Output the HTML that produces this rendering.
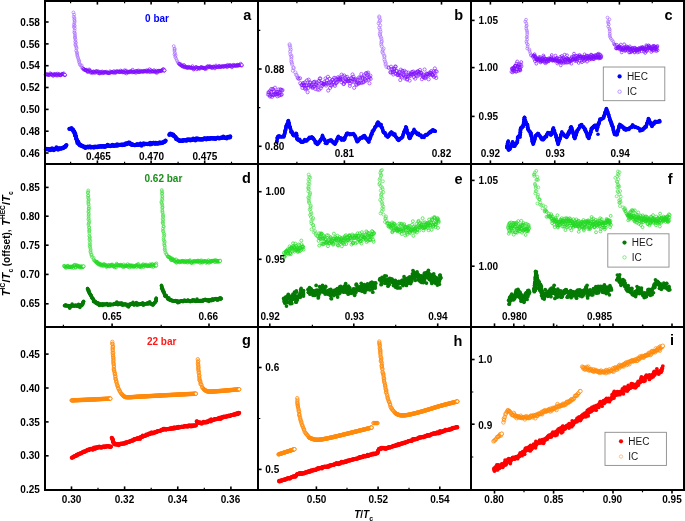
<!DOCTYPE html>
<html><head><meta charset="utf-8"><title>Figure</title>
<style>html,body{margin:0;padding:0;background:#fff;width:685px;height:521px;overflow:hidden}
svg{display:block;font-family:"Liberation Sans",sans-serif}</style></head>
<body><svg width="685" height="521" viewBox="0 0 685 521" font-family="Liberation Sans, sans-serif"><g fill="none" stroke="#7f0dff" stroke-width="0.7"><circle cx="45.6" cy="74.76" r="1.45"/><circle cx="46.36" cy="74.2" r="1.45"/><circle cx="46.87" cy="74.28" r="1.45"/><circle cx="47.38" cy="74.73" r="1.45"/><circle cx="47.89" cy="74.62" r="1.45"/><circle cx="48.39" cy="74.59" r="1.45"/><circle cx="48.9" cy="75.07" r="1.45"/><circle cx="49.66" cy="74.84" r="1.45"/><circle cx="50.17" cy="73.28" r="1.45"/><circle cx="50.68" cy="74.18" r="1.45"/><circle cx="51.19" cy="74.49" r="1.45"/><circle cx="51.7" cy="74.08" r="1.45"/><circle cx="52.21" cy="74.82" r="1.45"/><circle cx="52.97" cy="75.76" r="1.45"/><circle cx="53.48" cy="75.41" r="1.45"/><circle cx="53.98" cy="74.06" r="1.45"/><circle cx="54.49" cy="74.51" r="1.45"/><circle cx="55" cy="74.77" r="1.45"/><circle cx="55.5" cy="73.94" r="1.45"/><circle cx="56.25" cy="75.48" r="1.45"/><circle cx="56.75" cy="74.81" r="1.45"/><circle cx="57.25" cy="73.6" r="1.45"/><circle cx="57.75" cy="75.57" r="1.45"/><circle cx="58.25" cy="74.44" r="1.45"/><circle cx="59" cy="74.11" r="1.45"/><circle cx="59.5" cy="74.65" r="1.45"/><circle cx="60" cy="75.28" r="1.45"/><circle cx="60.5" cy="75.37" r="1.45"/><circle cx="61" cy="74.97" r="1.45"/><circle cx="61.75" cy="73.83" r="1.45"/><circle cx="62.25" cy="74.32" r="1.45"/><circle cx="62.75" cy="73.87" r="1.45"/><circle cx="63.25" cy="74.39" r="1.45"/><circle cx="63.75" cy="73.35" r="1.45"/><circle cx="64.5" cy="74.96" r="1.45"/><circle cx="65" cy="75.2" r="1.45"/></g><circle cx="65" cy="74.8" r="1.45" fill="#fff" stroke="#7f0dff" stroke-width="0.7"/><g fill="none" stroke="#a465ff" stroke-width="0.65"><circle cx="73.43" cy="12.44" r="1.45"/><circle cx="74.16" cy="14.58" r="1.45"/><circle cx="73.77" cy="16.67" r="1.45"/><circle cx="74.49" cy="18.07" r="1.45"/><circle cx="74.29" cy="19.77" r="1.45"/><circle cx="74.73" cy="21.16" r="1.45"/><circle cx="74.47" cy="22.8" r="1.45"/><circle cx="73.9" cy="24.65" r="1.45"/><circle cx="74.71" cy="25.77" r="1.45"/><circle cx="73.89" cy="27.09" r="1.45"/><circle cx="74.8" cy="28.38" r="1.45"/><circle cx="74.56" cy="30.57" r="1.45"/><circle cx="74.3" cy="32.34" r="1.45"/><circle cx="74.96" cy="33.44" r="1.45"/><circle cx="75" cy="35.33" r="1.45"/><circle cx="75.05" cy="36.89" r="1.45"/><circle cx="74.95" cy="38.1" r="1.45"/><circle cx="75.59" cy="39.71" r="1.45"/><circle cx="75.14" cy="41.55" r="1.45"/><circle cx="75.98" cy="42.7" r="1.45"/><circle cx="75.27" cy="44.36" r="1.45"/><circle cx="75.76" cy="45.61" r="1.45"/><circle cx="76.4" cy="47.09" r="1.45"/><circle cx="76.53" cy="48.51" r="1.45"/><circle cx="76.14" cy="50.7" r="1.45"/><circle cx="76.96" cy="52.25" r="1.45"/><circle cx="77.01" cy="53.53" r="1.45"/><circle cx="77.26" cy="55.06" r="1.45"/><circle cx="77.53" cy="56.56" r="1.45"/><circle cx="78.11" cy="58.02" r="1.45"/><circle cx="78.56" cy="59.78" r="1.45"/><circle cx="79.31" cy="61.07" r="1.45"/><circle cx="79.07" cy="62.39" r="1.45"/><circle cx="79.8" cy="64.24" r="1.45"/><circle cx="80.37" cy="65.32" r="1.45"/><circle cx="81.72" cy="65.41" r="1.45"/><circle cx="81.77" cy="67.43" r="1.45"/></g><g fill="none" stroke="#7f0dff" stroke-width="0.7"><circle cx="82.81" cy="68.3" r="1.45"/><circle cx="83.53" cy="69.34" r="1.45"/><circle cx="84.02" cy="68.97" r="1.45"/><circle cx="84.86" cy="70.1" r="1.45"/><circle cx="85.29" cy="70.01" r="1.45"/><circle cx="85.75" cy="70.24" r="1.45"/><circle cx="85.99" cy="70.03" r="1.45"/><circle cx="86.5" cy="69.74" r="1.45"/><circle cx="87.06" cy="71.4" r="1.45"/><circle cx="87.67" cy="71.95" r="1.45"/><circle cx="88.3" cy="70.84" r="1.45"/><circle cx="88.61" cy="71.62" r="1.45"/><circle cx="89.12" cy="69.49" r="1.45"/><circle cx="89.61" cy="70.54" r="1.45"/><circle cx="90.19" cy="70.68" r="1.45"/><circle cx="90.68" cy="72.67" r="1.45"/><circle cx="91.25" cy="72.06" r="1.45"/><circle cx="91.91" cy="72.12" r="1.45"/><circle cx="92.45" cy="73.13" r="1.45"/><circle cx="92.98" cy="71.9" r="1.45"/><circle cx="93.49" cy="71.33" r="1.45"/><circle cx="94" cy="71.97" r="1.45"/><circle cx="94.5" cy="72.67" r="1.45"/><circle cx="95.28" cy="72.65" r="1.45"/><circle cx="95.84" cy="71.16" r="1.45"/><circle cx="96.39" cy="71.55" r="1.45"/><circle cx="96.95" cy="71.2" r="1.45"/><circle cx="97.49" cy="72.76" r="1.45"/><circle cx="98.02" cy="71.58" r="1.45"/><circle cx="98.55" cy="71.44" r="1.45"/><circle cx="99.08" cy="73.35" r="1.45"/><circle cx="99.6" cy="73.33" r="1.45"/><circle cx="100.14" cy="72.12" r="1.45"/><circle cx="100.68" cy="73.22" r="1.45"/><circle cx="101.22" cy="71.81" r="1.45"/><circle cx="101.76" cy="72.51" r="1.45"/><circle cx="102.3" cy="71.51" r="1.45"/><circle cx="102.84" cy="73.26" r="1.45"/><circle cx="103.37" cy="72.09" r="1.45"/><circle cx="103.91" cy="72.92" r="1.45"/><circle cx="104.45" cy="72.28" r="1.45"/><circle cx="104.99" cy="72.01" r="1.45"/><circle cx="105.52" cy="71.91" r="1.45"/><circle cx="106.06" cy="72.75" r="1.45"/><circle cx="106.59" cy="71.74" r="1.45"/><circle cx="107.37" cy="72.73" r="1.45"/><circle cx="107.9" cy="73.07" r="1.45"/><circle cx="108.42" cy="72.86" r="1.45"/><circle cx="108.94" cy="73.25" r="1.45"/><circle cx="109.47" cy="72.73" r="1.45"/><circle cx="109.97" cy="71.35" r="1.45"/><circle cx="110.47" cy="72.84" r="1.45"/><circle cx="111.22" cy="72.07" r="1.45"/><circle cx="111.72" cy="72.05" r="1.45"/><circle cx="112.22" cy="72.22" r="1.45"/><circle cx="112.73" cy="72.08" r="1.45"/><circle cx="113.23" cy="72.74" r="1.45"/><circle cx="113.73" cy="71.15" r="1.45"/><circle cx="114.49" cy="72.77" r="1.45"/><circle cx="115" cy="71.58" r="1.45"/><circle cx="115.5" cy="72.55" r="1.45"/><circle cx="116.01" cy="72.55" r="1.45"/><circle cx="116.51" cy="71.15" r="1.45"/><circle cx="117.05" cy="71.51" r="1.45"/><circle cx="117.59" cy="71.55" r="1.45"/><circle cx="118.39" cy="71.39" r="1.45"/><circle cx="118.93" cy="71.84" r="1.45"/><circle cx="119.46" cy="72.17" r="1.45"/><circle cx="120" cy="72.13" r="1.45"/><circle cx="120.52" cy="70.53" r="1.45"/><circle cx="121.03" cy="71.69" r="1.45"/><circle cx="121.55" cy="71.25" r="1.45"/><circle cx="122.07" cy="71.54" r="1.45"/><circle cx="122.58" cy="72.37" r="1.45"/><circle cx="123.1" cy="72.06" r="1.45"/><circle cx="123.88" cy="72.28" r="1.45"/><circle cx="124.4" cy="70.35" r="1.45"/><circle cx="124.92" cy="72.71" r="1.45"/><circle cx="125.43" cy="71.45" r="1.45"/><circle cx="125.95" cy="70.54" r="1.45"/><circle cx="126.47" cy="73.45" r="1.45"/><circle cx="126.99" cy="72.23" r="1.45"/><circle cx="127.51" cy="71.65" r="1.45"/><circle cx="128.27" cy="72.35" r="1.45"/><circle cx="128.78" cy="71.64" r="1.45"/><circle cx="129.29" cy="72.27" r="1.45"/><circle cx="129.79" cy="71.54" r="1.45"/><circle cx="130.3" cy="71.41" r="1.45"/><circle cx="130.8" cy="71.72" r="1.45"/><circle cx="131.56" cy="71.04" r="1.45"/><circle cx="132.08" cy="72.42" r="1.45"/><circle cx="132.59" cy="69.79" r="1.45"/><circle cx="133.1" cy="71.93" r="1.45"/><circle cx="133.61" cy="71.88" r="1.45"/><circle cx="134.12" cy="71.93" r="1.45"/><circle cx="134.63" cy="72.28" r="1.45"/><circle cx="135.4" cy="71.04" r="1.45"/><circle cx="135.91" cy="72.78" r="1.45"/><circle cx="136.41" cy="71.04" r="1.45"/><circle cx="136.91" cy="71.62" r="1.45"/><circle cx="137.41" cy="70.79" r="1.45"/><circle cx="138.16" cy="72.18" r="1.45"/><circle cx="138.66" cy="70.5" r="1.45"/><circle cx="139.16" cy="72.12" r="1.45"/><circle cx="139.67" cy="71.98" r="1.45"/><circle cx="140.17" cy="71.58" r="1.45"/><circle cx="140.68" cy="70.86" r="1.45"/><circle cx="141.44" cy="71.73" r="1.45"/><circle cx="141.95" cy="71.26" r="1.45"/><circle cx="142.46" cy="71.6" r="1.45"/><circle cx="142.97" cy="71.47" r="1.45"/><circle cx="143.47" cy="71.86" r="1.45"/><circle cx="144.01" cy="70.71" r="1.45"/><circle cx="144.54" cy="71.27" r="1.45"/><circle cx="145.08" cy="71.37" r="1.45"/><circle cx="145.89" cy="71.35" r="1.45"/><circle cx="146.42" cy="70.33" r="1.45"/><circle cx="146.96" cy="71.94" r="1.45"/><circle cx="147.46" cy="71.05" r="1.45"/><circle cx="147.97" cy="70.49" r="1.45"/><circle cx="148.48" cy="71.19" r="1.45"/><circle cx="148.99" cy="71.65" r="1.45"/><circle cx="149.49" cy="69.28" r="1.45"/><circle cx="150.27" cy="72.19" r="1.45"/><circle cx="150.8" cy="70.11" r="1.45"/><circle cx="151.33" cy="71.42" r="1.45"/><circle cx="151.86" cy="71.16" r="1.45"/><circle cx="152.39" cy="71.51" r="1.45"/><circle cx="152.92" cy="71.41" r="1.45"/><circle cx="153.45" cy="71.65" r="1.45"/><circle cx="153.99" cy="70.19" r="1.45"/><circle cx="154.52" cy="71.43" r="1.45"/><circle cx="155.05" cy="71.65" r="1.45"/><circle cx="155.59" cy="71.51" r="1.45"/><circle cx="156.13" cy="72.63" r="1.45"/><circle cx="156.67" cy="70.67" r="1.45"/><circle cx="157.21" cy="72.62" r="1.45"/><circle cx="157.76" cy="71.38" r="1.45"/><circle cx="158.3" cy="70.75" r="1.45"/><circle cx="158.85" cy="70.85" r="1.45"/><circle cx="159.41" cy="71.48" r="1.45"/><circle cx="159.97" cy="70.67" r="1.45"/><circle cx="160.53" cy="71" r="1.45"/><circle cx="161.1" cy="70.63" r="1.45"/><circle cx="161.68" cy="71.04" r="1.45"/><circle cx="162.26" cy="70.08" r="1.45"/><circle cx="162.87" cy="69.46" r="1.45"/><circle cx="163.49" cy="69.05" r="1.45"/><circle cx="163.99" cy="70.82" r="1.45"/><circle cx="164.5" cy="70.36" r="1.45"/></g><circle cx="164.5" cy="70.4" r="1.45" fill="#fff" stroke="#7f0dff" stroke-width="0.7"/><g fill="none" stroke="#a465ff" stroke-width="0.65"><circle cx="173.73" cy="46.17" r="1.45"/><circle cx="174.61" cy="48.61" r="1.45"/><circle cx="174.59" cy="49.47" r="1.45"/><circle cx="174.48" cy="50.92" r="1.45"/><circle cx="174.99" cy="53.04" r="1.45"/><circle cx="174.5" cy="54.37" r="1.45"/><circle cx="175.6" cy="55.36" r="1.45"/><circle cx="175.23" cy="57.01" r="1.45"/><circle cx="176.11" cy="58.55" r="1.45"/><circle cx="176.83" cy="60.35" r="1.45"/><circle cx="177.7" cy="61.99" r="1.45"/><circle cx="178.57" cy="63.33" r="1.45"/></g><g fill="none" stroke="#7f0dff" stroke-width="0.7"><circle cx="178.97" cy="63.79" r="1.45"/><circle cx="179.82" cy="64.06" r="1.45"/><circle cx="180.29" cy="65" r="1.45"/><circle cx="181.09" cy="64.44" r="1.45"/><circle cx="181.5" cy="65.78" r="1.45"/><circle cx="181.9" cy="65.82" r="1.45"/><circle cx="182.3" cy="65.71" r="1.45"/><circle cx="182.71" cy="66.69" r="1.45"/><circle cx="183.56" cy="66.31" r="1.45"/><circle cx="184.01" cy="65.03" r="1.45"/><circle cx="184.49" cy="67.1" r="1.45"/><circle cx="184.74" cy="67.28" r="1.45"/><circle cx="185.26" cy="66.29" r="1.45"/><circle cx="186.03" cy="67.2" r="1.45"/><circle cx="186.55" cy="67.94" r="1.45"/><circle cx="187.09" cy="67" r="1.45"/><circle cx="187.69" cy="67.62" r="1.45"/><circle cx="188.03" cy="67.9" r="1.45"/><circle cx="188.62" cy="66.79" r="1.45"/><circle cx="189.13" cy="67.25" r="1.45"/><circle cx="189.71" cy="67.71" r="1.45"/><circle cx="190.31" cy="67.88" r="1.45"/><circle cx="190.94" cy="67.54" r="1.45"/><circle cx="191.27" cy="67.61" r="1.45"/><circle cx="191.91" cy="67.93" r="1.45"/><circle cx="192.43" cy="66.19" r="1.45"/><circle cx="192.94" cy="68.03" r="1.45"/><circle cx="193.5" cy="69.49" r="1.45"/><circle cx="194.06" cy="68.75" r="1.45"/><circle cx="194.68" cy="68.51" r="1.45"/><circle cx="195.3" cy="67.73" r="1.45"/><circle cx="195.85" cy="67.07" r="1.45"/><circle cx="196.4" cy="67.11" r="1.45"/><circle cx="196.94" cy="69.29" r="1.45"/><circle cx="197.46" cy="67.8" r="1.45"/><circle cx="197.98" cy="67.79" r="1.45"/><circle cx="198.49" cy="67.94" r="1.45"/><circle cx="198.99" cy="68.23" r="1.45"/><circle cx="199.5" cy="68.95" r="1.45"/><circle cx="200.25" cy="67.7" r="1.45"/><circle cx="200.75" cy="67.37" r="1.45"/><circle cx="201.26" cy="67.15" r="1.45"/><circle cx="201.76" cy="67.29" r="1.45"/><circle cx="202.29" cy="68.1" r="1.45"/><circle cx="202.85" cy="67.57" r="1.45"/><circle cx="203.41" cy="68.12" r="1.45"/><circle cx="203.97" cy="67.74" r="1.45"/><circle cx="204.53" cy="68.29" r="1.45"/><circle cx="205.07" cy="69.06" r="1.45"/><circle cx="205.61" cy="67.99" r="1.45"/><circle cx="206.15" cy="67.38" r="1.45"/><circle cx="206.69" cy="68.63" r="1.45"/><circle cx="207.2" cy="66.5" r="1.45"/><circle cx="207.98" cy="66.18" r="1.45"/><circle cx="208.49" cy="66.96" r="1.45"/><circle cx="209.01" cy="67.04" r="1.45"/><circle cx="209.53" cy="66.47" r="1.45"/><circle cx="210.06" cy="66.19" r="1.45"/><circle cx="210.6" cy="67.38" r="1.45"/><circle cx="211.13" cy="66.98" r="1.45"/><circle cx="211.66" cy="67.22" r="1.45"/><circle cx="212.2" cy="68.17" r="1.45"/><circle cx="212.74" cy="66.96" r="1.45"/><circle cx="213.28" cy="66.52" r="1.45"/><circle cx="213.83" cy="66.73" r="1.45"/><circle cx="214.37" cy="67.31" r="1.45"/><circle cx="214.91" cy="68.39" r="1.45"/><circle cx="215.45" cy="66.89" r="1.45"/><circle cx="215.99" cy="65.54" r="1.45"/><circle cx="216.53" cy="66.94" r="1.45"/><circle cx="217.07" cy="67.07" r="1.45"/><circle cx="217.88" cy="66.99" r="1.45"/><circle cx="218.41" cy="67.24" r="1.45"/><circle cx="218.94" cy="66.05" r="1.45"/><circle cx="219.47" cy="65.91" r="1.45"/><circle cx="220" cy="67.04" r="1.45"/><circle cx="220.51" cy="67.01" r="1.45"/><circle cx="221.01" cy="66.75" r="1.45"/><circle cx="221.52" cy="66.42" r="1.45"/><circle cx="222.03" cy="66.44" r="1.45"/><circle cx="222.79" cy="66.04" r="1.45"/><circle cx="223.3" cy="66.9" r="1.45"/><circle cx="223.8" cy="66.79" r="1.45"/><circle cx="224.31" cy="65.92" r="1.45"/><circle cx="224.82" cy="66.16" r="1.45"/><circle cx="225.33" cy="66.46" r="1.45"/><circle cx="226.1" cy="65.7" r="1.45"/><circle cx="226.63" cy="66.13" r="1.45"/><circle cx="227.15" cy="67.11" r="1.45"/><circle cx="227.68" cy="64.84" r="1.45"/><circle cx="228.21" cy="65.93" r="1.45"/><circle cx="228.74" cy="66.24" r="1.45"/><circle cx="229.26" cy="65.8" r="1.45"/><circle cx="229.79" cy="65.51" r="1.45"/><circle cx="230.31" cy="64.92" r="1.45"/><circle cx="230.84" cy="66.06" r="1.45"/><circle cx="231.36" cy="66.09" r="1.45"/><circle cx="231.89" cy="67.31" r="1.45"/><circle cx="232.65" cy="65.22" r="1.45"/><circle cx="233.15" cy="66.04" r="1.45"/><circle cx="233.65" cy="64.8" r="1.45"/><circle cx="234.15" cy="65.75" r="1.45"/><circle cx="234.64" cy="65.4" r="1.45"/><circle cx="235.41" cy="65.81" r="1.45"/><circle cx="235.95" cy="65.38" r="1.45"/><circle cx="236.49" cy="66.14" r="1.45"/><circle cx="237.03" cy="65.1" r="1.45"/><circle cx="237.57" cy="64.79" r="1.45"/><circle cx="238.09" cy="65.8" r="1.45"/><circle cx="238.6" cy="64.97" r="1.45"/><circle cx="239.1" cy="65.34" r="1.45"/><circle cx="239.6" cy="65.18" r="1.45"/><circle cx="240.39" cy="65.37" r="1.45"/><circle cx="240.67" cy="63.7" r="1.45"/><circle cx="241.24" cy="65.22" r="1.45"/><circle cx="241.8" cy="65.62" r="1.45"/></g><circle cx="241.8" cy="65" r="1.45" fill="#fff" stroke="#7f0dff" stroke-width="0.7"/><polyline points="46,149.4 46.71,149.37 47.67,149.34 48.82,149.3 50.08,149.25 51.4,149.2 52.7,149.14 53.92,149.07 55,149 55.97,148.92 56.93,148.84 57.85,148.75 58.74,148.65 59.57,148.55 60.35,148.44 61.06,148.32 61.7,148.2 62.24,148.07 62.69,147.95 63.07,147.81 63.39,147.67 63.68,147.53 63.95,147.37 64.21,147.19 64.5,147 64.8,146.77 65.1,146.51 65.4,146.22 65.67,145.93 65.93,145.64 66.16,145.38 66.35,145.16 66.5,145" fill="none" stroke="#0000ff" stroke-width="3.9" stroke-linecap="round" stroke-linejoin="round"/><g fill="#0000ff"><circle cx="45.95" cy="149.13" r="2.0"/><circle cx="46.79" cy="148.67" r="2.0"/><circle cx="47.26" cy="149.34" r="2.0"/><circle cx="48.27" cy="149.25" r="2.0"/><circle cx="48.86" cy="149" r="2.0"/><circle cx="49.56" cy="150.02" r="2.0"/><circle cx="50.06" cy="150.31" r="2.0"/><circle cx="50.77" cy="149.22" r="2.0"/><circle cx="51.63" cy="149.65" r="2.0"/><circle cx="52.05" cy="148.21" r="2.0"/><circle cx="53.12" cy="149.48" r="2.0"/><circle cx="53.82" cy="150.27" r="2.0"/><circle cx="54.43" cy="149.15" r="2.0"/><circle cx="55.28" cy="149.16" r="2.0"/><circle cx="56.12" cy="148.38" r="2.0"/><circle cx="56.41" cy="147.33" r="2.0"/><circle cx="57.35" cy="148.64" r="2.0"/><circle cx="58.06" cy="149.71" r="2.0"/><circle cx="58.57" cy="148.55" r="2.0"/><circle cx="59.17" cy="148.21" r="2.0"/><circle cx="59.84" cy="148.78" r="2.0"/><circle cx="60.66" cy="148.42" r="2.0"/><circle cx="61.31" cy="148.68" r="2.0"/><circle cx="62.13" cy="148.06" r="2.0"/><circle cx="62.84" cy="147.87" r="2.0"/><circle cx="63.13" cy="148.34" r="2.0"/><circle cx="64.06" cy="146.92" r="2.0"/><circle cx="64.77" cy="147.12" r="2.0"/><circle cx="64.78" cy="147.24" r="2.0"/><circle cx="65.65" cy="146.42" r="2.0"/><circle cx="66.09" cy="145.43" r="2.0"/><circle cx="66.19" cy="145.44" r="2.0"/></g><polyline points="69.4,128.9 69.66,128.93 70.01,128.94 70.42,128.95 70.88,128.98 71.35,129.04 71.82,129.13 72.24,129.28 72.6,129.5 72.9,129.78 73.16,130.11 73.4,130.49 73.62,130.91 73.84,131.38 74.05,131.88 74.27,132.42 74.5,133 74.75,133.64 74.99,134.36 75.24,135.13 75.49,135.94 75.75,136.75 76,137.55 76.25,138.3 76.5,139 76.74,139.65 76.95,140.27 77.16,140.87 77.38,141.45 77.6,142 77.86,142.53 78.15,143.03 78.5,143.5 78.88,143.94 79.26,144.36 79.67,144.76 80.12,145.12 80.61,145.46 81.16,145.77 81.79,146.05 82.5,146.3 83.25,146.52 84.02,146.71 84.83,146.88 85.71,147.01 86.7,147.11 87.83,147.18 89.11,147.21 90.6,147.2 92.38,147.13 94.47,146.99 96.77,146.81 99.18,146.59 101.61,146.37 103.95,146.15 106.12,145.95 108,145.8 109.62,145.69 111.07,145.6 112.38,145.53 113.59,145.48 114.72,145.42 115.81,145.36 116.9,145.29 118,145.2 119.13,145.1 120.25,144.99 121.34,144.88 122.41,144.76 123.42,144.64 124.36,144.5 125.23,144.36 126,144.2 126.66,144 127.21,143.75 127.69,143.48 128.09,143.2 128.46,142.95 128.8,142.75 129.14,142.62 129.5,142.6 129.82,142.71 130.07,142.94 130.27,143.25 130.47,143.61 130.7,143.98 131.01,144.33 131.43,144.61 132,144.8 132.7,144.9 133.47,144.95 134.33,144.95 135.28,144.93 136.32,144.87 137.45,144.79 138.68,144.7 140,144.6 141.52,144.47 143.27,144.3 145.18,144.09 147.15,143.88 149.1,143.66 150.95,143.47 152.61,143.31 154,143.2 155.11,143.16 156.03,143.17 156.79,143.21 157.43,143.28 157.99,143.35 158.52,143.4 159.04,143.43 159.6,143.4 160.18,143.33 160.74,143.23 161.27,143.11 161.77,142.97 162.25,142.82 162.7,142.65 163.12,142.48 163.5,142.3 163.85,142.1 164.18,141.86 164.48,141.6 164.74,141.33 164.98,141.07 165.19,140.84 165.36,140.64 165.5,140.5" fill="none" stroke="#0000ff" stroke-width="3.9" stroke-linecap="round" stroke-linejoin="round"/><g fill="#0000ff"><circle cx="69.41" cy="128.77" r="2.0"/><circle cx="70.17" cy="128.98" r="2.0"/><circle cx="70.93" cy="128.81" r="2.0"/><circle cx="71.48" cy="128.1" r="2.0"/><circle cx="72.08" cy="129.56" r="2.0"/><circle cx="73.01" cy="129.47" r="2.0"/><circle cx="73.17" cy="130.88" r="2.0"/><circle cx="73.48" cy="131.1" r="2.0"/><circle cx="74.18" cy="131.42" r="2.0"/><circle cx="74.36" cy="131.73" r="2.0"/><circle cx="74.42" cy="132.66" r="2.0"/><circle cx="74.66" cy="133.86" r="2.0"/><circle cx="75.35" cy="133.71" r="2.0"/><circle cx="74.98" cy="134.9" r="2.0"/><circle cx="75.1" cy="135.56" r="2.0"/><circle cx="75.63" cy="135.88" r="2.0"/><circle cx="75.83" cy="135.98" r="2.0"/><circle cx="76.09" cy="136.65" r="2.0"/><circle cx="76.01" cy="137.76" r="2.0"/><circle cx="76.3" cy="139.06" r="2.0"/><circle cx="76.64" cy="139.15" r="2.0"/><circle cx="76.96" cy="140.7" r="2.0"/><circle cx="77.09" cy="140.81" r="2.0"/><circle cx="77.57" cy="141.43" r="2.0"/><circle cx="77.33" cy="143.08" r="2.0"/><circle cx="78.33" cy="141.69" r="2.0"/><circle cx="78.26" cy="143.36" r="2.0"/><circle cx="78.89" cy="144.03" r="2.0"/><circle cx="79.1" cy="143.78" r="2.0"/><circle cx="79.68" cy="145.21" r="2.0"/><circle cx="79.98" cy="144.72" r="2.0"/><circle cx="80.78" cy="144.69" r="2.0"/><circle cx="81.36" cy="145.69" r="2.0"/><circle cx="82.15" cy="145.83" r="2.0"/><circle cx="82.55" cy="146.19" r="2.0"/><circle cx="83.39" cy="146.26" r="2.0"/><circle cx="84.08" cy="147.06" r="2.0"/><circle cx="85" cy="147.63" r="2.0"/><circle cx="85.3" cy="146.78" r="2.0"/><circle cx="85.65" cy="147.91" r="2.0"/><circle cx="86.7" cy="147.11" r="2.0"/><circle cx="87.65" cy="146.55" r="2.0"/><circle cx="88.34" cy="147.18" r="2.0"/><circle cx="88.58" cy="147.34" r="2.0"/><circle cx="89.88" cy="146.37" r="2.0"/><circle cx="90.5" cy="147.3" r="2.0"/><circle cx="91.14" cy="147.38" r="2.0"/><circle cx="92" cy="147.05" r="2.0"/><circle cx="92.62" cy="146.94" r="2.0"/><circle cx="93.28" cy="146.71" r="2.0"/><circle cx="93.82" cy="147.81" r="2.0"/><circle cx="94.63" cy="146.92" r="2.0"/><circle cx="95" cy="146.58" r="2.0"/><circle cx="95.97" cy="147.3" r="2.0"/><circle cx="96.71" cy="147.06" r="2.0"/><circle cx="97.32" cy="147.37" r="2.0"/><circle cx="97.95" cy="146.45" r="2.0"/><circle cx="98.9" cy="146.66" r="2.0"/><circle cx="99.36" cy="146.31" r="2.0"/><circle cx="100.06" cy="146.79" r="2.0"/><circle cx="100.88" cy="145.9" r="2.0"/><circle cx="101.59" cy="146.46" r="2.0"/><circle cx="102.01" cy="146.66" r="2.0"/><circle cx="102.85" cy="146.1" r="2.0"/><circle cx="103.76" cy="146.78" r="2.0"/><circle cx="104.16" cy="146.31" r="2.0"/><circle cx="104.82" cy="147.1" r="2.0"/><circle cx="105.59" cy="146.53" r="2.0"/><circle cx="106.26" cy="146.3" r="2.0"/><circle cx="107.53" cy="144.73" r="2.0"/><circle cx="107.7" cy="146.04" r="2.0"/><circle cx="108.46" cy="145.47" r="2.0"/><circle cx="109.61" cy="145.76" r="2.0"/><circle cx="109.55" cy="146.06" r="2.0"/><circle cx="110.23" cy="146.15" r="2.0"/><circle cx="111.16" cy="145.66" r="2.0"/><circle cx="112.23" cy="145.61" r="2.0"/><circle cx="112.4" cy="144.76" r="2.0"/><circle cx="113.61" cy="145.82" r="2.0"/><circle cx="113.91" cy="145.84" r="2.0"/><circle cx="114.87" cy="145.71" r="2.0"/><circle cx="115.02" cy="145.24" r="2.0"/><circle cx="116.35" cy="145.67" r="2.0"/><circle cx="117.05" cy="144.18" r="2.0"/><circle cx="117.6" cy="145.46" r="2.0"/><circle cx="118.77" cy="144.75" r="2.0"/><circle cx="118.9" cy="145.13" r="2.0"/><circle cx="119.84" cy="144.85" r="2.0"/><circle cx="120.58" cy="144.63" r="2.0"/><circle cx="121.1" cy="144.67" r="2.0"/><circle cx="121.78" cy="144.52" r="2.0"/><circle cx="122.12" cy="145.25" r="2.0"/><circle cx="123.2" cy="144.42" r="2.0"/><circle cx="123.87" cy="145.02" r="2.0"/><circle cx="124.33" cy="144.43" r="2.0"/><circle cx="125.32" cy="144.6" r="2.0"/><circle cx="125.83" cy="143.27" r="2.0"/><circle cx="126.82" cy="144.18" r="2.0"/><circle cx="127.22" cy="143.63" r="2.0"/><circle cx="127.87" cy="143.2" r="2.0"/><circle cx="128.19" cy="142.66" r="2.0"/><circle cx="128.89" cy="142.4" r="2.0"/><circle cx="129.46" cy="142.95" r="2.0"/><circle cx="129.93" cy="143.42" r="2.0"/><circle cx="130.34" cy="143.89" r="2.0"/><circle cx="131.24" cy="144.37" r="2.0"/><circle cx="131.41" cy="144.68" r="2.0"/><circle cx="132.26" cy="144.05" r="2.0"/><circle cx="132.8" cy="144.99" r="2.0"/><circle cx="133.53" cy="144.98" r="2.0"/><circle cx="134.47" cy="145.3" r="2.0"/><circle cx="135.2" cy="145.2" r="2.0"/><circle cx="135.66" cy="144.89" r="2.0"/><circle cx="136.37" cy="144.72" r="2.0"/><circle cx="137.08" cy="144.04" r="2.0"/><circle cx="137.75" cy="144.75" r="2.0"/><circle cx="138.32" cy="144.7" r="2.0"/><circle cx="139.32" cy="144.58" r="2.0"/><circle cx="140.33" cy="143.43" r="2.0"/><circle cx="140.57" cy="143.73" r="2.0"/><circle cx="141.5" cy="145.68" r="2.0"/><circle cx="141.5" cy="144.48" r="2.0"/><circle cx="142.8" cy="144.22" r="2.0"/><circle cx="143.51" cy="143.27" r="2.0"/><circle cx="144.26" cy="144.38" r="2.0"/><circle cx="144.79" cy="143.87" r="2.0"/><circle cx="145.61" cy="143.84" r="2.0"/><circle cx="146.22" cy="143.75" r="2.0"/><circle cx="146.43" cy="143.89" r="2.0"/><circle cx="147.61" cy="144.17" r="2.0"/><circle cx="148.09" cy="143.74" r="2.0"/><circle cx="149.09" cy="143.74" r="2.0"/><circle cx="149.91" cy="144.5" r="2.0"/><circle cx="150.17" cy="142.66" r="2.0"/><circle cx="151.22" cy="144.14" r="2.0"/><circle cx="151.93" cy="143.76" r="2.0"/><circle cx="152.32" cy="143" r="2.0"/><circle cx="153.32" cy="142.86" r="2.0"/><circle cx="153.48" cy="142.76" r="2.0"/><circle cx="155.04" cy="144.04" r="2.0"/><circle cx="155.1" cy="142.83" r="2.0"/><circle cx="155.99" cy="142.83" r="2.0"/><circle cx="156.9" cy="143.17" r="2.0"/><circle cx="157.12" cy="143.86" r="2.0"/><circle cx="157.91" cy="143.45" r="2.0"/><circle cx="158.73" cy="143.27" r="2.0"/><circle cx="159.49" cy="143.1" r="2.0"/><circle cx="159.75" cy="142.34" r="2.0"/><circle cx="160.56" cy="142.88" r="2.0"/><circle cx="161.49" cy="143.08" r="2.0"/><circle cx="162.27" cy="142.9" r="2.0"/><circle cx="162.66" cy="142.29" r="2.0"/><circle cx="163.03" cy="142.24" r="2.0"/><circle cx="164.15" cy="142.19" r="2.0"/><circle cx="164.56" cy="141.42" r="2.0"/><circle cx="165.25" cy="140.99" r="2.0"/><circle cx="165.65" cy="140.76" r="2.0"/></g><polyline points="169.3,134.5 169.48,134.44 169.71,134.33 169.98,134.2 170.29,134.06 170.63,133.95 170.98,133.89 171.34,133.9 171.7,134 172.06,134.2 172.43,134.49 172.81,134.84 173.21,135.24 173.62,135.68 174.06,136.13 174.51,136.57 175,137 175.5,137.45 175.99,137.96 176.5,138.49 177.04,139.02 177.61,139.53 178.24,139.98 178.93,140.35 179.7,140.6 180.55,140.73 181.48,140.75 182.47,140.69 183.52,140.57 184.6,140.42 185.72,140.26 186.86,140.11 188,140 189.12,139.92 190.22,139.84 191.32,139.76 192.46,139.68 193.66,139.59 194.97,139.5 196.4,139.4 198,139.3 199.8,139.19 201.8,139.08 203.94,138.96 206.17,138.84 208.44,138.71 210.71,138.58 212.91,138.44 215,138.3 217.1,138.14 219.3,137.97 221.53,137.78 223.71,137.59 225.76,137.41 227.59,137.24 229.13,137.1 230.3,137" fill="none" stroke="#0000ff" stroke-width="3.9" stroke-linecap="round" stroke-linejoin="round"/><g fill="#0000ff"><circle cx="169.34" cy="135.09" r="2.0"/><circle cx="169.82" cy="134.06" r="2.0"/><circle cx="170.43" cy="133.61" r="2.0"/><circle cx="171.6" cy="134.69" r="2.0"/><circle cx="171.94" cy="134.39" r="2.0"/><circle cx="172.73" cy="134.91" r="2.0"/><circle cx="173.24" cy="134.47" r="2.0"/><circle cx="173.36" cy="135.74" r="2.0"/><circle cx="174.26" cy="136.09" r="2.0"/><circle cx="174.3" cy="136.37" r="2.0"/><circle cx="174.86" cy="136.61" r="2.0"/><circle cx="175.81" cy="137.19" r="2.0"/><circle cx="176.01" cy="138.94" r="2.0"/><circle cx="176.72" cy="138.63" r="2.0"/><circle cx="176.86" cy="139.15" r="2.0"/><circle cx="177.83" cy="139.72" r="2.0"/><circle cx="178.32" cy="139.9" r="2.0"/><circle cx="178.77" cy="140.12" r="2.0"/><circle cx="179.4" cy="141.06" r="2.0"/><circle cx="179.7" cy="140.61" r="2.0"/><circle cx="180.73" cy="140.47" r="2.0"/><circle cx="181.32" cy="141.1" r="2.0"/><circle cx="182.48" cy="140.99" r="2.0"/><circle cx="182.84" cy="139.95" r="2.0"/><circle cx="183.86" cy="140.61" r="2.0"/><circle cx="184.16" cy="139.97" r="2.0"/><circle cx="184.85" cy="139.89" r="2.0"/><circle cx="185.57" cy="140.49" r="2.0"/><circle cx="186.25" cy="140.31" r="2.0"/><circle cx="186.77" cy="140.74" r="2.0"/><circle cx="187.51" cy="139.22" r="2.0"/><circle cx="188.3" cy="139.63" r="2.0"/><circle cx="188.83" cy="139.77" r="2.0"/><circle cx="189.79" cy="139.34" r="2.0"/><circle cx="190.4" cy="140.47" r="2.0"/><circle cx="191.26" cy="139.7" r="2.0"/><circle cx="191.85" cy="139.67" r="2.0"/><circle cx="192.51" cy="140" r="2.0"/><circle cx="193.2" cy="138.54" r="2.0"/><circle cx="193.92" cy="139.17" r="2.0"/><circle cx="194.75" cy="139.25" r="2.0"/><circle cx="195.35" cy="140.45" r="2.0"/><circle cx="195.81" cy="138.92" r="2.0"/><circle cx="196.43" cy="138.3" r="2.0"/><circle cx="197.04" cy="139.5" r="2.0"/><circle cx="197.98" cy="138.45" r="2.0"/><circle cx="198.51" cy="139.53" r="2.0"/><circle cx="199.35" cy="139.04" r="2.0"/><circle cx="200.27" cy="139.78" r="2.0"/><circle cx="201.29" cy="139.59" r="2.0"/><circle cx="201.63" cy="139.17" r="2.0"/><circle cx="202.66" cy="139.69" r="2.0"/><circle cx="202.94" cy="139.22" r="2.0"/><circle cx="203.76" cy="139" r="2.0"/><circle cx="204.3" cy="138.34" r="2.0"/><circle cx="204.99" cy="138.2" r="2.0"/><circle cx="206.04" cy="139.1" r="2.0"/><circle cx="206.26" cy="139.45" r="2.0"/><circle cx="207.38" cy="137.92" r="2.0"/><circle cx="208.26" cy="139.11" r="2.0"/><circle cx="209.01" cy="138.15" r="2.0"/><circle cx="209.4" cy="138.85" r="2.0"/><circle cx="210.03" cy="138.7" r="2.0"/><circle cx="210.9" cy="137.91" r="2.0"/><circle cx="211.14" cy="137.91" r="2.0"/><circle cx="211.98" cy="138.22" r="2.0"/><circle cx="212.86" cy="138.57" r="2.0"/><circle cx="213.49" cy="138.1" r="2.0"/><circle cx="214.1" cy="138.78" r="2.0"/><circle cx="215.04" cy="138.35" r="2.0"/><circle cx="215.52" cy="138.96" r="2.0"/><circle cx="216.16" cy="138.5" r="2.0"/><circle cx="217.21" cy="138.03" r="2.0"/><circle cx="217.84" cy="137.59" r="2.0"/><circle cx="218.57" cy="138.13" r="2.0"/><circle cx="218.75" cy="138.29" r="2.0"/><circle cx="219.59" cy="138.5" r="2.0"/><circle cx="220.33" cy="137.79" r="2.0"/><circle cx="221.22" cy="137.66" r="2.0"/><circle cx="221.91" cy="137.5" r="2.0"/><circle cx="222.69" cy="137.69" r="2.0"/><circle cx="223.3" cy="136.39" r="2.0"/><circle cx="224.18" cy="137.58" r="2.0"/><circle cx="224.29" cy="137.55" r="2.0"/><circle cx="225.44" cy="137.92" r="2.0"/><circle cx="225.83" cy="138.08" r="2.0"/><circle cx="226.71" cy="138.39" r="2.0"/><circle cx="227.41" cy="137.56" r="2.0"/><circle cx="228.06" cy="136.69" r="2.0"/><circle cx="229.05" cy="137.54" r="2.0"/><circle cx="229.84" cy="137.45" r="2.0"/><circle cx="230.11" cy="136.26" r="2.0"/><circle cx="230.17" cy="136.7" r="2.0"/></g><g fill="none" stroke="#7f0dff" stroke-width="0.6"><circle cx="268" cy="94.51" r="1.6"/><circle cx="268.5" cy="92.26" r="1.6"/><circle cx="269" cy="92.55" r="1.6"/><circle cx="269.25" cy="94.87" r="1.6"/><circle cx="269.75" cy="91.09" r="1.6"/><circle cx="270" cy="96.57" r="1.6"/><circle cx="270.5" cy="95.7" r="1.6"/><circle cx="271" cy="91.93" r="1.6"/><circle cx="271.25" cy="89.02" r="1.6"/><circle cx="271.75" cy="94.62" r="1.6"/><circle cx="272" cy="96.86" r="1.6"/><circle cx="272.5" cy="89.04" r="1.6"/><circle cx="273" cy="95.09" r="1.6"/><circle cx="273.25" cy="89.24" r="1.6"/><circle cx="273.75" cy="94.65" r="1.6"/><circle cx="274" cy="91.31" r="1.6"/><circle cx="274.5" cy="94.59" r="1.6"/><circle cx="275" cy="87.71" r="1.6"/><circle cx="275.25" cy="93.73" r="1.6"/><circle cx="275.75" cy="94.76" r="1.6"/><circle cx="276" cy="92.22" r="1.6"/><circle cx="276.5" cy="93.89" r="1.6"/><circle cx="277" cy="91.71" r="1.6"/><circle cx="277.25" cy="96.33" r="1.6"/><circle cx="277.75" cy="93.84" r="1.6"/><circle cx="278" cy="91.83" r="1.6"/><circle cx="278.5" cy="89.5" r="1.6"/><circle cx="279" cy="95.73" r="1.6"/><circle cx="279.25" cy="93.32" r="1.6"/><circle cx="279.75" cy="92.62" r="1.6"/><circle cx="280" cy="94.89" r="1.6"/><circle cx="280.5" cy="89.26" r="1.6"/><circle cx="281" cy="89.96" r="1.6"/><circle cx="281.25" cy="94.83" r="1.6"/><circle cx="281.75" cy="94.46" r="1.6"/><circle cx="282" cy="90.53" r="1.6"/><circle cx="282.5" cy="90.06" r="1.6"/></g><g fill="none" stroke="#a465ff" stroke-width="0.6"><circle cx="289.58" cy="44.3" r="1.6"/><circle cx="289.84" cy="45.59" r="1.6"/><circle cx="290.27" cy="47.66" r="1.6"/><circle cx="290.75" cy="49.64" r="1.6"/><circle cx="290.13" cy="51.54" r="1.6"/><circle cx="290.43" cy="54.24" r="1.6"/><circle cx="291.38" cy="55.9" r="1.6"/><circle cx="291.42" cy="57.19" r="1.6"/><circle cx="291.29" cy="59.31" r="1.6"/><circle cx="291.39" cy="61.47" r="1.6"/><circle cx="291.84" cy="62.87" r="1.6"/><circle cx="292.13" cy="64.51" r="1.6"/><circle cx="293.4" cy="67.34" r="1.6"/><circle cx="293.65" cy="68.32" r="1.6"/><circle cx="292.87" cy="70.73" r="1.6"/><circle cx="295.4" cy="72.4" r="1.6"/><circle cx="296.02" cy="74.58" r="1.6"/><circle cx="296.96" cy="75.5" r="1.6"/><circle cx="297.76" cy="77.89" r="1.6"/><circle cx="297.68" cy="77.52" r="1.6"/></g><g fill="none" stroke="#7f0dff" stroke-width="0.6"><circle cx="298.62" cy="78.83" r="1.6"/><circle cx="300.02" cy="78.29" r="1.6"/><circle cx="300.29" cy="83.18" r="1.6"/><circle cx="301.54" cy="85.07" r="1.6"/><circle cx="302.02" cy="84.96" r="1.6"/><circle cx="302.4" cy="87.88" r="1.6"/><circle cx="302.78" cy="83.18" r="1.6"/><circle cx="303.23" cy="85.62" r="1.6"/><circle cx="303.68" cy="83.13" r="1.6"/><circle cx="303.9" cy="85.22" r="1.6"/><circle cx="304.35" cy="85.13" r="1.6"/><circle cx="304.82" cy="88.36" r="1.6"/><circle cx="305.05" cy="82.26" r="1.6"/><circle cx="305.56" cy="89.13" r="1.6"/><circle cx="306.09" cy="85.35" r="1.6"/><circle cx="306.38" cy="87.92" r="1.6"/><circle cx="306.98" cy="80.38" r="1.6"/><circle cx="307.3" cy="85.16" r="1.6"/><circle cx="307.62" cy="92.15" r="1.6"/><circle cx="308.17" cy="88.01" r="1.6"/><circle cx="308.72" cy="79.68" r="1.6"/><circle cx="308.98" cy="85.21" r="1.6"/><circle cx="309.49" cy="84.29" r="1.6"/><circle cx="310" cy="82.37" r="1.6"/><circle cx="310.3" cy="82.89" r="1.6"/><circle cx="310.9" cy="86.42" r="1.6"/><circle cx="311.19" cy="85.67" r="1.6"/><circle cx="311.77" cy="84.89" r="1.6"/><circle cx="312.34" cy="86.99" r="1.6"/><circle cx="312.62" cy="88.02" r="1.6"/><circle cx="313.19" cy="86.6" r="1.6"/><circle cx="313.45" cy="82.33" r="1.6"/><circle cx="313.98" cy="82.14" r="1.6"/><circle cx="314.51" cy="86.62" r="1.6"/><circle cx="314.77" cy="81.7" r="1.6"/><circle cx="315.32" cy="88.95" r="1.6"/><circle cx="315.88" cy="84.14" r="1.6"/><circle cx="316.16" cy="85.04" r="1.6"/><circle cx="316.72" cy="82.56" r="1.6"/><circle cx="317" cy="85.42" r="1.6"/><circle cx="317.51" cy="89.53" r="1.6"/><circle cx="318.01" cy="85.73" r="1.6"/><circle cx="318.52" cy="81.25" r="1.6"/><circle cx="319.02" cy="89.7" r="1.6"/><circle cx="319.28" cy="80.88" r="1.6"/><circle cx="319.79" cy="78.58" r="1.6"/><circle cx="320.3" cy="78.49" r="1.6"/><circle cx="320.81" cy="88.35" r="1.6"/><circle cx="321.06" cy="83.02" r="1.6"/><circle cx="321.56" cy="86.24" r="1.6"/><circle cx="322.07" cy="83.05" r="1.6"/><circle cx="322.57" cy="85.42" r="1.6"/><circle cx="322.82" cy="83.8" r="1.6"/><circle cx="323.35" cy="84.04" r="1.6"/><circle cx="323.9" cy="83.82" r="1.6"/><circle cx="324.17" cy="82.13" r="1.6"/><circle cx="324.72" cy="83.77" r="1.6"/><circle cx="325.27" cy="84.24" r="1.6"/><circle cx="325.54" cy="78.48" r="1.6"/><circle cx="326.07" cy="85.58" r="1.6"/><circle cx="326.61" cy="83.01" r="1.6"/><circle cx="326.88" cy="80.04" r="1.6"/><circle cx="327.41" cy="83.93" r="1.6"/><circle cx="327.95" cy="76.79" r="1.6"/><circle cx="328.21" cy="90.51" r="1.6"/><circle cx="328.75" cy="82.78" r="1.6"/><circle cx="329.29" cy="82.46" r="1.6"/><circle cx="329.55" cy="78.78" r="1.6"/><circle cx="330.09" cy="87.88" r="1.6"/><circle cx="330.62" cy="85.28" r="1.6"/><circle cx="330.89" cy="81.88" r="1.6"/><circle cx="331.43" cy="85.73" r="1.6"/><circle cx="331.96" cy="84.32" r="1.6"/><circle cx="332.23" cy="80.28" r="1.6"/><circle cx="332.77" cy="79.72" r="1.6"/><circle cx="333.3" cy="82.28" r="1.6"/><circle cx="333.57" cy="81.96" r="1.6"/><circle cx="334.11" cy="77.82" r="1.6"/><circle cx="334.64" cy="84.42" r="1.6"/><circle cx="334.91" cy="85.89" r="1.6"/><circle cx="335.45" cy="78.08" r="1.6"/><circle cx="335.98" cy="83.13" r="1.6"/><circle cx="336.25" cy="79.41" r="1.6"/><circle cx="336.79" cy="82.6" r="1.6"/><circle cx="337.32" cy="81.82" r="1.6"/><circle cx="337.59" cy="79.76" r="1.6"/><circle cx="338.12" cy="77.2" r="1.6"/><circle cx="338.66" cy="79.35" r="1.6"/><circle cx="338.93" cy="78.71" r="1.6"/><circle cx="339.46" cy="77.65" r="1.6"/><circle cx="340" cy="79.52" r="1.6"/><circle cx="340.27" cy="78.49" r="1.6"/><circle cx="340.8" cy="79.93" r="1.6"/><circle cx="341.33" cy="82" r="1.6"/><circle cx="341.6" cy="74.65" r="1.6"/><circle cx="342.13" cy="78.78" r="1.6"/><circle cx="342.66" cy="76.38" r="1.6"/><circle cx="342.93" cy="80.2" r="1.6"/><circle cx="343.46" cy="84.01" r="1.6"/><circle cx="343.99" cy="83.87" r="1.6"/><circle cx="344.26" cy="75.52" r="1.6"/><circle cx="344.79" cy="82.21" r="1.6"/><circle cx="345.32" cy="81.23" r="1.6"/><circle cx="345.58" cy="77.18" r="1.6"/><circle cx="346.11" cy="79.19" r="1.6"/><circle cx="346.64" cy="81" r="1.6"/><circle cx="347.17" cy="76.83" r="1.6"/><circle cx="347.44" cy="80.26" r="1.6"/><circle cx="347.97" cy="81.35" r="1.6"/><circle cx="348.5" cy="78.94" r="1.6"/><circle cx="348.77" cy="80.99" r="1.6"/><circle cx="349.3" cy="80.65" r="1.6"/><circle cx="349.84" cy="85.87" r="1.6"/><circle cx="350.11" cy="83.62" r="1.6"/><circle cx="350.64" cy="80.81" r="1.6"/><circle cx="351.18" cy="78.15" r="1.6"/><circle cx="351.45" cy="78.4" r="1.6"/><circle cx="351.99" cy="81.88" r="1.6"/><circle cx="352.54" cy="74.48" r="1.6"/><circle cx="352.81" cy="78.96" r="1.6"/><circle cx="353.35" cy="76.74" r="1.6"/><circle cx="353.9" cy="81.81" r="1.6"/><circle cx="354.18" cy="87.82" r="1.6"/><circle cx="354.73" cy="79.58" r="1.6"/><circle cx="355" cy="80.4" r="1.6"/><circle cx="355.52" cy="78.83" r="1.6"/><circle cx="356.03" cy="84.4" r="1.6"/><circle cx="356.55" cy="85" r="1.6"/><circle cx="356.8" cy="79.91" r="1.6"/><circle cx="357.31" cy="82.68" r="1.6"/><circle cx="357.81" cy="81.42" r="1.6"/><circle cx="358.31" cy="83.91" r="1.6"/><circle cx="358.81" cy="82.9" r="1.6"/><circle cx="359.06" cy="77.33" r="1.6"/><circle cx="359.56" cy="83.02" r="1.6"/><circle cx="360.08" cy="77.72" r="1.6"/><circle cx="360.6" cy="78.43" r="1.6"/><circle cx="360.85" cy="82.43" r="1.6"/><circle cx="361.37" cy="73.99" r="1.6"/><circle cx="361.89" cy="82.88" r="1.6"/><circle cx="362.4" cy="78.47" r="1.6"/><circle cx="362.66" cy="77.71" r="1.6"/><circle cx="363.17" cy="81.91" r="1.6"/><circle cx="363.68" cy="82.33" r="1.6"/><circle cx="363.94" cy="75.3" r="1.6"/><circle cx="364.49" cy="76.77" r="1.6"/><circle cx="365.03" cy="79.03" r="1.6"/><circle cx="365.31" cy="80.84" r="1.6"/><circle cx="365.85" cy="73.18" r="1.6"/><circle cx="366.41" cy="80.35" r="1.6"/><circle cx="366.69" cy="73.25" r="1.6"/><circle cx="367.26" cy="77.73" r="1.6"/><circle cx="367.54" cy="74.37" r="1.6"/><circle cx="368.1" cy="72.6" r="1.6"/><circle cx="368.65" cy="79.67" r="1.6"/><circle cx="368.93" cy="76.83" r="1.6"/><circle cx="369.48" cy="83.31" r="1.6"/><circle cx="369.76" cy="77.61" r="1.6"/><circle cx="370.38" cy="75.65" r="1.6"/><circle cx="370.69" cy="78.87" r="1.6"/></g><g fill="none" stroke="#a465ff" stroke-width="0.6"><circle cx="379.18" cy="16.5" r="1.6"/><circle cx="379.44" cy="17.73" r="1.6"/><circle cx="380.16" cy="20.29" r="1.6"/><circle cx="379.52" cy="21.53" r="1.6"/><circle cx="378.65" cy="23.42" r="1.6"/><circle cx="380.16" cy="25.39" r="1.6"/><circle cx="379.19" cy="27.64" r="1.6"/><circle cx="380.1" cy="29.48" r="1.6"/><circle cx="380.47" cy="31.72" r="1.6"/><circle cx="379.91" cy="33.57" r="1.6"/><circle cx="380" cy="35.18" r="1.6"/><circle cx="380.8" cy="37.01" r="1.6"/><circle cx="381.41" cy="38.9" r="1.6"/><circle cx="381.72" cy="41.14" r="1.6"/><circle cx="381.44" cy="42.4" r="1.6"/><circle cx="381.24" cy="44.43" r="1.6"/><circle cx="381.73" cy="46.33" r="1.6"/><circle cx="383.59" cy="48.52" r="1.6"/><circle cx="382.76" cy="49.97" r="1.6"/><circle cx="382.31" cy="51.88" r="1.6"/><circle cx="383.11" cy="53.5" r="1.6"/><circle cx="384.26" cy="55.64" r="1.6"/><circle cx="384.47" cy="57.03" r="1.6"/><circle cx="384.36" cy="59.42" r="1.6"/><circle cx="385" cy="61.34" r="1.6"/><circle cx="385.75" cy="63.14" r="1.6"/><circle cx="385.6" cy="64.63" r="1.6"/><circle cx="386.4" cy="66.87" r="1.6"/><circle cx="388.27" cy="67.3" r="1.6"/></g><g fill="none" stroke="#7f0dff" stroke-width="0.6"><circle cx="388.76" cy="67.75" r="1.6"/><circle cx="390.34" cy="71.94" r="1.6"/><circle cx="390.74" cy="72.62" r="1.6"/><circle cx="391.03" cy="66.67" r="1.6"/><circle cx="391.74" cy="68.96" r="1.6"/><circle cx="392.35" cy="71.97" r="1.6"/><circle cx="392.67" cy="69.84" r="1.6"/><circle cx="393" cy="72.55" r="1.6"/><circle cx="393.32" cy="74.47" r="1.6"/><circle cx="393.94" cy="68.91" r="1.6"/><circle cx="394.23" cy="71.71" r="1.6"/><circle cx="394.53" cy="68.43" r="1.6"/><circle cx="395.17" cy="66.58" r="1.6"/><circle cx="395.5" cy="73.48" r="1.6"/><circle cx="395.76" cy="66.65" r="1.6"/><circle cx="396.29" cy="71.16" r="1.6"/><circle cx="396.94" cy="70.88" r="1.6"/><circle cx="397.27" cy="74.89" r="1.6"/><circle cx="397.57" cy="74.86" r="1.6"/><circle cx="398.18" cy="73.76" r="1.6"/><circle cx="398.48" cy="75.12" r="1.6"/><circle cx="398.99" cy="73.29" r="1.6"/><circle cx="399.49" cy="72" r="1.6"/><circle cx="399.75" cy="75.16" r="1.6"/><circle cx="400.27" cy="80.01" r="1.6"/><circle cx="400.81" cy="69.67" r="1.6"/><circle cx="401.08" cy="76.15" r="1.6"/><circle cx="401.63" cy="77.49" r="1.6"/><circle cx="402.15" cy="70.79" r="1.6"/><circle cx="402.65" cy="74.73" r="1.6"/><circle cx="402.9" cy="71.26" r="1.6"/><circle cx="403.4" cy="72.97" r="1.6"/><circle cx="403.91" cy="74.99" r="1.6"/><circle cx="404.41" cy="70.77" r="1.6"/><circle cx="404.91" cy="78.44" r="1.6"/><circle cx="405.17" cy="76.91" r="1.6"/><circle cx="405.67" cy="75.95" r="1.6"/><circle cx="406.18" cy="72.13" r="1.6"/><circle cx="406.68" cy="76.94" r="1.6"/><circle cx="406.95" cy="79.53" r="1.6"/><circle cx="407.49" cy="79.16" r="1.6"/><circle cx="408.03" cy="76.26" r="1.6"/><circle cx="408.3" cy="72.65" r="1.6"/><circle cx="408.84" cy="74.6" r="1.6"/><circle cx="409.38" cy="76.12" r="1.6"/><circle cx="409.63" cy="80.56" r="1.6"/><circle cx="410.13" cy="74.25" r="1.6"/><circle cx="410.64" cy="75.63" r="1.6"/><circle cx="411.14" cy="73.79" r="1.6"/><circle cx="411.64" cy="72.14" r="1.6"/><circle cx="411.9" cy="74.31" r="1.6"/><circle cx="412.4" cy="72.08" r="1.6"/><circle cx="412.9" cy="74.53" r="1.6"/><circle cx="413.4" cy="71.54" r="1.6"/><circle cx="413.9" cy="77.07" r="1.6"/><circle cx="414.15" cy="73.43" r="1.6"/><circle cx="414.66" cy="73.8" r="1.6"/><circle cx="415.17" cy="78.64" r="1.6"/><circle cx="415.7" cy="72.72" r="1.6"/><circle cx="415.97" cy="75.01" r="1.6"/><circle cx="416.5" cy="72.47" r="1.6"/><circle cx="417.02" cy="76.28" r="1.6"/><circle cx="417.29" cy="71.73" r="1.6"/><circle cx="417.83" cy="71.17" r="1.6"/><circle cx="418.37" cy="75.44" r="1.6"/><circle cx="418.64" cy="71.74" r="1.6"/><circle cx="419.18" cy="73.6" r="1.6"/><circle cx="419.73" cy="72.23" r="1.6"/><circle cx="420" cy="69.98" r="1.6"/><circle cx="420.53" cy="74.52" r="1.6"/><circle cx="421.06" cy="72.85" r="1.6"/><circle cx="421.32" cy="72.97" r="1.6"/><circle cx="421.85" cy="79.18" r="1.6"/><circle cx="422.38" cy="75.69" r="1.6"/><circle cx="422.93" cy="77.11" r="1.6"/><circle cx="423.21" cy="74.57" r="1.6"/><circle cx="423.76" cy="75.55" r="1.6"/><circle cx="424.03" cy="77.4" r="1.6"/><circle cx="424.58" cy="69.51" r="1.6"/><circle cx="425.14" cy="78.28" r="1.6"/><circle cx="425.41" cy="77.49" r="1.6"/><circle cx="425.96" cy="76.47" r="1.6"/><circle cx="426.51" cy="73.5" r="1.6"/><circle cx="426.79" cy="74.12" r="1.6"/><circle cx="427.34" cy="74.25" r="1.6"/><circle cx="427.88" cy="73.97" r="1.6"/><circle cx="428.14" cy="75.5" r="1.6"/><circle cx="428.68" cy="79.31" r="1.6"/><circle cx="429.21" cy="74.54" r="1.6"/><circle cx="429.48" cy="72.62" r="1.6"/><circle cx="430" cy="74.69" r="1.6"/><circle cx="430.5" cy="72.75" r="1.6"/><circle cx="431" cy="73.04" r="1.6"/><circle cx="431.25" cy="71.1" r="1.6"/><circle cx="431.75" cy="74.6" r="1.6"/><circle cx="432.25" cy="74.32" r="1.6"/><circle cx="432.76" cy="75.53" r="1.6"/><circle cx="433.26" cy="74.97" r="1.6"/><circle cx="433.51" cy="71.21" r="1.6"/><circle cx="434.02" cy="76.93" r="1.6"/><circle cx="434.58" cy="72.48" r="1.6"/><circle cx="434.86" cy="68.43" r="1.6"/><circle cx="435.43" cy="75.87" r="1.6"/><circle cx="435.71" cy="71.26" r="1.6"/><circle cx="436.23" cy="77.95" r="1.6"/><circle cx="436.74" cy="71.59" r="1.6"/></g><polyline points="276.7,141.4 278.1,136.3 284,137 286.2,126 288.4,121 290.5,129 293.5,135.5 296.4,134.1 297,139.2 301.5,142.1 305.9,140.7 311.7,137 317.6,144.3 322.7,137 326.3,142.8 330.7,139.9 335,144.3 338,137 343.8,139.9 346.8,133.4 354,134.1 357.7,141.4 360,138.5 364.4,135.5 368.8,141.4 372.4,131.9 376.1,126 378.2,122.4 381.2,126 383.4,131.9 387.7,137 391.4,131.9 395,135.5 398.7,139.9 402.3,137 406,127.5 409.6,138.5 414,130.4 418.4,134.8 422.8,137 428.6,133.4 433,129.7 435.2,131.2" fill="none" stroke="#0000ff" stroke-width="3.4" stroke-linecap="round" stroke-linejoin="round"/><g fill="#0000ff"><circle cx="276.7" cy="142.12" r="1.75"/><circle cx="276.94" cy="141.42" r="1.75"/><circle cx="277.18" cy="138" r="1.75"/><circle cx="277.41" cy="137.37" r="1.75"/><circle cx="277.65" cy="138.25" r="1.75"/><circle cx="277.89" cy="136.57" r="1.75"/><circle cx="278.21" cy="137.15" r="1.75"/><circle cx="279.1" cy="135.86" r="1.75"/><circle cx="280" cy="136.47" r="1.75"/><circle cx="280.89" cy="137.02" r="1.75"/><circle cx="281.79" cy="136.79" r="1.75"/><circle cx="282.68" cy="136.58" r="1.75"/><circle cx="283.57" cy="136.51" r="1.75"/><circle cx="284.09" cy="134.99" r="1.75"/><circle cx="284.27" cy="135.52" r="1.75"/><circle cx="284.45" cy="134.29" r="1.75"/><circle cx="284.62" cy="133.32" r="1.75"/><circle cx="284.8" cy="132.53" r="1.75"/><circle cx="284.97" cy="131.71" r="1.75"/><circle cx="285.15" cy="131.14" r="1.75"/><circle cx="285.33" cy="130.16" r="1.75"/><circle cx="285.5" cy="130.56" r="1.75"/><circle cx="285.68" cy="129.33" r="1.75"/><circle cx="285.86" cy="127.45" r="1.75"/><circle cx="286.03" cy="127.72" r="1.75"/><circle cx="286.22" cy="125.86" r="1.75"/><circle cx="286.58" cy="125.43" r="1.75"/><circle cx="286.95" cy="125.09" r="1.75"/><circle cx="287.31" cy="124.06" r="1.75"/><circle cx="287.67" cy="123.18" r="1.75"/><circle cx="288.03" cy="120.91" r="1.75"/><circle cx="288.4" cy="120.51" r="1.75"/><circle cx="288.63" cy="123.06" r="1.75"/><circle cx="288.85" cy="122.98" r="1.75"/><circle cx="289.08" cy="123.02" r="1.75"/><circle cx="289.31" cy="125.03" r="1.75"/><circle cx="289.54" cy="126.29" r="1.75"/><circle cx="289.77" cy="126.92" r="1.75"/><circle cx="290" cy="127.14" r="1.75"/><circle cx="290.23" cy="127.5" r="1.75"/><circle cx="290.45" cy="128.5" r="1.75"/><circle cx="290.8" cy="131.96" r="1.75"/><circle cx="291.18" cy="131.79" r="1.75"/><circle cx="291.56" cy="131.54" r="1.75"/><circle cx="291.93" cy="131.48" r="1.75"/><circle cx="292.31" cy="133.22" r="1.75"/><circle cx="292.69" cy="134.22" r="1.75"/><circle cx="293.06" cy="134.92" r="1.75"/><circle cx="293.44" cy="135.04" r="1.75"/><circle cx="294.18" cy="135.77" r="1.75"/><circle cx="294.99" cy="135.74" r="1.75"/><circle cx="295.81" cy="133.35" r="1.75"/><circle cx="296.43" cy="133.47" r="1.75"/><circle cx="296.53" cy="133.92" r="1.75"/><circle cx="296.64" cy="135.22" r="1.75"/><circle cx="296.74" cy="135.79" r="1.75"/><circle cx="296.85" cy="137.7" r="1.75"/><circle cx="296.95" cy="138.75" r="1.75"/><circle cx="297.42" cy="138.42" r="1.75"/><circle cx="298.18" cy="139.99" r="1.75"/><circle cx="298.94" cy="140.08" r="1.75"/><circle cx="299.69" cy="139.35" r="1.75"/><circle cx="300.45" cy="140.94" r="1.75"/><circle cx="301.21" cy="142.17" r="1.75"/><circle cx="302.02" cy="141.28" r="1.75"/><circle cx="302.88" cy="142.31" r="1.75"/><circle cx="303.74" cy="141.86" r="1.75"/><circle cx="304.6" cy="139.6" r="1.75"/><circle cx="305.46" cy="140.84" r="1.75"/><circle cx="306.27" cy="141.09" r="1.75"/><circle cx="307.02" cy="140.81" r="1.75"/><circle cx="307.78" cy="139.33" r="1.75"/><circle cx="308.54" cy="138.67" r="1.75"/><circle cx="309.3" cy="137.26" r="1.75"/><circle cx="310.06" cy="137.91" r="1.75"/><circle cx="310.82" cy="138.35" r="1.75"/><circle cx="311.58" cy="137.1" r="1.75"/><circle cx="312.17" cy="137.21" r="1.75"/><circle cx="312.74" cy="137.62" r="1.75"/><circle cx="313.31" cy="138.3" r="1.75"/><circle cx="313.87" cy="139.58" r="1.75"/><circle cx="314.44" cy="139.66" r="1.75"/><circle cx="315" cy="141.92" r="1.75"/><circle cx="315.57" cy="143.35" r="1.75"/><circle cx="316.13" cy="141.61" r="1.75"/><circle cx="316.7" cy="143.64" r="1.75"/><circle cx="317.27" cy="144.48" r="1.75"/><circle cx="317.81" cy="143.26" r="1.75"/><circle cx="318.33" cy="143.06" r="1.75"/><circle cx="318.84" cy="142.93" r="1.75"/><circle cx="319.36" cy="141.77" r="1.75"/><circle cx="319.87" cy="140.77" r="1.75"/><circle cx="320.39" cy="140.92" r="1.75"/><circle cx="320.9" cy="139.37" r="1.75"/><circle cx="321.42" cy="138.8" r="1.75"/><circle cx="321.93" cy="137.34" r="1.75"/><circle cx="322.45" cy="135.16" r="1.75"/><circle cx="322.94" cy="136.85" r="1.75"/><circle cx="323.42" cy="138.71" r="1.75"/><circle cx="323.89" cy="138.85" r="1.75"/><circle cx="324.37" cy="140.16" r="1.75"/><circle cx="324.84" cy="139.66" r="1.75"/><circle cx="325.32" cy="143.25" r="1.75"/><circle cx="325.79" cy="141.8" r="1.75"/><circle cx="326.27" cy="143.49" r="1.75"/><circle cx="327" cy="143.49" r="1.75"/><circle cx="327.75" cy="141.86" r="1.75"/><circle cx="328.5" cy="140.46" r="1.75"/><circle cx="329.25" cy="140.39" r="1.75"/><circle cx="330" cy="140.37" r="1.75"/><circle cx="330.75" cy="141.1" r="1.75"/><circle cx="331.38" cy="140.05" r="1.75"/><circle cx="332" cy="140.86" r="1.75"/><circle cx="332.63" cy="142.2" r="1.75"/><circle cx="333.26" cy="142.14" r="1.75"/><circle cx="333.89" cy="143.45" r="1.75"/><circle cx="334.52" cy="143.6" r="1.75"/><circle cx="335.08" cy="143.16" r="1.75"/><circle cx="335.42" cy="143.32" r="1.75"/><circle cx="335.77" cy="141.74" r="1.75"/><circle cx="336.11" cy="140.87" r="1.75"/><circle cx="336.45" cy="141.32" r="1.75"/><circle cx="336.79" cy="140.95" r="1.75"/><circle cx="337.13" cy="138.74" r="1.75"/><circle cx="337.48" cy="138.52" r="1.75"/><circle cx="337.82" cy="138.01" r="1.75"/><circle cx="338.38" cy="136.18" r="1.75"/><circle cx="339.18" cy="138" r="1.75"/><circle cx="339.99" cy="138.23" r="1.75"/><circle cx="340.79" cy="137.73" r="1.75"/><circle cx="341.6" cy="140.37" r="1.75"/><circle cx="342.4" cy="138.58" r="1.75"/><circle cx="343.21" cy="138.38" r="1.75"/><circle cx="343.9" cy="139.74" r="1.75"/><circle cx="344.28" cy="139.66" r="1.75"/><circle cx="344.65" cy="137.5" r="1.75"/><circle cx="345.03" cy="138.75" r="1.75"/><circle cx="345.41" cy="136.56" r="1.75"/><circle cx="345.79" cy="136.09" r="1.75"/><circle cx="346.16" cy="135.18" r="1.75"/><circle cx="346.54" cy="133.85" r="1.75"/><circle cx="347.08" cy="133.28" r="1.75"/><circle cx="347.97" cy="133.35" r="1.75"/><circle cx="348.87" cy="133.77" r="1.75"/><circle cx="349.76" cy="134.73" r="1.75"/><circle cx="350.66" cy="134.26" r="1.75"/><circle cx="351.56" cy="134.47" r="1.75"/><circle cx="352.45" cy="134.16" r="1.75"/><circle cx="353.35" cy="133.41" r="1.75"/><circle cx="354.11" cy="135.36" r="1.75"/><circle cx="354.52" cy="135.47" r="1.75"/><circle cx="354.92" cy="135.56" r="1.75"/><circle cx="355.33" cy="137.26" r="1.75"/><circle cx="355.74" cy="137.09" r="1.75"/><circle cx="356.14" cy="139.35" r="1.75"/><circle cx="356.55" cy="140.54" r="1.75"/><circle cx="356.96" cy="141.83" r="1.75"/><circle cx="357.37" cy="140.72" r="1.75"/><circle cx="357.8" cy="141.4" r="1.75"/><circle cx="358.36" cy="139.97" r="1.75"/><circle cx="358.92" cy="139.24" r="1.75"/><circle cx="359.48" cy="139.6" r="1.75"/><circle cx="360.05" cy="138.12" r="1.75"/><circle cx="360.79" cy="137.67" r="1.75"/><circle cx="361.54" cy="137.37" r="1.75"/><circle cx="362.28" cy="138.31" r="1.75"/><circle cx="363.02" cy="137.21" r="1.75"/><circle cx="363.77" cy="135.65" r="1.75"/><circle cx="364.48" cy="135.82" r="1.75"/><circle cx="365.02" cy="137.73" r="1.75"/><circle cx="365.56" cy="138.11" r="1.75"/><circle cx="366.09" cy="138.42" r="1.75"/><circle cx="366.63" cy="139.21" r="1.75"/><circle cx="367.17" cy="139.5" r="1.75"/><circle cx="367.71" cy="140.47" r="1.75"/><circle cx="368.25" cy="141.56" r="1.75"/><circle cx="368.78" cy="142.17" r="1.75"/><circle cx="369.11" cy="139.84" r="1.75"/><circle cx="369.43" cy="138.67" r="1.75"/><circle cx="369.75" cy="139.38" r="1.75"/><circle cx="370.07" cy="138.28" r="1.75"/><circle cx="370.39" cy="136.58" r="1.75"/><circle cx="370.7" cy="136.99" r="1.75"/><circle cx="371.02" cy="134.96" r="1.75"/><circle cx="371.34" cy="134.08" r="1.75"/><circle cx="371.66" cy="133.48" r="1.75"/><circle cx="371.98" cy="134.18" r="1.75"/><circle cx="372.3" cy="130.91" r="1.75"/><circle cx="372.73" cy="131.44" r="1.75"/><circle cx="373.2" cy="131.07" r="1.75"/><circle cx="373.68" cy="130.59" r="1.75"/><circle cx="374.16" cy="129.26" r="1.75"/><circle cx="374.64" cy="127.95" r="1.75"/><circle cx="375.12" cy="126.69" r="1.75"/><circle cx="375.6" cy="126.2" r="1.75"/><circle cx="376.07" cy="126.53" r="1.75"/><circle cx="376.53" cy="125.29" r="1.75"/><circle cx="376.98" cy="123.29" r="1.75"/><circle cx="377.44" cy="123.94" r="1.75"/><circle cx="377.89" cy="122.07" r="1.75"/><circle cx="378.38" cy="122.79" r="1.75"/><circle cx="378.96" cy="124.22" r="1.75"/><circle cx="379.53" cy="125.72" r="1.75"/><circle cx="380.11" cy="124.35" r="1.75"/><circle cx="380.69" cy="124.63" r="1.75"/><circle cx="381.23" cy="124.59" r="1.75"/><circle cx="381.55" cy="127.27" r="1.75"/><circle cx="381.86" cy="127.5" r="1.75"/><circle cx="382.18" cy="128.1" r="1.75"/><circle cx="382.49" cy="127.96" r="1.75"/><circle cx="382.81" cy="129.67" r="1.75"/><circle cx="383.12" cy="131.56" r="1.75"/><circle cx="383.46" cy="132.39" r="1.75"/><circle cx="384.04" cy="132.48" r="1.75"/><circle cx="384.62" cy="133.11" r="1.75"/><circle cx="385.2" cy="132.66" r="1.75"/><circle cx="385.78" cy="135.73" r="1.75"/><circle cx="386.36" cy="135.2" r="1.75"/><circle cx="386.94" cy="135.94" r="1.75"/><circle cx="387.52" cy="137.07" r="1.75"/><circle cx="388.07" cy="136.77" r="1.75"/><circle cx="388.6" cy="136.17" r="1.75"/><circle cx="389.13" cy="133.89" r="1.75"/><circle cx="389.65" cy="134.9" r="1.75"/><circle cx="390.18" cy="133.49" r="1.75"/><circle cx="390.71" cy="132.56" r="1.75"/><circle cx="391.24" cy="133.7" r="1.75"/><circle cx="391.84" cy="133.14" r="1.75"/><circle cx="392.48" cy="134.25" r="1.75"/><circle cx="393.12" cy="133.21" r="1.75"/><circle cx="393.75" cy="135.29" r="1.75"/><circle cx="394.39" cy="134.37" r="1.75"/><circle cx="395.02" cy="134.03" r="1.75"/><circle cx="395.6" cy="136.65" r="1.75"/><circle cx="396.18" cy="137.32" r="1.75"/><circle cx="396.76" cy="137.83" r="1.75"/><circle cx="397.34" cy="139.46" r="1.75"/><circle cx="397.92" cy="139.1" r="1.75"/><circle cx="398.5" cy="140.46" r="1.75"/><circle cx="399.16" cy="139.9" r="1.75"/><circle cx="399.86" cy="139.02" r="1.75"/><circle cx="400.56" cy="138.34" r="1.75"/><circle cx="401.26" cy="138.48" r="1.75"/><circle cx="401.96" cy="137.15" r="1.75"/><circle cx="402.47" cy="137.15" r="1.75"/><circle cx="402.8" cy="135.94" r="1.75"/><circle cx="403.12" cy="134.86" r="1.75"/><circle cx="403.45" cy="133.49" r="1.75"/><circle cx="403.78" cy="131.87" r="1.75"/><circle cx="404.1" cy="131.88" r="1.75"/><circle cx="404.43" cy="131.97" r="1.75"/><circle cx="404.76" cy="130.94" r="1.75"/><circle cx="405.08" cy="129.29" r="1.75"/><circle cx="405.41" cy="130.07" r="1.75"/><circle cx="405.73" cy="126.67" r="1.75"/><circle cx="406.05" cy="128.88" r="1.75"/><circle cx="406.33" cy="127.36" r="1.75"/><circle cx="406.61" cy="129.82" r="1.75"/><circle cx="406.89" cy="129.6" r="1.75"/><circle cx="407.17" cy="131.83" r="1.75"/><circle cx="407.45" cy="133.04" r="1.75"/><circle cx="407.73" cy="133.02" r="1.75"/><circle cx="408.01" cy="133.19" r="1.75"/><circle cx="408.29" cy="133.37" r="1.75"/><circle cx="408.57" cy="134.28" r="1.75"/><circle cx="408.85" cy="136.25" r="1.75"/><circle cx="409.13" cy="137.63" r="1.75"/><circle cx="409.41" cy="137.77" r="1.75"/><circle cx="409.74" cy="137.8" r="1.75"/><circle cx="410.17" cy="138.19" r="1.75"/><circle cx="410.6" cy="136.78" r="1.75"/><circle cx="411.03" cy="136.06" r="1.75"/><circle cx="411.46" cy="135.02" r="1.75"/><circle cx="411.89" cy="132.96" r="1.75"/><circle cx="412.32" cy="132.68" r="1.75"/><circle cx="412.75" cy="133.86" r="1.75"/><circle cx="413.18" cy="131.84" r="1.75"/><circle cx="413.61" cy="131.85" r="1.75"/><circle cx="414.05" cy="129.16" r="1.75"/><circle cx="414.69" cy="130.82" r="1.75"/><circle cx="415.33" cy="132.56" r="1.75"/><circle cx="415.96" cy="132.08" r="1.75"/><circle cx="416.6" cy="133.32" r="1.75"/><circle cx="417.24" cy="134.43" r="1.75"/><circle cx="417.87" cy="133.96" r="1.75"/><circle cx="418.54" cy="133.25" r="1.75"/><circle cx="419.34" cy="135.01" r="1.75"/><circle cx="420.15" cy="135.41" r="1.75"/><circle cx="420.95" cy="135.1" r="1.75"/><circle cx="421.76" cy="137.48" r="1.75"/><circle cx="422.56" cy="136.61" r="1.75"/><circle cx="423.34" cy="136.13" r="1.75"/><circle cx="424.1" cy="137.58" r="1.75"/><circle cx="424.87" cy="135.81" r="1.75"/><circle cx="425.63" cy="134.46" r="1.75"/><circle cx="426.4" cy="135.37" r="1.75"/><circle cx="427.16" cy="135.05" r="1.75"/><circle cx="427.93" cy="134.31" r="1.75"/><circle cx="428.68" cy="133.01" r="1.75"/><circle cx="429.37" cy="133.08" r="1.75"/><circle cx="430.06" cy="131.53" r="1.75"/><circle cx="430.75" cy="132.62" r="1.75"/><circle cx="431.44" cy="131.37" r="1.75"/><circle cx="432.13" cy="130.32" r="1.75"/><circle cx="432.82" cy="129.92" r="1.75"/><circle cx="433.55" cy="131.1" r="1.75"/><circle cx="434.29" cy="131.2" r="1.75"/><circle cx="435.03" cy="130.91" r="1.75"/><circle cx="435.2" cy="131.37" r="1.75"/></g><g fill="none" stroke="#7f0dff" stroke-width="0.65"><circle cx="511.5" cy="71.85" r="1.5"/><circle cx="511.97" cy="68.55" r="1.5"/><circle cx="512.21" cy="68.45" r="1.5"/><circle cx="512.45" cy="69.34" r="1.5"/><circle cx="512.68" cy="72.29" r="1.5"/><circle cx="512.92" cy="70.33" r="1.5"/><circle cx="513.16" cy="68.46" r="1.5"/><circle cx="513.63" cy="67.71" r="1.5"/><circle cx="513.87" cy="68.1" r="1.5"/><circle cx="514.11" cy="71.25" r="1.5"/><circle cx="514.34" cy="69.06" r="1.5"/><circle cx="514.58" cy="70.69" r="1.5"/><circle cx="514.82" cy="65.99" r="1.5"/><circle cx="515.29" cy="66.07" r="1.5"/><circle cx="515.53" cy="65.9" r="1.5"/><circle cx="515.76" cy="65.6" r="1.5"/><circle cx="516" cy="71.6" r="1.5"/><circle cx="516.24" cy="71.49" r="1.5"/><circle cx="516.48" cy="63.62" r="1.5"/><circle cx="516.96" cy="69.39" r="1.5"/><circle cx="517.2" cy="61.57" r="1.5"/><circle cx="517.43" cy="66.82" r="1.5"/><circle cx="517.67" cy="66.79" r="1.5"/><circle cx="517.91" cy="66.05" r="1.5"/><circle cx="518.39" cy="70.97" r="1.5"/><circle cx="518.63" cy="65.48" r="1.5"/><circle cx="518.87" cy="69.66" r="1.5"/><circle cx="519.11" cy="64.23" r="1.5"/><circle cx="519.35" cy="67.3" r="1.5"/><circle cx="519.83" cy="69.69" r="1.5"/><circle cx="520.07" cy="69.66" r="1.5"/><circle cx="520.3" cy="70.36" r="1.5"/><circle cx="520.54" cy="67.55" r="1.5"/><circle cx="520.78" cy="64.33" r="1.5"/><circle cx="521.26" cy="62.15" r="1.5"/><circle cx="521.5" cy="66.17" r="1.5"/></g><g fill="none" stroke="#a465ff" stroke-width="0.65"><circle cx="526.04" cy="19.64" r="1.4"/><circle cx="525.26" cy="21.57" r="1.4"/><circle cx="526.38" cy="23.2" r="1.4"/><circle cx="526.78" cy="25.48" r="1.4"/><circle cx="526.26" cy="26.54" r="1.4"/><circle cx="526.25" cy="28.69" r="1.4"/><circle cx="526.9" cy="30.33" r="1.4"/><circle cx="527.16" cy="31.99" r="1.4"/><circle cx="527.13" cy="34.06" r="1.4"/><circle cx="527.01" cy="36.38" r="1.4"/><circle cx="526.73" cy="37.57" r="1.4"/><circle cx="527.15" cy="39.68" r="1.4"/><circle cx="526.37" cy="41.42" r="1.4"/><circle cx="526.76" cy="43.21" r="1.4"/><circle cx="527.93" cy="44.74" r="1.4"/><circle cx="527.54" cy="46.6" r="1.4"/><circle cx="527.22" cy="48.56" r="1.4"/><circle cx="529.37" cy="49.45" r="1.4"/><circle cx="529.61" cy="51.07" r="1.4"/><circle cx="530.26" cy="53.14" r="1.4"/><circle cx="531.05" cy="54.95" r="1.4"/><circle cx="530.91" cy="55.47" r="1.4"/></g><g fill="none" stroke="#7f0dff" stroke-width="0.65"><circle cx="532.82" cy="56.77" r="1.4"/><circle cx="533.29" cy="56.08" r="1.4"/><circle cx="533.67" cy="55.2" r="1.4"/><circle cx="533.93" cy="55.59" r="1.4"/><circle cx="534.24" cy="58.94" r="1.4"/><circle cx="534.56" cy="54.22" r="1.4"/><circle cx="534.56" cy="56.84" r="1.4"/><circle cx="534.89" cy="61.12" r="1.4"/><circle cx="535.23" cy="55.96" r="1.4"/><circle cx="535.58" cy="57.03" r="1.4"/><circle cx="535.82" cy="57.84" r="1.4"/><circle cx="536.07" cy="59.18" r="1.4"/><circle cx="536.31" cy="63.71" r="1.4"/><circle cx="536.58" cy="58.93" r="1.4"/><circle cx="536.84" cy="60.2" r="1.4"/><circle cx="537.1" cy="59.73" r="1.4"/><circle cx="537.37" cy="59.16" r="1.4"/><circle cx="537.64" cy="59.68" r="1.4"/><circle cx="537.9" cy="58.5" r="1.4"/><circle cx="538.44" cy="59.96" r="1.4"/><circle cx="538.71" cy="60.97" r="1.4"/><circle cx="538.99" cy="57.13" r="1.4"/><circle cx="539.27" cy="58.92" r="1.4"/><circle cx="539.55" cy="58.47" r="1.4"/><circle cx="539.84" cy="60.31" r="1.4"/><circle cx="540.14" cy="57.09" r="1.4"/><circle cx="540.43" cy="62.45" r="1.4"/><circle cx="540.75" cy="61.61" r="1.4"/><circle cx="541.07" cy="60.91" r="1.4"/><circle cx="541.39" cy="59.16" r="1.4"/><circle cx="541.39" cy="60.48" r="1.4"/><circle cx="541.93" cy="61.43" r="1.4"/><circle cx="542.19" cy="58.9" r="1.4"/><circle cx="542.46" cy="60.97" r="1.4"/><circle cx="542.76" cy="57.96" r="1.4"/><circle cx="543.06" cy="59.27" r="1.4"/><circle cx="543.36" cy="55.45" r="1.4"/><circle cx="543.65" cy="59.87" r="1.4"/><circle cx="543.92" cy="56.73" r="1.4"/><circle cx="544.19" cy="61.22" r="1.4"/><circle cx="544.46" cy="62.55" r="1.4"/><circle cx="544.73" cy="58.47" r="1.4"/><circle cx="545" cy="59.79" r="1.4"/><circle cx="545.5" cy="63.2" r="1.4"/><circle cx="545.75" cy="58.85" r="1.4"/><circle cx="546" cy="58.85" r="1.4"/><circle cx="546.25" cy="61.11" r="1.4"/><circle cx="546.5" cy="61.17" r="1.4"/><circle cx="546.77" cy="62.32" r="1.4"/><circle cx="547.32" cy="59.55" r="1.4"/><circle cx="547.59" cy="60.46" r="1.4"/><circle cx="547.86" cy="59.27" r="1.4"/><circle cx="548.13" cy="60.33" r="1.4"/><circle cx="548.38" cy="58.36" r="1.4"/><circle cx="548.63" cy="61.09" r="1.4"/><circle cx="548.88" cy="61.22" r="1.4"/><circle cx="549.38" cy="59.5" r="1.4"/><circle cx="549.64" cy="58.47" r="1.4"/><circle cx="549.89" cy="59.69" r="1.4"/><circle cx="550.15" cy="59.34" r="1.4"/><circle cx="550.42" cy="59.25" r="1.4"/><circle cx="550.68" cy="58.78" r="1.4"/><circle cx="551.21" cy="57.08" r="1.4"/><circle cx="551.48" cy="58.58" r="1.4"/><circle cx="551.74" cy="55" r="1.4"/><circle cx="552.02" cy="60.61" r="1.4"/><circle cx="552.3" cy="59.48" r="1.4"/><circle cx="552.58" cy="60.31" r="1.4"/><circle cx="552.86" cy="60.52" r="1.4"/><circle cx="553.14" cy="58.3" r="1.4"/><circle cx="553.42" cy="59.97" r="1.4"/><circle cx="553.7" cy="59.22" r="1.4"/><circle cx="553.95" cy="60.2" r="1.4"/><circle cx="554.46" cy="60.82" r="1.4"/><circle cx="554.71" cy="59.56" r="1.4"/><circle cx="554.97" cy="59.28" r="1.4"/><circle cx="555.22" cy="60.89" r="1.4"/><circle cx="555.48" cy="55.64" r="1.4"/><circle cx="556" cy="60.27" r="1.4"/><circle cx="556.26" cy="58.46" r="1.4"/><circle cx="556.52" cy="59.59" r="1.4"/><circle cx="556.78" cy="58.5" r="1.4"/><circle cx="557.05" cy="57.8" r="1.4"/><circle cx="557.31" cy="63.46" r="1.4"/><circle cx="557.57" cy="61.7" r="1.4"/><circle cx="557.84" cy="60.84" r="1.4"/><circle cx="558.38" cy="61.9" r="1.4"/><circle cx="558.65" cy="60.59" r="1.4"/><circle cx="558.92" cy="61.96" r="1.4"/><circle cx="559.19" cy="58.75" r="1.4"/><circle cx="559.46" cy="61.06" r="1.4"/><circle cx="559.73" cy="61.64" r="1.4"/><circle cx="560" cy="60.87" r="1.4"/><circle cx="560.25" cy="56.86" r="1.4"/><circle cx="560.75" cy="65.38" r="1.4"/><circle cx="561" cy="61.95" r="1.4"/><circle cx="561.25" cy="62.68" r="1.4"/><circle cx="561.5" cy="58.41" r="1.4"/><circle cx="561.75" cy="55.95" r="1.4"/><circle cx="562.25" cy="61.12" r="1.4"/><circle cx="562.51" cy="59.8" r="1.4"/><circle cx="562.78" cy="61.87" r="1.4"/><circle cx="563.04" cy="58.2" r="1.4"/><circle cx="563.3" cy="57.5" r="1.4"/><circle cx="563.56" cy="63.18" r="1.4"/><circle cx="563.83" cy="61.89" r="1.4"/><circle cx="564.35" cy="58.4" r="1.4"/><circle cx="564.62" cy="54.64" r="1.4"/><circle cx="564.89" cy="59.68" r="1.4"/><circle cx="565.16" cy="62.57" r="1.4"/><circle cx="565.43" cy="59.49" r="1.4"/><circle cx="565.71" cy="61.74" r="1.4"/><circle cx="565.98" cy="59.86" r="1.4"/><circle cx="566.25" cy="58.43" r="1.4"/><circle cx="566.53" cy="62.76" r="1.4"/><circle cx="567.07" cy="55.28" r="1.4"/><circle cx="567.33" cy="59.04" r="1.4"/><circle cx="567.58" cy="62.44" r="1.4"/><circle cx="567.83" cy="58.58" r="1.4"/><circle cx="568.08" cy="59.01" r="1.4"/><circle cx="568.34" cy="59.41" r="1.4"/><circle cx="568.84" cy="59.72" r="1.4"/><circle cx="569.09" cy="62.55" r="1.4"/><circle cx="569.35" cy="60.47" r="1.4"/><circle cx="569.6" cy="60.46" r="1.4"/><circle cx="569.86" cy="61.53" r="1.4"/><circle cx="570.12" cy="61.4" r="1.4"/><circle cx="570.63" cy="58.87" r="1.4"/><circle cx="570.89" cy="60.62" r="1.4"/><circle cx="571.15" cy="57.97" r="1.4"/><circle cx="571.4" cy="63.67" r="1.4"/><circle cx="571.66" cy="56.73" r="1.4"/><circle cx="571.92" cy="59.95" r="1.4"/><circle cx="572.44" cy="59.45" r="1.4"/><circle cx="572.7" cy="59.33" r="1.4"/><circle cx="572.96" cy="60.02" r="1.4"/><circle cx="573.22" cy="58.89" r="1.4"/><circle cx="573.48" cy="56.11" r="1.4"/><circle cx="573.74" cy="57.99" r="1.4"/><circle cx="574" cy="53.6" r="1.4"/><circle cx="574.52" cy="56.44" r="1.4"/><circle cx="574.78" cy="59.55" r="1.4"/><circle cx="575.05" cy="61.04" r="1.4"/><circle cx="575.31" cy="59.75" r="1.4"/><circle cx="575.57" cy="59.08" r="1.4"/><circle cx="575.83" cy="58.49" r="1.4"/><circle cx="576.09" cy="55.76" r="1.4"/><circle cx="576.61" cy="61.05" r="1.4"/><circle cx="576.88" cy="59.41" r="1.4"/><circle cx="577.14" cy="59.3" r="1.4"/><circle cx="577.4" cy="55.61" r="1.4"/><circle cx="577.66" cy="58.04" r="1.4"/><circle cx="577.92" cy="56.77" r="1.4"/><circle cx="578.44" cy="56.4" r="1.4"/><circle cx="578.7" cy="62.94" r="1.4"/><circle cx="578.96" cy="58.29" r="1.4"/><circle cx="579.22" cy="56.45" r="1.4"/><circle cx="579.48" cy="54.86" r="1.4"/><circle cx="579.74" cy="60.88" r="1.4"/><circle cx="580" cy="56.35" r="1.4"/><circle cx="580.5" cy="56.32" r="1.4"/><circle cx="580.75" cy="57.72" r="1.4"/><circle cx="581" cy="56.63" r="1.4"/><circle cx="581.25" cy="56.39" r="1.4"/><circle cx="581.5" cy="60.67" r="1.4"/><circle cx="582" cy="62.2" r="1.4"/><circle cx="582.25" cy="58.55" r="1.4"/><circle cx="582.5" cy="57.73" r="1.4"/><circle cx="582.75" cy="59.04" r="1.4"/><circle cx="583" cy="56.96" r="1.4"/><circle cx="583.5" cy="57.61" r="1.4"/><circle cx="583.75" cy="56.64" r="1.4"/><circle cx="584" cy="61.04" r="1.4"/><circle cx="584.25" cy="58.57" r="1.4"/><circle cx="584.5" cy="54.33" r="1.4"/><circle cx="585" cy="57.43" r="1.4"/><circle cx="585.25" cy="60.27" r="1.4"/><circle cx="585.5" cy="56.93" r="1.4"/><circle cx="585.75" cy="58.99" r="1.4"/><circle cx="586.01" cy="58.85" r="1.4"/><circle cx="586.27" cy="55.58" r="1.4"/><circle cx="586.79" cy="57.96" r="1.4"/><circle cx="587.05" cy="61.65" r="1.4"/><circle cx="587.31" cy="55.74" r="1.4"/><circle cx="587.57" cy="58.13" r="1.4"/><circle cx="587.83" cy="56.57" r="1.4"/><circle cx="588.09" cy="55.99" r="1.4"/><circle cx="588.6" cy="57.42" r="1.4"/><circle cx="588.86" cy="58.84" r="1.4"/><circle cx="589.12" cy="57.81" r="1.4"/><circle cx="589.38" cy="59.9" r="1.4"/><circle cx="589.63" cy="57.95" r="1.4"/><circle cx="589.89" cy="56.01" r="1.4"/><circle cx="590.41" cy="58.73" r="1.4"/><circle cx="590.66" cy="56.73" r="1.4"/><circle cx="590.92" cy="54.6" r="1.4"/><circle cx="591.18" cy="59.32" r="1.4"/><circle cx="591.44" cy="54.86" r="1.4"/><circle cx="591.69" cy="57.79" r="1.4"/><circle cx="591.95" cy="58" r="1.4"/><circle cx="592.48" cy="55.78" r="1.4"/><circle cx="592.75" cy="58.81" r="1.4"/><circle cx="593.02" cy="55.64" r="1.4"/><circle cx="593.28" cy="58.92" r="1.4"/><circle cx="593.55" cy="56.69" r="1.4"/><circle cx="593.82" cy="56.7" r="1.4"/><circle cx="594.08" cy="59.23" r="1.4"/><circle cx="594.35" cy="57.83" r="1.4"/><circle cx="594.88" cy="55.3" r="1.4"/><circle cx="595.14" cy="56.78" r="1.4"/><circle cx="595.41" cy="55.26" r="1.4"/><circle cx="595.67" cy="57.51" r="1.4"/><circle cx="595.94" cy="57.58" r="1.4"/><circle cx="596.2" cy="55.4" r="1.4"/><circle cx="596.47" cy="57.71" r="1.4"/><circle cx="596.99" cy="57.82" r="1.4"/><circle cx="597.26" cy="56.73" r="1.4"/><circle cx="597.52" cy="54.23" r="1.4"/><circle cx="597.8" cy="57.27" r="1.4"/><circle cx="598.08" cy="54.75" r="1.4"/><circle cx="598.35" cy="53.68" r="1.4"/><circle cx="598.63" cy="57.8" r="1.4"/><circle cx="598.91" cy="58.51" r="1.4"/><circle cx="599.19" cy="57.34" r="1.4"/><circle cx="599.46" cy="54.39" r="1.4"/><circle cx="599.74" cy="57.79" r="1.4"/><circle cx="600.29" cy="54.66" r="1.4"/><circle cx="600.57" cy="57.74" r="1.4"/><circle cx="600.85" cy="57.98" r="1.4"/><circle cx="601.12" cy="56.68" r="1.4"/><circle cx="601.4" cy="55.93" r="1.4"/></g><g fill="none" stroke="#a465ff" stroke-width="0.65"><circle cx="607.49" cy="17.61" r="1.4"/><circle cx="609.47" cy="19.39" r="1.4"/><circle cx="608.06" cy="21.26" r="1.4"/><circle cx="608.12" cy="22.92" r="1.4"/><circle cx="608.87" cy="24.39" r="1.4"/><circle cx="608.14" cy="26.39" r="1.4"/><circle cx="609.3" cy="28.35" r="1.4"/><circle cx="609.77" cy="29.68" r="1.4"/><circle cx="609.69" cy="31.49" r="1.4"/><circle cx="609.88" cy="33.7" r="1.4"/><circle cx="609.73" cy="35.22" r="1.4"/><circle cx="610.08" cy="37.01" r="1.4"/><circle cx="610.89" cy="38.65" r="1.4"/><circle cx="612.08" cy="40.21" r="1.4"/><circle cx="613.28" cy="41.75" r="1.4"/><circle cx="613.92" cy="43.51" r="1.4"/><circle cx="614.12" cy="44.41" r="1.4"/></g><g fill="none" stroke="#7f0dff" stroke-width="0.65"><circle cx="615" cy="44.97" r="1.4"/><circle cx="615.89" cy="48.25" r="1.4"/><circle cx="616.41" cy="48.59" r="1.4"/><circle cx="616.74" cy="44.7" r="1.4"/><circle cx="617.22" cy="48.12" r="1.4"/><circle cx="617.48" cy="48.36" r="1.4"/><circle cx="617.75" cy="47.99" r="1.4"/><circle cx="618" cy="47.09" r="1.4"/><circle cx="618.4" cy="47.27" r="1.4"/><circle cx="618.4" cy="47.16" r="1.4"/><circle cx="619.02" cy="47.34" r="1.4"/><circle cx="619.12" cy="46.4" r="1.4"/><circle cx="619.47" cy="46.15" r="1.4"/><circle cx="619.75" cy="49.59" r="1.4"/><circle cx="620.02" cy="47.71" r="1.4"/><circle cx="620.29" cy="47.98" r="1.4"/><circle cx="620.56" cy="49.03" r="1.4"/><circle cx="620.83" cy="44.53" r="1.4"/><circle cx="621.12" cy="49.9" r="1.4"/><circle cx="621.71" cy="52.37" r="1.4"/><circle cx="622" cy="47.79" r="1.4"/><circle cx="622.26" cy="49.63" r="1.4"/><circle cx="622.53" cy="49.57" r="1.4"/><circle cx="622.79" cy="49.93" r="1.4"/><circle cx="623.05" cy="48.02" r="1.4"/><circle cx="623.32" cy="48.41" r="1.4"/><circle cx="623.58" cy="47.99" r="1.4"/><circle cx="623.86" cy="47.98" r="1.4"/><circle cx="624.13" cy="44.28" r="1.4"/><circle cx="624.69" cy="49.1" r="1.4"/><circle cx="624.96" cy="50.5" r="1.4"/><circle cx="625.24" cy="50.95" r="1.4"/><circle cx="625.52" cy="49.91" r="1.4"/><circle cx="625.79" cy="47.08" r="1.4"/><circle cx="626.07" cy="48.12" r="1.4"/><circle cx="626.34" cy="48.11" r="1.4"/><circle cx="626.62" cy="46.26" r="1.4"/><circle cx="626.9" cy="48.12" r="1.4"/><circle cx="627.17" cy="50.42" r="1.4"/><circle cx="627.45" cy="46.91" r="1.4"/><circle cx="627.72" cy="48.59" r="1.4"/><circle cx="628.26" cy="49.25" r="1.4"/><circle cx="628.52" cy="47.71" r="1.4"/><circle cx="628.79" cy="49.42" r="1.4"/><circle cx="629.06" cy="52.5" r="1.4"/><circle cx="629.32" cy="47.93" r="1.4"/><circle cx="629.59" cy="48.75" r="1.4"/><circle cx="629.86" cy="46.36" r="1.4"/><circle cx="630.12" cy="52.35" r="1.4"/><circle cx="630.63" cy="48.51" r="1.4"/><circle cx="630.88" cy="50.58" r="1.4"/><circle cx="631.13" cy="51.77" r="1.4"/><circle cx="631.38" cy="51.67" r="1.4"/><circle cx="631.63" cy="49.59" r="1.4"/><circle cx="632.13" cy="48.7" r="1.4"/><circle cx="632.38" cy="48.03" r="1.4"/><circle cx="632.63" cy="47.92" r="1.4"/><circle cx="632.89" cy="49.42" r="1.4"/><circle cx="633.14" cy="50.4" r="1.4"/><circle cx="633.65" cy="50.64" r="1.4"/><circle cx="633.9" cy="50.31" r="1.4"/><circle cx="634.16" cy="48.13" r="1.4"/><circle cx="634.41" cy="52.54" r="1.4"/><circle cx="634.66" cy="51.85" r="1.4"/><circle cx="634.92" cy="47.61" r="1.4"/><circle cx="635.45" cy="49.61" r="1.4"/><circle cx="635.72" cy="48.42" r="1.4"/><circle cx="636" cy="49.06" r="1.4"/><circle cx="636.28" cy="50.29" r="1.4"/><circle cx="636.55" cy="50.81" r="1.4"/><circle cx="636.83" cy="48.94" r="1.4"/><circle cx="637.1" cy="50.64" r="1.4"/><circle cx="637.38" cy="49.86" r="1.4"/><circle cx="637.65" cy="52.44" r="1.4"/><circle cx="637.91" cy="48.97" r="1.4"/><circle cx="638.44" cy="49.39" r="1.4"/><circle cx="638.7" cy="49.22" r="1.4"/><circle cx="638.96" cy="47.89" r="1.4"/><circle cx="639.22" cy="51.81" r="1.4"/><circle cx="639.48" cy="50.1" r="1.4"/><circle cx="639.74" cy="49.33" r="1.4"/><circle cx="640.26" cy="48.84" r="1.4"/><circle cx="640.53" cy="48.54" r="1.4"/><circle cx="640.79" cy="48.4" r="1.4"/><circle cx="641.05" cy="47.31" r="1.4"/><circle cx="641.32" cy="48.39" r="1.4"/><circle cx="641.58" cy="51.28" r="1.4"/><circle cx="641.85" cy="48.93" r="1.4"/><circle cx="642.37" cy="47.21" r="1.4"/><circle cx="642.63" cy="47.54" r="1.4"/><circle cx="642.88" cy="47.2" r="1.4"/><circle cx="643.14" cy="48.84" r="1.4"/><circle cx="643.39" cy="48.31" r="1.4"/><circle cx="643.65" cy="49.35" r="1.4"/><circle cx="644.16" cy="51.7" r="1.4"/><circle cx="644.41" cy="48.05" r="1.4"/><circle cx="644.67" cy="49.7" r="1.4"/><circle cx="644.92" cy="50.05" r="1.4"/><circle cx="645.18" cy="52.97" r="1.4"/><circle cx="645.45" cy="48.85" r="1.4"/><circle cx="645.97" cy="49.14" r="1.4"/><circle cx="646.23" cy="45.23" r="1.4"/><circle cx="646.49" cy="46.46" r="1.4"/><circle cx="646.76" cy="51.13" r="1.4"/><circle cx="647.02" cy="46.4" r="1.4"/><circle cx="647.28" cy="50.34" r="1.4"/><circle cx="647.54" cy="49.67" r="1.4"/><circle cx="648.06" cy="48.29" r="1.4"/><circle cx="648.32" cy="47.91" r="1.4"/><circle cx="648.57" cy="45.29" r="1.4"/><circle cx="648.83" cy="47.23" r="1.4"/><circle cx="649.09" cy="46.14" r="1.4"/><circle cx="649.35" cy="47.82" r="1.4"/><circle cx="649.61" cy="46.13" r="1.4"/><circle cx="650.12" cy="47.73" r="1.4"/><circle cx="650.4" cy="48.25" r="1.4"/><circle cx="650.67" cy="48.47" r="1.4"/><circle cx="650.94" cy="48.15" r="1.4"/><circle cx="651.21" cy="51.98" r="1.4"/><circle cx="651.48" cy="49.85" r="1.4"/><circle cx="651.75" cy="49.04" r="1.4"/><circle cx="652.03" cy="48.88" r="1.4"/><circle cx="652.57" cy="46.23" r="1.4"/><circle cx="652.84" cy="50.54" r="1.4"/><circle cx="653.12" cy="46.19" r="1.4"/><circle cx="653.39" cy="47.52" r="1.4"/><circle cx="653.67" cy="49.05" r="1.4"/><circle cx="653.94" cy="45.99" r="1.4"/><circle cx="654.22" cy="50.56" r="1.4"/><circle cx="654.49" cy="46.03" r="1.4"/><circle cx="654.77" cy="48.66" r="1.4"/><circle cx="655.03" cy="48.68" r="1.4"/><circle cx="655.56" cy="46.94" r="1.4"/><circle cx="655.82" cy="47.42" r="1.4"/><circle cx="656.08" cy="49.58" r="1.4"/><circle cx="656.35" cy="51.16" r="1.4"/><circle cx="656.61" cy="47.58" r="1.4"/><circle cx="656.89" cy="49.24" r="1.4"/><circle cx="657.17" cy="46.78" r="1.4"/><circle cx="657.44" cy="45.9" r="1.4"/><circle cx="657.72" cy="50.28" r="1.4"/></g><polyline points="508.2,141 506.7,147.7 509.6,149.1 512.5,142 514.4,146.3 517.3,142 517.8,137.1 520.2,135.7 520.6,128 523,126.6 524.5,117.5 525.4,121.8 527.4,124.7 527.8,129.5 530.7,132.8 532.1,139.5 533.1,144.3 535.5,136.7 537.9,133.3 540.3,136.7 543.2,139.5 546.1,136.2 548,132.4 550.9,134.8 553.3,128.5 555.7,134.8 558.1,143.9 561.9,132.7 566.6,137.4 571.3,126.9 574.8,138.6 577,131.5 580.9,125 584.2,128.3 588.8,138.1 592.1,127.6 594.7,125.6 597,129 600,119.7 603.3,117.7 606.5,109.2 609.8,118.4 612.5,126.3 614.4,133.5 617,134.8 619.7,124.3 623.6,128.3 627.6,129.6 632.8,125.6 638.1,128.3 642,129.6 646,126.3 648.6,119 651.9,126.3 655.2,121.7 659.8,121.7" fill="none" stroke="#0000ff" stroke-width="3.4" stroke-linecap="round" stroke-linejoin="round"/><g fill="#0000ff"><circle cx="508.2" cy="141.38" r="1.75"/><circle cx="508" cy="142.46" r="1.75"/><circle cx="507.81" cy="142.56" r="1.75"/><circle cx="507.61" cy="145.29" r="1.75"/><circle cx="507.41" cy="143.43" r="1.75"/><circle cx="507.22" cy="145.97" r="1.75"/><circle cx="507.02" cy="146.01" r="1.75"/><circle cx="506.82" cy="147.11" r="1.75"/><circle cx="507" cy="147.43" r="1.75"/><circle cx="507.81" cy="148.23" r="1.75"/><circle cx="508.62" cy="150.35" r="1.75"/><circle cx="509.43" cy="149.43" r="1.75"/><circle cx="509.87" cy="149.18" r="1.75"/><circle cx="510.21" cy="148.21" r="1.75"/><circle cx="510.55" cy="146.04" r="1.75"/><circle cx="510.89" cy="147.23" r="1.75"/><circle cx="511.23" cy="144.37" r="1.75"/><circle cx="511.57" cy="144.79" r="1.75"/><circle cx="511.91" cy="144.13" r="1.75"/><circle cx="512.25" cy="143.51" r="1.75"/><circle cx="512.6" cy="141.65" r="1.75"/><circle cx="512.96" cy="142.88" r="1.75"/><circle cx="513.33" cy="143.35" r="1.75"/><circle cx="513.69" cy="146.35" r="1.75"/><circle cx="514.05" cy="146.05" r="1.75"/><circle cx="514.42" cy="145.33" r="1.75"/><circle cx="514.93" cy="145.95" r="1.75"/><circle cx="515.43" cy="143.95" r="1.75"/><circle cx="515.93" cy="143.81" r="1.75"/><circle cx="516.44" cy="143.67" r="1.75"/><circle cx="516.94" cy="142.04" r="1.75"/><circle cx="517.33" cy="142.58" r="1.75"/><circle cx="517.42" cy="140.73" r="1.75"/><circle cx="517.51" cy="140.79" r="1.75"/><circle cx="517.6" cy="138.55" r="1.75"/><circle cx="517.69" cy="137.5" r="1.75"/><circle cx="517.78" cy="137.04" r="1.75"/><circle cx="518.43" cy="136.57" r="1.75"/><circle cx="519.21" cy="135.15" r="1.75"/><circle cx="519.99" cy="137.23" r="1.75"/><circle cx="520.23" cy="133.86" r="1.75"/><circle cx="520.28" cy="134.62" r="1.75"/><circle cx="520.33" cy="132.57" r="1.75"/><circle cx="520.37" cy="131.64" r="1.75"/><circle cx="520.42" cy="132.19" r="1.75"/><circle cx="520.47" cy="130.22" r="1.75"/><circle cx="520.51" cy="129.17" r="1.75"/><circle cx="520.56" cy="129" r="1.75"/><circle cx="520.72" cy="128.68" r="1.75"/><circle cx="521.5" cy="127.05" r="1.75"/><circle cx="522.28" cy="127.66" r="1.75"/><circle cx="523.01" cy="126.35" r="1.75"/><circle cx="523.16" cy="126.42" r="1.75"/><circle cx="523.3" cy="125.15" r="1.75"/><circle cx="523.45" cy="124.36" r="1.75"/><circle cx="523.6" cy="122.84" r="1.75"/><circle cx="523.74" cy="123.77" r="1.75"/><circle cx="523.89" cy="121.68" r="1.75"/><circle cx="524.04" cy="119.27" r="1.75"/><circle cx="524.18" cy="119.85" r="1.75"/><circle cx="524.33" cy="117.64" r="1.75"/><circle cx="524.47" cy="117.23" r="1.75"/><circle cx="524.65" cy="117.58" r="1.75"/><circle cx="524.84" cy="120.46" r="1.75"/><circle cx="525.02" cy="119.87" r="1.75"/><circle cx="525.2" cy="120.42" r="1.75"/><circle cx="525.39" cy="121.52" r="1.75"/><circle cx="525.88" cy="121.58" r="1.75"/><circle cx="526.39" cy="124.75" r="1.75"/><circle cx="526.9" cy="124.57" r="1.75"/><circle cx="527.4" cy="125.15" r="1.75"/><circle cx="527.48" cy="124.42" r="1.75"/><circle cx="527.55" cy="127.28" r="1.75"/><circle cx="527.63" cy="127.86" r="1.75"/><circle cx="527.7" cy="126.66" r="1.75"/><circle cx="527.78" cy="128.29" r="1.75"/><circle cx="528.2" cy="129.17" r="1.75"/><circle cx="528.8" cy="130.15" r="1.75"/><circle cx="529.39" cy="131.98" r="1.75"/><circle cx="529.98" cy="131.29" r="1.75"/><circle cx="530.58" cy="134.15" r="1.75"/><circle cx="530.85" cy="133.31" r="1.75"/><circle cx="531.03" cy="132.88" r="1.75"/><circle cx="531.21" cy="135.8" r="1.75"/><circle cx="531.4" cy="136.48" r="1.75"/><circle cx="531.58" cy="137" r="1.75"/><circle cx="531.77" cy="136.99" r="1.75"/><circle cx="531.95" cy="139.38" r="1.75"/><circle cx="532.13" cy="141.19" r="1.75"/><circle cx="532.32" cy="139.07" r="1.75"/><circle cx="532.5" cy="142.4" r="1.75"/><circle cx="532.69" cy="141.37" r="1.75"/><circle cx="532.87" cy="142.17" r="1.75"/><circle cx="533.05" cy="142.59" r="1.75"/><circle cx="533.3" cy="142.34" r="1.75"/><circle cx="533.57" cy="143.72" r="1.75"/><circle cx="533.84" cy="140.89" r="1.75"/><circle cx="534.11" cy="141.38" r="1.75"/><circle cx="534.39" cy="139.33" r="1.75"/><circle cx="534.66" cy="139.92" r="1.75"/><circle cx="534.93" cy="138.86" r="1.75"/><circle cx="535.2" cy="135.72" r="1.75"/><circle cx="535.47" cy="136.08" r="1.75"/><circle cx="535.96" cy="135.75" r="1.75"/><circle cx="536.48" cy="134.71" r="1.75"/><circle cx="537" cy="134.6" r="1.75"/><circle cx="537.52" cy="134.33" r="1.75"/><circle cx="538.04" cy="133.81" r="1.75"/><circle cx="538.56" cy="133.74" r="1.75"/><circle cx="539.07" cy="135.33" r="1.75"/><circle cx="539.59" cy="136.06" r="1.75"/><circle cx="540.11" cy="135.9" r="1.75"/><circle cx="540.71" cy="138" r="1.75"/><circle cx="541.36" cy="139.12" r="1.75"/><circle cx="542.01" cy="139.83" r="1.75"/><circle cx="542.66" cy="138.05" r="1.75"/><circle cx="543.29" cy="139.66" r="1.75"/><circle cx="543.89" cy="138.88" r="1.75"/><circle cx="544.48" cy="138.17" r="1.75"/><circle cx="545.08" cy="136.43" r="1.75"/><circle cx="545.67" cy="136.28" r="1.75"/><circle cx="546.21" cy="135.9" r="1.75"/><circle cx="546.61" cy="136.76" r="1.75"/><circle cx="547.02" cy="134.33" r="1.75"/><circle cx="547.42" cy="133.39" r="1.75"/><circle cx="547.82" cy="132.73" r="1.75"/><circle cx="548.39" cy="132.78" r="1.75"/><circle cx="549.08" cy="133.64" r="1.75"/><circle cx="549.77" cy="133.02" r="1.75"/><circle cx="550.47" cy="134.88" r="1.75"/><circle cx="551.02" cy="134.86" r="1.75"/><circle cx="551.34" cy="134.87" r="1.75"/><circle cx="551.66" cy="132.72" r="1.75"/><circle cx="551.98" cy="133.14" r="1.75"/><circle cx="552.3" cy="131.71" r="1.75"/><circle cx="552.62" cy="129.82" r="1.75"/><circle cx="552.94" cy="129.21" r="1.75"/><circle cx="553.26" cy="128.02" r="1.75"/><circle cx="553.58" cy="127.99" r="1.75"/><circle cx="553.9" cy="130.29" r="1.75"/><circle cx="554.22" cy="131.06" r="1.75"/><circle cx="554.54" cy="130.66" r="1.75"/><circle cx="554.86" cy="133.35" r="1.75"/><circle cx="555.19" cy="134.42" r="1.75"/><circle cx="555.51" cy="134.25" r="1.75"/><circle cx="555.79" cy="135.28" r="1.75"/><circle cx="556.02" cy="137.36" r="1.75"/><circle cx="556.25" cy="136.05" r="1.75"/><circle cx="556.48" cy="137.98" r="1.75"/><circle cx="556.71" cy="139.76" r="1.75"/><circle cx="556.94" cy="139.93" r="1.75"/><circle cx="557.17" cy="139.61" r="1.75"/><circle cx="557.4" cy="141.45" r="1.75"/><circle cx="557.63" cy="142.38" r="1.75"/><circle cx="557.86" cy="142.6" r="1.75"/><circle cx="558.09" cy="144.43" r="1.75"/><circle cx="558.37" cy="143.33" r="1.75"/><circle cx="558.66" cy="140.38" r="1.75"/><circle cx="558.95" cy="141.29" r="1.75"/><circle cx="559.24" cy="139.76" r="1.75"/><circle cx="559.53" cy="138.27" r="1.75"/><circle cx="559.82" cy="138.94" r="1.75"/><circle cx="560.11" cy="139.02" r="1.75"/><circle cx="560.39" cy="137.21" r="1.75"/><circle cx="560.68" cy="135.05" r="1.75"/><circle cx="560.97" cy="135.49" r="1.75"/><circle cx="561.26" cy="133.94" r="1.75"/><circle cx="561.55" cy="134.03" r="1.75"/><circle cx="561.84" cy="131.7" r="1.75"/><circle cx="562.41" cy="133.32" r="1.75"/><circle cx="563.04" cy="134.42" r="1.75"/><circle cx="563.68" cy="134.04" r="1.75"/><circle cx="564.32" cy="135.77" r="1.75"/><circle cx="564.95" cy="136.13" r="1.75"/><circle cx="565.59" cy="136.68" r="1.75"/><circle cx="566.22" cy="136.08" r="1.75"/><circle cx="566.75" cy="137.17" r="1.75"/><circle cx="567.12" cy="135.98" r="1.75"/><circle cx="567.49" cy="135.57" r="1.75"/><circle cx="567.85" cy="133.48" r="1.75"/><circle cx="568.22" cy="134.93" r="1.75"/><circle cx="568.59" cy="132.11" r="1.75"/><circle cx="568.96" cy="133.5" r="1.75"/><circle cx="569.32" cy="131.15" r="1.75"/><circle cx="569.69" cy="132.84" r="1.75"/><circle cx="570.06" cy="130.46" r="1.75"/><circle cx="570.43" cy="127.4" r="1.75"/><circle cx="570.8" cy="127.05" r="1.75"/><circle cx="571.16" cy="127.29" r="1.75"/><circle cx="571.46" cy="127.23" r="1.75"/><circle cx="571.72" cy="128.36" r="1.75"/><circle cx="571.98" cy="131.01" r="1.75"/><circle cx="572.24" cy="131.2" r="1.75"/><circle cx="572.49" cy="130.41" r="1.75"/><circle cx="572.75" cy="131.45" r="1.75"/><circle cx="573.01" cy="132.74" r="1.75"/><circle cx="573.27" cy="133.1" r="1.75"/><circle cx="573.53" cy="134.13" r="1.75"/><circle cx="573.78" cy="136.54" r="1.75"/><circle cx="574.04" cy="136.88" r="1.75"/><circle cx="574.3" cy="137.79" r="1.75"/><circle cx="574.56" cy="136.65" r="1.75"/><circle cx="574.82" cy="138.57" r="1.75"/><circle cx="575.08" cy="137.18" r="1.75"/><circle cx="575.35" cy="136.81" r="1.75"/><circle cx="575.61" cy="135.17" r="1.75"/><circle cx="575.88" cy="135.24" r="1.75"/><circle cx="576.15" cy="134.06" r="1.75"/><circle cx="576.41" cy="133.45" r="1.75"/><circle cx="576.68" cy="132.36" r="1.75"/><circle cx="576.95" cy="130.39" r="1.75"/><circle cx="577.37" cy="130.99" r="1.75"/><circle cx="577.83" cy="129.67" r="1.75"/><circle cx="578.3" cy="129.51" r="1.75"/><circle cx="578.76" cy="128.42" r="1.75"/><circle cx="579.22" cy="128.08" r="1.75"/><circle cx="579.69" cy="125.48" r="1.75"/><circle cx="580.15" cy="125.95" r="1.75"/><circle cx="580.61" cy="125.98" r="1.75"/><circle cx="581.14" cy="124.79" r="1.75"/><circle cx="581.78" cy="124.5" r="1.75"/><circle cx="582.41" cy="126.42" r="1.75"/><circle cx="583.05" cy="127.33" r="1.75"/><circle cx="583.69" cy="126.77" r="1.75"/><circle cx="584.27" cy="128.34" r="1.75"/><circle cx="584.66" cy="129.88" r="1.75"/><circle cx="585.04" cy="128.65" r="1.75"/><circle cx="585.42" cy="129.48" r="1.75"/><circle cx="585.8" cy="130.92" r="1.75"/><circle cx="586.19" cy="132.33" r="1.75"/><circle cx="586.57" cy="131.93" r="1.75"/><circle cx="586.95" cy="134.85" r="1.75"/><circle cx="587.33" cy="136.7" r="1.75"/><circle cx="587.72" cy="136.24" r="1.75"/><circle cx="588.1" cy="137.28" r="1.75"/><circle cx="588.48" cy="138" r="1.75"/><circle cx="588.84" cy="138.45" r="1.75"/><circle cx="589.11" cy="136.96" r="1.75"/><circle cx="589.38" cy="135.68" r="1.75"/><circle cx="589.65" cy="133.19" r="1.75"/><circle cx="589.92" cy="133.89" r="1.75"/><circle cx="590.19" cy="134.49" r="1.75"/><circle cx="590.46" cy="132.88" r="1.75"/><circle cx="590.73" cy="130.77" r="1.75"/><circle cx="591" cy="132.3" r="1.75"/><circle cx="591.27" cy="128.57" r="1.75"/><circle cx="591.54" cy="128.43" r="1.75"/><circle cx="591.81" cy="129.43" r="1.75"/><circle cx="592.08" cy="128.69" r="1.75"/><circle cx="592.77" cy="127.82" r="1.75"/><circle cx="593.48" cy="126.44" r="1.75"/><circle cx="594.19" cy="125.77" r="1.75"/><circle cx="594.85" cy="125.36" r="1.75"/><circle cx="595.35" cy="127.53" r="1.75"/><circle cx="595.85" cy="125.36" r="1.75"/><circle cx="596.36" cy="128.35" r="1.75"/><circle cx="596.86" cy="130.49" r="1.75"/><circle cx="597.2" cy="128.43" r="1.75"/><circle cx="597.48" cy="125.16" r="1.75"/><circle cx="597.75" cy="127.43" r="1.75"/><circle cx="598.03" cy="124.68" r="1.75"/><circle cx="598.31" cy="123.61" r="1.75"/><circle cx="598.58" cy="124.71" r="1.75"/><circle cx="598.86" cy="123.45" r="1.75"/><circle cx="599.14" cy="122.98" r="1.75"/><circle cx="599.41" cy="121.27" r="1.75"/><circle cx="599.69" cy="120.03" r="1.75"/><circle cx="599.96" cy="119.1" r="1.75"/><circle cx="600.67" cy="119.57" r="1.75"/><circle cx="601.44" cy="118.88" r="1.75"/><circle cx="602.21" cy="118.7" r="1.75"/><circle cx="602.98" cy="118.5" r="1.75"/><circle cx="603.48" cy="116.98" r="1.75"/><circle cx="603.8" cy="117.72" r="1.75"/><circle cx="604.12" cy="115.85" r="1.75"/><circle cx="604.44" cy="115.46" r="1.75"/><circle cx="604.75" cy="113.03" r="1.75"/><circle cx="605.07" cy="112.64" r="1.75"/><circle cx="605.39" cy="111.85" r="1.75"/><circle cx="605.7" cy="111.14" r="1.75"/><circle cx="606.02" cy="109.97" r="1.75"/><circle cx="606.34" cy="108.49" r="1.75"/><circle cx="606.65" cy="109.05" r="1.75"/><circle cx="606.95" cy="110.5" r="1.75"/><circle cx="607.26" cy="111.05" r="1.75"/><circle cx="607.56" cy="111.26" r="1.75"/><circle cx="607.86" cy="112.58" r="1.75"/><circle cx="608.17" cy="114.14" r="1.75"/><circle cx="608.47" cy="114.61" r="1.75"/><circle cx="608.78" cy="114.7" r="1.75"/><circle cx="609.08" cy="116.68" r="1.75"/><circle cx="609.38" cy="117.39" r="1.75"/><circle cx="609.69" cy="119.59" r="1.75"/><circle cx="609.98" cy="119.91" r="1.75"/><circle cx="610.27" cy="120.87" r="1.75"/><circle cx="610.57" cy="121.4" r="1.75"/><circle cx="610.86" cy="121.44" r="1.75"/><circle cx="611.15" cy="123.77" r="1.75"/><circle cx="611.44" cy="123.96" r="1.75"/><circle cx="611.73" cy="123.48" r="1.75"/><circle cx="612.02" cy="125.43" r="1.75"/><circle cx="612.31" cy="126.26" r="1.75"/><circle cx="612.58" cy="125.91" r="1.75"/><circle cx="612.81" cy="127.29" r="1.75"/><circle cx="613.04" cy="127.05" r="1.75"/><circle cx="613.27" cy="129.41" r="1.75"/><circle cx="613.5" cy="130.24" r="1.75"/><circle cx="613.73" cy="131.27" r="1.75"/><circle cx="613.96" cy="132.05" r="1.75"/><circle cx="614.19" cy="132.76" r="1.75"/><circle cx="614.47" cy="134.39" r="1.75"/><circle cx="615.27" cy="134.14" r="1.75"/><circle cx="616.08" cy="135.03" r="1.75"/><circle cx="616.88" cy="134.35" r="1.75"/><circle cx="617.19" cy="134.3" r="1.75"/><circle cx="617.41" cy="132.16" r="1.75"/><circle cx="617.64" cy="130.82" r="1.75"/><circle cx="617.86" cy="131.14" r="1.75"/><circle cx="618.09" cy="130.23" r="1.75"/><circle cx="618.31" cy="130.19" r="1.75"/><circle cx="618.54" cy="128.41" r="1.75"/><circle cx="618.76" cy="128.27" r="1.75"/><circle cx="618.98" cy="126.68" r="1.75"/><circle cx="619.21" cy="125.9" r="1.75"/><circle cx="619.43" cy="125.55" r="1.75"/><circle cx="619.66" cy="125.6" r="1.75"/><circle cx="620.21" cy="125.13" r="1.75"/><circle cx="620.83" cy="125.37" r="1.75"/><circle cx="621.46" cy="126.21" r="1.75"/><circle cx="622.09" cy="125.96" r="1.75"/><circle cx="622.72" cy="127.53" r="1.75"/><circle cx="623.35" cy="127.05" r="1.75"/><circle cx="624.11" cy="129.4" r="1.75"/><circle cx="624.97" cy="128.03" r="1.75"/><circle cx="625.82" cy="130.16" r="1.75"/><circle cx="626.68" cy="128.86" r="1.75"/><circle cx="627.54" cy="128.98" r="1.75"/><circle cx="628.26" cy="128.8" r="1.75"/><circle cx="628.97" cy="129.61" r="1.75"/><circle cx="629.69" cy="127.8" r="1.75"/><circle cx="630.4" cy="127.66" r="1.75"/><circle cx="631.11" cy="127.06" r="1.75"/><circle cx="631.83" cy="127.59" r="1.75"/><circle cx="632.54" cy="124.85" r="1.75"/><circle cx="633.31" cy="126.56" r="1.75"/><circle cx="634.11" cy="126.42" r="1.75"/><circle cx="634.91" cy="127.58" r="1.75"/><circle cx="635.71" cy="126.94" r="1.75"/><circle cx="636.52" cy="127.62" r="1.75"/><circle cx="637.32" cy="127.52" r="1.75"/><circle cx="638.12" cy="127.84" r="1.75"/><circle cx="638.98" cy="128.59" r="1.75"/><circle cx="639.83" cy="130.89" r="1.75"/><circle cx="640.68" cy="129.9" r="1.75"/><circle cx="641.54" cy="130.44" r="1.75"/><circle cx="642.32" cy="129.45" r="1.75"/><circle cx="643.01" cy="130.04" r="1.75"/><circle cx="643.71" cy="128.19" r="1.75"/><circle cx="644.4" cy="128.5" r="1.75"/><circle cx="645.1" cy="126.57" r="1.75"/><circle cx="645.79" cy="126.93" r="1.75"/><circle cx="646.21" cy="127.11" r="1.75"/><circle cx="646.51" cy="125.21" r="1.75"/><circle cx="646.81" cy="123.87" r="1.75"/><circle cx="647.12" cy="122.99" r="1.75"/><circle cx="647.42" cy="122.8" r="1.75"/><circle cx="647.72" cy="121.02" r="1.75"/><circle cx="648.02" cy="121.53" r="1.75"/><circle cx="648.32" cy="118.43" r="1.75"/><circle cx="648.63" cy="118.9" r="1.75"/><circle cx="649" cy="119.6" r="1.75"/><circle cx="649.37" cy="121.28" r="1.75"/><circle cx="649.74" cy="121.62" r="1.75"/><circle cx="650.11" cy="122.99" r="1.75"/><circle cx="650.49" cy="122.84" r="1.75"/><circle cx="650.86" cy="124.46" r="1.75"/><circle cx="651.23" cy="123.63" r="1.75"/><circle cx="651.6" cy="124.84" r="1.75"/><circle cx="652" cy="126.56" r="1.75"/><circle cx="652.52" cy="124.54" r="1.75"/><circle cx="653.05" cy="123.08" r="1.75"/><circle cx="653.57" cy="123.85" r="1.75"/><circle cx="654.1" cy="124.02" r="1.75"/><circle cx="654.62" cy="122.29" r="1.75"/><circle cx="655.14" cy="121.2" r="1.75"/><circle cx="656.01" cy="122.46" r="1.75"/><circle cx="656.91" cy="121.52" r="1.75"/><circle cx="657.81" cy="122.29" r="1.75"/><circle cx="658.71" cy="121.06" r="1.75"/><circle cx="659.61" cy="120.43" r="1.75"/><circle cx="659.8" cy="121.75" r="1.75"/></g><circle cx="598" cy="134.2" r="1.8" fill="#0000ff"/><rect x="603.3" y="67" width="61.5" height="33.7" fill="#fff" stroke="#8a8a8a" stroke-width="0.9"/><circle cx="619.6" cy="76.4" r="2.1" fill="#0000ff"/><circle cx="619.6" cy="91.7" r="1.7" fill="none" stroke="#a070ff" stroke-width="0.7"/><g fill="none" stroke="#22d822" stroke-width="0.7"><circle cx="64" cy="265.74" r="1.45"/><circle cx="64.5" cy="266.41" r="1.45"/><circle cx="65" cy="266.44" r="1.45"/><circle cx="65.5" cy="267.56" r="1.45"/><circle cx="66" cy="266.63" r="1.45"/><circle cx="66.5" cy="267.79" r="1.45"/><circle cx="67" cy="266.42" r="1.45"/><circle cx="67.5" cy="266.02" r="1.45"/><circle cx="68" cy="265.63" r="1.45"/><circle cx="68.5" cy="267.09" r="1.45"/><circle cx="69" cy="267.28" r="1.45"/><circle cx="69.5" cy="266.78" r="1.45"/><circle cx="70" cy="267.12" r="1.45"/><circle cx="70.5" cy="267.14" r="1.45"/><circle cx="71" cy="266.31" r="1.45"/><circle cx="71.5" cy="267.57" r="1.45"/><circle cx="72" cy="266.82" r="1.45"/><circle cx="72.5" cy="266.65" r="1.45"/><circle cx="73" cy="266.22" r="1.45"/><circle cx="73.5" cy="268.01" r="1.45"/><circle cx="74" cy="265.18" r="1.45"/><circle cx="74.51" cy="265.76" r="1.45"/><circle cx="75.01" cy="264.69" r="1.45"/><circle cx="75.52" cy="267.76" r="1.45"/><circle cx="76.02" cy="267.08" r="1.45"/><circle cx="76.53" cy="265.61" r="1.45"/><circle cx="77.03" cy="265.27" r="1.45"/><circle cx="77.54" cy="266.23" r="1.45"/><circle cx="78.04" cy="266.56" r="1.45"/><circle cx="78.55" cy="265.87" r="1.45"/><circle cx="79.05" cy="266.47" r="1.45"/><circle cx="79.56" cy="267.45" r="1.45"/><circle cx="80.06" cy="266.42" r="1.45"/><circle cx="80.57" cy="267.57" r="1.45"/><circle cx="81.07" cy="266.37" r="1.45"/><circle cx="81.58" cy="267.52" r="1.45"/><circle cx="82.08" cy="266.27" r="1.45"/><circle cx="82.59" cy="267.12" r="1.45"/><circle cx="83.09" cy="267.02" r="1.45"/><circle cx="83.6" cy="266.38" r="1.45"/></g><circle cx="83.6" cy="266.3" r="1.45" fill="#fff" stroke="#22d822" stroke-width="0.7"/><g fill="none" stroke="#4ade4a" stroke-width="0.7"><circle cx="88.24" cy="190.44" r="1.45"/><circle cx="88.22" cy="192.01" r="1.45"/><circle cx="87.79" cy="192.98" r="1.45"/><circle cx="88.16" cy="195.44" r="1.45"/><circle cx="88.2" cy="195.94" r="1.45"/><circle cx="88.05" cy="197.79" r="1.45"/><circle cx="88.72" cy="199.17" r="1.45"/><circle cx="88.54" cy="200.65" r="1.45"/><circle cx="88.27" cy="201.86" r="1.45"/><circle cx="88.38" cy="203.48" r="1.45"/><circle cx="88.65" cy="204.47" r="1.45"/><circle cx="88.89" cy="206.75" r="1.45"/><circle cx="88.74" cy="208.28" r="1.45"/><circle cx="88.79" cy="208.96" r="1.45"/><circle cx="88.64" cy="210.93" r="1.45"/><circle cx="88.43" cy="212.07" r="1.45"/><circle cx="88.85" cy="213.83" r="1.45"/><circle cx="88.6" cy="215.12" r="1.45"/><circle cx="88.62" cy="216.58" r="1.45"/><circle cx="88.81" cy="218.35" r="1.45"/><circle cx="88.32" cy="219.5" r="1.45"/><circle cx="89.46" cy="220.99" r="1.45"/><circle cx="89.01" cy="222.7" r="1.45"/><circle cx="88.66" cy="223.4" r="1.45"/><circle cx="88.48" cy="224.85" r="1.45"/><circle cx="89.18" cy="227.04" r="1.45"/><circle cx="89.01" cy="227.94" r="1.45"/><circle cx="89.34" cy="229.91" r="1.45"/><circle cx="89.35" cy="230.43" r="1.45"/><circle cx="89.14" cy="231.8" r="1.45"/><circle cx="89.47" cy="233.65" r="1.45"/><circle cx="89.23" cy="235.95" r="1.45"/><circle cx="89.97" cy="236.99" r="1.45"/><circle cx="89.69" cy="238.47" r="1.45"/><circle cx="89.46" cy="239.69" r="1.45"/><circle cx="90.39" cy="240.96" r="1.45"/><circle cx="89.6" cy="242.86" r="1.45"/><circle cx="90.22" cy="244.43" r="1.45"/><circle cx="89.68" cy="245.57" r="1.45"/><circle cx="90.04" cy="246.79" r="1.45"/><circle cx="90.28" cy="248.33" r="1.45"/><circle cx="90.71" cy="249.92" r="1.45"/><circle cx="90.36" cy="251.44" r="1.45"/><circle cx="90.79" cy="252.61" r="1.45"/><circle cx="91.2" cy="254.59" r="1.45"/><circle cx="91.66" cy="255" r="1.45"/><circle cx="92.02" cy="257" r="1.45"/><circle cx="93.63" cy="257.81" r="1.45"/><circle cx="93.58" cy="259.23" r="1.45"/><circle cx="94" cy="260.39" r="1.45"/></g><g fill="none" stroke="#22d822" stroke-width="0.7"><circle cx="94.98" cy="261.1" r="1.45"/><circle cx="95.92" cy="261.44" r="1.45"/><circle cx="96.34" cy="262.64" r="1.45"/><circle cx="96.77" cy="261.92" r="1.45"/><circle cx="97" cy="263.02" r="1.45"/><circle cx="97.45" cy="262" r="1.45"/><circle cx="98.28" cy="263.74" r="1.45"/><circle cx="98.48" cy="264.58" r="1.45"/><circle cx="98.97" cy="263.97" r="1.45"/><circle cx="99.23" cy="263.5" r="1.45"/><circle cx="99.88" cy="264.33" r="1.45"/><circle cx="100.42" cy="265.1" r="1.45"/><circle cx="100.69" cy="263.99" r="1.45"/><circle cx="101.19" cy="265.62" r="1.45"/><circle cx="101.7" cy="264.91" r="1.45"/><circle cx="102.3" cy="265.09" r="1.45"/><circle cx="102.91" cy="264.73" r="1.45"/><circle cx="103.18" cy="266.07" r="1.45"/><circle cx="103.72" cy="263.89" r="1.45"/><circle cx="104.26" cy="265.31" r="1.45"/><circle cx="104.76" cy="264.67" r="1.45"/><circle cx="105.26" cy="265.36" r="1.45"/><circle cx="105.76" cy="264.77" r="1.45"/><circle cx="106.31" cy="266.99" r="1.45"/><circle cx="106.58" cy="266.1" r="1.45"/><circle cx="107.12" cy="265.78" r="1.45"/><circle cx="107.64" cy="266.19" r="1.45"/><circle cx="108.14" cy="265.36" r="1.45"/><circle cx="108.64" cy="264.91" r="1.45"/><circle cx="109.14" cy="266.57" r="1.45"/><circle cx="109.67" cy="265.91" r="1.45"/><circle cx="110.21" cy="266.23" r="1.45"/><circle cx="110.74" cy="264.84" r="1.45"/><circle cx="111.28" cy="265.7" r="1.45"/><circle cx="111.56" cy="264.63" r="1.45"/><circle cx="112.12" cy="265.46" r="1.45"/><circle cx="112.68" cy="264.56" r="1.45"/><circle cx="113.21" cy="266.43" r="1.45"/><circle cx="113.72" cy="266.24" r="1.45"/><circle cx="114.23" cy="266.02" r="1.45"/><circle cx="114.74" cy="267.42" r="1.45"/><circle cx="115.27" cy="266.38" r="1.45"/><circle cx="115.81" cy="265.01" r="1.45"/><circle cx="116.09" cy="267.52" r="1.45"/><circle cx="116.63" cy="263.69" r="1.45"/><circle cx="117.17" cy="264.62" r="1.45"/><circle cx="117.69" cy="265.35" r="1.45"/><circle cx="118.21" cy="265.28" r="1.45"/><circle cx="118.72" cy="265.56" r="1.45"/><circle cx="119.24" cy="265.75" r="1.45"/><circle cx="119.77" cy="265.3" r="1.45"/><circle cx="120.32" cy="264.72" r="1.45"/><circle cx="120.59" cy="265.65" r="1.45"/><circle cx="121.13" cy="265.47" r="1.45"/><circle cx="121.68" cy="264.96" r="1.45"/><circle cx="122.21" cy="266.4" r="1.45"/><circle cx="122.72" cy="265.7" r="1.45"/><circle cx="123.23" cy="267.06" r="1.45"/><circle cx="123.74" cy="264.47" r="1.45"/><circle cx="124.25" cy="266.62" r="1.45"/><circle cx="124.76" cy="266.3" r="1.45"/><circle cx="125.28" cy="266.11" r="1.45"/><circle cx="125.81" cy="265.44" r="1.45"/><circle cx="126.07" cy="266.08" r="1.45"/><circle cx="126.59" cy="265.46" r="1.45"/><circle cx="127.11" cy="266.13" r="1.45"/><circle cx="127.64" cy="264.19" r="1.45"/><circle cx="128.17" cy="266.94" r="1.45"/><circle cx="128.7" cy="265.43" r="1.45"/><circle cx="129.22" cy="265.23" r="1.45"/><circle cx="129.75" cy="267.36" r="1.45"/><circle cx="130.28" cy="265.78" r="1.45"/><circle cx="130.81" cy="265.2" r="1.45"/><circle cx="131.07" cy="265.83" r="1.45"/><circle cx="131.6" cy="266.7" r="1.45"/><circle cx="132.13" cy="265.48" r="1.45"/><circle cx="132.65" cy="266.46" r="1.45"/><circle cx="133.17" cy="265.62" r="1.45"/><circle cx="133.7" cy="267.09" r="1.45"/><circle cx="134.22" cy="266.13" r="1.45"/><circle cx="134.74" cy="266.39" r="1.45"/><circle cx="135.27" cy="266.04" r="1.45"/><circle cx="135.82" cy="265.68" r="1.45"/><circle cx="136.1" cy="265.2" r="1.45"/><circle cx="136.65" cy="267.1" r="1.45"/><circle cx="137.2" cy="265.37" r="1.45"/><circle cx="137.75" cy="264.29" r="1.45"/><circle cx="138.29" cy="266.15" r="1.45"/><circle cx="138.56" cy="264.17" r="1.45"/><circle cx="139.1" cy="266.44" r="1.45"/><circle cx="139.65" cy="266.9" r="1.45"/><circle cx="140.19" cy="266.69" r="1.45"/><circle cx="140.73" cy="265.8" r="1.45"/><circle cx="141.25" cy="267.27" r="1.45"/><circle cx="141.76" cy="265.78" r="1.45"/><circle cx="142.28" cy="265.31" r="1.45"/><circle cx="142.8" cy="265.25" r="1.45"/><circle cx="143.05" cy="264.24" r="1.45"/><circle cx="143.57" cy="267.04" r="1.45"/><circle cx="144.08" cy="265.89" r="1.45"/><circle cx="144.6" cy="265.69" r="1.45"/><circle cx="145.11" cy="264.61" r="1.45"/><circle cx="145.62" cy="265.57" r="1.45"/><circle cx="146.13" cy="265.52" r="1.45"/><circle cx="146.64" cy="264.67" r="1.45"/><circle cx="147.17" cy="266.12" r="1.45"/><circle cx="147.7" cy="266.24" r="1.45"/><circle cx="148.23" cy="266.05" r="1.45"/><circle cx="148.76" cy="265.67" r="1.45"/><circle cx="149.29" cy="265.62" r="1.45"/><circle cx="149.82" cy="264.36" r="1.45"/><circle cx="150.08" cy="266.14" r="1.45"/><circle cx="150.6" cy="265.51" r="1.45"/><circle cx="151.13" cy="264.56" r="1.45"/><circle cx="151.65" cy="266.48" r="1.45"/><circle cx="152.18" cy="264.28" r="1.45"/><circle cx="152.72" cy="264.35" r="1.45"/><circle cx="153.27" cy="266.9" r="1.45"/><circle cx="153.82" cy="265.35" r="1.45"/><circle cx="154.1" cy="265.18" r="1.45"/><circle cx="154.65" cy="265.59" r="1.45"/><circle cx="155.2" cy="264.35" r="1.45"/><circle cx="155.75" cy="266.06" r="1.45"/><circle cx="156.3" cy="263.41" r="1.45"/></g><circle cx="156.3" cy="265.4" r="1.45" fill="#fff" stroke="#22d822" stroke-width="0.7"/><g fill="none" stroke="#4ade4a" stroke-width="0.7"><circle cx="161.69" cy="190.04" r="1.45"/><circle cx="162.05" cy="191.34" r="1.45"/><circle cx="162.27" cy="192.92" r="1.45"/><circle cx="161.89" cy="193.78" r="1.45"/><circle cx="162.28" cy="195.73" r="1.45"/><circle cx="162.39" cy="197" r="1.45"/><circle cx="162.07" cy="198.82" r="1.45"/><circle cx="162.43" cy="200.12" r="1.45"/><circle cx="161.44" cy="201.69" r="1.45"/><circle cx="161.51" cy="202.81" r="1.45"/><circle cx="162.17" cy="204.13" r="1.45"/><circle cx="162.28" cy="205.64" r="1.45"/><circle cx="162.56" cy="207.19" r="1.45"/><circle cx="162.28" cy="207.93" r="1.45"/><circle cx="162.33" cy="210.16" r="1.45"/><circle cx="162.36" cy="211.47" r="1.45"/><circle cx="162.59" cy="212.68" r="1.45"/><circle cx="163.17" cy="214.76" r="1.45"/><circle cx="162.8" cy="215.84" r="1.45"/><circle cx="163.22" cy="216.98" r="1.45"/><circle cx="162.64" cy="218.97" r="1.45"/><circle cx="163.32" cy="220.01" r="1.45"/><circle cx="162.81" cy="221.79" r="1.45"/><circle cx="162.64" cy="222.82" r="1.45"/><circle cx="163.12" cy="223.76" r="1.45"/><circle cx="163.48" cy="226.24" r="1.45"/><circle cx="163.71" cy="226.91" r="1.45"/><circle cx="162.98" cy="228.7" r="1.45"/><circle cx="163.04" cy="230.82" r="1.45"/><circle cx="163.24" cy="231.63" r="1.45"/><circle cx="163.75" cy="233.37" r="1.45"/><circle cx="164.29" cy="234.42" r="1.45"/><circle cx="164.18" cy="236.08" r="1.45"/><circle cx="163.59" cy="237.63" r="1.45"/><circle cx="163.64" cy="239.57" r="1.45"/><circle cx="163.98" cy="240.66" r="1.45"/><circle cx="164.82" cy="241.77" r="1.45"/><circle cx="164.19" cy="243.28" r="1.45"/><circle cx="164.29" cy="245.02" r="1.45"/><circle cx="164.86" cy="245.84" r="1.45"/><circle cx="164.76" cy="247.9" r="1.45"/><circle cx="164.69" cy="249.57" r="1.45"/><circle cx="165.14" cy="250.45" r="1.45"/><circle cx="165.38" cy="252.48" r="1.45"/><circle cx="166.38" cy="253.91" r="1.45"/><circle cx="166.72" cy="254.62" r="1.45"/><circle cx="167.64" cy="256.08" r="1.45"/></g><g fill="none" stroke="#22d822" stroke-width="0.7"><circle cx="167.9" cy="256.67" r="1.45"/><circle cx="168.62" cy="257.15" r="1.45"/><circle cx="169.23" cy="256.87" r="1.45"/><circle cx="170" cy="257.46" r="1.45"/><circle cx="170.23" cy="258.25" r="1.45"/><circle cx="170.99" cy="260.05" r="1.45"/><circle cx="171.26" cy="259.56" r="1.45"/><circle cx="171.7" cy="258.14" r="1.45"/><circle cx="172.14" cy="260.09" r="1.45"/><circle cx="172.6" cy="259.2" r="1.45"/><circle cx="173.07" cy="259.12" r="1.45"/><circle cx="173.63" cy="260.58" r="1.45"/><circle cx="174.24" cy="260.85" r="1.45"/><circle cx="174.53" cy="259.82" r="1.45"/><circle cx="175.09" cy="261.28" r="1.45"/><circle cx="175.7" cy="262.03" r="1.45"/><circle cx="176.06" cy="259.39" r="1.45"/><circle cx="176.43" cy="262.79" r="1.45"/><circle cx="177.04" cy="261.54" r="1.45"/><circle cx="177.64" cy="261.82" r="1.45"/><circle cx="177.93" cy="260.91" r="1.45"/><circle cx="178.51" cy="260.88" r="1.45"/><circle cx="179.11" cy="261.75" r="1.45"/><circle cx="179.41" cy="262.36" r="1.45"/><circle cx="180" cy="261.73" r="1.45"/><circle cx="180.53" cy="261.24" r="1.45"/><circle cx="181.06" cy="261.93" r="1.45"/><circle cx="181.6" cy="261.08" r="1.45"/><circle cx="182.14" cy="260.79" r="1.45"/><circle cx="182.41" cy="262.13" r="1.45"/><circle cx="182.96" cy="260.98" r="1.45"/><circle cx="183.51" cy="261.02" r="1.45"/><circle cx="184.06" cy="261.89" r="1.45"/><circle cx="184.6" cy="262.3" r="1.45"/><circle cx="185.15" cy="261.58" r="1.45"/><circle cx="185.42" cy="260.67" r="1.45"/><circle cx="185.97" cy="261.61" r="1.45"/><circle cx="186.51" cy="262.14" r="1.45"/><circle cx="187.04" cy="261.06" r="1.45"/><circle cx="187.57" cy="262.61" r="1.45"/><circle cx="188.1" cy="261.11" r="1.45"/><circle cx="188.62" cy="261.16" r="1.45"/><circle cx="188.89" cy="262.01" r="1.45"/><circle cx="189.42" cy="260.85" r="1.45"/><circle cx="189.97" cy="260.25" r="1.45"/><circle cx="190.52" cy="261.54" r="1.45"/><circle cx="191.07" cy="262.76" r="1.45"/><circle cx="191.62" cy="262.64" r="1.45"/><circle cx="191.89" cy="262.86" r="1.45"/><circle cx="192.4" cy="261.66" r="1.45"/><circle cx="192.9" cy="261.48" r="1.45"/><circle cx="193.41" cy="261.09" r="1.45"/><circle cx="193.91" cy="262.65" r="1.45"/><circle cx="194.42" cy="260.9" r="1.45"/><circle cx="194.94" cy="261.21" r="1.45"/><circle cx="195.49" cy="261.49" r="1.45"/><circle cx="196.03" cy="261.28" r="1.45"/><circle cx="196.58" cy="261.98" r="1.45"/><circle cx="197.12" cy="261.03" r="1.45"/><circle cx="197.39" cy="261.05" r="1.45"/><circle cx="197.92" cy="260.54" r="1.45"/><circle cx="198.44" cy="262.11" r="1.45"/><circle cx="198.96" cy="261.09" r="1.45"/><circle cx="199.48" cy="261.1" r="1.45"/><circle cx="200" cy="262.82" r="1.45"/><circle cx="200.53" cy="260.67" r="1.45"/><circle cx="201.06" cy="262.02" r="1.45"/><circle cx="201.6" cy="260.4" r="1.45"/><circle cx="202.13" cy="261.97" r="1.45"/><circle cx="202.4" cy="262.63" r="1.45"/><circle cx="202.92" cy="261.62" r="1.45"/><circle cx="203.44" cy="261.12" r="1.45"/><circle cx="203.97" cy="261.3" r="1.45"/><circle cx="204.49" cy="261.45" r="1.45"/><circle cx="205.01" cy="261.11" r="1.45"/><circle cx="205.53" cy="260.94" r="1.45"/><circle cx="206.07" cy="262.85" r="1.45"/><circle cx="206.6" cy="261.64" r="1.45"/><circle cx="207.14" cy="262.21" r="1.45"/><circle cx="207.41" cy="261.31" r="1.45"/><circle cx="207.95" cy="261.61" r="1.45"/><circle cx="208.48" cy="260.22" r="1.45"/><circle cx="209.01" cy="262.84" r="1.45"/><circle cx="209.54" cy="261.75" r="1.45"/><circle cx="210.07" cy="261.01" r="1.45"/><circle cx="210.6" cy="262.15" r="1.45"/><circle cx="211.13" cy="261.71" r="1.45"/><circle cx="211.4" cy="260.95" r="1.45"/><circle cx="211.9" cy="260.74" r="1.45"/><circle cx="212.4" cy="261" r="1.45"/><circle cx="212.91" cy="260.69" r="1.45"/><circle cx="213.41" cy="261.01" r="1.45"/><circle cx="213.91" cy="260.55" r="1.45"/><circle cx="214.44" cy="260.56" r="1.45"/><circle cx="214.99" cy="262.15" r="1.45"/><circle cx="215.54" cy="260.1" r="1.45"/><circle cx="216.09" cy="260.6" r="1.45"/><circle cx="216.65" cy="261.45" r="1.45"/><circle cx="216.91" cy="260.72" r="1.45"/><circle cx="217.43" cy="262.06" r="1.45"/><circle cx="217.95" cy="260.82" r="1.45"/><circle cx="218.47" cy="261.42" r="1.45"/><circle cx="218.99" cy="261.21" r="1.45"/><circle cx="219.52" cy="261.74" r="1.45"/><circle cx="220.04" cy="260.59" r="1.45"/></g><circle cx="220.3" cy="261" r="1.45" fill="#fff" stroke="#22d822" stroke-width="0.7"/><polyline points="64.5,305.5 64.92,305.51 65.48,305.53 66.14,305.55 66.88,305.57 67.66,305.59 68.46,305.61 69.25,305.61 70,305.6 70.73,305.58 71.48,305.54 72.24,305.5 73,305.44 73.76,305.39 74.52,305.33 75.27,305.26 76,305.2 76.74,305.15 77.49,305.11 78.25,305.08 79,305.04 79.72,304.98 80.38,304.9 80.98,304.77 81.5,304.6 81.93,304.35 82.29,304.03 82.59,303.66 82.84,303.26 83.05,302.87 83.22,302.51 83.37,302.21 83.5,302" fill="none" stroke="#057a05" stroke-width="3.3" stroke-linecap="round" stroke-linejoin="round"/><g fill="#057a05"><circle cx="64.44" cy="305.72" r="1.75"/><circle cx="65.65" cy="304.78" r="1.75"/><circle cx="65.9" cy="306.12" r="1.75"/><circle cx="66.13" cy="305.38" r="1.75"/><circle cx="66.92" cy="306.11" r="1.75"/><circle cx="67.32" cy="305.43" r="1.75"/><circle cx="68" cy="305.49" r="1.75"/><circle cx="68.53" cy="306.29" r="1.75"/><circle cx="69.07" cy="306.32" r="1.75"/><circle cx="69.73" cy="308.18" r="1.75"/><circle cx="71.03" cy="306.53" r="1.75"/><circle cx="70.97" cy="306.07" r="1.75"/><circle cx="71.69" cy="306.22" r="1.75"/><circle cx="72.11" cy="304.07" r="1.75"/><circle cx="72.88" cy="305.79" r="1.75"/><circle cx="73.69" cy="305.81" r="1.75"/><circle cx="74.06" cy="305.75" r="1.75"/><circle cx="74.32" cy="306.21" r="1.75"/><circle cx="75.09" cy="305.28" r="1.75"/><circle cx="76.05" cy="305.92" r="1.75"/><circle cx="76.76" cy="305.55" r="1.75"/><circle cx="76.91" cy="306.17" r="1.75"/><circle cx="77.64" cy="306.15" r="1.75"/><circle cx="78.55" cy="304.37" r="1.75"/><circle cx="79.09" cy="305.92" r="1.75"/><circle cx="79.28" cy="306.45" r="1.75"/><circle cx="79.89" cy="307.38" r="1.75"/><circle cx="80.6" cy="305.73" r="1.75"/><circle cx="80.99" cy="304.68" r="1.75"/><circle cx="81.78" cy="305.85" r="1.75"/><circle cx="82.35" cy="304.11" r="1.75"/><circle cx="82.76" cy="304.43" r="1.75"/><circle cx="82.82" cy="302.29" r="1.75"/><circle cx="83.28" cy="302.65" r="1.75"/><circle cx="83.56" cy="301.86" r="1.75"/><circle cx="83.57" cy="301.25" r="1.75"/></g><polyline points="87.5,288.5 87.57,288.69 87.67,288.94 87.78,289.23 87.91,289.56 88.04,289.92 88.19,290.28 88.34,290.65 88.5,291 88.66,291.34 88.82,291.68 88.98,292.02 89.16,292.38 89.34,292.74 89.54,293.13 89.76,293.55 90,294 90.26,294.5 90.55,295.04 90.86,295.62 91.19,296.22 91.52,296.82 91.85,297.41 92.18,297.98 92.5,298.5 92.81,299 93.11,299.48 93.42,299.95 93.72,300.41 94.03,300.84 94.34,301.25 94.66,301.64 95,302 95.29,302.33 95.5,302.64 95.69,302.93 95.91,303.19 96.19,303.43 96.61,303.65 97.19,303.84 98,304 99.01,304.13 100.18,304.22 101.49,304.29 102.94,304.33 104.52,304.36 106.23,304.37 108.06,304.38 110,304.4 112.12,304.41 114.44,304.42 116.91,304.42 119.5,304.41 122.15,304.39 124.81,304.36 127.45,304.34 130,304.3 132.61,304.26 135.36,304.21 138.18,304.15 140.97,304.09 143.64,304.03 146.09,303.96 148.24,303.88 150,303.8 151.32,303.74 152.28,303.72 152.94,303.71 153.39,303.68 153.69,303.62 153.93,303.5 154.17,303.3 154.5,303 154.87,302.54 155.18,301.93 155.45,301.21 155.68,300.45 155.88,299.69 156.04,299 156.18,298.41 156.3,298" fill="none" stroke="#057a05" stroke-width="3.3" stroke-linecap="round" stroke-linejoin="round"/><g fill="#057a05"><circle cx="87.63" cy="288.53" r="1.75"/><circle cx="87.73" cy="289.21" r="1.75"/><circle cx="87.6" cy="288.98" r="1.75"/><circle cx="88.39" cy="289.97" r="1.75"/><circle cx="88.45" cy="291.33" r="1.75"/><circle cx="88.87" cy="292.01" r="1.75"/><circle cx="88.96" cy="290.42" r="1.75"/><circle cx="89.15" cy="292.52" r="1.75"/><circle cx="89.59" cy="293.38" r="1.75"/><circle cx="89.59" cy="293.04" r="1.75"/><circle cx="90.01" cy="294.26" r="1.75"/><circle cx="90.41" cy="294.51" r="1.75"/><circle cx="90.63" cy="294.93" r="1.75"/><circle cx="90.81" cy="294.88" r="1.75"/><circle cx="91.1" cy="295.67" r="1.75"/><circle cx="91.35" cy="295.91" r="1.75"/><circle cx="91.68" cy="296.91" r="1.75"/><circle cx="92.02" cy="298.08" r="1.75"/><circle cx="91.7" cy="297.56" r="1.75"/><circle cx="92.54" cy="298.36" r="1.75"/><circle cx="93.1" cy="298.38" r="1.75"/><circle cx="93.47" cy="299.73" r="1.75"/><circle cx="93.55" cy="301.5" r="1.75"/><circle cx="93.78" cy="301.56" r="1.75"/><circle cx="94.07" cy="301.68" r="1.75"/><circle cx="94.99" cy="301.14" r="1.75"/><circle cx="95.08" cy="301.49" r="1.75"/><circle cx="95.31" cy="301.58" r="1.75"/><circle cx="95.52" cy="302.71" r="1.75"/><circle cx="96.24" cy="302.56" r="1.75"/><circle cx="96.81" cy="302.43" r="1.75"/><circle cx="97.15" cy="303.87" r="1.75"/><circle cx="98.15" cy="302.79" r="1.75"/><circle cx="98.49" cy="304.6" r="1.75"/><circle cx="99.28" cy="305.59" r="1.75"/><circle cx="99.93" cy="305.31" r="1.75"/><circle cx="100.2" cy="303.72" r="1.75"/><circle cx="100.96" cy="304.77" r="1.75"/><circle cx="101.82" cy="304.59" r="1.75"/><circle cx="102.39" cy="303.65" r="1.75"/><circle cx="102.5" cy="305.39" r="1.75"/><circle cx="103.54" cy="304.19" r="1.75"/><circle cx="104.13" cy="304.08" r="1.75"/><circle cx="104.33" cy="305.03" r="1.75"/><circle cx="105.02" cy="304.13" r="1.75"/><circle cx="105.49" cy="304.77" r="1.75"/><circle cx="106.19" cy="304.09" r="1.75"/><circle cx="106.94" cy="303.56" r="1.75"/><circle cx="107.26" cy="304.52" r="1.75"/><circle cx="107.9" cy="305.41" r="1.75"/><circle cx="108.89" cy="304.77" r="1.75"/><circle cx="108.98" cy="304.17" r="1.75"/><circle cx="110.11" cy="303.99" r="1.75"/><circle cx="110.29" cy="305.32" r="1.75"/><circle cx="110.96" cy="304.62" r="1.75"/><circle cx="111.53" cy="304.56" r="1.75"/><circle cx="112.07" cy="304.53" r="1.75"/><circle cx="112.87" cy="304.77" r="1.75"/><circle cx="113.44" cy="304.41" r="1.75"/><circle cx="114.15" cy="303.54" r="1.75"/><circle cx="114.78" cy="304.22" r="1.75"/><circle cx="115.11" cy="303.47" r="1.75"/><circle cx="116.13" cy="303.39" r="1.75"/><circle cx="116.73" cy="302.1" r="1.75"/><circle cx="117.18" cy="302.43" r="1.75"/><circle cx="117.75" cy="304.79" r="1.75"/><circle cx="118.74" cy="304.58" r="1.75"/><circle cx="119.15" cy="303.08" r="1.75"/><circle cx="119.56" cy="303.95" r="1.75"/><circle cx="120.41" cy="304.43" r="1.75"/><circle cx="120.77" cy="303.1" r="1.75"/><circle cx="121.5" cy="303.61" r="1.75"/><circle cx="121.92" cy="303.11" r="1.75"/><circle cx="122.35" cy="305.18" r="1.75"/><circle cx="123.01" cy="305.05" r="1.75"/><circle cx="123.57" cy="304.06" r="1.75"/><circle cx="124.67" cy="304.95" r="1.75"/><circle cx="124.67" cy="304" r="1.75"/><circle cx="125.55" cy="303.95" r="1.75"/><circle cx="125.91" cy="304.47" r="1.75"/><circle cx="126.79" cy="304.7" r="1.75"/><circle cx="127.02" cy="306.05" r="1.75"/><circle cx="128.29" cy="305.9" r="1.75"/><circle cx="128.51" cy="306.95" r="1.75"/><circle cx="129.14" cy="305.84" r="1.75"/><circle cx="129.66" cy="305.37" r="1.75"/><circle cx="130.37" cy="303.64" r="1.75"/><circle cx="130.94" cy="304.37" r="1.75"/><circle cx="131.12" cy="303.43" r="1.75"/><circle cx="132.13" cy="303.66" r="1.75"/><circle cx="133.03" cy="302.35" r="1.75"/><circle cx="133.48" cy="304.86" r="1.75"/><circle cx="133.91" cy="304.64" r="1.75"/><circle cx="134.35" cy="304.9" r="1.75"/><circle cx="135.09" cy="303.84" r="1.75"/><circle cx="135.82" cy="303.55" r="1.75"/><circle cx="136.28" cy="302.5" r="1.75"/><circle cx="137" cy="305.23" r="1.75"/><circle cx="137.64" cy="303.37" r="1.75"/><circle cx="138.08" cy="303.83" r="1.75"/><circle cx="138.64" cy="304.76" r="1.75"/><circle cx="139.12" cy="304.45" r="1.75"/><circle cx="140.24" cy="303.72" r="1.75"/><circle cx="140.68" cy="304.27" r="1.75"/><circle cx="141.16" cy="303.67" r="1.75"/><circle cx="141.5" cy="303.73" r="1.75"/><circle cx="142.65" cy="302.77" r="1.75"/><circle cx="142.67" cy="304.69" r="1.75"/><circle cx="143.52" cy="305.14" r="1.75"/><circle cx="143.99" cy="303.49" r="1.75"/><circle cx="144.72" cy="304.12" r="1.75"/><circle cx="145.24" cy="303.96" r="1.75"/><circle cx="145.81" cy="303.83" r="1.75"/><circle cx="146.32" cy="303.83" r="1.75"/><circle cx="147.06" cy="302.88" r="1.75"/><circle cx="147.81" cy="304.12" r="1.75"/><circle cx="148.07" cy="302.84" r="1.75"/><circle cx="148.76" cy="302.95" r="1.75"/><circle cx="149.62" cy="301.72" r="1.75"/><circle cx="149.95" cy="303.07" r="1.75"/><circle cx="150.62" cy="303.58" r="1.75"/><circle cx="151.25" cy="303.46" r="1.75"/><circle cx="151.67" cy="304.58" r="1.75"/><circle cx="152.56" cy="303.74" r="1.75"/><circle cx="152.87" cy="305.31" r="1.75"/><circle cx="153.33" cy="304.41" r="1.75"/><circle cx="153.95" cy="303.62" r="1.75"/><circle cx="154.75" cy="302.41" r="1.75"/><circle cx="154.98" cy="302.85" r="1.75"/><circle cx="155.14" cy="301.91" r="1.75"/><circle cx="155.57" cy="301.43" r="1.75"/><circle cx="155.94" cy="301.3" r="1.75"/><circle cx="155.75" cy="301.57" r="1.75"/><circle cx="156.24" cy="299.68" r="1.75"/><circle cx="155.9" cy="300.39" r="1.75"/><circle cx="155.93" cy="298.93" r="1.75"/><circle cx="156.22" cy="298.52" r="1.75"/></g><polyline points="161.4,286.2 161.48,286.44 161.56,286.75 161.67,287.12 161.79,287.54 161.94,287.99 162.1,288.48 162.29,288.98 162.5,289.5 162.74,290.05 163,290.65 163.29,291.29 163.6,291.96 163.93,292.62 164.27,293.28 164.63,293.91 165,294.5 165.38,295.06 165.78,295.61 166.2,296.14 166.62,296.66 167.07,297.15 167.53,297.63 168.01,298.08 168.5,298.5 168.93,298.9 169.26,299.29 169.56,299.66 169.91,300 170.35,300.31 170.97,300.59 171.83,300.82 173,301 174.51,301.13 176.3,301.2 178.33,301.24 180.53,301.23 182.86,301.2 185.25,301.14 187.65,301.07 190,301 192.42,300.91 194.99,300.79 197.66,300.65 200.36,300.49 203.01,300.32 205.54,300.15 207.9,299.97 210,299.8 211.91,299.62 213.7,299.41 215.37,299.19 216.9,298.98 218.27,298.77 219.47,298.58 220.49,298.42 221.3,298.3" fill="none" stroke="#057a05" stroke-width="3.3" stroke-linecap="round" stroke-linejoin="round"/><g fill="#057a05"><circle cx="161.45" cy="285.15" r="1.75"/><circle cx="162.04" cy="286.63" r="1.75"/><circle cx="161.81" cy="287.71" r="1.75"/><circle cx="161.73" cy="288.34" r="1.75"/><circle cx="162.29" cy="288.89" r="1.75"/><circle cx="162.3" cy="289.84" r="1.75"/><circle cx="162.53" cy="288.52" r="1.75"/><circle cx="162.89" cy="289.49" r="1.75"/><circle cx="162.92" cy="290.7" r="1.75"/><circle cx="163.26" cy="291.87" r="1.75"/><circle cx="163.18" cy="291.57" r="1.75"/><circle cx="164.09" cy="291.82" r="1.75"/><circle cx="164.19" cy="293.81" r="1.75"/><circle cx="164.17" cy="293.05" r="1.75"/><circle cx="164.68" cy="295.01" r="1.75"/><circle cx="164.96" cy="295.53" r="1.75"/><circle cx="165.04" cy="296.28" r="1.75"/><circle cx="165.57" cy="296.45" r="1.75"/><circle cx="166.24" cy="295.48" r="1.75"/><circle cx="166.05" cy="295.49" r="1.75"/><circle cx="166.9" cy="296.88" r="1.75"/><circle cx="167.3" cy="297.42" r="1.75"/><circle cx="167.67" cy="299.09" r="1.75"/><circle cx="168.11" cy="298.43" r="1.75"/><circle cx="168.57" cy="299.61" r="1.75"/><circle cx="168.88" cy="297.78" r="1.75"/><circle cx="169.78" cy="299.42" r="1.75"/><circle cx="169.77" cy="299.88" r="1.75"/><circle cx="170.04" cy="299.54" r="1.75"/><circle cx="170.54" cy="300.09" r="1.75"/><circle cx="171.01" cy="299.78" r="1.75"/><circle cx="172.01" cy="300.83" r="1.75"/><circle cx="172.4" cy="300.36" r="1.75"/><circle cx="172.93" cy="301.01" r="1.75"/><circle cx="173.68" cy="300.82" r="1.75"/><circle cx="174.31" cy="301.03" r="1.75"/><circle cx="174.68" cy="301.3" r="1.75"/><circle cx="175.64" cy="300.44" r="1.75"/><circle cx="176.01" cy="301.43" r="1.75"/><circle cx="176.65" cy="301.45" r="1.75"/><circle cx="177.11" cy="300.75" r="1.75"/><circle cx="177.82" cy="302.73" r="1.75"/><circle cx="178.03" cy="302.49" r="1.75"/><circle cx="179.13" cy="302.55" r="1.75"/><circle cx="179.41" cy="301.73" r="1.75"/><circle cx="180.36" cy="301.24" r="1.75"/><circle cx="180.92" cy="301.1" r="1.75"/><circle cx="181.3" cy="300.74" r="1.75"/><circle cx="181.77" cy="300.85" r="1.75"/><circle cx="182.88" cy="300.99" r="1.75"/><circle cx="182.95" cy="301.64" r="1.75"/><circle cx="183.82" cy="300.43" r="1.75"/><circle cx="184.55" cy="300.07" r="1.75"/><circle cx="185.15" cy="300.79" r="1.75"/><circle cx="185.71" cy="301.11" r="1.75"/><circle cx="185.98" cy="300.81" r="1.75"/><circle cx="186.7" cy="301.2" r="1.75"/><circle cx="187.51" cy="300.35" r="1.75"/><circle cx="188.07" cy="299.94" r="1.75"/><circle cx="188.52" cy="300.5" r="1.75"/><circle cx="189.65" cy="301.17" r="1.75"/><circle cx="189.87" cy="301.18" r="1.75"/><circle cx="190.24" cy="301.87" r="1.75"/><circle cx="191.07" cy="300.65" r="1.75"/><circle cx="191.81" cy="300.88" r="1.75"/><circle cx="192.28" cy="301.15" r="1.75"/><circle cx="192.59" cy="299.82" r="1.75"/><circle cx="193.63" cy="300.08" r="1.75"/><circle cx="194.23" cy="300.68" r="1.75"/><circle cx="194.52" cy="299.92" r="1.75"/><circle cx="195.2" cy="301.35" r="1.75"/><circle cx="195.79" cy="301.57" r="1.75"/><circle cx="196.44" cy="300.89" r="1.75"/><circle cx="197.04" cy="299.07" r="1.75"/><circle cx="197.53" cy="301.34" r="1.75"/><circle cx="198.14" cy="300.81" r="1.75"/><circle cx="198.71" cy="301.29" r="1.75"/><circle cx="199.44" cy="301.31" r="1.75"/><circle cx="200.13" cy="301.12" r="1.75"/><circle cx="200.69" cy="301.22" r="1.75"/><circle cx="201.1" cy="300.86" r="1.75"/><circle cx="201.62" cy="300.91" r="1.75"/><circle cx="202.44" cy="300.89" r="1.75"/><circle cx="202.91" cy="301.32" r="1.75"/><circle cx="203.28" cy="299.83" r="1.75"/><circle cx="204.25" cy="300.24" r="1.75"/><circle cx="204.77" cy="299.4" r="1.75"/><circle cx="205.4" cy="299.22" r="1.75"/><circle cx="205.85" cy="299.64" r="1.75"/><circle cx="206.88" cy="300.66" r="1.75"/><circle cx="207.05" cy="300.25" r="1.75"/><circle cx="207.95" cy="299.64" r="1.75"/><circle cx="208.25" cy="300.69" r="1.75"/><circle cx="208.89" cy="301.55" r="1.75"/><circle cx="210.07" cy="300.01" r="1.75"/><circle cx="210.55" cy="299.64" r="1.75"/><circle cx="211.07" cy="299.62" r="1.75"/><circle cx="211.14" cy="300.77" r="1.75"/><circle cx="212.05" cy="300.5" r="1.75"/><circle cx="212.48" cy="298.84" r="1.75"/><circle cx="213.41" cy="300.19" r="1.75"/><circle cx="213.9" cy="299.47" r="1.75"/><circle cx="214.48" cy="299.29" r="1.75"/><circle cx="214.91" cy="299.1" r="1.75"/><circle cx="215.44" cy="298.73" r="1.75"/><circle cx="215.98" cy="298.52" r="1.75"/><circle cx="216.92" cy="300.05" r="1.75"/><circle cx="217.25" cy="300.11" r="1.75"/><circle cx="218" cy="298.86" r="1.75"/><circle cx="218.2" cy="299.93" r="1.75"/><circle cx="219.22" cy="298.2" r="1.75"/><circle cx="219.48" cy="298.36" r="1.75"/><circle cx="220.41" cy="297.83" r="1.75"/><circle cx="220.64" cy="299.15" r="1.75"/><circle cx="221.17" cy="298.8" r="1.75"/></g><g fill="none" stroke="#22d822" stroke-width="0.65"><circle cx="283.8" cy="252.91" r="1.5"/><circle cx="284.29" cy="255.36" r="1.5"/><circle cx="284.53" cy="256.98" r="1.5"/><circle cx="284.77" cy="256.35" r="1.5"/><circle cx="285.26" cy="253.53" r="1.5"/><circle cx="285.5" cy="251.65" r="1.5"/><circle cx="285.74" cy="252.4" r="1.5"/><circle cx="285.99" cy="251.71" r="1.5"/><circle cx="286.47" cy="251.2" r="1.5"/><circle cx="286.71" cy="250.59" r="1.5"/><circle cx="286.96" cy="251.65" r="1.5"/><circle cx="287.44" cy="253.49" r="1.5"/><circle cx="287.69" cy="249.21" r="1.5"/><circle cx="287.93" cy="253.09" r="1.5"/><circle cx="288.17" cy="250.22" r="1.5"/><circle cx="288.66" cy="250.22" r="1.5"/><circle cx="288.9" cy="254.38" r="1.5"/><circle cx="289.14" cy="251.07" r="1.5"/><circle cx="289.63" cy="246.35" r="1.5"/><circle cx="289.87" cy="248.73" r="1.5"/><circle cx="290.11" cy="253.13" r="1.5"/><circle cx="290.36" cy="253.01" r="1.5"/><circle cx="290.84" cy="254.17" r="1.5"/><circle cx="291.09" cy="247.86" r="1.5"/><circle cx="291.33" cy="247.22" r="1.5"/><circle cx="291.57" cy="247.48" r="1.5"/><circle cx="292.06" cy="248.76" r="1.5"/><circle cx="292.3" cy="248.54" r="1.5"/><circle cx="292.54" cy="251.17" r="1.5"/><circle cx="293.03" cy="243.3" r="1.5"/><circle cx="293.27" cy="246.21" r="1.5"/><circle cx="293.51" cy="247.56" r="1.5"/><circle cx="293.76" cy="250.41" r="1.5"/><circle cx="294.24" cy="246.79" r="1.5"/><circle cx="294.49" cy="251.65" r="1.5"/><circle cx="294.73" cy="247.14" r="1.5"/><circle cx="295.22" cy="243.58" r="1.5"/><circle cx="295.46" cy="250.02" r="1.5"/><circle cx="295.71" cy="248.98" r="1.5"/><circle cx="295.95" cy="245.85" r="1.5"/><circle cx="296.44" cy="250.35" r="1.5"/><circle cx="296.68" cy="247.35" r="1.5"/><circle cx="296.92" cy="248.26" r="1.5"/><circle cx="297.17" cy="249.91" r="1.5"/><circle cx="297.65" cy="248.74" r="1.5"/><circle cx="297.9" cy="251.97" r="1.5"/><circle cx="298.14" cy="251.07" r="1.5"/><circle cx="298.63" cy="244.48" r="1.5"/><circle cx="298.87" cy="250.45" r="1.5"/><circle cx="299.12" cy="248.16" r="1.5"/><circle cx="299.36" cy="245.31" r="1.5"/><circle cx="299.85" cy="251.25" r="1.5"/><circle cx="300.09" cy="247.72" r="1.5"/><circle cx="300.33" cy="248.07" r="1.5"/><circle cx="300.58" cy="248.16" r="1.5"/><circle cx="301.06" cy="250" r="1.5"/><circle cx="301.31" cy="240.56" r="1.5"/><circle cx="301.55" cy="244.22" r="1.5"/><circle cx="302.04" cy="247.05" r="1.5"/><circle cx="302.28" cy="248.67" r="1.5"/><circle cx="302.53" cy="246.44" r="1.5"/><circle cx="302.77" cy="246.37" r="1.5"/><circle cx="303.26" cy="247.11" r="1.5"/><circle cx="303.5" cy="249.62" r="1.5"/></g><g fill="none" stroke="#4ade4a" stroke-width="0.65"><circle cx="308.68" cy="174.61" r="1.5"/><circle cx="309.26" cy="176.96" r="1.5"/><circle cx="310.21" cy="177.64" r="1.5"/><circle cx="308.45" cy="179.78" r="1.5"/><circle cx="309.44" cy="181.12" r="1.5"/><circle cx="308.19" cy="183.71" r="1.5"/><circle cx="309.46" cy="184.11" r="1.5"/><circle cx="308.66" cy="186.69" r="1.5"/><circle cx="308.15" cy="188.03" r="1.5"/><circle cx="308.86" cy="189.05" r="1.5"/><circle cx="308.3" cy="191.33" r="1.5"/><circle cx="310.01" cy="192.58" r="1.5"/><circle cx="310.07" cy="194.17" r="1.5"/><circle cx="309.4" cy="195.79" r="1.5"/><circle cx="308.21" cy="197.57" r="1.5"/><circle cx="309.1" cy="198.31" r="1.5"/><circle cx="308.86" cy="200.49" r="1.5"/><circle cx="308.98" cy="201.89" r="1.5"/><circle cx="309.28" cy="203.2" r="1.5"/><circle cx="310.84" cy="205.53" r="1.5"/><circle cx="310.45" cy="206.86" r="1.5"/><circle cx="310.52" cy="208.66" r="1.5"/><circle cx="309.69" cy="209.69" r="1.5"/><circle cx="310.94" cy="212.05" r="1.5"/><circle cx="311.28" cy="213.87" r="1.5"/><circle cx="310.07" cy="214.97" r="1.5"/><circle cx="310.92" cy="216.97" r="1.5"/><circle cx="313.16" cy="218.1" r="1.5"/><circle cx="312.52" cy="219.82" r="1.5"/><circle cx="311.17" cy="221.22" r="1.5"/><circle cx="311.35" cy="223.27" r="1.5"/><circle cx="313.06" cy="224.78" r="1.5"/><circle cx="313.15" cy="225.39" r="1.5"/><circle cx="313.92" cy="227.76" r="1.5"/><circle cx="311.53" cy="229.3" r="1.5"/><circle cx="315" cy="231.1" r="1.5"/><circle cx="313.87" cy="232.4" r="1.5"/><circle cx="315.75" cy="233.46" r="1.5"/><circle cx="315.97" cy="235.1" r="1.5"/><circle cx="317.42" cy="236.47" r="1.5"/><circle cx="317.39" cy="235.87" r="1.5"/></g><g fill="none" stroke="#22d822" stroke-width="0.65"><circle cx="318.6" cy="240.86" r="1.5"/><circle cx="318.89" cy="238.15" r="1.5"/><circle cx="319.21" cy="233.23" r="1.5"/><circle cx="319.21" cy="245.61" r="1.5"/><circle cx="319.74" cy="236.6" r="1.5"/><circle cx="320" cy="238.84" r="1.5"/><circle cx="320.3" cy="237.68" r="1.5"/><circle cx="320.61" cy="233.74" r="1.5"/><circle cx="320.91" cy="234.81" r="1.5"/><circle cx="321.16" cy="239" r="1.5"/><circle cx="321.4" cy="233.32" r="1.5"/><circle cx="321.65" cy="243.78" r="1.5"/><circle cx="321.9" cy="234.01" r="1.5"/><circle cx="322.44" cy="238.69" r="1.5"/><circle cx="322.7" cy="243.67" r="1.5"/><circle cx="322.97" cy="244.49" r="1.5"/><circle cx="323.27" cy="238.47" r="1.5"/><circle cx="323.56" cy="235.64" r="1.5"/><circle cx="323.86" cy="243.83" r="1.5"/><circle cx="324.16" cy="237.54" r="1.5"/><circle cx="324.42" cy="241.69" r="1.5"/><circle cx="324.68" cy="236.83" r="1.5"/><circle cx="325.2" cy="238.7" r="1.5"/><circle cx="325.46" cy="242.21" r="1.5"/><circle cx="325.75" cy="239.21" r="1.5"/><circle cx="326.04" cy="242.82" r="1.5"/><circle cx="326.33" cy="243.05" r="1.5"/><circle cx="326.62" cy="241.76" r="1.5"/><circle cx="326.91" cy="235.23" r="1.5"/><circle cx="327.18" cy="242.48" r="1.5"/><circle cx="327.71" cy="241.24" r="1.5"/><circle cx="327.98" cy="246.17" r="1.5"/><circle cx="328.25" cy="235.44" r="1.5"/><circle cx="328.52" cy="239.8" r="1.5"/><circle cx="328.77" cy="242.95" r="1.5"/><circle cx="329.28" cy="243.21" r="1.5"/><circle cx="329.54" cy="238.63" r="1.5"/><circle cx="329.79" cy="243.03" r="1.5"/><circle cx="330.3" cy="237.46" r="1.5"/><circle cx="330.58" cy="241.16" r="1.5"/><circle cx="330.87" cy="237.32" r="1.5"/><circle cx="331.15" cy="242.03" r="1.5"/><circle cx="331.43" cy="238.96" r="1.5"/><circle cx="331.71" cy="242.21" r="1.5"/><circle cx="332" cy="240.69" r="1.5"/><circle cx="332.55" cy="243.48" r="1.5"/><circle cx="332.82" cy="240.51" r="1.5"/><circle cx="333.1" cy="244.7" r="1.5"/><circle cx="333.37" cy="238.8" r="1.5"/><circle cx="333.64" cy="243.76" r="1.5"/><circle cx="333.91" cy="233.64" r="1.5"/><circle cx="334.45" cy="238.38" r="1.5"/><circle cx="334.71" cy="240.36" r="1.5"/><circle cx="334.97" cy="241.74" r="1.5"/><circle cx="335.23" cy="237.02" r="1.5"/><circle cx="335.49" cy="238.96" r="1.5"/><circle cx="336.01" cy="240.11" r="1.5"/><circle cx="336.27" cy="238.36" r="1.5"/><circle cx="336.53" cy="238.15" r="1.5"/><circle cx="336.79" cy="240.38" r="1.5"/><circle cx="337.34" cy="235.68" r="1.5"/><circle cx="337.62" cy="244.47" r="1.5"/><circle cx="337.89" cy="245.35" r="1.5"/><circle cx="338.17" cy="240.91" r="1.5"/><circle cx="338.44" cy="245.5" r="1.5"/><circle cx="338.72" cy="238.89" r="1.5"/><circle cx="338.99" cy="239.89" r="1.5"/><circle cx="339.53" cy="242.4" r="1.5"/><circle cx="339.79" cy="237.09" r="1.5"/><circle cx="340.04" cy="238.59" r="1.5"/><circle cx="340.3" cy="241.15" r="1.5"/><circle cx="340.82" cy="241.55" r="1.5"/><circle cx="341.08" cy="238.26" r="1.5"/><circle cx="341.34" cy="239.57" r="1.5"/><circle cx="341.6" cy="242.49" r="1.5"/><circle cx="341.86" cy="246.32" r="1.5"/><circle cx="342.39" cy="237.69" r="1.5"/><circle cx="342.66" cy="240.81" r="1.5"/><circle cx="342.92" cy="243.04" r="1.5"/><circle cx="343.19" cy="242.55" r="1.5"/><circle cx="343.46" cy="238.84" r="1.5"/><circle cx="343.99" cy="240.19" r="1.5"/><circle cx="344.26" cy="244.02" r="1.5"/><circle cx="344.52" cy="238.06" r="1.5"/><circle cx="344.8" cy="236.2" r="1.5"/><circle cx="345.07" cy="238.56" r="1.5"/><circle cx="345.34" cy="239.72" r="1.5"/><circle cx="345.89" cy="235.23" r="1.5"/><circle cx="346.16" cy="244.05" r="1.5"/><circle cx="346.43" cy="236.89" r="1.5"/><circle cx="346.7" cy="240.84" r="1.5"/><circle cx="346.98" cy="237.38" r="1.5"/><circle cx="347.25" cy="240.14" r="1.5"/><circle cx="347.75" cy="240.18" r="1.5"/><circle cx="348" cy="237.28" r="1.5"/><circle cx="348.25" cy="239.79" r="1.5"/><circle cx="348.75" cy="240.77" r="1.5"/><circle cx="349" cy="235.81" r="1.5"/><circle cx="349.25" cy="236.1" r="1.5"/><circle cx="349.5" cy="234.96" r="1.5"/><circle cx="350" cy="236.25" r="1.5"/><circle cx="350.25" cy="238" r="1.5"/><circle cx="350.5" cy="237.97" r="1.5"/><circle cx="350.75" cy="237.8" r="1.5"/><circle cx="351.25" cy="240.27" r="1.5"/><circle cx="351.5" cy="244.52" r="1.5"/><circle cx="351.75" cy="238.83" r="1.5"/><circle cx="352.24" cy="234.51" r="1.5"/><circle cx="352.49" cy="235.88" r="1.5"/><circle cx="352.74" cy="243.23" r="1.5"/><circle cx="352.99" cy="243.12" r="1.5"/><circle cx="353.51" cy="242.55" r="1.5"/><circle cx="353.76" cy="235.75" r="1.5"/><circle cx="354.02" cy="237.96" r="1.5"/><circle cx="354.28" cy="238.16" r="1.5"/><circle cx="354.54" cy="237.62" r="1.5"/><circle cx="355.05" cy="237.22" r="1.5"/><circle cx="355.31" cy="235.36" r="1.5"/><circle cx="355.57" cy="243.24" r="1.5"/><circle cx="355.83" cy="236.35" r="1.5"/><circle cx="356.34" cy="237.94" r="1.5"/><circle cx="356.59" cy="235.69" r="1.5"/><circle cx="356.85" cy="237.83" r="1.5"/><circle cx="357.1" cy="242.35" r="1.5"/><circle cx="357.6" cy="233.3" r="1.5"/><circle cx="357.86" cy="239.41" r="1.5"/><circle cx="358.11" cy="235.78" r="1.5"/><circle cx="358.36" cy="236.66" r="1.5"/><circle cx="358.87" cy="235.46" r="1.5"/><circle cx="359.12" cy="240.09" r="1.5"/><circle cx="359.37" cy="239.04" r="1.5"/><circle cx="359.63" cy="233.34" r="1.5"/><circle cx="360.13" cy="241.75" r="1.5"/><circle cx="360.39" cy="240.72" r="1.5"/><circle cx="360.64" cy="238.34" r="1.5"/><circle cx="360.89" cy="240.91" r="1.5"/><circle cx="361.4" cy="243.48" r="1.5"/><circle cx="361.65" cy="236.1" r="1.5"/><circle cx="361.91" cy="232.24" r="1.5"/><circle cx="362.16" cy="236.09" r="1.5"/><circle cx="362.67" cy="234.48" r="1.5"/><circle cx="362.92" cy="237.08" r="1.5"/><circle cx="363.18" cy="238.68" r="1.5"/><circle cx="363.43" cy="239.59" r="1.5"/><circle cx="363.95" cy="237.57" r="1.5"/><circle cx="364.22" cy="237.13" r="1.5"/><circle cx="364.48" cy="235.15" r="1.5"/><circle cx="364.74" cy="238.06" r="1.5"/><circle cx="365" cy="237.68" r="1.5"/><circle cx="365.52" cy="238.56" r="1.5"/><circle cx="365.78" cy="234.8" r="1.5"/><circle cx="366.05" cy="239.92" r="1.5"/><circle cx="366.31" cy="231.39" r="1.5"/><circle cx="366.57" cy="242.04" r="1.5"/><circle cx="367.09" cy="232.34" r="1.5"/><circle cx="367.34" cy="236.57" r="1.5"/><circle cx="367.6" cy="240.92" r="1.5"/><circle cx="367.86" cy="235.17" r="1.5"/><circle cx="368.37" cy="233.05" r="1.5"/><circle cx="368.62" cy="236.94" r="1.5"/><circle cx="368.88" cy="239.72" r="1.5"/><circle cx="369.14" cy="233.36" r="1.5"/><circle cx="369.39" cy="235.86" r="1.5"/><circle cx="369.91" cy="239.79" r="1.5"/><circle cx="370.16" cy="239.68" r="1.5"/><circle cx="370.42" cy="240.16" r="1.5"/><circle cx="370.68" cy="236.23" r="1.5"/><circle cx="371.2" cy="236.7" r="1.5"/><circle cx="371.45" cy="235.13" r="1.5"/><circle cx="371.71" cy="234.09" r="1.5"/><circle cx="371.97" cy="231.09" r="1.5"/><circle cx="372.49" cy="236.86" r="1.5"/><circle cx="372.76" cy="231.78" r="1.5"/><circle cx="373.03" cy="234.05" r="1.5"/><circle cx="373.31" cy="239.83" r="1.5"/><circle cx="373.58" cy="241.84" r="1.5"/><circle cx="373.85" cy="233.78" r="1.5"/><circle cx="374.13" cy="232.95" r="1.5"/></g><g fill="none" stroke="#4ade4a" stroke-width="0.65"><circle cx="381.89" cy="170.09" r="1.5"/><circle cx="380.86" cy="170.87" r="1.5"/><circle cx="380.34" cy="172.93" r="1.5"/><circle cx="381.11" cy="174.61" r="1.5"/><circle cx="381.04" cy="175.76" r="1.5"/><circle cx="380.21" cy="178.21" r="1.5"/><circle cx="379.55" cy="179.81" r="1.5"/><circle cx="382.89" cy="181.31" r="1.5"/><circle cx="379.7" cy="183.07" r="1.5"/><circle cx="379.35" cy="184.34" r="1.5"/><circle cx="380.67" cy="186.14" r="1.5"/><circle cx="382.12" cy="187.42" r="1.5"/><circle cx="382.71" cy="189.2" r="1.5"/><circle cx="380.79" cy="190.44" r="1.5"/><circle cx="383.42" cy="192.16" r="1.5"/><circle cx="381.69" cy="193.81" r="1.5"/><circle cx="380.97" cy="194.92" r="1.5"/><circle cx="381.33" cy="197.1" r="1.5"/><circle cx="382.37" cy="198.48" r="1.5"/><circle cx="380.21" cy="199.9" r="1.5"/><circle cx="381.61" cy="201.86" r="1.5"/><circle cx="382.36" cy="203.27" r="1.5"/><circle cx="382.27" cy="205.01" r="1.5"/><circle cx="383.36" cy="206.5" r="1.5"/><circle cx="382.11" cy="208.44" r="1.5"/><circle cx="383.16" cy="209.59" r="1.5"/><circle cx="381.81" cy="211.38" r="1.5"/><circle cx="380.53" cy="213.36" r="1.5"/><circle cx="383.58" cy="214.61" r="1.5"/><circle cx="386.04" cy="216.51" r="1.5"/><circle cx="385.63" cy="218.13" r="1.5"/><circle cx="385.2" cy="218.6" r="1.5"/><circle cx="386.38" cy="220.6" r="1.5"/><circle cx="384.91" cy="221.86" r="1.5"/><circle cx="387.03" cy="223.76" r="1.5"/></g><g fill="none" stroke="#22d822" stroke-width="0.65"><circle cx="387.44" cy="223.13" r="1.5"/><circle cx="388.21" cy="223.13" r="1.5"/><circle cx="388.52" cy="226.61" r="1.5"/><circle cx="388.69" cy="226.27" r="1.5"/><circle cx="389.39" cy="223.59" r="1.5"/><circle cx="389.71" cy="225.87" r="1.5"/><circle cx="390.34" cy="226.28" r="1.5"/><circle cx="390.57" cy="226.84" r="1.5"/><circle cx="390.96" cy="228.29" r="1.5"/><circle cx="391.18" cy="227.39" r="1.5"/><circle cx="391.39" cy="225.49" r="1.5"/><circle cx="391.7" cy="224.12" r="1.5"/><circle cx="392" cy="222.48" r="1.5"/><circle cx="392.26" cy="232.25" r="1.5"/><circle cx="392.52" cy="231.48" r="1.5"/><circle cx="392.93" cy="225.14" r="1.5"/><circle cx="393.29" cy="230.67" r="1.5"/><circle cx="393.29" cy="223.44" r="1.5"/><circle cx="393.66" cy="228.24" r="1.5"/><circle cx="394.1" cy="229.97" r="1.5"/><circle cx="394.38" cy="223.74" r="1.5"/><circle cx="394.67" cy="224.5" r="1.5"/><circle cx="394.92" cy="228.32" r="1.5"/><circle cx="395.16" cy="226.67" r="1.5"/><circle cx="395.74" cy="225.45" r="1.5"/><circle cx="396.07" cy="228.98" r="1.5"/><circle cx="396.4" cy="228.11" r="1.5"/><circle cx="396.65" cy="230.21" r="1.5"/><circle cx="396.9" cy="230.39" r="1.5"/><circle cx="397.15" cy="231.09" r="1.5"/><circle cx="397.4" cy="230.09" r="1.5"/><circle cx="397.94" cy="228.58" r="1.5"/><circle cx="398.24" cy="229.31" r="1.5"/><circle cx="398.53" cy="230.8" r="1.5"/><circle cx="398.83" cy="227.23" r="1.5"/><circle cx="399.12" cy="229.31" r="1.5"/><circle cx="399.39" cy="223.72" r="1.5"/><circle cx="399.67" cy="232.04" r="1.5"/><circle cx="399.94" cy="229.69" r="1.5"/><circle cx="400.49" cy="225.17" r="1.5"/><circle cx="400.76" cy="231.03" r="1.5"/><circle cx="401.02" cy="223.64" r="1.5"/><circle cx="401.27" cy="229.27" r="1.5"/><circle cx="401.78" cy="234.02" r="1.5"/><circle cx="402.03" cy="224.18" r="1.5"/><circle cx="402.28" cy="231.3" r="1.5"/><circle cx="402.54" cy="228.2" r="1.5"/><circle cx="403.07" cy="229.03" r="1.5"/><circle cx="403.33" cy="230.39" r="1.5"/><circle cx="403.6" cy="230.85" r="1.5"/><circle cx="403.86" cy="225.62" r="1.5"/><circle cx="404.13" cy="224.15" r="1.5"/><circle cx="404.66" cy="227.58" r="1.5"/><circle cx="404.93" cy="226.82" r="1.5"/><circle cx="405.2" cy="235.35" r="1.5"/><circle cx="405.47" cy="226.92" r="1.5"/><circle cx="405.75" cy="231.13" r="1.5"/><circle cx="406.02" cy="227.21" r="1.5"/><circle cx="406.56" cy="230.38" r="1.5"/><circle cx="406.82" cy="232.67" r="1.5"/><circle cx="407.09" cy="234.6" r="1.5"/><circle cx="407.36" cy="227.47" r="1.5"/><circle cx="407.63" cy="227.35" r="1.5"/><circle cx="408.17" cy="230.43" r="1.5"/><circle cx="408.43" cy="226.07" r="1.5"/><circle cx="408.69" cy="228.47" r="1.5"/><circle cx="408.95" cy="227.43" r="1.5"/><circle cx="409.22" cy="231.99" r="1.5"/><circle cx="409.74" cy="225.92" r="1.5"/><circle cx="410" cy="231.98" r="1.5"/><circle cx="410.26" cy="233.14" r="1.5"/><circle cx="410.52" cy="229.88" r="1.5"/><circle cx="410.78" cy="230.37" r="1.5"/><circle cx="411.3" cy="229.53" r="1.5"/><circle cx="411.56" cy="229.34" r="1.5"/><circle cx="411.82" cy="230.39" r="1.5"/><circle cx="412.08" cy="224.7" r="1.5"/><circle cx="412.61" cy="228.14" r="1.5"/><circle cx="412.88" cy="221.23" r="1.5"/><circle cx="413.15" cy="230.65" r="1.5"/><circle cx="413.41" cy="235.84" r="1.5"/><circle cx="413.68" cy="226.81" r="1.5"/><circle cx="413.95" cy="229.11" r="1.5"/><circle cx="414.49" cy="232.1" r="1.5"/><circle cx="414.76" cy="230.96" r="1.5"/><circle cx="415.03" cy="228.23" r="1.5"/><circle cx="415.3" cy="229.1" r="1.5"/><circle cx="415.58" cy="231.14" r="1.5"/><circle cx="415.85" cy="227.15" r="1.5"/><circle cx="416.39" cy="224.02" r="1.5"/><circle cx="416.67" cy="228.06" r="1.5"/><circle cx="416.94" cy="232.46" r="1.5"/><circle cx="417.21" cy="226.17" r="1.5"/><circle cx="417.49" cy="229.44" r="1.5"/><circle cx="417.76" cy="229.62" r="1.5"/><circle cx="418.31" cy="221.69" r="1.5"/><circle cx="418.58" cy="220.85" r="1.5"/><circle cx="418.85" cy="225.5" r="1.5"/><circle cx="419.13" cy="227.17" r="1.5"/><circle cx="419.4" cy="230.3" r="1.5"/><circle cx="419.67" cy="222.99" r="1.5"/><circle cx="420.22" cy="227.43" r="1.5"/><circle cx="420.49" cy="225.85" r="1.5"/><circle cx="420.76" cy="227.14" r="1.5"/><circle cx="421.03" cy="226.06" r="1.5"/><circle cx="421.3" cy="225.05" r="1.5"/><circle cx="421.57" cy="223.91" r="1.5"/><circle cx="421.84" cy="224.54" r="1.5"/><circle cx="422.37" cy="227.24" r="1.5"/><circle cx="422.64" cy="218.19" r="1.5"/><circle cx="422.91" cy="222.4" r="1.5"/><circle cx="423.17" cy="228.24" r="1.5"/><circle cx="423.43" cy="230.34" r="1.5"/><circle cx="423.96" cy="226.84" r="1.5"/><circle cx="424.22" cy="227.23" r="1.5"/><circle cx="424.48" cy="228.33" r="1.5"/><circle cx="424.74" cy="227.36" r="1.5"/><circle cx="425" cy="222.31" r="1.5"/><circle cx="425.54" cy="225.24" r="1.5"/><circle cx="425.8" cy="224.27" r="1.5"/><circle cx="426.07" cy="227.22" r="1.5"/><circle cx="426.34" cy="224.88" r="1.5"/><circle cx="426.61" cy="223.51" r="1.5"/><circle cx="426.88" cy="222.96" r="1.5"/><circle cx="427.37" cy="226.38" r="1.5"/><circle cx="427.62" cy="225.15" r="1.5"/><circle cx="427.87" cy="227.97" r="1.5"/><circle cx="428.11" cy="223.17" r="1.5"/><circle cx="428.61" cy="230.21" r="1.5"/><circle cx="428.86" cy="223.18" r="1.5"/><circle cx="429.11" cy="219.53" r="1.5"/><circle cx="429.36" cy="225.31" r="1.5"/><circle cx="429.61" cy="222.08" r="1.5"/><circle cx="430.12" cy="225.49" r="1.5"/><circle cx="430.37" cy="224.98" r="1.5"/><circle cx="430.62" cy="226.52" r="1.5"/><circle cx="430.87" cy="222.95" r="1.5"/><circle cx="431.36" cy="222.56" r="1.5"/><circle cx="431.61" cy="229.84" r="1.5"/><circle cx="431.85" cy="218.55" r="1.5"/><circle cx="432.1" cy="219.87" r="1.5"/><circle cx="432.59" cy="219.61" r="1.5"/><circle cx="432.84" cy="224.89" r="1.5"/><circle cx="433.1" cy="226.78" r="1.5"/><circle cx="433.37" cy="225.94" r="1.5"/><circle cx="433.63" cy="222.77" r="1.5"/><circle cx="434.16" cy="217.8" r="1.5"/><circle cx="434.42" cy="216.92" r="1.5"/><circle cx="434.69" cy="224.31" r="1.5"/><circle cx="434.97" cy="218.09" r="1.5"/><circle cx="435.24" cy="224.59" r="1.5"/><circle cx="435.52" cy="227.17" r="1.5"/><circle cx="435.8" cy="223.77" r="1.5"/><circle cx="436.07" cy="224.57" r="1.5"/><circle cx="436.35" cy="221.84" r="1.5"/><circle cx="436.91" cy="220.2" r="1.5"/><circle cx="437.19" cy="219.13" r="1.5"/><circle cx="437.46" cy="218.03" r="1.5"/><circle cx="437.74" cy="220.85" r="1.5"/><circle cx="438.01" cy="227.91" r="1.5"/><circle cx="438.27" cy="219.23" r="1.5"/><circle cx="438.54" cy="222.58" r="1.5"/><circle cx="438.8" cy="221.31" r="1.5"/></g><g fill="#057a05"><circle cx="283.66" cy="298.38" r="1.85"/><circle cx="283.97" cy="301.03" r="1.85"/><circle cx="284.94" cy="303.15" r="1.85"/><circle cx="284.67" cy="299.3" r="1.85"/><circle cx="284.73" cy="302.15" r="1.85"/><circle cx="285.68" cy="300.67" r="1.85"/><circle cx="285.58" cy="297.07" r="1.85"/><circle cx="286.24" cy="301.39" r="1.85"/><circle cx="286.04" cy="299.49" r="1.85"/><circle cx="286.49" cy="306.12" r="1.85"/><circle cx="286.47" cy="299.87" r="1.85"/><circle cx="286.67" cy="302.54" r="1.85"/><circle cx="287.96" cy="298.29" r="1.85"/><circle cx="287.28" cy="296.36" r="1.85"/><circle cx="287.94" cy="298.81" r="1.85"/><circle cx="288.29" cy="294.36" r="1.85"/><circle cx="288.52" cy="296.28" r="1.85"/><circle cx="289.08" cy="298.36" r="1.85"/><circle cx="289.22" cy="302.34" r="1.85"/><circle cx="289.88" cy="301.58" r="1.85"/><circle cx="290.03" cy="298.45" r="1.85"/><circle cx="290.59" cy="297.06" r="1.85"/><circle cx="290.29" cy="296.43" r="1.85"/><circle cx="290.23" cy="303.67" r="1.85"/><circle cx="290.85" cy="301.37" r="1.85"/><circle cx="291.47" cy="300.59" r="1.85"/><circle cx="291.79" cy="303.41" r="1.85"/><circle cx="292.06" cy="298.49" r="1.85"/><circle cx="292.21" cy="298.4" r="1.85"/><circle cx="292.19" cy="298.39" r="1.85"/><circle cx="292.39" cy="296.17" r="1.85"/><circle cx="292.98" cy="293.99" r="1.85"/><circle cx="292.98" cy="295.29" r="1.85"/><circle cx="293.93" cy="297.87" r="1.85"/><circle cx="293.77" cy="299.21" r="1.85"/><circle cx="294.52" cy="292.02" r="1.85"/><circle cx="294.48" cy="294.5" r="1.85"/><circle cx="294.89" cy="297.9" r="1.85"/><circle cx="295.04" cy="297.36" r="1.85"/><circle cx="295.75" cy="301.94" r="1.85"/><circle cx="296.16" cy="296.12" r="1.85"/><circle cx="296.23" cy="302.24" r="1.85"/><circle cx="295.86" cy="297.38" r="1.85"/><circle cx="296.36" cy="290.94" r="1.85"/><circle cx="296.68" cy="292.11" r="1.85"/><circle cx="296.28" cy="299.22" r="1.85"/><circle cx="297.36" cy="300.03" r="1.85"/><circle cx="297.32" cy="296.59" r="1.85"/><circle cx="297.54" cy="297.63" r="1.85"/><circle cx="298.12" cy="297.34" r="1.85"/><circle cx="298.46" cy="297.38" r="1.85"/><circle cx="298.45" cy="297.39" r="1.85"/><circle cx="299.46" cy="295.25" r="1.85"/><circle cx="299.38" cy="294.8" r="1.85"/><circle cx="299.3" cy="295.31" r="1.85"/><circle cx="300.38" cy="295.41" r="1.85"/><circle cx="300.26" cy="297.28" r="1.85"/><circle cx="300.18" cy="292.96" r="1.85"/><circle cx="300.6" cy="289.8" r="1.85"/><circle cx="301.15" cy="288.42" r="1.85"/><circle cx="301.05" cy="290.67" r="1.85"/><circle cx="301.91" cy="294.5" r="1.85"/><circle cx="301.75" cy="295.45" r="1.85"/><circle cx="302.23" cy="295.1" r="1.85"/><circle cx="302.22" cy="293.37" r="1.85"/><circle cx="302.64" cy="292.28" r="1.85"/><circle cx="303.5" cy="296.09" r="1.85"/><circle cx="303.26" cy="291.81" r="1.85"/><circle cx="303.12" cy="292.39" r="1.85"/><circle cx="303.61" cy="293.93" r="1.85"/><circle cx="303.56" cy="290.51" r="1.85"/></g><g fill="#057a05"><circle cx="307.95" cy="289.57" r="1.85"/><circle cx="308.58" cy="292.27" r="1.85"/><circle cx="308.39" cy="292.38" r="1.85"/><circle cx="309.06" cy="290.66" r="1.85"/><circle cx="309.12" cy="288.67" r="1.85"/><circle cx="309.58" cy="287.69" r="1.85"/><circle cx="309.99" cy="294.25" r="1.85"/><circle cx="309.61" cy="293" r="1.85"/><circle cx="310.14" cy="290.41" r="1.85"/><circle cx="310.47" cy="288.5" r="1.85"/><circle cx="310.79" cy="291.67" r="1.85"/><circle cx="310.73" cy="290.16" r="1.85"/><circle cx="311.09" cy="290.48" r="1.85"/><circle cx="311.09" cy="288.87" r="1.85"/><circle cx="312.02" cy="292.19" r="1.85"/><circle cx="311.86" cy="291.35" r="1.85"/><circle cx="312.36" cy="292.39" r="1.85"/><circle cx="312.57" cy="290.99" r="1.85"/><circle cx="312.87" cy="290.63" r="1.85"/><circle cx="312.99" cy="295.37" r="1.85"/><circle cx="313.79" cy="294.08" r="1.85"/><circle cx="313.84" cy="293.78" r="1.85"/><circle cx="314.27" cy="291.4" r="1.85"/><circle cx="314.31" cy="292.11" r="1.85"/><circle cx="314.64" cy="295.28" r="1.85"/><circle cx="314.99" cy="291.38" r="1.85"/><circle cx="315.2" cy="295.23" r="1.85"/><circle cx="315.97" cy="293.75" r="1.85"/><circle cx="315.93" cy="290.44" r="1.85"/><circle cx="316.13" cy="285.47" r="1.85"/><circle cx="317.07" cy="290.87" r="1.85"/><circle cx="316.32" cy="292.76" r="1.85"/><circle cx="317.3" cy="290.14" r="1.85"/><circle cx="317.19" cy="291.19" r="1.85"/><circle cx="317.62" cy="294.84" r="1.85"/><circle cx="318.21" cy="297.94" r="1.85"/><circle cx="318.7" cy="292.21" r="1.85"/><circle cx="318.53" cy="296.98" r="1.85"/><circle cx="318.99" cy="291.73" r="1.85"/><circle cx="318.92" cy="294.54" r="1.85"/><circle cx="319.65" cy="289.84" r="1.85"/><circle cx="319.59" cy="291.81" r="1.85"/><circle cx="319.88" cy="290.75" r="1.85"/><circle cx="320.13" cy="292.65" r="1.85"/><circle cx="319.66" cy="286.52" r="1.85"/><circle cx="320.03" cy="291.1" r="1.85"/><circle cx="320.98" cy="288.97" r="1.85"/><circle cx="321.5" cy="290.51" r="1.85"/><circle cx="321.38" cy="290.42" r="1.85"/><circle cx="321.79" cy="291.03" r="1.85"/><circle cx="322.1" cy="287.8" r="1.85"/><circle cx="322.6" cy="286.63" r="1.85"/><circle cx="322.4" cy="289.35" r="1.85"/><circle cx="322.5" cy="285.25" r="1.85"/><circle cx="323.28" cy="289.75" r="1.85"/><circle cx="323.56" cy="292.36" r="1.85"/><circle cx="323.64" cy="287.92" r="1.85"/><circle cx="324.42" cy="292.36" r="1.85"/><circle cx="324.27" cy="291.73" r="1.85"/><circle cx="324.63" cy="291.35" r="1.85"/><circle cx="324.28" cy="288.79" r="1.85"/><circle cx="325.23" cy="291.53" r="1.85"/><circle cx="325.16" cy="294.05" r="1.85"/><circle cx="325.63" cy="286.3" r="1.85"/><circle cx="325.36" cy="287.24" r="1.85"/><circle cx="326.09" cy="293.36" r="1.85"/><circle cx="326.45" cy="291.12" r="1.85"/><circle cx="327.05" cy="291.67" r="1.85"/><circle cx="326.85" cy="291.91" r="1.85"/><circle cx="327.44" cy="292.01" r="1.85"/><circle cx="327.4" cy="293.65" r="1.85"/><circle cx="327.96" cy="290.65" r="1.85"/><circle cx="328.51" cy="293.47" r="1.85"/><circle cx="327.89" cy="294.12" r="1.85"/><circle cx="328.81" cy="291.44" r="1.85"/><circle cx="329.37" cy="294.07" r="1.85"/><circle cx="328.75" cy="292.56" r="1.85"/><circle cx="329.62" cy="291.37" r="1.85"/><circle cx="329.45" cy="289.83" r="1.85"/><circle cx="330.12" cy="295.32" r="1.85"/><circle cx="330.77" cy="289.24" r="1.85"/><circle cx="330.87" cy="295.34" r="1.85"/><circle cx="331.12" cy="298.46" r="1.85"/><circle cx="330.72" cy="291.79" r="1.85"/><circle cx="331.51" cy="298.74" r="1.85"/><circle cx="331.64" cy="293.72" r="1.85"/><circle cx="332.19" cy="292.96" r="1.85"/><circle cx="332.62" cy="292.55" r="1.85"/><circle cx="332.15" cy="291.57" r="1.85"/><circle cx="332.83" cy="291.25" r="1.85"/><circle cx="333.33" cy="293.33" r="1.85"/><circle cx="333.75" cy="295.55" r="1.85"/><circle cx="334.09" cy="292.42" r="1.85"/><circle cx="334" cy="291.38" r="1.85"/><circle cx="334.12" cy="290.29" r="1.85"/><circle cx="335.03" cy="293.86" r="1.85"/><circle cx="334.81" cy="294.55" r="1.85"/><circle cx="335.27" cy="292.92" r="1.85"/><circle cx="336.13" cy="289.82" r="1.85"/><circle cx="335.58" cy="293.14" r="1.85"/><circle cx="337.01" cy="289.77" r="1.85"/><circle cx="336.32" cy="289.52" r="1.85"/><circle cx="336.89" cy="294.18" r="1.85"/><circle cx="337.58" cy="289.55" r="1.85"/><circle cx="337.28" cy="288.7" r="1.85"/><circle cx="337.63" cy="297.03" r="1.85"/><circle cx="337.82" cy="291.54" r="1.85"/><circle cx="338.16" cy="293.72" r="1.85"/><circle cx="338.21" cy="293.57" r="1.85"/><circle cx="339" cy="291.4" r="1.85"/><circle cx="339.31" cy="293.58" r="1.85"/><circle cx="339.74" cy="288.69" r="1.85"/><circle cx="339.78" cy="290.73" r="1.85"/><circle cx="339.74" cy="286.92" r="1.85"/><circle cx="340.08" cy="292.69" r="1.85"/><circle cx="340.58" cy="288.7" r="1.85"/><circle cx="340.9" cy="290.53" r="1.85"/><circle cx="341.26" cy="290.26" r="1.85"/><circle cx="340.67" cy="286.44" r="1.85"/><circle cx="341.3" cy="288.84" r="1.85"/><circle cx="342.62" cy="288.72" r="1.85"/><circle cx="342.06" cy="289.56" r="1.85"/><circle cx="342.11" cy="290.67" r="1.85"/><circle cx="343.33" cy="287.31" r="1.85"/><circle cx="343.11" cy="288.66" r="1.85"/><circle cx="343.55" cy="290.06" r="1.85"/><circle cx="343.6" cy="292.25" r="1.85"/><circle cx="343.88" cy="290.77" r="1.85"/><circle cx="344.04" cy="286.54" r="1.85"/><circle cx="344.08" cy="289.7" r="1.85"/><circle cx="344.79" cy="285.89" r="1.85"/><circle cx="344.96" cy="287" r="1.85"/><circle cx="345.37" cy="291.13" r="1.85"/><circle cx="345.05" cy="286.71" r="1.85"/><circle cx="345.45" cy="287.83" r="1.85"/><circle cx="346.53" cy="287.02" r="1.85"/><circle cx="345.66" cy="283.58" r="1.85"/><circle cx="346.27" cy="292.28" r="1.85"/><circle cx="346.76" cy="290.58" r="1.85"/><circle cx="347.18" cy="288.25" r="1.85"/><circle cx="347.01" cy="288.95" r="1.85"/><circle cx="347.08" cy="287.13" r="1.85"/><circle cx="348.33" cy="289.42" r="1.85"/><circle cx="347.96" cy="289.16" r="1.85"/><circle cx="348.21" cy="294.22" r="1.85"/><circle cx="348.41" cy="286.04" r="1.85"/><circle cx="349.02" cy="288.92" r="1.85"/><circle cx="349.23" cy="287.88" r="1.85"/><circle cx="349.39" cy="291.78" r="1.85"/><circle cx="349.55" cy="289.74" r="1.85"/><circle cx="349.82" cy="287.87" r="1.85"/><circle cx="349.99" cy="291.84" r="1.85"/><circle cx="350.47" cy="290.21" r="1.85"/><circle cx="350.75" cy="293.12" r="1.85"/><circle cx="350.86" cy="290.35" r="1.85"/><circle cx="351.11" cy="291.17" r="1.85"/><circle cx="351.16" cy="291.43" r="1.85"/><circle cx="351.27" cy="292.6" r="1.85"/><circle cx="352.16" cy="292.56" r="1.85"/><circle cx="351.62" cy="292.98" r="1.85"/><circle cx="352.88" cy="291.67" r="1.85"/><circle cx="352.45" cy="292.5" r="1.85"/><circle cx="353.23" cy="291.01" r="1.85"/><circle cx="353.66" cy="288.84" r="1.85"/><circle cx="353.69" cy="289.16" r="1.85"/><circle cx="353.89" cy="290.28" r="1.85"/><circle cx="354.62" cy="295.31" r="1.85"/><circle cx="354.26" cy="293.12" r="1.85"/><circle cx="354.46" cy="290.22" r="1.85"/><circle cx="354.71" cy="292.28" r="1.85"/><circle cx="355.28" cy="290.65" r="1.85"/><circle cx="355.78" cy="292.13" r="1.85"/><circle cx="355.44" cy="292.88" r="1.85"/><circle cx="356.1" cy="284.91" r="1.85"/><circle cx="356.27" cy="289.17" r="1.85"/><circle cx="356.36" cy="283.99" r="1.85"/><circle cx="356.83" cy="285.04" r="1.85"/><circle cx="357.42" cy="287.28" r="1.85"/><circle cx="357.47" cy="289.18" r="1.85"/><circle cx="357.61" cy="287.23" r="1.85"/><circle cx="358.19" cy="289.98" r="1.85"/><circle cx="358.46" cy="287.44" r="1.85"/><circle cx="358.66" cy="287.41" r="1.85"/><circle cx="358.54" cy="290.12" r="1.85"/><circle cx="359.77" cy="289.54" r="1.85"/><circle cx="359.78" cy="290.4" r="1.85"/><circle cx="359.56" cy="290.06" r="1.85"/><circle cx="360.52" cy="290.2" r="1.85"/><circle cx="360.46" cy="286.69" r="1.85"/><circle cx="361.1" cy="290.57" r="1.85"/><circle cx="360.56" cy="286.6" r="1.85"/><circle cx="361.24" cy="283.35" r="1.85"/><circle cx="361.7" cy="289.11" r="1.85"/><circle cx="361.93" cy="290.77" r="1.85"/><circle cx="362.49" cy="291.24" r="1.85"/><circle cx="362.64" cy="289.88" r="1.85"/><circle cx="363.02" cy="286.7" r="1.85"/><circle cx="362.86" cy="285.28" r="1.85"/><circle cx="363.87" cy="286.34" r="1.85"/><circle cx="363.49" cy="288.63" r="1.85"/><circle cx="364.45" cy="286.66" r="1.85"/><circle cx="364.84" cy="292.46" r="1.85"/><circle cx="364.4" cy="284.63" r="1.85"/><circle cx="365.2" cy="289.48" r="1.85"/><circle cx="365.69" cy="290.25" r="1.85"/><circle cx="365.58" cy="289.63" r="1.85"/><circle cx="366.31" cy="287.43" r="1.85"/><circle cx="366.1" cy="287.34" r="1.85"/><circle cx="366.41" cy="288.62" r="1.85"/><circle cx="366.81" cy="285.68" r="1.85"/><circle cx="367.51" cy="283.84" r="1.85"/><circle cx="367.66" cy="284.5" r="1.85"/><circle cx="367.56" cy="287.41" r="1.85"/><circle cx="367.8" cy="289.45" r="1.85"/><circle cx="368.55" cy="285.71" r="1.85"/><circle cx="368.96" cy="285.61" r="1.85"/><circle cx="368.81" cy="287.03" r="1.85"/><circle cx="368.94" cy="286.85" r="1.85"/><circle cx="369.39" cy="286.92" r="1.85"/><circle cx="370.54" cy="286.45" r="1.85"/><circle cx="369.99" cy="289.92" r="1.85"/><circle cx="370.38" cy="285.57" r="1.85"/><circle cx="370.49" cy="282.99" r="1.85"/><circle cx="370.94" cy="282.75" r="1.85"/><circle cx="371.13" cy="283.9" r="1.85"/><circle cx="372.01" cy="282.41" r="1.85"/><circle cx="371.66" cy="282.38" r="1.85"/><circle cx="372.29" cy="285.66" r="1.85"/><circle cx="373.28" cy="286.5" r="1.85"/><circle cx="372.37" cy="289.07" r="1.85"/><circle cx="372.78" cy="292.19" r="1.85"/><circle cx="372.84" cy="286.47" r="1.85"/><circle cx="373.65" cy="283.1" r="1.85"/><circle cx="373.17" cy="285.4" r="1.85"/><circle cx="373.95" cy="287.47" r="1.85"/><circle cx="373.99" cy="285.4" r="1.85"/><circle cx="374.68" cy="286.42" r="1.85"/><circle cx="375.24" cy="282.78" r="1.85"/><circle cx="375.16" cy="286.04" r="1.85"/><circle cx="375.22" cy="288.03" r="1.85"/><circle cx="375.74" cy="283.22" r="1.85"/></g><g fill="#057a05"><circle cx="379.99" cy="278.69" r="1.85"/><circle cx="379.55" cy="279.8" r="1.85"/><circle cx="380.32" cy="279.22" r="1.85"/><circle cx="381.45" cy="284.21" r="1.85"/><circle cx="381.11" cy="284.68" r="1.85"/><circle cx="381.26" cy="281.89" r="1.85"/><circle cx="381.57" cy="281.75" r="1.85"/><circle cx="382.08" cy="277.47" r="1.85"/><circle cx="381.97" cy="278.24" r="1.85"/><circle cx="383.27" cy="280.59" r="1.85"/><circle cx="383.25" cy="279.44" r="1.85"/><circle cx="383.23" cy="278.24" r="1.85"/><circle cx="383.41" cy="278.93" r="1.85"/><circle cx="384.45" cy="279.51" r="1.85"/><circle cx="383.49" cy="280.46" r="1.85"/><circle cx="384.74" cy="275.82" r="1.85"/><circle cx="384.47" cy="278.7" r="1.85"/><circle cx="384.82" cy="283.23" r="1.85"/><circle cx="385.15" cy="280.8" r="1.85"/><circle cx="385.94" cy="280.69" r="1.85"/><circle cx="386.34" cy="281.76" r="1.85"/><circle cx="386.52" cy="280.93" r="1.85"/><circle cx="386.36" cy="276.02" r="1.85"/><circle cx="386.83" cy="283.48" r="1.85"/><circle cx="387.22" cy="281.3" r="1.85"/><circle cx="387.59" cy="279.27" r="1.85"/><circle cx="388.05" cy="286.19" r="1.85"/><circle cx="388.51" cy="285.04" r="1.85"/><circle cx="388.58" cy="280.33" r="1.85"/><circle cx="388.41" cy="283.68" r="1.85"/><circle cx="389.2" cy="279.42" r="1.85"/><circle cx="389.35" cy="284.36" r="1.85"/><circle cx="389.51" cy="280.67" r="1.85"/><circle cx="389.77" cy="278.37" r="1.85"/><circle cx="390.05" cy="279.52" r="1.85"/><circle cx="390.19" cy="280.9" r="1.85"/><circle cx="390.41" cy="279.81" r="1.85"/><circle cx="390.58" cy="279.93" r="1.85"/><circle cx="390.78" cy="278.74" r="1.85"/><circle cx="391.59" cy="280.97" r="1.85"/><circle cx="391.9" cy="280.01" r="1.85"/><circle cx="392.17" cy="279.21" r="1.85"/><circle cx="392.43" cy="282.31" r="1.85"/><circle cx="392.3" cy="281.85" r="1.85"/><circle cx="392.34" cy="280.58" r="1.85"/><circle cx="392.84" cy="281.57" r="1.85"/><circle cx="393.44" cy="285.55" r="1.85"/><circle cx="393.46" cy="282.06" r="1.85"/><circle cx="393.21" cy="281.63" r="1.85"/><circle cx="393.83" cy="283.52" r="1.85"/><circle cx="394.47" cy="282.5" r="1.85"/><circle cx="395.32" cy="280.28" r="1.85"/><circle cx="394.32" cy="284.62" r="1.85"/><circle cx="395.67" cy="287.27" r="1.85"/><circle cx="395.11" cy="282.97" r="1.85"/><circle cx="395.56" cy="283.18" r="1.85"/><circle cx="395.93" cy="284.34" r="1.85"/><circle cx="395.75" cy="282.08" r="1.85"/><circle cx="396.97" cy="282.18" r="1.85"/><circle cx="397" cy="287.8" r="1.85"/><circle cx="397.1" cy="284.8" r="1.85"/><circle cx="396.94" cy="282.9" r="1.85"/><circle cx="397.97" cy="282.02" r="1.85"/><circle cx="398.13" cy="287.78" r="1.85"/><circle cx="398.4" cy="283.9" r="1.85"/><circle cx="398.93" cy="283.39" r="1.85"/><circle cx="398.86" cy="281.43" r="1.85"/><circle cx="399.18" cy="282.27" r="1.85"/><circle cx="399.3" cy="282.61" r="1.85"/><circle cx="400.13" cy="287.88" r="1.85"/><circle cx="399.91" cy="281.84" r="1.85"/><circle cx="400.48" cy="282.42" r="1.85"/><circle cx="400.58" cy="281.5" r="1.85"/><circle cx="401.23" cy="281.85" r="1.85"/><circle cx="401.01" cy="283.42" r="1.85"/><circle cx="401.59" cy="280.89" r="1.85"/><circle cx="401.85" cy="283.08" r="1.85"/><circle cx="402.41" cy="280.09" r="1.85"/><circle cx="402.83" cy="284.3" r="1.85"/><circle cx="402.92" cy="285.54" r="1.85"/><circle cx="403.53" cy="280.9" r="1.85"/><circle cx="403.66" cy="280.49" r="1.85"/><circle cx="403.44" cy="283.34" r="1.85"/><circle cx="404.05" cy="276.71" r="1.85"/><circle cx="404.96" cy="284.4" r="1.85"/><circle cx="404.31" cy="282.73" r="1.85"/><circle cx="404.38" cy="279.84" r="1.85"/><circle cx="404.77" cy="280.59" r="1.85"/><circle cx="405.18" cy="278.91" r="1.85"/><circle cx="406.12" cy="279.47" r="1.85"/><circle cx="406.41" cy="285.43" r="1.85"/><circle cx="406.4" cy="284.1" r="1.85"/><circle cx="406.22" cy="280.08" r="1.85"/><circle cx="406.28" cy="281.12" r="1.85"/><circle cx="407.25" cy="278.29" r="1.85"/><circle cx="407.51" cy="279.87" r="1.85"/><circle cx="407.22" cy="279.75" r="1.85"/><circle cx="408.04" cy="278.9" r="1.85"/><circle cx="408.55" cy="283.16" r="1.85"/><circle cx="408.77" cy="281.21" r="1.85"/><circle cx="408.47" cy="280.18" r="1.85"/><circle cx="408.82" cy="280.73" r="1.85"/><circle cx="408.91" cy="277.53" r="1.85"/><circle cx="409.21" cy="282.72" r="1.85"/><circle cx="410.02" cy="280.21" r="1.85"/><circle cx="409.72" cy="276.77" r="1.85"/><circle cx="410.18" cy="281.5" r="1.85"/><circle cx="410.54" cy="281.88" r="1.85"/><circle cx="410.65" cy="283.53" r="1.85"/><circle cx="410.71" cy="282.12" r="1.85"/><circle cx="411.37" cy="280.9" r="1.85"/><circle cx="411.51" cy="278.96" r="1.85"/><circle cx="411.86" cy="280.93" r="1.85"/><circle cx="411.61" cy="278.76" r="1.85"/><circle cx="411.83" cy="277.2" r="1.85"/><circle cx="412.48" cy="273.76" r="1.85"/><circle cx="412.53" cy="275.05" r="1.85"/><circle cx="412.87" cy="274.52" r="1.85"/><circle cx="413.13" cy="276.07" r="1.85"/><circle cx="413" cy="270.49" r="1.85"/><circle cx="413.66" cy="272.65" r="1.85"/><circle cx="413.03" cy="275.25" r="1.85"/><circle cx="414.19" cy="277.73" r="1.85"/><circle cx="414.42" cy="272.66" r="1.85"/><circle cx="414.69" cy="278.6" r="1.85"/><circle cx="414.39" cy="275.54" r="1.85"/><circle cx="414.41" cy="274.89" r="1.85"/><circle cx="415.01" cy="275.73" r="1.85"/><circle cx="415.2" cy="273.92" r="1.85"/><circle cx="414.49" cy="277.43" r="1.85"/><circle cx="415.35" cy="280.32" r="1.85"/><circle cx="415.4" cy="273.84" r="1.85"/><circle cx="416.2" cy="275.85" r="1.85"/><circle cx="416" cy="275.41" r="1.85"/><circle cx="416.05" cy="276.81" r="1.85"/><circle cx="416.88" cy="273.9" r="1.85"/><circle cx="416.74" cy="274.61" r="1.85"/><circle cx="417.07" cy="271.93" r="1.85"/><circle cx="417.57" cy="276.01" r="1.85"/><circle cx="417.35" cy="274.31" r="1.85"/><circle cx="417.58" cy="274.02" r="1.85"/><circle cx="418.08" cy="276.03" r="1.85"/><circle cx="418.3" cy="274.7" r="1.85"/><circle cx="418.6" cy="277.34" r="1.85"/><circle cx="418.6" cy="279.97" r="1.85"/><circle cx="418.97" cy="278.66" r="1.85"/><circle cx="419.29" cy="279.52" r="1.85"/><circle cx="419.13" cy="278.65" r="1.85"/><circle cx="419.5" cy="280.43" r="1.85"/><circle cx="420.45" cy="278.9" r="1.85"/><circle cx="420.02" cy="277.9" r="1.85"/><circle cx="420.5" cy="275.78" r="1.85"/><circle cx="420.46" cy="278.91" r="1.85"/><circle cx="420.26" cy="277.46" r="1.85"/><circle cx="420.21" cy="281.62" r="1.85"/><circle cx="421.31" cy="276.16" r="1.85"/><circle cx="421.8" cy="276.75" r="1.85"/><circle cx="421.79" cy="282.51" r="1.85"/><circle cx="421.67" cy="279.68" r="1.85"/><circle cx="421.87" cy="277.33" r="1.85"/><circle cx="422.49" cy="281.57" r="1.85"/><circle cx="422.57" cy="279.76" r="1.85"/><circle cx="423.46" cy="282.53" r="1.85"/><circle cx="423.29" cy="275.79" r="1.85"/><circle cx="424.02" cy="277.43" r="1.85"/><circle cx="423.9" cy="278.92" r="1.85"/><circle cx="423.62" cy="280.17" r="1.85"/><circle cx="424.4" cy="280.51" r="1.85"/><circle cx="424.93" cy="277.47" r="1.85"/><circle cx="424.32" cy="275.31" r="1.85"/><circle cx="424.58" cy="278.12" r="1.85"/><circle cx="424.41" cy="273.13" r="1.85"/><circle cx="425.16" cy="273.59" r="1.85"/><circle cx="425.09" cy="277.18" r="1.85"/><circle cx="425.79" cy="277.7" r="1.85"/><circle cx="425.51" cy="277.04" r="1.85"/><circle cx="425.77" cy="276.89" r="1.85"/><circle cx="425.93" cy="276.14" r="1.85"/><circle cx="426.28" cy="272.48" r="1.85"/><circle cx="426.46" cy="283.06" r="1.85"/><circle cx="427.01" cy="275.35" r="1.85"/><circle cx="427.27" cy="275.63" r="1.85"/><circle cx="427.98" cy="277.7" r="1.85"/><circle cx="427.44" cy="274.25" r="1.85"/><circle cx="427.26" cy="273.16" r="1.85"/><circle cx="428.1" cy="272" r="1.85"/><circle cx="428.4" cy="270.29" r="1.85"/><circle cx="427.83" cy="273.27" r="1.85"/><circle cx="428.29" cy="274.86" r="1.85"/><circle cx="429.11" cy="278.24" r="1.85"/><circle cx="428.82" cy="273.53" r="1.85"/><circle cx="429.66" cy="274.1" r="1.85"/><circle cx="429.33" cy="279.51" r="1.85"/><circle cx="429.52" cy="277.6" r="1.85"/><circle cx="430.13" cy="276.42" r="1.85"/><circle cx="430.21" cy="277.03" r="1.85"/><circle cx="430.33" cy="279.31" r="1.85"/><circle cx="430.53" cy="277.63" r="1.85"/><circle cx="430.15" cy="277.42" r="1.85"/><circle cx="430.97" cy="276.12" r="1.85"/><circle cx="431.36" cy="280.92" r="1.85"/><circle cx="431.37" cy="281.39" r="1.85"/><circle cx="431.84" cy="283.51" r="1.85"/><circle cx="431.72" cy="280.52" r="1.85"/><circle cx="432.08" cy="281.11" r="1.85"/><circle cx="432.12" cy="274.92" r="1.85"/><circle cx="432.73" cy="280.79" r="1.85"/><circle cx="432.43" cy="276.8" r="1.85"/><circle cx="432.58" cy="277.92" r="1.85"/><circle cx="433.18" cy="280.33" r="1.85"/><circle cx="433.32" cy="276.73" r="1.85"/><circle cx="433.22" cy="276.85" r="1.85"/><circle cx="433.68" cy="273.75" r="1.85"/><circle cx="434.33" cy="276.17" r="1.85"/><circle cx="433.84" cy="280.09" r="1.85"/><circle cx="434.4" cy="281.79" r="1.85"/><circle cx="434.75" cy="282.15" r="1.85"/><circle cx="434.63" cy="281.73" r="1.85"/><circle cx="435.1" cy="277.43" r="1.85"/><circle cx="434.97" cy="281.04" r="1.85"/><circle cx="435.38" cy="281.92" r="1.85"/><circle cx="435.61" cy="283.22" r="1.85"/><circle cx="436.18" cy="283.17" r="1.85"/><circle cx="436.31" cy="277.53" r="1.85"/><circle cx="436.54" cy="280.39" r="1.85"/><circle cx="436.89" cy="283.86" r="1.85"/><circle cx="437.28" cy="282.18" r="1.85"/><circle cx="437.05" cy="281.65" r="1.85"/><circle cx="437.42" cy="285.08" r="1.85"/><circle cx="437.46" cy="282.02" r="1.85"/><circle cx="437.55" cy="283.1" r="1.85"/><circle cx="437.8" cy="279.84" r="1.85"/><circle cx="438.38" cy="280.88" r="1.85"/><circle cx="438.16" cy="279.4" r="1.85"/><circle cx="438.35" cy="283.23" r="1.85"/><circle cx="438.72" cy="280.22" r="1.85"/><circle cx="438.9" cy="281.83" r="1.85"/><circle cx="439.3" cy="284.31" r="1.85"/><circle cx="438.94" cy="281.22" r="1.85"/><circle cx="439.55" cy="280.81" r="1.85"/><circle cx="439.42" cy="279.76" r="1.85"/><circle cx="439.81" cy="275.47" r="1.85"/><circle cx="439.95" cy="277.64" r="1.85"/><circle cx="440.12" cy="275.02" r="1.85"/><circle cx="440.49" cy="278.32" r="1.85"/><circle cx="440.74" cy="277.63" r="1.85"/><circle cx="440.58" cy="277.37" r="1.85"/></g><g fill="none" stroke="#22d822" stroke-width="0.65"><circle cx="508" cy="227.11" r="1.45"/><circle cx="508.25" cy="228.29" r="1.45"/><circle cx="508.5" cy="225.06" r="1.45"/><circle cx="508.75" cy="233.72" r="1.45"/><circle cx="509" cy="230.27" r="1.45"/><circle cx="509.25" cy="223.68" r="1.45"/><circle cx="509.5" cy="231.88" r="1.45"/><circle cx="509.75" cy="222.89" r="1.45"/><circle cx="510" cy="227.23" r="1.45"/><circle cx="510.25" cy="225.03" r="1.45"/><circle cx="510.5" cy="226.47" r="1.45"/><circle cx="510.75" cy="228.47" r="1.45"/><circle cx="511" cy="227.89" r="1.45"/><circle cx="511.25" cy="222.42" r="1.45"/><circle cx="511.5" cy="230.55" r="1.45"/><circle cx="511.75" cy="227.82" r="1.45"/><circle cx="512" cy="226.62" r="1.45"/><circle cx="512.25" cy="231.99" r="1.45"/><circle cx="512.5" cy="226.42" r="1.45"/><circle cx="512.75" cy="230.96" r="1.45"/><circle cx="513" cy="222.79" r="1.45"/><circle cx="513.25" cy="225.39" r="1.45"/><circle cx="513.5" cy="223.46" r="1.45"/><circle cx="513.75" cy="234.69" r="1.45"/><circle cx="514" cy="224.46" r="1.45"/><circle cx="514.25" cy="228.49" r="1.45"/><circle cx="514.5" cy="226.66" r="1.45"/><circle cx="514.75" cy="226.85" r="1.45"/><circle cx="515" cy="222.89" r="1.45"/><circle cx="515.25" cy="223.83" r="1.45"/><circle cx="515.5" cy="232.39" r="1.45"/><circle cx="515.75" cy="232.19" r="1.45"/><circle cx="516" cy="226.85" r="1.45"/><circle cx="516.25" cy="224.11" r="1.45"/><circle cx="516.5" cy="228.81" r="1.45"/><circle cx="516.75" cy="222.67" r="1.45"/><circle cx="517" cy="232.7" r="1.45"/><circle cx="517.25" cy="230.55" r="1.45"/><circle cx="517.5" cy="228.43" r="1.45"/><circle cx="517.75" cy="228.59" r="1.45"/><circle cx="518" cy="226.12" r="1.45"/><circle cx="518.25" cy="221.07" r="1.45"/><circle cx="518.51" cy="224.06" r="1.45"/><circle cx="518.76" cy="231.12" r="1.45"/><circle cx="519.02" cy="229.58" r="1.45"/><circle cx="519.27" cy="228.53" r="1.45"/><circle cx="519.53" cy="226.87" r="1.45"/><circle cx="519.78" cy="227.26" r="1.45"/><circle cx="520.04" cy="231.47" r="1.45"/><circle cx="520.29" cy="226.91" r="1.45"/><circle cx="520.55" cy="225.13" r="1.45"/><circle cx="520.8" cy="228.94" r="1.45"/><circle cx="521.05" cy="228.5" r="1.45"/><circle cx="521.31" cy="220.76" r="1.45"/><circle cx="521.56" cy="228.25" r="1.45"/><circle cx="521.82" cy="225.26" r="1.45"/><circle cx="522.07" cy="232.65" r="1.45"/><circle cx="522.33" cy="226.17" r="1.45"/><circle cx="522.58" cy="224.62" r="1.45"/><circle cx="522.84" cy="225.2" r="1.45"/><circle cx="523.09" cy="230.65" r="1.45"/><circle cx="523.35" cy="231.02" r="1.45"/><circle cx="523.6" cy="222.98" r="1.45"/><circle cx="523.85" cy="229.87" r="1.45"/><circle cx="524.11" cy="224.53" r="1.45"/><circle cx="524.36" cy="229.29" r="1.45"/><circle cx="524.62" cy="229.95" r="1.45"/><circle cx="524.87" cy="229.27" r="1.45"/><circle cx="525.13" cy="227.95" r="1.45"/><circle cx="525.38" cy="228.94" r="1.45"/><circle cx="525.64" cy="234.97" r="1.45"/><circle cx="525.89" cy="223.68" r="1.45"/><circle cx="526.15" cy="231.05" r="1.45"/><circle cx="526.4" cy="228.49" r="1.45"/><circle cx="526.65" cy="228.84" r="1.45"/><circle cx="526.91" cy="228.28" r="1.45"/><circle cx="527.16" cy="231.16" r="1.45"/><circle cx="527.42" cy="224.41" r="1.45"/><circle cx="527.67" cy="229.67" r="1.45"/><circle cx="527.93" cy="230.25" r="1.45"/><circle cx="528.18" cy="231.24" r="1.45"/><circle cx="528.44" cy="226.49" r="1.45"/><circle cx="528.69" cy="225.07" r="1.45"/><circle cx="528.95" cy="228.84" r="1.45"/><circle cx="529.2" cy="227.66" r="1.45"/></g><g fill="none" stroke="#4ade4a" stroke-width="0.65"><circle cx="536.29" cy="170.91" r="1.45"/><circle cx="534.82" cy="172.53" r="1.45"/><circle cx="534.41" cy="174.62" r="1.45"/><circle cx="533.97" cy="174.36" r="1.45"/><circle cx="534.29" cy="176.01" r="1.45"/><circle cx="537.39" cy="176.81" r="1.45"/><circle cx="538.02" cy="179.84" r="1.45"/><circle cx="536.3" cy="179.85" r="1.45"/><circle cx="537.01" cy="179.6" r="1.45"/><circle cx="534.92" cy="183.74" r="1.45"/><circle cx="535.88" cy="186.41" r="1.45"/><circle cx="535.12" cy="184.93" r="1.45"/><circle cx="535.78" cy="187.81" r="1.45"/><circle cx="538.32" cy="187.33" r="1.45"/><circle cx="536.52" cy="191.16" r="1.45"/><circle cx="535.64" cy="191.05" r="1.45"/><circle cx="535.21" cy="193.42" r="1.45"/><circle cx="538.11" cy="194.63" r="1.45"/><circle cx="537.68" cy="196.26" r="1.45"/><circle cx="537.55" cy="197.33" r="1.45"/><circle cx="539.16" cy="199.22" r="1.45"/><circle cx="539.23" cy="199.66" r="1.45"/><circle cx="539.91" cy="199.55" r="1.45"/><circle cx="537.37" cy="203.46" r="1.45"/><circle cx="540.37" cy="202.67" r="1.45"/><circle cx="540.08" cy="204.67" r="1.45"/><circle cx="541.44" cy="205.15" r="1.45"/><circle cx="543.22" cy="205.47" r="1.45"/><circle cx="545.62" cy="206.85" r="1.45"/><circle cx="545.09" cy="209.97" r="1.45"/><circle cx="542.49" cy="208.43" r="1.45"/><circle cx="544.74" cy="211.3" r="1.45"/><circle cx="544.86" cy="211.56" r="1.45"/></g><g fill="none" stroke="#22d822" stroke-width="0.65"><circle cx="546.04" cy="210.57" r="1.45"/><circle cx="546.54" cy="216.82" r="1.45"/><circle cx="546.69" cy="211.9" r="1.45"/><circle cx="547.93" cy="216.51" r="1.45"/><circle cx="548.75" cy="213.56" r="1.45"/><circle cx="548.57" cy="215.57" r="1.45"/><circle cx="549.2" cy="216.63" r="1.45"/><circle cx="550.24" cy="217.36" r="1.45"/><circle cx="550.24" cy="216.21" r="1.45"/><circle cx="551.14" cy="214.18" r="1.45"/><circle cx="551.54" cy="218.96" r="1.45"/><circle cx="551.5" cy="215.82" r="1.45"/><circle cx="552.07" cy="220.83" r="1.45"/><circle cx="552.16" cy="223.16" r="1.45"/><circle cx="551.9" cy="218.46" r="1.45"/><circle cx="552.68" cy="216.82" r="1.45"/><circle cx="552.99" cy="220.02" r="1.45"/><circle cx="553.58" cy="218.83" r="1.45"/><circle cx="553.55" cy="220.82" r="1.45"/><circle cx="554.28" cy="224.66" r="1.45"/><circle cx="554.73" cy="220.09" r="1.45"/><circle cx="554.68" cy="227.12" r="1.45"/><circle cx="555.11" cy="220.93" r="1.45"/><circle cx="555.38" cy="221.94" r="1.45"/><circle cx="555.65" cy="217.89" r="1.45"/><circle cx="555.65" cy="221.21" r="1.45"/><circle cx="555.88" cy="219.16" r="1.45"/><circle cx="556.12" cy="221.78" r="1.45"/><circle cx="556.35" cy="219.52" r="1.45"/><circle cx="556.58" cy="221.11" r="1.45"/><circle cx="556.86" cy="223.48" r="1.45"/><circle cx="557.13" cy="224.95" r="1.45"/><circle cx="557.41" cy="215.24" r="1.45"/><circle cx="557.68" cy="222.44" r="1.45"/><circle cx="557.68" cy="226.63" r="1.45"/><circle cx="557.95" cy="227.53" r="1.45"/><circle cx="558.21" cy="225.53" r="1.45"/><circle cx="558.47" cy="225.47" r="1.45"/><circle cx="558.74" cy="221.82" r="1.45"/><circle cx="559" cy="222.2" r="1.45"/><circle cx="559.26" cy="221.93" r="1.45"/><circle cx="559.51" cy="224.66" r="1.45"/><circle cx="559.77" cy="221.97" r="1.45"/><circle cx="560.03" cy="225.01" r="1.45"/><circle cx="560.28" cy="222.24" r="1.45"/><circle cx="560.54" cy="219.53" r="1.45"/><circle cx="560.79" cy="220" r="1.45"/><circle cx="561.04" cy="223.49" r="1.45"/><circle cx="561.28" cy="221.18" r="1.45"/><circle cx="561.28" cy="222.57" r="1.45"/><circle cx="561.53" cy="220.62" r="1.45"/><circle cx="561.78" cy="218.2" r="1.45"/><circle cx="562.03" cy="222.15" r="1.45"/><circle cx="562.27" cy="223.02" r="1.45"/><circle cx="562.54" cy="226.64" r="1.45"/><circle cx="562.81" cy="220.7" r="1.45"/><circle cx="563.08" cy="220.33" r="1.45"/><circle cx="563.35" cy="220.54" r="1.45"/><circle cx="563.62" cy="226.55" r="1.45"/><circle cx="563.89" cy="222.05" r="1.45"/><circle cx="564.17" cy="218.56" r="1.45"/><circle cx="564.42" cy="224.46" r="1.45"/><circle cx="564.67" cy="226.56" r="1.45"/><circle cx="564.92" cy="221.07" r="1.45"/><circle cx="565.18" cy="222.86" r="1.45"/><circle cx="565.43" cy="230.11" r="1.45"/><circle cx="565.68" cy="223.95" r="1.45"/><circle cx="565.93" cy="221.33" r="1.45"/><circle cx="566.19" cy="218.01" r="1.45"/><circle cx="566.45" cy="219.04" r="1.45"/><circle cx="566.72" cy="220.69" r="1.45"/><circle cx="566.98" cy="227.18" r="1.45"/><circle cx="566.98" cy="220.64" r="1.45"/><circle cx="567.25" cy="225.21" r="1.45"/><circle cx="567.52" cy="223.45" r="1.45"/><circle cx="567.78" cy="218.55" r="1.45"/><circle cx="568.05" cy="226.68" r="1.45"/><circle cx="568.31" cy="219.39" r="1.45"/><circle cx="568.59" cy="221.38" r="1.45"/><circle cx="568.86" cy="223.26" r="1.45"/><circle cx="569.14" cy="221" r="1.45"/><circle cx="569.41" cy="221.22" r="1.45"/><circle cx="569.68" cy="218.26" r="1.45"/><circle cx="569.96" cy="223.31" r="1.45"/><circle cx="570.23" cy="220.45" r="1.45"/><circle cx="570.23" cy="228.01" r="1.45"/><circle cx="570.51" cy="219.12" r="1.45"/><circle cx="570.79" cy="223.11" r="1.45"/><circle cx="571.07" cy="220.96" r="1.45"/><circle cx="571.35" cy="230.33" r="1.45"/><circle cx="571.63" cy="221.09" r="1.45"/><circle cx="571.91" cy="225.84" r="1.45"/><circle cx="572.19" cy="221.68" r="1.45"/><circle cx="572.47" cy="225.29" r="1.45"/><circle cx="572.47" cy="223.34" r="1.45"/><circle cx="572.75" cy="222.55" r="1.45"/><circle cx="573" cy="223.86" r="1.45"/><circle cx="573.25" cy="227.41" r="1.45"/><circle cx="573.5" cy="219.19" r="1.45"/><circle cx="573.75" cy="226.31" r="1.45"/><circle cx="574" cy="225.12" r="1.45"/><circle cx="574.25" cy="223.77" r="1.45"/><circle cx="574.5" cy="225.34" r="1.45"/><circle cx="574.75" cy="220.83" r="1.45"/><circle cx="575" cy="222.59" r="1.45"/><circle cx="575.26" cy="222.62" r="1.45"/><circle cx="575.52" cy="226.13" r="1.45"/><circle cx="575.78" cy="226.13" r="1.45"/><circle cx="576.04" cy="223.08" r="1.45"/><circle cx="576.3" cy="219.35" r="1.45"/><circle cx="576.56" cy="225.56" r="1.45"/><circle cx="576.82" cy="224.39" r="1.45"/><circle cx="577.08" cy="221.98" r="1.45"/><circle cx="577.34" cy="221.48" r="1.45"/><circle cx="577.61" cy="224.75" r="1.45"/><circle cx="577.89" cy="226.02" r="1.45"/><circle cx="578.16" cy="226.18" r="1.45"/><circle cx="578.44" cy="221.26" r="1.45"/><circle cx="578.71" cy="231.78" r="1.45"/><circle cx="578.71" cy="220.7" r="1.45"/><circle cx="578.99" cy="226.84" r="1.45"/><circle cx="579.26" cy="228.59" r="1.45"/><circle cx="579.54" cy="225.35" r="1.45"/><circle cx="579.81" cy="227.82" r="1.45"/><circle cx="580.07" cy="224.38" r="1.45"/><circle cx="580.33" cy="223.87" r="1.45"/><circle cx="580.58" cy="223.91" r="1.45"/><circle cx="580.84" cy="224.24" r="1.45"/><circle cx="581.1" cy="223.28" r="1.45"/><circle cx="581.35" cy="222.42" r="1.45"/><circle cx="581.61" cy="221.93" r="1.45"/><circle cx="581.87" cy="227" r="1.45"/><circle cx="582.13" cy="226.1" r="1.45"/><circle cx="582.38" cy="221.69" r="1.45"/><circle cx="582.64" cy="222.74" r="1.45"/><circle cx="582.91" cy="227.56" r="1.45"/><circle cx="583.17" cy="226.17" r="1.45"/><circle cx="583.43" cy="220" r="1.45"/><circle cx="583.69" cy="229.07" r="1.45"/><circle cx="583.69" cy="222.98" r="1.45"/><circle cx="583.95" cy="230.52" r="1.45"/><circle cx="584.21" cy="221.75" r="1.45"/><circle cx="584.48" cy="227.9" r="1.45"/><circle cx="584.74" cy="224.45" r="1.45"/><circle cx="585" cy="226.9" r="1.45"/><circle cx="585.26" cy="224.96" r="1.45"/><circle cx="585.52" cy="221.39" r="1.45"/><circle cx="585.79" cy="222.57" r="1.45"/><circle cx="586.05" cy="223.3" r="1.45"/><circle cx="586.31" cy="226.85" r="1.45"/><circle cx="586.57" cy="220.97" r="1.45"/><circle cx="586.83" cy="225.63" r="1.45"/><circle cx="587.09" cy="221.36" r="1.45"/><circle cx="587.36" cy="224.16" r="1.45"/><circle cx="587.62" cy="222.1" r="1.45"/><circle cx="587.87" cy="221.59" r="1.45"/><circle cx="588.13" cy="220.26" r="1.45"/><circle cx="588.39" cy="229.09" r="1.45"/><circle cx="588.65" cy="222.66" r="1.45"/><circle cx="588.9" cy="221.09" r="1.45"/><circle cx="589.16" cy="228.01" r="1.45"/><circle cx="589.42" cy="225.5" r="1.45"/><circle cx="589.67" cy="227.41" r="1.45"/><circle cx="589.93" cy="229.07" r="1.45"/><circle cx="589.93" cy="223.67" r="1.45"/><circle cx="590.19" cy="223.35" r="1.45"/><circle cx="590.46" cy="228.09" r="1.45"/><circle cx="590.74" cy="224.23" r="1.45"/><circle cx="591.01" cy="221.21" r="1.45"/><circle cx="591.29" cy="222.45" r="1.45"/><circle cx="591.56" cy="216.99" r="1.45"/><circle cx="591.84" cy="219.22" r="1.45"/><circle cx="592.11" cy="226.04" r="1.45"/><circle cx="592.39" cy="224.93" r="1.45"/><circle cx="592.66" cy="221.62" r="1.45"/><circle cx="592.92" cy="224.41" r="1.45"/><circle cx="593.18" cy="223.38" r="1.45"/><circle cx="593.18" cy="225.21" r="1.45"/><circle cx="593.44" cy="218.69" r="1.45"/><circle cx="593.7" cy="224.49" r="1.45"/><circle cx="593.96" cy="227.24" r="1.45"/><circle cx="594.22" cy="221.32" r="1.45"/><circle cx="594.48" cy="226.65" r="1.45"/><circle cx="594.74" cy="227.28" r="1.45"/><circle cx="595" cy="223.73" r="1.45"/><circle cx="595.26" cy="222.58" r="1.45"/><circle cx="595.51" cy="222.76" r="1.45"/><circle cx="595.77" cy="219.83" r="1.45"/><circle cx="596.02" cy="232.27" r="1.45"/><circle cx="596.28" cy="225.32" r="1.45"/><circle cx="596.53" cy="222.92" r="1.45"/><circle cx="596.79" cy="224.91" r="1.45"/><circle cx="597.05" cy="221.94" r="1.45"/><circle cx="597.3" cy="224.77" r="1.45"/><circle cx="597.56" cy="226.73" r="1.45"/><circle cx="597.82" cy="220.52" r="1.45"/><circle cx="598.09" cy="224.38" r="1.45"/><circle cx="598.35" cy="221.97" r="1.45"/><circle cx="598.61" cy="225.63" r="1.45"/><circle cx="598.87" cy="223.21" r="1.45"/><circle cx="599.13" cy="224.01" r="1.45"/><circle cx="599.39" cy="223.93" r="1.45"/><circle cx="599.66" cy="223.62" r="1.45"/><circle cx="599.92" cy="226.05" r="1.45"/><circle cx="599.92" cy="220.37" r="1.45"/><circle cx="600.18" cy="218.25" r="1.45"/><circle cx="600.44" cy="231.39" r="1.45"/><circle cx="600.7" cy="221.87" r="1.45"/><circle cx="600.96" cy="228.94" r="1.45"/><circle cx="601.22" cy="223.62" r="1.45"/><circle cx="601.48" cy="221.85" r="1.45"/><circle cx="601.74" cy="219.16" r="1.45"/><circle cx="602" cy="227.5" r="1.45"/><circle cx="602.25" cy="223.02" r="1.45"/><circle cx="602.5" cy="225.07" r="1.45"/><circle cx="602.75" cy="223.36" r="1.45"/><circle cx="603" cy="225.3" r="1.45"/><circle cx="603.25" cy="223.01" r="1.45"/><circle cx="603.5" cy="221.97" r="1.45"/><circle cx="603.75" cy="222.83" r="1.45"/><circle cx="604" cy="227.11" r="1.45"/><circle cx="604.25" cy="223.29" r="1.45"/><circle cx="604.51" cy="227.47" r="1.45"/><circle cx="604.77" cy="229.3" r="1.45"/><circle cx="605.04" cy="222.81" r="1.45"/><circle cx="605.3" cy="222.57" r="1.45"/><circle cx="605.56" cy="225.55" r="1.45"/><circle cx="605.82" cy="227.7" r="1.45"/><circle cx="606.09" cy="223.33" r="1.45"/><circle cx="606.35" cy="220.32" r="1.45"/><circle cx="606.61" cy="221.34" r="1.45"/><circle cx="606.61" cy="218.9" r="1.45"/><circle cx="606.88" cy="222.23" r="1.45"/><circle cx="607.15" cy="219.98" r="1.45"/><circle cx="607.42" cy="221.37" r="1.45"/><circle cx="607.68" cy="221.43" r="1.45"/><circle cx="607.95" cy="219.94" r="1.45"/><circle cx="608.22" cy="224.13" r="1.45"/><circle cx="608.48" cy="222.1" r="1.45"/><circle cx="608.74" cy="223.04" r="1.45"/><circle cx="609.01" cy="221" r="1.45"/><circle cx="609.27" cy="220.2" r="1.45"/><circle cx="609.53" cy="223.08" r="1.45"/><circle cx="609.79" cy="221.85" r="1.45"/><circle cx="610.09" cy="227.08" r="1.45"/><circle cx="610.09" cy="223.35" r="1.45"/><circle cx="610.4" cy="220.78" r="1.45"/><circle cx="610.7" cy="215.88" r="1.45"/><circle cx="611" cy="224.86" r="1.45"/></g><g fill="none" stroke="#4ade4a" stroke-width="0.65"><circle cx="617.91" cy="171.42" r="1.45"/><circle cx="619.6" cy="172.16" r="1.45"/><circle cx="618.7" cy="175.11" r="1.45"/><circle cx="617.94" cy="173.92" r="1.45"/><circle cx="617.14" cy="176.52" r="1.45"/><circle cx="615.26" cy="177.86" r="1.45"/><circle cx="618.41" cy="179.21" r="1.45"/><circle cx="617.25" cy="182" r="1.45"/><circle cx="616.75" cy="181.44" r="1.45"/><circle cx="617.69" cy="184.42" r="1.45"/><circle cx="618.52" cy="185.17" r="1.45"/><circle cx="617.2" cy="187.45" r="1.45"/><circle cx="619.1" cy="186.45" r="1.45"/><circle cx="618.5" cy="187.28" r="1.45"/><circle cx="620.14" cy="191.04" r="1.45"/><circle cx="617.53" cy="191.08" r="1.45"/><circle cx="618.13" cy="192.09" r="1.45"/><circle cx="619.45" cy="194.46" r="1.45"/><circle cx="616.65" cy="196.26" r="1.45"/><circle cx="620.78" cy="196.6" r="1.45"/><circle cx="619.09" cy="200.33" r="1.45"/><circle cx="620.24" cy="199.87" r="1.45"/><circle cx="620.66" cy="202.09" r="1.45"/><circle cx="619.6" cy="202.68" r="1.45"/><circle cx="619.28" cy="202.75" r="1.45"/><circle cx="619.96" cy="206.05" r="1.45"/><circle cx="622.98" cy="207.34" r="1.45"/><circle cx="624.8" cy="208.15" r="1.45"/><circle cx="624.05" cy="209.51" r="1.45"/><circle cx="624.99" cy="209.31" r="1.45"/><circle cx="624.93" cy="211.24" r="1.45"/></g><g fill="none" stroke="#22d822" stroke-width="0.65"><circle cx="625.77" cy="210.99" r="1.45"/><circle cx="626.22" cy="213.28" r="1.45"/><circle cx="626.96" cy="214.52" r="1.45"/><circle cx="627.62" cy="214.8" r="1.45"/><circle cx="627.91" cy="215.9" r="1.45"/><circle cx="628.21" cy="215.87" r="1.45"/><circle cx="628.27" cy="220.28" r="1.45"/><circle cx="628.62" cy="217.73" r="1.45"/><circle cx="628.77" cy="214.88" r="1.45"/><circle cx="629" cy="216.04" r="1.45"/><circle cx="629.24" cy="214.01" r="1.45"/><circle cx="629.49" cy="219.24" r="1.45"/><circle cx="629.75" cy="212.48" r="1.45"/><circle cx="630" cy="216.98" r="1.45"/><circle cx="630" cy="215.48" r="1.45"/><circle cx="630.27" cy="216.06" r="1.45"/><circle cx="630.53" cy="217.82" r="1.45"/><circle cx="630.8" cy="211.72" r="1.45"/><circle cx="631.08" cy="215.09" r="1.45"/><circle cx="631.08" cy="218.05" r="1.45"/><circle cx="631.35" cy="214.62" r="1.45"/><circle cx="631.63" cy="210.24" r="1.45"/><circle cx="631.91" cy="216.41" r="1.45"/><circle cx="632.2" cy="217.48" r="1.45"/><circle cx="632.2" cy="217.48" r="1.45"/><circle cx="632.49" cy="215.75" r="1.45"/><circle cx="632.79" cy="210.19" r="1.45"/><circle cx="633.09" cy="211.22" r="1.45"/><circle cx="633.39" cy="219.46" r="1.45"/><circle cx="633.39" cy="215.66" r="1.45"/><circle cx="633.63" cy="216.95" r="1.45"/><circle cx="633.88" cy="215.69" r="1.45"/><circle cx="634.12" cy="217.85" r="1.45"/><circle cx="634.36" cy="220.51" r="1.45"/><circle cx="634.61" cy="221.59" r="1.45"/><circle cx="634.87" cy="210.35" r="1.45"/><circle cx="635.13" cy="217.52" r="1.45"/><circle cx="635.39" cy="219.01" r="1.45"/><circle cx="635.67" cy="213.92" r="1.45"/><circle cx="635.94" cy="219.84" r="1.45"/><circle cx="635.94" cy="221.85" r="1.45"/><circle cx="636.22" cy="216.69" r="1.45"/><circle cx="636.5" cy="219.76" r="1.45"/><circle cx="636.8" cy="214.88" r="1.45"/><circle cx="637.1" cy="222.79" r="1.45"/><circle cx="637.4" cy="217.85" r="1.45"/><circle cx="637.4" cy="220.25" r="1.45"/><circle cx="637.7" cy="216.39" r="1.45"/><circle cx="637.95" cy="218.01" r="1.45"/><circle cx="638.21" cy="212.44" r="1.45"/><circle cx="638.46" cy="216.84" r="1.45"/><circle cx="638.71" cy="218.16" r="1.45"/><circle cx="638.97" cy="223.86" r="1.45"/><circle cx="639.23" cy="218.81" r="1.45"/><circle cx="639.49" cy="220.64" r="1.45"/><circle cx="639.75" cy="218.17" r="1.45"/><circle cx="640.02" cy="217.48" r="1.45"/><circle cx="640.28" cy="215.35" r="1.45"/><circle cx="640.55" cy="221.4" r="1.45"/><circle cx="640.83" cy="216.08" r="1.45"/><circle cx="640.83" cy="225.03" r="1.45"/><circle cx="641.1" cy="218.34" r="1.45"/><circle cx="641.38" cy="219.86" r="1.45"/><circle cx="641.65" cy="222.09" r="1.45"/><circle cx="641.94" cy="220.74" r="1.45"/><circle cx="642.23" cy="218.74" r="1.45"/><circle cx="642.52" cy="227.16" r="1.45"/><circle cx="642.81" cy="215.35" r="1.45"/><circle cx="642.81" cy="220.36" r="1.45"/><circle cx="643.1" cy="222.24" r="1.45"/><circle cx="643.36" cy="219.14" r="1.45"/><circle cx="643.61" cy="216.71" r="1.45"/><circle cx="643.87" cy="218.51" r="1.45"/><circle cx="644.13" cy="218.21" r="1.45"/><circle cx="644.39" cy="218.45" r="1.45"/><circle cx="644.64" cy="219.39" r="1.45"/><circle cx="644.92" cy="220.81" r="1.45"/><circle cx="645.19" cy="217.17" r="1.45"/><circle cx="645.47" cy="220.88" r="1.45"/><circle cx="645.75" cy="216.33" r="1.45"/><circle cx="646.02" cy="220.95" r="1.45"/><circle cx="646.02" cy="221.63" r="1.45"/><circle cx="646.3" cy="219.89" r="1.45"/><circle cx="646.55" cy="220.44" r="1.45"/><circle cx="646.81" cy="216.74" r="1.45"/><circle cx="647.06" cy="219.68" r="1.45"/><circle cx="647.31" cy="223.79" r="1.45"/><circle cx="647.57" cy="217.81" r="1.45"/><circle cx="647.82" cy="219.09" r="1.45"/><circle cx="648.08" cy="224.18" r="1.45"/><circle cx="648.35" cy="220.03" r="1.45"/><circle cx="648.63" cy="219.51" r="1.45"/><circle cx="648.9" cy="218.65" r="1.45"/><circle cx="649.18" cy="220.02" r="1.45"/><circle cx="649.45" cy="225.32" r="1.45"/><circle cx="649.73" cy="219.28" r="1.45"/><circle cx="650" cy="222.58" r="1.45"/><circle cx="650.28" cy="223.81" r="1.45"/><circle cx="650.28" cy="220.83" r="1.45"/><circle cx="650.56" cy="222.66" r="1.45"/><circle cx="650.84" cy="216.72" r="1.45"/><circle cx="651.12" cy="221.74" r="1.45"/><circle cx="651.4" cy="217.13" r="1.45"/><circle cx="651.68" cy="220.83" r="1.45"/><circle cx="651.96" cy="221.24" r="1.45"/><circle cx="652.24" cy="221.42" r="1.45"/><circle cx="652.51" cy="217.93" r="1.45"/><circle cx="652.77" cy="220.61" r="1.45"/><circle cx="652.77" cy="218.98" r="1.45"/><circle cx="653.03" cy="215.12" r="1.45"/><circle cx="653.29" cy="222.91" r="1.45"/><circle cx="653.55" cy="218.24" r="1.45"/><circle cx="653.82" cy="219.42" r="1.45"/><circle cx="654.08" cy="222.57" r="1.45"/><circle cx="654.34" cy="218.99" r="1.45"/><circle cx="654.6" cy="219.84" r="1.45"/><circle cx="654.87" cy="220.14" r="1.45"/><circle cx="655.13" cy="220.71" r="1.45"/><circle cx="655.38" cy="221.84" r="1.45"/><circle cx="655.64" cy="223.29" r="1.45"/><circle cx="655.9" cy="225.3" r="1.45"/><circle cx="656.16" cy="220.47" r="1.45"/><circle cx="656.42" cy="216.63" r="1.45"/><circle cx="656.68" cy="220.88" r="1.45"/><circle cx="656.94" cy="221.42" r="1.45"/><circle cx="657.19" cy="218.51" r="1.45"/><circle cx="657.45" cy="220.97" r="1.45"/><circle cx="657.71" cy="223.16" r="1.45"/><circle cx="657.98" cy="218.03" r="1.45"/><circle cx="658.24" cy="220.88" r="1.45"/><circle cx="658.5" cy="219.46" r="1.45"/><circle cx="658.77" cy="219.64" r="1.45"/><circle cx="658.77" cy="222.62" r="1.45"/><circle cx="659.03" cy="222.2" r="1.45"/><circle cx="659.3" cy="217.1" r="1.45"/><circle cx="659.56" cy="223.26" r="1.45"/><circle cx="659.83" cy="226.46" r="1.45"/><circle cx="660.09" cy="213.64" r="1.45"/><circle cx="660.35" cy="220.02" r="1.45"/><circle cx="660.62" cy="218.35" r="1.45"/><circle cx="660.87" cy="220.5" r="1.45"/><circle cx="661.13" cy="222.83" r="1.45"/><circle cx="661.39" cy="217.6" r="1.45"/><circle cx="661.64" cy="217.85" r="1.45"/><circle cx="661.9" cy="219.19" r="1.45"/><circle cx="662.15" cy="218.59" r="1.45"/><circle cx="662.41" cy="220.21" r="1.45"/><circle cx="662.66" cy="221.36" r="1.45"/><circle cx="662.92" cy="220.8" r="1.45"/><circle cx="663.17" cy="219.81" r="1.45"/><circle cx="663.43" cy="216.57" r="1.45"/><circle cx="663.69" cy="220.1" r="1.45"/><circle cx="663.94" cy="218.47" r="1.45"/><circle cx="664.2" cy="219.71" r="1.45"/><circle cx="664.45" cy="217.48" r="1.45"/><circle cx="664.71" cy="219.14" r="1.45"/><circle cx="664.96" cy="217.79" r="1.45"/><circle cx="665.22" cy="219.89" r="1.45"/><circle cx="665.48" cy="219.61" r="1.45"/><circle cx="665.73" cy="221.91" r="1.45"/><circle cx="665.99" cy="217.93" r="1.45"/><circle cx="666.25" cy="217.09" r="1.45"/><circle cx="666.52" cy="218.53" r="1.45"/><circle cx="666.52" cy="220.29" r="1.45"/><circle cx="666.79" cy="220.57" r="1.45"/><circle cx="667.06" cy="216.52" r="1.45"/><circle cx="667.33" cy="216.51" r="1.45"/><circle cx="667.59" cy="221.27" r="1.45"/><circle cx="667.86" cy="221.18" r="1.45"/><circle cx="668.13" cy="222.09" r="1.45"/><circle cx="668.39" cy="219.61" r="1.45"/><circle cx="668.65" cy="217.75" r="1.45"/><circle cx="668.91" cy="214.29" r="1.45"/><circle cx="669.18" cy="220.79" r="1.45"/><circle cx="669.44" cy="217.46" r="1.45"/><circle cx="669.7" cy="215.02" r="1.45"/></g><g fill="#057a05"><circle cx="509.33" cy="303.8" r="1.85"/><circle cx="509.49" cy="300.92" r="1.85"/><circle cx="509.12" cy="304.27" r="1.85"/><circle cx="508.62" cy="300.31" r="1.85"/><circle cx="509.43" cy="299.69" r="1.85"/><circle cx="509.09" cy="299.96" r="1.85"/><circle cx="509.59" cy="302.85" r="1.85"/><circle cx="509.76" cy="298.73" r="1.85"/><circle cx="509.72" cy="297.41" r="1.85"/><circle cx="510" cy="300.14" r="1.85"/><circle cx="510.1" cy="300.08" r="1.85"/><circle cx="510.25" cy="296.97" r="1.85"/><circle cx="510.34" cy="300.54" r="1.85"/><circle cx="510.3" cy="298.83" r="1.85"/><circle cx="510.69" cy="299.29" r="1.85"/><circle cx="511.16" cy="297.85" r="1.85"/><circle cx="510.78" cy="296.19" r="1.85"/><circle cx="511.7" cy="294.18" r="1.85"/><circle cx="511.73" cy="296.26" r="1.85"/><circle cx="512.05" cy="299.28" r="1.85"/><circle cx="511.86" cy="298.52" r="1.85"/><circle cx="512.55" cy="298.08" r="1.85"/><circle cx="512.19" cy="298.91" r="1.85"/><circle cx="513.33" cy="295.84" r="1.85"/><circle cx="513" cy="298.74" r="1.85"/><circle cx="513.26" cy="300" r="1.85"/><circle cx="513.45" cy="297.94" r="1.85"/><circle cx="513.78" cy="297.19" r="1.85"/><circle cx="514.02" cy="296.06" r="1.85"/><circle cx="514.36" cy="298.91" r="1.85"/><circle cx="514.55" cy="297.74" r="1.85"/><circle cx="514.82" cy="298.07" r="1.85"/><circle cx="515.08" cy="294.62" r="1.85"/><circle cx="515.02" cy="294.95" r="1.85"/><circle cx="515.62" cy="292.71" r="1.85"/><circle cx="516.62" cy="293.62" r="1.85"/><circle cx="516.22" cy="290.13" r="1.85"/><circle cx="516.66" cy="293.1" r="1.85"/><circle cx="516.03" cy="292.11" r="1.85"/><circle cx="516.73" cy="295.19" r="1.85"/><circle cx="516.21" cy="293.28" r="1.85"/><circle cx="516.97" cy="293.77" r="1.85"/><circle cx="516.88" cy="296.44" r="1.85"/><circle cx="517.13" cy="294.83" r="1.85"/><circle cx="517.68" cy="292.28" r="1.85"/><circle cx="517.73" cy="292.96" r="1.85"/><circle cx="517.97" cy="292.22" r="1.85"/><circle cx="518.39" cy="290.68" r="1.85"/><circle cx="518.02" cy="289.47" r="1.85"/><circle cx="518.46" cy="291.46" r="1.85"/><circle cx="518.55" cy="293.32" r="1.85"/><circle cx="518.83" cy="293.6" r="1.85"/><circle cx="519.05" cy="292.43" r="1.85"/><circle cx="519.03" cy="296.83" r="1.85"/><circle cx="518.83" cy="292.47" r="1.85"/><circle cx="518.87" cy="292.91" r="1.85"/><circle cx="519.13" cy="295.02" r="1.85"/><circle cx="518.94" cy="293.55" r="1.85"/><circle cx="519.14" cy="295.36" r="1.85"/><circle cx="519.95" cy="294.11" r="1.85"/><circle cx="519.78" cy="294.08" r="1.85"/><circle cx="519.75" cy="292.63" r="1.85"/><circle cx="520.02" cy="293.23" r="1.85"/><circle cx="520.09" cy="296.97" r="1.85"/><circle cx="520.23" cy="294.18" r="1.85"/><circle cx="519.97" cy="292.21" r="1.85"/><circle cx="520.22" cy="297.84" r="1.85"/><circle cx="520.48" cy="298.05" r="1.85"/><circle cx="520.9" cy="295.87" r="1.85"/><circle cx="521.17" cy="297.83" r="1.85"/><circle cx="521.17" cy="301.16" r="1.85"/><circle cx="520.79" cy="298.54" r="1.85"/><circle cx="521.35" cy="297.99" r="1.85"/><circle cx="521.31" cy="300.69" r="1.85"/><circle cx="521.58" cy="294.92" r="1.85"/><circle cx="522.11" cy="299.38" r="1.85"/><circle cx="522.12" cy="296.35" r="1.85"/><circle cx="522.53" cy="298.87" r="1.85"/><circle cx="523.25" cy="300.75" r="1.85"/><circle cx="522.36" cy="300.23" r="1.85"/><circle cx="523.41" cy="300.4" r="1.85"/><circle cx="523.45" cy="298.55" r="1.85"/><circle cx="523.86" cy="298.04" r="1.85"/><circle cx="524.42" cy="298.9" r="1.85"/><circle cx="524.01" cy="302.3" r="1.85"/><circle cx="524.24" cy="301.08" r="1.85"/><circle cx="524.5" cy="296.74" r="1.85"/><circle cx="524.53" cy="298.68" r="1.85"/><circle cx="525.48" cy="296.29" r="1.85"/><circle cx="524.54" cy="296.95" r="1.85"/><circle cx="524.5" cy="299.47" r="1.85"/><circle cx="525.21" cy="294.19" r="1.85"/><circle cx="525.09" cy="296.34" r="1.85"/><circle cx="525.41" cy="297.01" r="1.85"/><circle cx="524.88" cy="296.78" r="1.85"/><circle cx="525.91" cy="297.07" r="1.85"/><circle cx="525.31" cy="295.28" r="1.85"/><circle cx="526.24" cy="292.58" r="1.85"/><circle cx="525.56" cy="295.41" r="1.85"/><circle cx="525.95" cy="293.96" r="1.85"/><circle cx="526.12" cy="296.31" r="1.85"/><circle cx="526.48" cy="294.96" r="1.85"/><circle cx="526.54" cy="295.21" r="1.85"/><circle cx="527.05" cy="299.44" r="1.85"/><circle cx="526.07" cy="295.74" r="1.85"/><circle cx="526.76" cy="294.81" r="1.85"/><circle cx="527.28" cy="294.1" r="1.85"/><circle cx="526.58" cy="294.45" r="1.85"/><circle cx="527.72" cy="291.09" r="1.85"/><circle cx="527.84" cy="296.6" r="1.85"/><circle cx="527.9" cy="290.69" r="1.85"/><circle cx="528.73" cy="294.22" r="1.85"/><circle cx="528.78" cy="291.53" r="1.85"/><circle cx="528.76" cy="290.29" r="1.85"/><circle cx="529.56" cy="292.42" r="1.85"/></g><g fill="#057a05"><circle cx="534.27" cy="289.74" r="1.85"/><circle cx="534.32" cy="291.06" r="1.85"/><circle cx="534.46" cy="291.14" r="1.85"/><circle cx="534.43" cy="287.81" r="1.85"/><circle cx="534.72" cy="290.32" r="1.85"/><circle cx="534.32" cy="289.63" r="1.85"/><circle cx="534.35" cy="291.64" r="1.85"/><circle cx="534.91" cy="287.94" r="1.85"/><circle cx="535.03" cy="288.14" r="1.85"/><circle cx="534.4" cy="285.54" r="1.85"/><circle cx="534.42" cy="291.07" r="1.85"/><circle cx="534.02" cy="288.53" r="1.85"/><circle cx="534.67" cy="288.79" r="1.85"/><circle cx="534.54" cy="288.79" r="1.85"/><circle cx="535.23" cy="290.3" r="1.85"/><circle cx="534.38" cy="289.04" r="1.85"/><circle cx="535.14" cy="287.06" r="1.85"/><circle cx="535.02" cy="285.62" r="1.85"/><circle cx="535.54" cy="284.09" r="1.85"/><circle cx="535.09" cy="287.83" r="1.85"/><circle cx="534.53" cy="289.09" r="1.85"/><circle cx="534.97" cy="284.38" r="1.85"/><circle cx="535.31" cy="283.87" r="1.85"/><circle cx="534.97" cy="283.4" r="1.85"/><circle cx="534.86" cy="284.95" r="1.85"/><circle cx="535.3" cy="287.63" r="1.85"/><circle cx="534.8" cy="283.34" r="1.85"/><circle cx="535.44" cy="285.93" r="1.85"/><circle cx="535.46" cy="281.48" r="1.85"/><circle cx="535.48" cy="285.38" r="1.85"/><circle cx="535.31" cy="282.61" r="1.85"/><circle cx="535.3" cy="282.26" r="1.85"/><circle cx="535.11" cy="282.87" r="1.85"/><circle cx="535.17" cy="277.7" r="1.85"/><circle cx="535.52" cy="280.5" r="1.85"/><circle cx="535.57" cy="279.49" r="1.85"/><circle cx="535.1" cy="283.09" r="1.85"/><circle cx="534.96" cy="282.43" r="1.85"/><circle cx="535.7" cy="282.06" r="1.85"/><circle cx="535.34" cy="279.65" r="1.85"/><circle cx="536.01" cy="280.81" r="1.85"/><circle cx="535.85" cy="279.98" r="1.85"/><circle cx="535.96" cy="281.01" r="1.85"/><circle cx="535.62" cy="278.58" r="1.85"/><circle cx="535.99" cy="278.76" r="1.85"/><circle cx="535.58" cy="277.51" r="1.85"/><circle cx="536.19" cy="275.45" r="1.85"/><circle cx="535.61" cy="275.01" r="1.85"/><circle cx="535.99" cy="276.25" r="1.85"/><circle cx="535.61" cy="276.51" r="1.85"/><circle cx="535.6" cy="272.68" r="1.85"/><circle cx="536.55" cy="275.97" r="1.85"/><circle cx="535.96" cy="276.97" r="1.85"/><circle cx="536.02" cy="274.63" r="1.85"/><circle cx="536.29" cy="273.79" r="1.85"/><circle cx="535.57" cy="271.23" r="1.85"/><circle cx="536.39" cy="271.73" r="1.85"/><circle cx="536.43" cy="274.47" r="1.85"/><circle cx="536.53" cy="279.45" r="1.85"/><circle cx="536.37" cy="280.01" r="1.85"/><circle cx="536.5" cy="277.85" r="1.85"/><circle cx="536.79" cy="281.06" r="1.85"/><circle cx="536.43" cy="275.34" r="1.85"/><circle cx="536.77" cy="277.19" r="1.85"/><circle cx="536.73" cy="275.22" r="1.85"/><circle cx="537.03" cy="277.54" r="1.85"/><circle cx="536.54" cy="277.58" r="1.85"/><circle cx="536.96" cy="283.09" r="1.85"/><circle cx="537.48" cy="281.3" r="1.85"/><circle cx="537.47" cy="281.6" r="1.85"/><circle cx="537.62" cy="279.5" r="1.85"/><circle cx="537.96" cy="280.92" r="1.85"/><circle cx="537.46" cy="281.22" r="1.85"/><circle cx="537.81" cy="281.32" r="1.85"/><circle cx="537.77" cy="283.24" r="1.85"/><circle cx="537.29" cy="279.72" r="1.85"/><circle cx="537.4" cy="279.44" r="1.85"/><circle cx="538.38" cy="283.98" r="1.85"/><circle cx="537.65" cy="284.75" r="1.85"/><circle cx="538.49" cy="283.08" r="1.85"/><circle cx="538.41" cy="284.75" r="1.85"/><circle cx="538.6" cy="288.37" r="1.85"/><circle cx="539.45" cy="285.18" r="1.85"/><circle cx="538.94" cy="282.92" r="1.85"/><circle cx="539.43" cy="289.27" r="1.85"/><circle cx="539.02" cy="287.98" r="1.85"/><circle cx="539.35" cy="285.98" r="1.85"/><circle cx="539.24" cy="281.8" r="1.85"/><circle cx="539.56" cy="284.63" r="1.85"/><circle cx="539.3" cy="285.46" r="1.85"/><circle cx="540.23" cy="286.63" r="1.85"/><circle cx="540.11" cy="286.85" r="1.85"/><circle cx="539.89" cy="290.17" r="1.85"/><circle cx="539.65" cy="286.76" r="1.85"/><circle cx="540.58" cy="291.25" r="1.85"/><circle cx="540.84" cy="285.92" r="1.85"/><circle cx="540.49" cy="284.32" r="1.85"/><circle cx="540.41" cy="289.51" r="1.85"/><circle cx="540.52" cy="288.45" r="1.85"/><circle cx="540.79" cy="287.71" r="1.85"/><circle cx="540.5" cy="286.51" r="1.85"/><circle cx="540.83" cy="287.55" r="1.85"/><circle cx="540.32" cy="288.7" r="1.85"/><circle cx="540.65" cy="289.68" r="1.85"/><circle cx="540.53" cy="287.78" r="1.85"/><circle cx="541.02" cy="286.73" r="1.85"/><circle cx="541.32" cy="288.39" r="1.85"/><circle cx="541.23" cy="291.09" r="1.85"/><circle cx="541.61" cy="291.43" r="1.85"/><circle cx="541.19" cy="289.63" r="1.85"/><circle cx="541.42" cy="286.71" r="1.85"/><circle cx="541.57" cy="290.67" r="1.85"/><circle cx="541.91" cy="290.95" r="1.85"/><circle cx="541.55" cy="293.16" r="1.85"/><circle cx="542.32" cy="291.98" r="1.85"/><circle cx="541.61" cy="295.56" r="1.85"/><circle cx="542.05" cy="292.6" r="1.85"/><circle cx="542.28" cy="292.01" r="1.85"/><circle cx="542.47" cy="294.67" r="1.85"/><circle cx="542.49" cy="297.76" r="1.85"/><circle cx="542.69" cy="293.4" r="1.85"/><circle cx="542.86" cy="291.93" r="1.85"/><circle cx="542.91" cy="295.66" r="1.85"/><circle cx="542.85" cy="297.96" r="1.85"/><circle cx="542.91" cy="295.9" r="1.85"/><circle cx="543.02" cy="297.73" r="1.85"/><circle cx="543.62" cy="298.09" r="1.85"/><circle cx="544.2" cy="299.07" r="1.85"/><circle cx="544.14" cy="296.73" r="1.85"/><circle cx="544.07" cy="295.91" r="1.85"/><circle cx="544.45" cy="294.76" r="1.85"/><circle cx="544.36" cy="297.98" r="1.85"/><circle cx="545.25" cy="293.57" r="1.85"/><circle cx="545.17" cy="293.45" r="1.85"/><circle cx="545.27" cy="289.5" r="1.85"/><circle cx="546.74" cy="292.87" r="1.85"/><circle cx="546.4" cy="293.52" r="1.85"/><circle cx="546.5" cy="295.43" r="1.85"/><circle cx="547.42" cy="293.85" r="1.85"/><circle cx="547.11" cy="292.07" r="1.85"/><circle cx="547.87" cy="296.3" r="1.85"/><circle cx="547.81" cy="293.29" r="1.85"/><circle cx="547.91" cy="293.39" r="1.85"/><circle cx="547.6" cy="293.06" r="1.85"/><circle cx="548.12" cy="292.78" r="1.85"/><circle cx="548.28" cy="291.39" r="1.85"/><circle cx="548.83" cy="292.35" r="1.85"/><circle cx="548.94" cy="293.01" r="1.85"/><circle cx="548.86" cy="295.67" r="1.85"/><circle cx="549.57" cy="292.05" r="1.85"/><circle cx="549.49" cy="292.3" r="1.85"/><circle cx="550.19" cy="294.28" r="1.85"/><circle cx="549.63" cy="293.74" r="1.85"/><circle cx="550.27" cy="290.65" r="1.85"/><circle cx="549.51" cy="292.63" r="1.85"/><circle cx="549.99" cy="293.47" r="1.85"/><circle cx="550.4" cy="293.1" r="1.85"/><circle cx="550.33" cy="289.93" r="1.85"/><circle cx="550.72" cy="289.34" r="1.85"/><circle cx="550.83" cy="293.37" r="1.85"/><circle cx="550.22" cy="289.14" r="1.85"/><circle cx="550.95" cy="292.23" r="1.85"/><circle cx="551" cy="296.69" r="1.85"/><circle cx="550.94" cy="291.3" r="1.85"/><circle cx="551.36" cy="293.54" r="1.85"/><circle cx="551.63" cy="290.1" r="1.85"/><circle cx="551.67" cy="288.03" r="1.85"/><circle cx="552.49" cy="291.35" r="1.85"/><circle cx="552.1" cy="288.84" r="1.85"/><circle cx="552.12" cy="288.96" r="1.85"/><circle cx="552.36" cy="289.56" r="1.85"/><circle cx="552.25" cy="292.63" r="1.85"/><circle cx="552.88" cy="292.53" r="1.85"/><circle cx="553.27" cy="287.74" r="1.85"/><circle cx="553.25" cy="291.54" r="1.85"/><circle cx="553.11" cy="290.22" r="1.85"/><circle cx="553.18" cy="289.45" r="1.85"/><circle cx="553.17" cy="290.77" r="1.85"/><circle cx="553.31" cy="290.25" r="1.85"/><circle cx="553.58" cy="288.86" r="1.85"/><circle cx="553.95" cy="290.99" r="1.85"/><circle cx="554.16" cy="285.27" r="1.85"/><circle cx="554.19" cy="290.91" r="1.85"/><circle cx="554.14" cy="293.28" r="1.85"/><circle cx="554.22" cy="293.08" r="1.85"/><circle cx="554.25" cy="293.11" r="1.85"/><circle cx="554.16" cy="292.74" r="1.85"/><circle cx="554.91" cy="298.41" r="1.85"/><circle cx="554.52" cy="290.01" r="1.85"/><circle cx="554.85" cy="289.77" r="1.85"/><circle cx="555.01" cy="290.94" r="1.85"/><circle cx="555.69" cy="290.72" r="1.85"/><circle cx="555.72" cy="294.14" r="1.85"/><circle cx="556" cy="292.9" r="1.85"/><circle cx="556.25" cy="295.82" r="1.85"/><circle cx="557.23" cy="297.26" r="1.85"/><circle cx="557.16" cy="296.23" r="1.85"/><circle cx="557.52" cy="294.11" r="1.85"/><circle cx="557.12" cy="293.41" r="1.85"/><circle cx="557.93" cy="295.4" r="1.85"/><circle cx="557.83" cy="289.15" r="1.85"/><circle cx="558.87" cy="290.74" r="1.85"/><circle cx="559.19" cy="292.5" r="1.85"/><circle cx="559.37" cy="292.35" r="1.85"/><circle cx="559.23" cy="292.97" r="1.85"/><circle cx="559.85" cy="292.33" r="1.85"/><circle cx="560.21" cy="293.62" r="1.85"/><circle cx="560.23" cy="293.26" r="1.85"/><circle cx="560.8" cy="290.85" r="1.85"/><circle cx="560.69" cy="297.08" r="1.85"/><circle cx="561.13" cy="295.71" r="1.85"/><circle cx="561.54" cy="297.23" r="1.85"/><circle cx="561.89" cy="295.04" r="1.85"/><circle cx="562.3" cy="296.59" r="1.85"/><circle cx="562.78" cy="293.66" r="1.85"/><circle cx="562.62" cy="292.73" r="1.85"/><circle cx="563.41" cy="293.67" r="1.85"/><circle cx="563.96" cy="292.38" r="1.85"/><circle cx="563.88" cy="291.55" r="1.85"/><circle cx="563.58" cy="293.75" r="1.85"/><circle cx="564.23" cy="290.51" r="1.85"/><circle cx="564.25" cy="292.24" r="1.85"/><circle cx="565.11" cy="292.88" r="1.85"/><circle cx="564.64" cy="292.06" r="1.85"/><circle cx="565.79" cy="289.54" r="1.85"/><circle cx="565.27" cy="290.27" r="1.85"/><circle cx="566.19" cy="290.59" r="1.85"/><circle cx="566.44" cy="289.88" r="1.85"/><circle cx="566.96" cy="292.05" r="1.85"/><circle cx="566.84" cy="291.32" r="1.85"/><circle cx="567.14" cy="297.17" r="1.85"/><circle cx="567.9" cy="296.34" r="1.85"/><circle cx="568.06" cy="296.69" r="1.85"/><circle cx="568.19" cy="296.7" r="1.85"/><circle cx="568.11" cy="292.18" r="1.85"/><circle cx="568.72" cy="295.01" r="1.85"/><circle cx="568.69" cy="293.3" r="1.85"/><circle cx="569.31" cy="295.69" r="1.85"/><circle cx="569.76" cy="294.88" r="1.85"/><circle cx="569.36" cy="291.58" r="1.85"/><circle cx="570.01" cy="296.09" r="1.85"/><circle cx="570.61" cy="290.71" r="1.85"/><circle cx="570.39" cy="294.82" r="1.85"/><circle cx="570.94" cy="291.56" r="1.85"/><circle cx="571.19" cy="297.77" r="1.85"/><circle cx="571.3" cy="294.33" r="1.85"/><circle cx="571.97" cy="295.96" r="1.85"/><circle cx="572.15" cy="294.83" r="1.85"/><circle cx="572.16" cy="292.68" r="1.85"/><circle cx="572.9" cy="291.67" r="1.85"/><circle cx="573.18" cy="295.63" r="1.85"/><circle cx="573.37" cy="295.16" r="1.85"/><circle cx="573.39" cy="293.21" r="1.85"/><circle cx="574.16" cy="295.48" r="1.85"/><circle cx="574.66" cy="293.4" r="1.85"/><circle cx="574.76" cy="292.45" r="1.85"/><circle cx="574.99" cy="294.73" r="1.85"/><circle cx="574.86" cy="292.62" r="1.85"/><circle cx="575.9" cy="291.93" r="1.85"/><circle cx="576.17" cy="295.73" r="1.85"/><circle cx="576.14" cy="297.04" r="1.85"/><circle cx="576.56" cy="298.13" r="1.85"/><circle cx="577.16" cy="295.33" r="1.85"/><circle cx="577.36" cy="291.15" r="1.85"/><circle cx="577.25" cy="290.27" r="1.85"/><circle cx="577.73" cy="292.8" r="1.85"/><circle cx="577.66" cy="291.66" r="1.85"/><circle cx="578.16" cy="290.15" r="1.85"/><circle cx="578.83" cy="292.34" r="1.85"/><circle cx="578.93" cy="291.55" r="1.85"/><circle cx="579.39" cy="294.14" r="1.85"/><circle cx="579.63" cy="295.83" r="1.85"/><circle cx="579.88" cy="289.91" r="1.85"/><circle cx="579.52" cy="290.71" r="1.85"/><circle cx="579.84" cy="291.5" r="1.85"/><circle cx="580.31" cy="292.38" r="1.85"/><circle cx="581.04" cy="295.4" r="1.85"/><circle cx="581.19" cy="295" r="1.85"/><circle cx="581.38" cy="294.7" r="1.85"/><circle cx="581.24" cy="290.74" r="1.85"/><circle cx="582.21" cy="293.56" r="1.85"/><circle cx="581.87" cy="296.58" r="1.85"/><circle cx="582.94" cy="295.72" r="1.85"/><circle cx="582.74" cy="292.52" r="1.85"/><circle cx="583.13" cy="291.6" r="1.85"/><circle cx="583.64" cy="290.35" r="1.85"/><circle cx="583.59" cy="294.43" r="1.85"/><circle cx="584.68" cy="291.45" r="1.85"/><circle cx="585.02" cy="290.86" r="1.85"/><circle cx="584.68" cy="289.89" r="1.85"/><circle cx="585.55" cy="292.91" r="1.85"/><circle cx="584.99" cy="292.75" r="1.85"/><circle cx="585.86" cy="287.17" r="1.85"/><circle cx="586.19" cy="291.5" r="1.85"/><circle cx="586.39" cy="287.72" r="1.85"/><circle cx="586.49" cy="288.52" r="1.85"/><circle cx="587.05" cy="285.32" r="1.85"/><circle cx="587.48" cy="290.6" r="1.85"/><circle cx="587.22" cy="295.88" r="1.85"/><circle cx="587.67" cy="297.99" r="1.85"/><circle cx="588.57" cy="292.76" r="1.85"/><circle cx="588.54" cy="295.04" r="1.85"/><circle cx="588.31" cy="294.73" r="1.85"/><circle cx="589.13" cy="291.63" r="1.85"/><circle cx="588.89" cy="292.84" r="1.85"/><circle cx="589.06" cy="291.6" r="1.85"/><circle cx="590.18" cy="292.46" r="1.85"/><circle cx="590.14" cy="289.8" r="1.85"/><circle cx="590.18" cy="290.69" r="1.85"/><circle cx="591.16" cy="294.51" r="1.85"/><circle cx="590.34" cy="292.41" r="1.85"/><circle cx="590.51" cy="294.04" r="1.85"/><circle cx="591.68" cy="293.23" r="1.85"/><circle cx="591.91" cy="294.93" r="1.85"/><circle cx="592.52" cy="293.59" r="1.85"/><circle cx="592.86" cy="294.67" r="1.85"/><circle cx="593.15" cy="292.86" r="1.85"/><circle cx="593.04" cy="292.2" r="1.85"/><circle cx="593.46" cy="288.6" r="1.85"/><circle cx="593.68" cy="289.16" r="1.85"/><circle cx="594.09" cy="289.32" r="1.85"/><circle cx="594.33" cy="291.22" r="1.85"/><circle cx="594.55" cy="289.87" r="1.85"/><circle cx="594.57" cy="289.68" r="1.85"/><circle cx="595.73" cy="288.32" r="1.85"/><circle cx="595.5" cy="288.15" r="1.85"/><circle cx="595.87" cy="286.58" r="1.85"/><circle cx="596.11" cy="288.41" r="1.85"/><circle cx="596.55" cy="293.24" r="1.85"/><circle cx="596.36" cy="288.47" r="1.85"/><circle cx="596.47" cy="290.95" r="1.85"/><circle cx="597.39" cy="287.88" r="1.85"/><circle cx="598.1" cy="286.47" r="1.85"/><circle cx="597.97" cy="287.11" r="1.85"/><circle cx="598.61" cy="291.63" r="1.85"/><circle cx="598.47" cy="292.85" r="1.85"/><circle cx="598.47" cy="289.46" r="1.85"/><circle cx="599.48" cy="288.22" r="1.85"/><circle cx="599.18" cy="289.43" r="1.85"/><circle cx="599.7" cy="286.58" r="1.85"/><circle cx="600.02" cy="289.04" r="1.85"/><circle cx="600.14" cy="288.16" r="1.85"/><circle cx="600.8" cy="286.23" r="1.85"/><circle cx="600.95" cy="288.09" r="1.85"/><circle cx="600.95" cy="289.44" r="1.85"/><circle cx="601.58" cy="289.57" r="1.85"/><circle cx="602.24" cy="292.06" r="1.85"/><circle cx="602" cy="290.66" r="1.85"/><circle cx="603.24" cy="291.82" r="1.85"/><circle cx="603.1" cy="286.77" r="1.85"/><circle cx="602.56" cy="288.93" r="1.85"/><circle cx="603.15" cy="287.46" r="1.85"/><circle cx="603.49" cy="292.48" r="1.85"/><circle cx="603.27" cy="289.76" r="1.85"/><circle cx="604.4" cy="284.88" r="1.85"/><circle cx="604.43" cy="290.41" r="1.85"/><circle cx="604.14" cy="285.75" r="1.85"/><circle cx="605.47" cy="287.19" r="1.85"/><circle cx="604.74" cy="287.09" r="1.85"/><circle cx="605.71" cy="289.26" r="1.85"/><circle cx="605.77" cy="292.42" r="1.85"/><circle cx="606.19" cy="293.54" r="1.85"/><circle cx="606.9" cy="291.13" r="1.85"/><circle cx="606.87" cy="290.77" r="1.85"/><circle cx="606.87" cy="289.05" r="1.85"/><circle cx="607.17" cy="287.16" r="1.85"/><circle cx="607.48" cy="289.16" r="1.85"/><circle cx="608.22" cy="287.74" r="1.85"/><circle cx="607.85" cy="292.61" r="1.85"/><circle cx="608.24" cy="290.76" r="1.85"/><circle cx="608.38" cy="290.22" r="1.85"/><circle cx="608.88" cy="289.36" r="1.85"/><circle cx="609.31" cy="290.18" r="1.85"/><circle cx="609.4" cy="294.86" r="1.85"/><circle cx="610.31" cy="288.43" r="1.85"/><circle cx="609.93" cy="285.7" r="1.85"/><circle cx="609.74" cy="286.94" r="1.85"/><circle cx="610.81" cy="288.04" r="1.85"/><circle cx="610.85" cy="287.92" r="1.85"/><circle cx="611.52" cy="289.9" r="1.85"/></g><g fill="#057a05"><circle cx="616.65" cy="280.07" r="1.8"/><circle cx="617.33" cy="274.94" r="1.8"/><circle cx="618.11" cy="278.13" r="1.8"/><circle cx="618.1" cy="277.85" r="1.8"/><circle cx="618.46" cy="277.48" r="1.8"/><circle cx="618.33" cy="278.44" r="1.8"/><circle cx="618.32" cy="278.78" r="1.8"/><circle cx="618.47" cy="278.86" r="1.8"/><circle cx="618.54" cy="280.47" r="1.8"/><circle cx="619.3" cy="276.99" r="1.8"/><circle cx="619.75" cy="274.69" r="1.8"/><circle cx="619.38" cy="282.15" r="1.8"/><circle cx="620.32" cy="280.06" r="1.8"/><circle cx="620" cy="279.01" r="1.8"/><circle cx="620.52" cy="283.05" r="1.8"/><circle cx="620.45" cy="282.13" r="1.8"/><circle cx="620.74" cy="284.03" r="1.8"/><circle cx="620.99" cy="285.53" r="1.8"/><circle cx="622.05" cy="283.82" r="1.8"/><circle cx="621.71" cy="283.63" r="1.8"/><circle cx="621.82" cy="284.42" r="1.8"/><circle cx="622.04" cy="281.45" r="1.8"/><circle cx="622.1" cy="281.43" r="1.8"/><circle cx="623.14" cy="279.48" r="1.8"/><circle cx="623.17" cy="281.45" r="1.8"/><circle cx="623.72" cy="283.81" r="1.8"/><circle cx="624.15" cy="283.54" r="1.8"/><circle cx="624.51" cy="280.82" r="1.8"/><circle cx="624.72" cy="284.22" r="1.8"/><circle cx="624.66" cy="286.02" r="1.8"/><circle cx="624.91" cy="286.69" r="1.8"/><circle cx="625.27" cy="282.98" r="1.8"/><circle cx="625.56" cy="285.71" r="1.8"/><circle cx="625.64" cy="285.78" r="1.8"/><circle cx="626.19" cy="289.14" r="1.8"/><circle cx="626.39" cy="288.41" r="1.8"/><circle cx="626.96" cy="288.55" r="1.8"/><circle cx="626.65" cy="290.05" r="1.8"/><circle cx="627.38" cy="290.97" r="1.8"/><circle cx="626.92" cy="288.86" r="1.8"/><circle cx="627.62" cy="290.9" r="1.8"/><circle cx="628.27" cy="287.65" r="1.8"/><circle cx="628.33" cy="288" r="1.8"/><circle cx="628.24" cy="285.51" r="1.8"/><circle cx="628.69" cy="288.72" r="1.8"/><circle cx="629.13" cy="289.97" r="1.8"/><circle cx="629.31" cy="291.78" r="1.8"/><circle cx="629.39" cy="289.79" r="1.8"/><circle cx="629.65" cy="289.18" r="1.8"/><circle cx="630.79" cy="288.59" r="1.8"/><circle cx="630.36" cy="292.01" r="1.8"/><circle cx="630.67" cy="292.14" r="1.8"/><circle cx="631.02" cy="290.89" r="1.8"/><circle cx="630.87" cy="289.19" r="1.8"/><circle cx="631.63" cy="293.03" r="1.8"/><circle cx="631.38" cy="290.37" r="1.8"/><circle cx="631.76" cy="289.87" r="1.8"/><circle cx="631.88" cy="288.31" r="1.8"/><circle cx="632.53" cy="293.89" r="1.8"/><circle cx="632.28" cy="294.75" r="1.8"/><circle cx="632.41" cy="294.02" r="1.8"/><circle cx="633.3" cy="293.83" r="1.8"/><circle cx="633.74" cy="295.36" r="1.8"/><circle cx="633.84" cy="293.54" r="1.8"/><circle cx="634.15" cy="295.04" r="1.8"/><circle cx="634.57" cy="295.22" r="1.8"/><circle cx="634.86" cy="291.57" r="1.8"/><circle cx="635.26" cy="294.51" r="1.8"/><circle cx="635.45" cy="291.46" r="1.8"/><circle cx="635.71" cy="294.37" r="1.8"/><circle cx="635.37" cy="292.62" r="1.8"/><circle cx="635.76" cy="291.78" r="1.8"/><circle cx="635.92" cy="292.34" r="1.8"/><circle cx="635.67" cy="296.78" r="1.8"/><circle cx="636.73" cy="293.01" r="1.8"/><circle cx="636.56" cy="294" r="1.8"/><circle cx="637.03" cy="291.14" r="1.8"/><circle cx="637.02" cy="290.25" r="1.8"/><circle cx="636.81" cy="292.24" r="1.8"/><circle cx="637.2" cy="293.71" r="1.8"/><circle cx="637.02" cy="286.51" r="1.8"/><circle cx="638.02" cy="288.25" r="1.8"/><circle cx="637.65" cy="289.28" r="1.8"/><circle cx="638.18" cy="289.59" r="1.8"/><circle cx="638.16" cy="291.49" r="1.8"/><circle cx="638.39" cy="291.24" r="1.8"/><circle cx="638.85" cy="288.94" r="1.8"/><circle cx="639.08" cy="291.92" r="1.8"/><circle cx="639.07" cy="287.87" r="1.8"/><circle cx="638.92" cy="288.75" r="1.8"/><circle cx="639.33" cy="293.63" r="1.8"/><circle cx="639.34" cy="291.71" r="1.8"/><circle cx="640.26" cy="292.98" r="1.8"/><circle cx="640.22" cy="291.68" r="1.8"/><circle cx="640.51" cy="289.73" r="1.8"/><circle cx="641.4" cy="290.26" r="1.8"/><circle cx="641.51" cy="288.02" r="1.8"/><circle cx="641.5" cy="292.87" r="1.8"/><circle cx="642.02" cy="292.85" r="1.8"/><circle cx="642.13" cy="294.07" r="1.8"/><circle cx="642.75" cy="295.59" r="1.8"/><circle cx="643.5" cy="292.95" r="1.8"/><circle cx="643.38" cy="295.04" r="1.8"/><circle cx="644.21" cy="297.81" r="1.8"/><circle cx="643.98" cy="295.74" r="1.8"/><circle cx="644.67" cy="295.22" r="1.8"/><circle cx="644.74" cy="296.83" r="1.8"/><circle cx="644.86" cy="292.77" r="1.8"/><circle cx="645.51" cy="296.27" r="1.8"/><circle cx="645.62" cy="297" r="1.8"/><circle cx="646.29" cy="294.66" r="1.8"/><circle cx="645.96" cy="295.25" r="1.8"/><circle cx="646.44" cy="296.77" r="1.8"/><circle cx="647" cy="294.1" r="1.8"/><circle cx="646.69" cy="293.56" r="1.8"/><circle cx="646.99" cy="294.97" r="1.8"/><circle cx="647.56" cy="294.62" r="1.8"/><circle cx="647.71" cy="294.19" r="1.8"/><circle cx="647.93" cy="289.43" r="1.8"/><circle cx="647.9" cy="291.16" r="1.8"/><circle cx="648.39" cy="290.97" r="1.8"/><circle cx="648.94" cy="289.29" r="1.8"/><circle cx="649.48" cy="291.49" r="1.8"/><circle cx="649.11" cy="292.58" r="1.8"/><circle cx="649.82" cy="292.09" r="1.8"/><circle cx="650.37" cy="295.42" r="1.8"/><circle cx="650.53" cy="289.58" r="1.8"/><circle cx="651.43" cy="290.39" r="1.8"/><circle cx="651.1" cy="291.76" r="1.8"/><circle cx="651.96" cy="289.47" r="1.8"/><circle cx="651.45" cy="292.17" r="1.8"/><circle cx="652.23" cy="294.79" r="1.8"/><circle cx="653.54" cy="292.7" r="1.8"/><circle cx="652.31" cy="289.86" r="1.8"/><circle cx="652.57" cy="288.69" r="1.8"/><circle cx="652.78" cy="288.82" r="1.8"/><circle cx="653.39" cy="286.82" r="1.8"/><circle cx="654.43" cy="286.23" r="1.8"/><circle cx="653.87" cy="284.92" r="1.8"/><circle cx="654.58" cy="285.56" r="1.8"/><circle cx="654.93" cy="287.58" r="1.8"/><circle cx="655" cy="283.32" r="1.8"/><circle cx="655.43" cy="279.82" r="1.8"/><circle cx="655.89" cy="284.9" r="1.8"/><circle cx="656.17" cy="283.32" r="1.8"/><circle cx="656.05" cy="282.24" r="1.8"/><circle cx="656.87" cy="282.03" r="1.8"/><circle cx="656.84" cy="284.07" r="1.8"/><circle cx="657.52" cy="284.28" r="1.8"/><circle cx="657.53" cy="281.27" r="1.8"/><circle cx="658.14" cy="282.72" r="1.8"/><circle cx="658.34" cy="282.28" r="1.8"/><circle cx="658.6" cy="284.44" r="1.8"/><circle cx="658.62" cy="282.45" r="1.8"/><circle cx="658.96" cy="285.16" r="1.8"/><circle cx="659.37" cy="288.57" r="1.8"/><circle cx="659.83" cy="285.23" r="1.8"/><circle cx="659.95" cy="287.04" r="1.8"/><circle cx="660.85" cy="287.66" r="1.8"/><circle cx="660.59" cy="283.83" r="1.8"/><circle cx="661.34" cy="289.43" r="1.8"/><circle cx="661.93" cy="288.6" r="1.8"/><circle cx="661.83" cy="285.17" r="1.8"/><circle cx="662.86" cy="286.71" r="1.8"/><circle cx="663.23" cy="287.36" r="1.8"/><circle cx="663.8" cy="283.06" r="1.8"/><circle cx="663.65" cy="285.02" r="1.8"/><circle cx="664.3" cy="285.72" r="1.8"/><circle cx="664.39" cy="284.54" r="1.8"/><circle cx="665.35" cy="288.07" r="1.8"/><circle cx="665.67" cy="286.53" r="1.8"/><circle cx="665.83" cy="286.95" r="1.8"/><circle cx="666.53" cy="283.6" r="1.8"/><circle cx="666.01" cy="287.5" r="1.8"/><circle cx="666.74" cy="283.26" r="1.8"/><circle cx="667.7" cy="287.24" r="1.8"/><circle cx="667.56" cy="289.3" r="1.8"/><circle cx="667.92" cy="288.27" r="1.8"/><circle cx="668.34" cy="288.43" r="1.8"/><circle cx="668.9" cy="286.21" r="1.8"/><circle cx="668.63" cy="290.19" r="1.8"/><circle cx="669.2" cy="287.8" r="1.8"/><circle cx="669.91" cy="289.86" r="1.8"/></g><rect x="607.8" y="233.8" width="61.2" height="33.3" fill="#fff" stroke="#8a8a8a" stroke-width="0.9"/><circle cx="624.5" cy="242.6" r="2.1" fill="#057a05"/><circle cx="624.5" cy="257.4" r="1.7" fill="none" stroke="#4ee84e" stroke-width="0.7"/><g fill="none" stroke="#ff8a0a" stroke-width="1.0"><circle cx="71.6" cy="400.4" r="1.7"/><circle cx="72.1" cy="400.38" r="1.7"/><circle cx="72.61" cy="400.36" r="1.7"/><circle cx="73.11" cy="400.33" r="1.7"/><circle cx="73.62" cy="400.31" r="1.7"/><circle cx="74.12" cy="400.29" r="1.7"/><circle cx="74.62" cy="400.27" r="1.7"/><circle cx="75.13" cy="400.25" r="1.7"/><circle cx="75.63" cy="400.22" r="1.7"/><circle cx="76.14" cy="400.2" r="1.7"/><circle cx="76.64" cy="400.18" r="1.7"/><circle cx="77.15" cy="400.16" r="1.7"/><circle cx="77.65" cy="400.14" r="1.7"/><circle cx="78.15" cy="400.12" r="1.7"/><circle cx="78.66" cy="400.09" r="1.7"/><circle cx="79.16" cy="400.07" r="1.7"/><circle cx="79.67" cy="400.05" r="1.7"/><circle cx="80.17" cy="400.03" r="1.7"/><circle cx="80.67" cy="400.01" r="1.7"/><circle cx="81.18" cy="399.98" r="1.7"/><circle cx="81.68" cy="399.96" r="1.7"/><circle cx="82.19" cy="399.94" r="1.7"/><circle cx="82.69" cy="399.92" r="1.7"/><circle cx="83.19" cy="399.9" r="1.7"/><circle cx="83.7" cy="399.87" r="1.7"/><circle cx="84.2" cy="399.85" r="1.7"/><circle cx="84.71" cy="399.83" r="1.7"/><circle cx="85.21" cy="399.81" r="1.7"/><circle cx="85.72" cy="399.79" r="1.7"/><circle cx="86.22" cy="399.76" r="1.7"/><circle cx="86.72" cy="399.74" r="1.7"/><circle cx="87.23" cy="399.72" r="1.7"/><circle cx="87.73" cy="399.7" r="1.7"/><circle cx="88.24" cy="399.68" r="1.7"/><circle cx="88.74" cy="399.65" r="1.7"/><circle cx="89.24" cy="399.63" r="1.7"/><circle cx="89.75" cy="399.61" r="1.7"/><circle cx="90.25" cy="399.59" r="1.7"/><circle cx="90.76" cy="399.56" r="1.7"/><circle cx="91.26" cy="399.54" r="1.7"/><circle cx="91.76" cy="399.51" r="1.7"/><circle cx="92.27" cy="399.49" r="1.7"/><circle cx="92.77" cy="399.46" r="1.7"/><circle cx="93.27" cy="399.44" r="1.7"/><circle cx="93.78" cy="399.41" r="1.7"/><circle cx="94.28" cy="399.39" r="1.7"/><circle cx="94.79" cy="399.37" r="1.7"/><circle cx="95.29" cy="399.34" r="1.7"/><circle cx="95.79" cy="399.32" r="1.7"/><circle cx="96.3" cy="399.29" r="1.7"/><circle cx="96.8" cy="399.27" r="1.7"/><circle cx="97.3" cy="399.24" r="1.7"/><circle cx="97.81" cy="399.22" r="1.7"/><circle cx="98.31" cy="399.19" r="1.7"/><circle cx="98.81" cy="399.17" r="1.7"/><circle cx="99.32" cy="399.14" r="1.7"/><circle cx="99.82" cy="399.12" r="1.7"/><circle cx="100.07" cy="399.11" r="1.7"/><circle cx="100.58" cy="399.08" r="1.7"/><circle cx="101.08" cy="399.06" r="1.7"/><circle cx="101.59" cy="399.03" r="1.7"/><circle cx="102.09" cy="399.01" r="1.7"/><circle cx="102.59" cy="398.98" r="1.7"/><circle cx="103.1" cy="398.96" r="1.7"/><circle cx="103.6" cy="398.93" r="1.7"/><circle cx="104.1" cy="398.91" r="1.7"/><circle cx="104.61" cy="398.88" r="1.7"/><circle cx="105.11" cy="398.86" r="1.7"/><circle cx="105.61" cy="398.83" r="1.7"/><circle cx="106.12" cy="398.81" r="1.7"/><circle cx="106.62" cy="398.79" r="1.7"/><circle cx="107.13" cy="398.76" r="1.7"/><circle cx="107.63" cy="398.74" r="1.7"/><circle cx="108.13" cy="398.71" r="1.7"/><circle cx="108.64" cy="398.69" r="1.7"/><circle cx="109.14" cy="398.66" r="1.7"/><circle cx="109.64" cy="398.64" r="1.7"/><circle cx="110.15" cy="398.61" r="1.7"/></g><circle cx="110.4" cy="398.6" r="1.7" fill="#fff" stroke="#ff8a0a" stroke-width="1.0"/><g fill="none" stroke="#ff8a0a" stroke-width="0.75"><circle cx="112.29" cy="341.84" r="1.7"/><circle cx="112.33" cy="343.71" r="1.7"/><circle cx="112.5" cy="344.02" r="1.7"/><circle cx="112.9" cy="346.29" r="1.7"/><circle cx="112.85" cy="347.15" r="1.7"/><circle cx="112.66" cy="348.34" r="1.7"/><circle cx="112.76" cy="349.69" r="1.7"/><circle cx="112.8" cy="350.66" r="1.7"/><circle cx="112.67" cy="352.73" r="1.7"/><circle cx="113.24" cy="352.91" r="1.7"/><circle cx="112.86" cy="354.7" r="1.7"/><circle cx="113.16" cy="355.8" r="1.7"/><circle cx="113.16" cy="357.34" r="1.7"/><circle cx="113.4" cy="357.99" r="1.7"/><circle cx="113.45" cy="359.67" r="1.7"/><circle cx="113.42" cy="360.53" r="1.7"/><circle cx="113.33" cy="362.05" r="1.7"/><circle cx="113.56" cy="363.46" r="1.7"/><circle cx="113.66" cy="364.22" r="1.7"/><circle cx="113.86" cy="365.91" r="1.7"/><circle cx="113.91" cy="367.18" r="1.7"/><circle cx="113.7" cy="369.08" r="1.7"/><circle cx="114.1" cy="369.68" r="1.7"/><circle cx="114.1" cy="370.79" r="1.7"/><circle cx="114.63" cy="372.17" r="1.7"/><circle cx="115.04" cy="373.75" r="1.7"/><circle cx="114.72" cy="374.04" r="1.7"/><circle cx="115.38" cy="375.89" r="1.7"/><circle cx="115.33" cy="376.91" r="1.7"/><circle cx="115.48" cy="378.85" r="1.7"/><circle cx="115.73" cy="378.88" r="1.7"/><circle cx="116.16" cy="380.56" r="1.7"/><circle cx="116.3" cy="381.71" r="1.7"/><circle cx="116.49" cy="382.43" r="1.7"/><circle cx="116.98" cy="384.15" r="1.7"/><circle cx="117.13" cy="385.49" r="1.7"/><circle cx="117.88" cy="385.97" r="1.7"/><circle cx="118.09" cy="388.02" r="1.7"/><circle cx="118.82" cy="388.81" r="1.7"/><circle cx="119.19" cy="390.26" r="1.7"/><circle cx="119.79" cy="390.91" r="1.7"/><circle cx="120.22" cy="391.98" r="1.7"/><circle cx="121.13" cy="393.46" r="1.7"/><circle cx="121.55" cy="394.04" r="1.7"/></g><g fill="none" stroke="#ff8a0a" stroke-width="1.0"><circle cx="122.17" cy="394.51" r="1.7"/><circle cx="122.83" cy="395.3" r="1.7"/><circle cx="123.53" cy="395.77" r="1.7"/><circle cx="123.73" cy="396.22" r="1.7"/><circle cx="124.5" cy="396.69" r="1.7"/><circle cx="124.79" cy="396.83" r="1.7"/><circle cx="125.28" cy="396.98" r="1.7"/><circle cx="125.85" cy="397.1" r="1.7"/><circle cx="126.18" cy="397.15" r="1.7"/><circle cx="126.78" cy="397.22" r="1.7"/><circle cx="127.34" cy="397.25" r="1.7"/><circle cx="127.92" cy="397.27" r="1.7"/><circle cx="128.22" cy="397.27" r="1.7"/><circle cx="128.82" cy="397.28" r="1.7"/><circle cx="129.35" cy="397.26" r="1.7"/><circle cx="129.88" cy="397.24" r="1.7"/><circle cx="130.44" cy="397.21" r="1.7"/><circle cx="130.73" cy="397.2" r="1.7"/><circle cx="131.33" cy="397.16" r="1.7"/><circle cx="131.91" cy="397.12" r="1.7"/><circle cx="132.19" cy="397.1" r="1.7"/><circle cx="132.75" cy="397.07" r="1.7"/><circle cx="133.31" cy="397.03" r="1.7"/><circle cx="133.86" cy="396.99" r="1.7"/><circle cx="134.14" cy="396.97" r="1.7"/><circle cx="134.69" cy="396.93" r="1.7"/><circle cx="135.24" cy="396.89" r="1.7"/><circle cx="135.8" cy="396.85" r="1.7"/><circle cx="136.35" cy="396.82" r="1.7"/><circle cx="136.9" cy="396.78" r="1.7"/><circle cx="137.18" cy="396.76" r="1.7"/><circle cx="137.71" cy="396.73" r="1.7"/><circle cx="138.22" cy="396.7" r="1.7"/><circle cx="138.73" cy="396.67" r="1.7"/><circle cx="139.24" cy="396.64" r="1.7"/><circle cx="139.75" cy="396.61" r="1.7"/><circle cx="140.27" cy="396.59" r="1.7"/><circle cx="140.82" cy="396.56" r="1.7"/><circle cx="141.36" cy="396.53" r="1.7"/><circle cx="141.63" cy="396.52" r="1.7"/><circle cx="142.17" cy="396.49" r="1.7"/><circle cx="142.72" cy="396.46" r="1.7"/><circle cx="143.25" cy="396.43" r="1.7"/><circle cx="143.78" cy="396.4" r="1.7"/><circle cx="144.31" cy="396.38" r="1.7"/><circle cx="144.84" cy="396.35" r="1.7"/><circle cx="145.38" cy="396.32" r="1.7"/><circle cx="145.64" cy="396.31" r="1.7"/><circle cx="146.17" cy="396.28" r="1.7"/><circle cx="146.69" cy="396.25" r="1.7"/><circle cx="147.19" cy="396.22" r="1.7"/><circle cx="147.7" cy="396.2" r="1.7"/><circle cx="148.2" cy="396.17" r="1.7"/><circle cx="148.71" cy="396.14" r="1.7"/><circle cx="149.21" cy="396.11" r="1.7"/><circle cx="149.72" cy="396.09" r="1.7"/><circle cx="150.22" cy="396.06" r="1.7"/><circle cx="150.72" cy="396.03" r="1.7"/><circle cx="151.22" cy="396.01" r="1.7"/><circle cx="151.72" cy="395.98" r="1.7"/><circle cx="152.22" cy="395.95" r="1.7"/><circle cx="152.72" cy="395.92" r="1.7"/><circle cx="153.22" cy="395.9" r="1.7"/><circle cx="153.72" cy="395.87" r="1.7"/><circle cx="154.22" cy="395.84" r="1.7"/><circle cx="154.74" cy="395.82" r="1.7"/><circle cx="155.25" cy="395.79" r="1.7"/><circle cx="155.76" cy="395.76" r="1.7"/><circle cx="156.28" cy="395.73" r="1.7"/><circle cx="156.79" cy="395.71" r="1.7"/><circle cx="157.3" cy="395.68" r="1.7"/><circle cx="157.81" cy="395.65" r="1.7"/><circle cx="158.33" cy="395.62" r="1.7"/><circle cx="158.83" cy="395.59" r="1.7"/><circle cx="159.34" cy="395.57" r="1.7"/><circle cx="159.6" cy="395.55" r="1.7"/><circle cx="160.11" cy="395.53" r="1.7"/><circle cx="160.62" cy="395.5" r="1.7"/><circle cx="161.13" cy="395.47" r="1.7"/><circle cx="161.64" cy="395.44" r="1.7"/><circle cx="162.15" cy="395.42" r="1.7"/><circle cx="162.66" cy="395.39" r="1.7"/><circle cx="163.19" cy="395.36" r="1.7"/><circle cx="163.71" cy="395.33" r="1.7"/><circle cx="164.24" cy="395.3" r="1.7"/><circle cx="164.76" cy="395.28" r="1.7"/><circle cx="165.28" cy="395.25" r="1.7"/><circle cx="165.81" cy="395.22" r="1.7"/><circle cx="166.33" cy="395.19" r="1.7"/><circle cx="166.6" cy="395.18" r="1.7"/><circle cx="167.12" cy="395.15" r="1.7"/><circle cx="167.64" cy="395.12" r="1.7"/><circle cx="168.17" cy="395.1" r="1.7"/><circle cx="168.69" cy="395.07" r="1.7"/><circle cx="169.21" cy="395.04" r="1.7"/><circle cx="169.74" cy="395.01" r="1.7"/><circle cx="170.26" cy="394.99" r="1.7"/><circle cx="170.77" cy="394.96" r="1.7"/><circle cx="171.29" cy="394.93" r="1.7"/><circle cx="171.81" cy="394.91" r="1.7"/><circle cx="172.32" cy="394.88" r="1.7"/><circle cx="172.58" cy="394.87" r="1.7"/><circle cx="173.09" cy="394.84" r="1.7"/><circle cx="173.61" cy="394.81" r="1.7"/><circle cx="174.11" cy="394.79" r="1.7"/><circle cx="174.61" cy="394.76" r="1.7"/><circle cx="175.11" cy="394.74" r="1.7"/><circle cx="175.62" cy="394.71" r="1.7"/><circle cx="176.12" cy="394.69" r="1.7"/><circle cx="176.62" cy="394.66" r="1.7"/><circle cx="177.12" cy="394.64" r="1.7"/><circle cx="177.62" cy="394.61" r="1.7"/><circle cx="178.13" cy="394.59" r="1.7"/><circle cx="178.63" cy="394.56" r="1.7"/><circle cx="179.13" cy="394.53" r="1.7"/><circle cx="179.64" cy="394.51" r="1.7"/><circle cx="180.14" cy="394.48" r="1.7"/><circle cx="180.65" cy="394.46" r="1.7"/><circle cx="181.15" cy="394.43" r="1.7"/><circle cx="181.68" cy="394.41" r="1.7"/><circle cx="182.2" cy="394.38" r="1.7"/><circle cx="182.73" cy="394.35" r="1.7"/><circle cx="183.25" cy="394.33" r="1.7"/><circle cx="183.78" cy="394.3" r="1.7"/><circle cx="184.3" cy="394.28" r="1.7"/><circle cx="184.56" cy="394.26" r="1.7"/><circle cx="185.09" cy="394.24" r="1.7"/><circle cx="185.62" cy="394.21" r="1.7"/><circle cx="186.15" cy="394.18" r="1.7"/><circle cx="186.68" cy="394.16" r="1.7"/><circle cx="187.21" cy="394.13" r="1.7"/><circle cx="187.74" cy="394.11" r="1.7"/><circle cx="188.26" cy="394.08" r="1.7"/><circle cx="188.78" cy="394.05" r="1.7"/><circle cx="189.29" cy="394.03" r="1.7"/><circle cx="189.8" cy="394" r="1.7"/><circle cx="190.06" cy="393.99" r="1.7"/><circle cx="190.57" cy="393.96" r="1.7"/><circle cx="191.09" cy="393.94" r="1.7"/><circle cx="191.6" cy="393.91" r="1.7"/><circle cx="192.12" cy="393.89" r="1.7"/><circle cx="192.64" cy="393.86" r="1.7"/><circle cx="193.15" cy="393.84" r="1.7"/><circle cx="193.67" cy="393.81" r="1.7"/><circle cx="194.21" cy="393.78" r="1.7"/><circle cx="194.77" cy="393.76" r="1.7"/><circle cx="195.06" cy="393.74" r="1.7"/><circle cx="195.62" cy="393.71" r="1.7"/></g><circle cx="195.9" cy="393.7" r="1.7" fill="#fff" stroke="#ff8a0a" stroke-width="1.0"/><g fill="none" stroke="#ff8a0a" stroke-width="0.75"><circle cx="197.8" cy="359.19" r="1.7"/><circle cx="198.29" cy="360.83" r="1.7"/><circle cx="198.01" cy="362.09" r="1.7"/><circle cx="197.87" cy="363.77" r="1.7"/><circle cx="198.26" cy="364.7" r="1.7"/><circle cx="198.25" cy="366.21" r="1.7"/><circle cx="198.53" cy="367.48" r="1.7"/><circle cx="198.3" cy="368.18" r="1.7"/><circle cx="198.23" cy="369.63" r="1.7"/><circle cx="198.74" cy="370.72" r="1.7"/><circle cx="198.83" cy="372.16" r="1.7"/><circle cx="198.78" cy="373.09" r="1.7"/><circle cx="199.24" cy="375.51" r="1.7"/><circle cx="199.26" cy="375.36" r="1.7"/><circle cx="199.19" cy="377.26" r="1.7"/><circle cx="199.7" cy="378.78" r="1.7"/><circle cx="199.33" cy="379.99" r="1.7"/><circle cx="200.09" cy="380.79" r="1.7"/><circle cx="200.44" cy="381.9" r="1.7"/><circle cx="200.66" cy="383.52" r="1.7"/><circle cx="200.72" cy="384.2" r="1.7"/><circle cx="201.63" cy="385.03" r="1.7"/><circle cx="202.03" cy="387.15" r="1.7"/><circle cx="202.72" cy="387.91" r="1.7"/><circle cx="203.42" cy="388.68" r="1.7"/></g><g fill="none" stroke="#ff8a0a" stroke-width="1.0"><circle cx="203.91" cy="389.12" r="1.7"/><circle cx="204.45" cy="389.9" r="1.7"/><circle cx="204.84" cy="390.07" r="1.7"/><circle cx="205.5" cy="390.5" r="1.7"/><circle cx="205.91" cy="390.74" r="1.7"/><circle cx="206.28" cy="390.95" r="1.7"/><circle cx="206.64" cy="391.13" r="1.7"/><circle cx="207.48" cy="391.4" r="1.7"/><circle cx="207.75" cy="391.44" r="1.7"/><circle cx="208.35" cy="391.52" r="1.7"/><circle cx="208.68" cy="391.56" r="1.7"/><circle cx="209.23" cy="391.59" r="1.7"/><circle cx="209.81" cy="391.6" r="1.7"/><circle cx="210.13" cy="391.61" r="1.7"/><circle cx="210.7" cy="391.61" r="1.7"/><circle cx="211.21" cy="391.6" r="1.7"/><circle cx="211.74" cy="391.58" r="1.7"/><circle cx="212.3" cy="391.56" r="1.7"/><circle cx="212.58" cy="391.55" r="1.7"/><circle cx="213.19" cy="391.51" r="1.7"/><circle cx="213.8" cy="391.48" r="1.7"/><circle cx="214.07" cy="391.46" r="1.7"/><circle cx="214.6" cy="391.42" r="1.7"/><circle cx="215.14" cy="391.38" r="1.7"/><circle cx="215.73" cy="391.34" r="1.7"/><circle cx="216.32" cy="391.29" r="1.7"/><circle cx="216.61" cy="391.27" r="1.7"/><circle cx="217.15" cy="391.22" r="1.7"/><circle cx="217.69" cy="391.18" r="1.7"/><circle cx="218.23" cy="391.14" r="1.7"/><circle cx="218.73" cy="391.1" r="1.7"/><circle cx="219.24" cy="391.06" r="1.7"/><circle cx="219.75" cy="391.02" r="1.7"/><circle cx="220.26" cy="390.98" r="1.7"/><circle cx="220.53" cy="390.96" r="1.7"/><circle cx="221.06" cy="390.91" r="1.7"/><circle cx="221.59" cy="390.87" r="1.7"/><circle cx="222.11" cy="390.83" r="1.7"/><circle cx="222.62" cy="390.79" r="1.7"/><circle cx="223.12" cy="390.74" r="1.7"/><circle cx="223.63" cy="390.7" r="1.7"/><circle cx="224.13" cy="390.66" r="1.7"/><circle cx="224.64" cy="390.61" r="1.7"/><circle cx="225.14" cy="390.57" r="1.7"/><circle cx="225.64" cy="390.52" r="1.7"/><circle cx="226.15" cy="390.48" r="1.7"/><circle cx="226.65" cy="390.43" r="1.7"/><circle cx="227.15" cy="390.39" r="1.7"/><circle cx="227.67" cy="390.35" r="1.7"/><circle cx="228.18" cy="390.3" r="1.7"/><circle cx="228.7" cy="390.25" r="1.7"/><circle cx="229.22" cy="390.21" r="1.7"/><circle cx="229.74" cy="390.16" r="1.7"/><circle cx="230" cy="390.14" r="1.7"/><circle cx="230.51" cy="390.09" r="1.7"/><circle cx="231.01" cy="390.04" r="1.7"/><circle cx="231.51" cy="390" r="1.7"/><circle cx="232.02" cy="389.95" r="1.7"/><circle cx="232.52" cy="389.91" r="1.7"/><circle cx="233.02" cy="389.86" r="1.7"/><circle cx="233.53" cy="389.82" r="1.7"/><circle cx="234.03" cy="389.77" r="1.7"/><circle cx="234.54" cy="389.72" r="1.7"/><circle cx="235.04" cy="389.68" r="1.7"/><circle cx="235.55" cy="389.63" r="1.7"/><circle cx="236.07" cy="389.58" r="1.7"/><circle cx="236.6" cy="389.53" r="1.7"/><circle cx="237.13" cy="389.49" r="1.7"/><circle cx="237.66" cy="389.44" r="1.7"/><circle cx="238.17" cy="389.39" r="1.7"/><circle cx="238.69" cy="389.35" r="1.7"/><circle cx="238.94" cy="389.32" r="1.7"/></g><circle cx="239.2" cy="389.3" r="1.7" fill="#fff" stroke="#ff8a0a" stroke-width="1.0"/><polyline points="72,457.7 72.6,457.38 73.39,456.95 74.33,456.43 75.38,455.86 76.5,455.26 77.67,454.65 78.85,454.05 80,453.5 81.17,452.96 82.41,452.39 83.7,451.82 85.01,451.25 86.32,450.7 87.6,450.18 88.84,449.71 90,449.3 91.1,448.95 92.16,448.66 93.2,448.4 94.19,448.18 95.16,447.99 96.1,447.82 97.01,447.66 97.9,447.5 98.74,447.36 99.53,447.24 100.28,447.14 101,447.06 101.72,446.99 102.45,446.93 103.2,446.87 104,446.8 104.89,446.73 105.87,446.67 106.9,446.61 107.93,446.56 108.91,446.51 109.8,446.46 110.55,446.43 111.1,446.4" fill="none" stroke="#ff0000" stroke-width="3.9" stroke-linecap="round" stroke-linejoin="round"/><g fill="#ff0000"><circle cx="71.72" cy="457.84" r="2.0"/><circle cx="72.66" cy="457.62" r="2.0"/><circle cx="73.31" cy="457.1" r="2.0"/><circle cx="73.5" cy="456.55" r="2.0"/><circle cx="74.28" cy="456.6" r="2.0"/><circle cx="75.03" cy="456.09" r="2.0"/><circle cx="75.9" cy="455.64" r="2.0"/><circle cx="76.63" cy="455.74" r="2.0"/><circle cx="76.64" cy="454.77" r="2.0"/><circle cx="77.78" cy="454.49" r="2.0"/><circle cx="78.4" cy="454.14" r="2.0"/><circle cx="78.77" cy="454.54" r="2.0"/><circle cx="79.12" cy="453.81" r="2.0"/><circle cx="79.97" cy="453.55" r="2.0"/><circle cx="81.02" cy="453.4" r="2.0"/><circle cx="81.07" cy="453.32" r="2.0"/><circle cx="81.88" cy="452.67" r="2.0"/><circle cx="82.83" cy="452.17" r="2.0"/><circle cx="83.43" cy="452.1" r="2.0"/><circle cx="83.71" cy="451.6" r="2.0"/><circle cx="84.26" cy="451.99" r="2.0"/><circle cx="85.2" cy="451.62" r="2.0"/><circle cx="85.6" cy="451.29" r="2.0"/><circle cx="86.23" cy="450.77" r="2.0"/><circle cx="87.11" cy="450.11" r="2.0"/><circle cx="87.82" cy="450.14" r="2.0"/><circle cx="88.25" cy="449.54" r="2.0"/><circle cx="88.82" cy="450.25" r="2.0"/><circle cx="89.76" cy="449.23" r="2.0"/><circle cx="90.53" cy="448.79" r="2.0"/><circle cx="90.84" cy="449.13" r="2.0"/><circle cx="92.04" cy="448.91" r="2.0"/><circle cx="92.44" cy="449.38" r="2.0"/><circle cx="92.79" cy="449.8" r="2.0"/><circle cx="93.56" cy="448.24" r="2.0"/><circle cx="94.2" cy="447.58" r="2.0"/><circle cx="95.1" cy="449.09" r="2.0"/><circle cx="95.65" cy="447.59" r="2.0"/><circle cx="96.57" cy="447.28" r="2.0"/><circle cx="97.16" cy="447.99" r="2.0"/><circle cx="97.48" cy="447.36" r="2.0"/><circle cx="98.53" cy="447.15" r="2.0"/><circle cx="99.26" cy="446.47" r="2.0"/><circle cx="99.89" cy="446.95" r="2.0"/><circle cx="100.47" cy="447.67" r="2.0"/><circle cx="101.76" cy="447.39" r="2.0"/><circle cx="101.9" cy="447.6" r="2.0"/><circle cx="102.86" cy="446.53" r="2.0"/><circle cx="103.58" cy="446.58" r="2.0"/><circle cx="104.27" cy="447.2" r="2.0"/><circle cx="105.08" cy="446.26" r="2.0"/><circle cx="105.53" cy="446.69" r="2.0"/><circle cx="106.02" cy="446.83" r="2.0"/><circle cx="107.09" cy="445.99" r="2.0"/><circle cx="107.54" cy="446.07" r="2.0"/><circle cx="108.1" cy="446.06" r="2.0"/><circle cx="109.31" cy="446.2" r="2.0"/><circle cx="109.67" cy="446.91" r="2.0"/><circle cx="110.65" cy="447.07" r="2.0"/><circle cx="110.7" cy="446.74" r="2.0"/></g><polyline points="112,438.1 112.09,438.37 112.2,438.74 112.34,439.17 112.49,439.66 112.65,440.16 112.83,440.65 113.01,441.1 113.2,441.5 113.38,441.85 113.57,442.19 113.75,442.52 113.95,442.82 114.17,443.11 114.41,443.37 114.68,443.6 115,443.8 115.34,443.97 115.71,444.12 116.1,444.24 116.51,444.33 116.97,444.4 117.46,444.43 118,444.43 118.6,444.4 119.24,444.34 119.92,444.24 120.64,444.11 121.4,443.96 122.21,443.77 123.08,443.54 124.01,443.29 125,443 126.04,442.68 127.11,442.33 128.24,441.95 129.42,441.53 130.67,441.08 132.01,440.59 133.45,440.07 135,439.5 136.73,438.86 138.67,438.13 140.75,437.34 142.89,436.52 145.03,435.71 147.09,434.93 149,434.22 150.7,433.6 152.17,433.08 153.47,432.62 154.65,432.21 155.74,431.85 156.78,431.52 157.81,431.2 158.87,430.9 160,430.6 161.14,430.31 162.22,430.05 163.28,429.82 164.36,429.59 165.49,429.38 166.7,429.16 168.02,428.94 169.5,428.7 171.18,428.44 173.06,428.17 175.08,427.88 177.16,427.6 179.26,427.32 181.31,427.06 183.24,426.82 185,426.6 186.66,426.41 188.3,426.23 189.9,426.07 191.42,425.92 192.81,425.79 194.05,425.67 195.09,425.58 195.9,425.5" fill="none" stroke="#ff0000" stroke-width="3.9" stroke-linecap="round" stroke-linejoin="round"/><g fill="#ff0000"><circle cx="111.66" cy="437.81" r="2.0"/><circle cx="112.13" cy="438.51" r="2.0"/><circle cx="112.8" cy="439.36" r="2.0"/><circle cx="112.86" cy="440.02" r="2.0"/><circle cx="112.86" cy="440.99" r="2.0"/><circle cx="113.24" cy="441.63" r="2.0"/><circle cx="113.14" cy="442.25" r="2.0"/><circle cx="113.89" cy="442.9" r="2.0"/><circle cx="114.23" cy="443.37" r="2.0"/><circle cx="114.51" cy="444.16" r="2.0"/><circle cx="115.14" cy="444.61" r="2.0"/><circle cx="116.23" cy="444.19" r="2.0"/><circle cx="116.66" cy="444.71" r="2.0"/><circle cx="117.36" cy="443.89" r="2.0"/><circle cx="118.17" cy="443.88" r="2.0"/><circle cx="118.73" cy="445.19" r="2.0"/><circle cx="119.67" cy="444.09" r="2.0"/><circle cx="120.19" cy="443.9" r="2.0"/><circle cx="120.89" cy="443.41" r="2.0"/><circle cx="121.71" cy="443.92" r="2.0"/><circle cx="122.14" cy="443.48" r="2.0"/><circle cx="123.45" cy="443.38" r="2.0"/><circle cx="123.52" cy="443.14" r="2.0"/><circle cx="124.19" cy="443.8" r="2.0"/><circle cx="125.09" cy="443.2" r="2.0"/><circle cx="125.7" cy="442.3" r="2.0"/><circle cx="125.82" cy="443.28" r="2.0"/><circle cx="127.1" cy="442.48" r="2.0"/><circle cx="127.68" cy="442.25" r="2.0"/><circle cx="128.29" cy="441.81" r="2.0"/><circle cx="128.51" cy="441.95" r="2.0"/><circle cx="129.61" cy="441.9" r="2.0"/><circle cx="130.32" cy="441.1" r="2.0"/><circle cx="131.04" cy="441.07" r="2.0"/><circle cx="131.49" cy="440.58" r="2.0"/><circle cx="132.16" cy="440.38" r="2.0"/><circle cx="132.81" cy="440.71" r="2.0"/><circle cx="134.12" cy="439.98" r="2.0"/><circle cx="134.43" cy="438.9" r="2.0"/><circle cx="134.24" cy="439.34" r="2.0"/><circle cx="135.49" cy="438.97" r="2.0"/><circle cx="135.92" cy="438.68" r="2.0"/><circle cx="136.74" cy="438.89" r="2.0"/><circle cx="137.43" cy="438.03" r="2.0"/><circle cx="138.07" cy="439.01" r="2.0"/><circle cx="138.63" cy="438.11" r="2.0"/><circle cx="139.65" cy="437.47" r="2.0"/><circle cx="140" cy="438.88" r="2.0"/><circle cx="141" cy="437.09" r="2.0"/><circle cx="141.45" cy="437.13" r="2.0"/><circle cx="142.1" cy="437.04" r="2.0"/><circle cx="142.67" cy="435.58" r="2.0"/><circle cx="143.19" cy="436.4" r="2.0"/><circle cx="143.77" cy="435.94" r="2.0"/><circle cx="144.98" cy="435.94" r="2.0"/><circle cx="145.22" cy="435.65" r="2.0"/><circle cx="146.2" cy="434.57" r="2.0"/><circle cx="146.41" cy="434.79" r="2.0"/><circle cx="147.22" cy="434.81" r="2.0"/><circle cx="147.85" cy="434.65" r="2.0"/><circle cx="148.64" cy="433.83" r="2.0"/><circle cx="149.16" cy="433.56" r="2.0"/><circle cx="149.99" cy="434" r="2.0"/><circle cx="150.72" cy="433.24" r="2.0"/><circle cx="151.15" cy="432.41" r="2.0"/><circle cx="151.91" cy="432.44" r="2.0"/><circle cx="152.64" cy="433.42" r="2.0"/><circle cx="153.32" cy="432.99" r="2.0"/><circle cx="153.94" cy="432.64" r="2.0"/><circle cx="154.74" cy="432.81" r="2.0"/><circle cx="155.61" cy="431.9" r="2.0"/><circle cx="156.05" cy="432.19" r="2.0"/><circle cx="156.63" cy="431.71" r="2.0"/><circle cx="156.97" cy="431.87" r="2.0"/><circle cx="157.72" cy="430.89" r="2.0"/><circle cx="158.4" cy="431.24" r="2.0"/><circle cx="159.05" cy="431.01" r="2.0"/><circle cx="160.02" cy="430.67" r="2.0"/><circle cx="160.53" cy="430.72" r="2.0"/><circle cx="161.53" cy="430.07" r="2.0"/><circle cx="161.75" cy="429.85" r="2.0"/><circle cx="162.46" cy="429.85" r="2.0"/><circle cx="163.29" cy="428.77" r="2.0"/><circle cx="164.29" cy="429.3" r="2.0"/><circle cx="164.61" cy="428.65" r="2.0"/><circle cx="164.99" cy="428.94" r="2.0"/><circle cx="166.11" cy="429.66" r="2.0"/><circle cx="166.4" cy="429.25" r="2.0"/><circle cx="167.74" cy="428.91" r="2.0"/><circle cx="168.31" cy="429.06" r="2.0"/><circle cx="168.65" cy="429.26" r="2.0"/><circle cx="169.4" cy="428.86" r="2.0"/><circle cx="170.13" cy="428.49" r="2.0"/><circle cx="170.93" cy="429.08" r="2.0"/><circle cx="171.27" cy="427.88" r="2.0"/><circle cx="172.31" cy="428.72" r="2.0"/><circle cx="172.94" cy="428.09" r="2.0"/><circle cx="173.77" cy="428.79" r="2.0"/><circle cx="174.19" cy="427.27" r="2.0"/><circle cx="175" cy="428.23" r="2.0"/><circle cx="175.5" cy="428.3" r="2.0"/><circle cx="176.63" cy="428.05" r="2.0"/><circle cx="176.98" cy="427.02" r="2.0"/><circle cx="177.96" cy="427.63" r="2.0"/><circle cx="178.66" cy="426.81" r="2.0"/><circle cx="178.65" cy="427.83" r="2.0"/><circle cx="180.11" cy="427.11" r="2.0"/><circle cx="180.61" cy="427.35" r="2.0"/><circle cx="181.45" cy="426.97" r="2.0"/><circle cx="181.9" cy="426.53" r="2.0"/><circle cx="182.89" cy="426.93" r="2.0"/><circle cx="182.73" cy="426.95" r="2.0"/><circle cx="183.97" cy="426.14" r="2.0"/><circle cx="184.68" cy="426.05" r="2.0"/><circle cx="185.39" cy="426.3" r="2.0"/><circle cx="186.27" cy="426.01" r="2.0"/><circle cx="186.51" cy="426.11" r="2.0"/><circle cx="187.29" cy="426.64" r="2.0"/><circle cx="188.22" cy="425.48" r="2.0"/><circle cx="188.78" cy="426.15" r="2.0"/><circle cx="189.64" cy="425.26" r="2.0"/><circle cx="190.32" cy="426.16" r="2.0"/><circle cx="191.23" cy="426.45" r="2.0"/><circle cx="191.71" cy="425.3" r="2.0"/><circle cx="192.36" cy="426.11" r="2.0"/><circle cx="192.95" cy="426.32" r="2.0"/><circle cx="193.64" cy="425.19" r="2.0"/><circle cx="194.69" cy="425.58" r="2.0"/><circle cx="195.29" cy="425.43" r="2.0"/><circle cx="195.91" cy="425.24" r="2.0"/></g><polyline points="196.6,421.2 196.78,421.33 197.02,421.52 197.3,421.75 197.61,422 197.95,422.25 198.3,422.47 198.65,422.67 199,422.8 199.28,422.9 199.47,422.99 199.64,423.06 199.84,423.11 200.12,423.11 200.53,423.07 201.14,422.97 202,422.8 203.07,422.57 204.28,422.28 205.65,421.95 207.17,421.56 208.87,421.12 210.73,420.63 212.77,420.09 215,419.5 217.65,418.79 220.83,417.93 224.32,416.98 227.91,415.99 231.41,415.04 234.59,414.16 237.26,413.43 239.2,412.9" fill="none" stroke="#ff0000" stroke-width="3.9" stroke-linecap="round" stroke-linejoin="round"/><g fill="#ff0000"><circle cx="196.97" cy="421.49" r="2.0"/><circle cx="197.13" cy="421.84" r="2.0"/><circle cx="197.86" cy="421.83" r="2.0"/><circle cx="198.31" cy="422.55" r="2.0"/><circle cx="198.8" cy="422.42" r="2.0"/><circle cx="199.52" cy="422.89" r="2.0"/><circle cx="200.16" cy="422.23" r="2.0"/><circle cx="200.95" cy="423.3" r="2.0"/><circle cx="201.64" cy="423.64" r="2.0"/><circle cx="202.48" cy="422.57" r="2.0"/><circle cx="202.86" cy="422.81" r="2.0"/><circle cx="203.6" cy="421.7" r="2.0"/><circle cx="204.38" cy="422.13" r="2.0"/><circle cx="204.99" cy="422.37" r="2.0"/><circle cx="205.75" cy="422.84" r="2.0"/><circle cx="206.25" cy="421.72" r="2.0"/><circle cx="207.13" cy="421.39" r="2.0"/><circle cx="207.65" cy="422.2" r="2.0"/><circle cx="208.15" cy="421.39" r="2.0"/><circle cx="208.77" cy="421.21" r="2.0"/><circle cx="209.41" cy="420.36" r="2.0"/><circle cx="210.68" cy="421.4" r="2.0"/><circle cx="211.16" cy="419.31" r="2.0"/><circle cx="212.01" cy="420.46" r="2.0"/><circle cx="212.28" cy="420.01" r="2.0"/><circle cx="212.91" cy="419.95" r="2.0"/><circle cx="213.83" cy="419.86" r="2.0"/><circle cx="214.67" cy="419.34" r="2.0"/><circle cx="214.77" cy="418.92" r="2.0"/><circle cx="215.63" cy="419.1" r="2.0"/><circle cx="216.46" cy="419.07" r="2.0"/><circle cx="217.49" cy="418.91" r="2.0"/><circle cx="217.69" cy="418.58" r="2.0"/><circle cx="218.41" cy="418.43" r="2.0"/><circle cx="219.36" cy="417.85" r="2.0"/><circle cx="220.06" cy="418.97" r="2.0"/><circle cx="220.9" cy="418.72" r="2.0"/><circle cx="221.3" cy="417.2" r="2.0"/><circle cx="222.34" cy="417.6" r="2.0"/><circle cx="222.67" cy="417.28" r="2.0"/><circle cx="223.12" cy="417.53" r="2.0"/><circle cx="223.71" cy="416.45" r="2.0"/><circle cx="224.76" cy="416.72" r="2.0"/><circle cx="225.17" cy="416.92" r="2.0"/><circle cx="226.28" cy="416.39" r="2.0"/><circle cx="226.65" cy="416.58" r="2.0"/><circle cx="227.54" cy="416.61" r="2.0"/><circle cx="228.16" cy="415.66" r="2.0"/><circle cx="228.81" cy="415.78" r="2.0"/><circle cx="229.05" cy="416.14" r="2.0"/><circle cx="230.17" cy="416.02" r="2.0"/><circle cx="230.72" cy="415.55" r="2.0"/><circle cx="231.39" cy="415.11" r="2.0"/><circle cx="232.26" cy="414.88" r="2.0"/><circle cx="232.87" cy="414.65" r="2.0"/><circle cx="233.67" cy="414.77" r="2.0"/><circle cx="233.79" cy="415.04" r="2.0"/><circle cx="234.87" cy="413.88" r="2.0"/><circle cx="235.34" cy="414.82" r="2.0"/><circle cx="236.15" cy="413.97" r="2.0"/><circle cx="236.92" cy="413.29" r="2.0"/><circle cx="237.82" cy="414.31" r="2.0"/><circle cx="238.01" cy="413.69" r="2.0"/><circle cx="238.52" cy="412.85" r="2.0"/><circle cx="239.21" cy="412.92" r="2.0"/></g><g fill="none" stroke="#ff8a0a" stroke-width="1.0"><circle cx="278.5" cy="454.4" r="1.7"/><circle cx="278.98" cy="454.25" r="1.7"/><circle cx="279.47" cy="454.09" r="1.7"/><circle cx="279.95" cy="453.94" r="1.7"/><circle cx="280.44" cy="453.78" r="1.7"/><circle cx="280.92" cy="453.63" r="1.7"/><circle cx="281.4" cy="453.47" r="1.7"/><circle cx="281.89" cy="453.32" r="1.7"/><circle cx="282.37" cy="453.16" r="1.7"/><circle cx="282.85" cy="453.01" r="1.7"/><circle cx="283.34" cy="452.85" r="1.7"/><circle cx="283.82" cy="452.7" r="1.7"/><circle cx="284.31" cy="452.54" r="1.7"/><circle cx="284.79" cy="452.39" r="1.7"/><circle cx="285.27" cy="452.23" r="1.7"/><circle cx="285.76" cy="452.08" r="1.7"/><circle cx="286.24" cy="451.92" r="1.7"/><circle cx="286.73" cy="451.76" r="1.7"/><circle cx="287.21" cy="451.6" r="1.7"/><circle cx="287.7" cy="451.44" r="1.7"/><circle cx="288.19" cy="451.28" r="1.7"/><circle cx="288.67" cy="451.12" r="1.7"/><circle cx="289.16" cy="450.96" r="1.7"/><circle cx="289.64" cy="450.8" r="1.7"/><circle cx="290.13" cy="450.64" r="1.7"/><circle cx="290.61" cy="450.48" r="1.7"/><circle cx="291.1" cy="450.32" r="1.7"/><circle cx="291.59" cy="450.16" r="1.7"/><circle cx="291.83" cy="450.08" r="1.7"/><circle cx="292.31" cy="449.92" r="1.7"/><circle cx="292.8" cy="449.76" r="1.7"/><circle cx="293.29" cy="449.6" r="1.7"/><circle cx="293.77" cy="449.44" r="1.7"/><circle cx="294.26" cy="449.28" r="1.7"/></g><circle cx="294.5" cy="449.2" r="1.7" fill="#fff" stroke="#ff8a0a" stroke-width="1.0"/><g fill="none" stroke="#ff8a0a" stroke-width="0.75"><circle cx="297.25" cy="398.12" r="1.7"/><circle cx="297.51" cy="399.78" r="1.7"/><circle cx="297.28" cy="401.43" r="1.7"/><circle cx="297.36" cy="402.82" r="1.7"/><circle cx="297.6" cy="403.6" r="1.7"/><circle cx="297.58" cy="405.08" r="1.7"/><circle cx="297.93" cy="405.86" r="1.7"/><circle cx="297.95" cy="407.03" r="1.7"/><circle cx="298.36" cy="408.48" r="1.7"/><circle cx="298.69" cy="409.65" r="1.7"/><circle cx="298.64" cy="411.11" r="1.7"/><circle cx="299.22" cy="411.63" r="1.7"/><circle cx="299.23" cy="413.9" r="1.7"/><circle cx="299.37" cy="414.93" r="1.7"/><circle cx="299.28" cy="415.6" r="1.7"/><circle cx="300.1" cy="417.27" r="1.7"/><circle cx="300.23" cy="418.73" r="1.7"/><circle cx="300.58" cy="419.8" r="1.7"/><circle cx="300.75" cy="420.79" r="1.7"/><circle cx="301.45" cy="421.95" r="1.7"/><circle cx="301.32" cy="423.27" r="1.7"/><circle cx="302.08" cy="424.85" r="1.7"/><circle cx="302.39" cy="425.5" r="1.7"/><circle cx="302.82" cy="426.74" r="1.7"/><circle cx="303.37" cy="428.01" r="1.7"/><circle cx="303.78" cy="429.25" r="1.7"/><circle cx="304.2" cy="429.99" r="1.7"/><circle cx="304.57" cy="431.78" r="1.7"/><circle cx="305.55" cy="432.89" r="1.7"/><circle cx="305.94" cy="433.46" r="1.7"/><circle cx="306.48" cy="434.19" r="1.7"/><circle cx="307.29" cy="435.12" r="1.7"/><circle cx="307.71" cy="435.67" r="1.7"/><circle cx="308.51" cy="436.5" r="1.7"/></g><g fill="none" stroke="#ff8a0a" stroke-width="1.0"><circle cx="309.08" cy="437.51" r="1.7"/><circle cx="309.54" cy="437.74" r="1.7"/><circle cx="309.82" cy="437.87" r="1.7"/><circle cx="310.43" cy="438.14" r="1.7"/><circle cx="310.77" cy="438.28" r="1.7"/><circle cx="311.27" cy="438.48" r="1.7"/><circle cx="311.79" cy="438.68" r="1.7"/><circle cx="312.06" cy="438.78" r="1.7"/><circle cx="312.64" cy="438.98" r="1.7"/><circle cx="313.24" cy="439.18" r="1.7"/><circle cx="313.48" cy="439.24" r="1.7"/><circle cx="313.97" cy="439.37" r="1.7"/><circle cx="314.48" cy="439.48" r="1.7"/><circle cx="315" cy="439.58" r="1.7"/><circle cx="315.55" cy="439.66" r="1.7"/><circle cx="316.11" cy="439.73" r="1.7"/><circle cx="316.7" cy="439.77" r="1.7"/><circle cx="317" cy="439.78" r="1.7"/><circle cx="317.6" cy="439.8" r="1.7"/><circle cx="318.11" cy="439.78" r="1.7"/><circle cx="318.61" cy="439.76" r="1.7"/><circle cx="319.13" cy="439.73" r="1.7"/><circle cx="319.65" cy="439.68" r="1.7"/><circle cx="320.18" cy="439.63" r="1.7"/><circle cx="320.45" cy="439.6" r="1.7"/><circle cx="321.01" cy="439.52" r="1.7"/><circle cx="321.56" cy="439.45" r="1.7"/><circle cx="322.14" cy="439.36" r="1.7"/><circle cx="322.43" cy="439.31" r="1.7"/><circle cx="323.02" cy="439.21" r="1.7"/><circle cx="323.54" cy="439.12" r="1.7"/><circle cx="324.06" cy="439.02" r="1.7"/><circle cx="324.58" cy="438.92" r="1.7"/><circle cx="324.86" cy="438.87" r="1.7"/><circle cx="325.41" cy="438.75" r="1.7"/><circle cx="325.97" cy="438.64" r="1.7"/><circle cx="326.51" cy="438.53" r="1.7"/><circle cx="327.02" cy="438.42" r="1.7"/><circle cx="327.54" cy="438.32" r="1.7"/><circle cx="327.8" cy="438.26" r="1.7"/><circle cx="328.33" cy="438.15" r="1.7"/><circle cx="328.89" cy="438.03" r="1.7"/><circle cx="329.44" cy="437.92" r="1.7"/><circle cx="330" cy="437.8" r="1.7"/><circle cx="330.27" cy="437.74" r="1.7"/><circle cx="330.8" cy="437.63" r="1.7"/><circle cx="331.33" cy="437.51" r="1.7"/><circle cx="331.86" cy="437.4" r="1.7"/><circle cx="332.38" cy="437.28" r="1.7"/><circle cx="332.89" cy="437.16" r="1.7"/><circle cx="333.4" cy="437.05" r="1.7"/><circle cx="333.66" cy="436.99" r="1.7"/><circle cx="334.17" cy="436.87" r="1.7"/><circle cx="334.67" cy="436.75" r="1.7"/><circle cx="335.16" cy="436.64" r="1.7"/><circle cx="335.65" cy="436.52" r="1.7"/><circle cx="336.14" cy="436.41" r="1.7"/><circle cx="336.63" cy="436.29" r="1.7"/><circle cx="337.13" cy="436.17" r="1.7"/><circle cx="337.64" cy="436.05" r="1.7"/><circle cx="338.15" cy="435.92" r="1.7"/><circle cx="338.66" cy="435.8" r="1.7"/><circle cx="339.17" cy="435.67" r="1.7"/><circle cx="339.69" cy="435.55" r="1.7"/><circle cx="340.21" cy="435.42" r="1.7"/><circle cx="340.47" cy="435.35" r="1.7"/><circle cx="341" cy="435.23" r="1.7"/><circle cx="341.52" cy="435.1" r="1.7"/><circle cx="342.05" cy="434.97" r="1.7"/><circle cx="342.58" cy="434.84" r="1.7"/><circle cx="343.11" cy="434.7" r="1.7"/><circle cx="343.38" cy="434.64" r="1.7"/><circle cx="343.91" cy="434.51" r="1.7"/><circle cx="344.44" cy="434.37" r="1.7"/><circle cx="344.98" cy="434.24" r="1.7"/><circle cx="345.51" cy="434.11" r="1.7"/><circle cx="346.04" cy="433.98" r="1.7"/><circle cx="346.31" cy="433.91" r="1.7"/><circle cx="346.84" cy="433.78" r="1.7"/><circle cx="347.37" cy="433.65" r="1.7"/><circle cx="347.9" cy="433.52" r="1.7"/><circle cx="348.42" cy="433.39" r="1.7"/><circle cx="348.95" cy="433.26" r="1.7"/><circle cx="349.21" cy="433.19" r="1.7"/><circle cx="349.74" cy="433.06" r="1.7"/><circle cx="350.25" cy="432.94" r="1.7"/><circle cx="350.76" cy="432.81" r="1.7"/><circle cx="351.26" cy="432.69" r="1.7"/><circle cx="351.76" cy="432.57" r="1.7"/><circle cx="352.27" cy="432.44" r="1.7"/><circle cx="352.77" cy="432.32" r="1.7"/><circle cx="353.27" cy="432.19" r="1.7"/><circle cx="353.78" cy="432.07" r="1.7"/><circle cx="354.28" cy="431.94" r="1.7"/><circle cx="354.79" cy="431.82" r="1.7"/><circle cx="355.04" cy="431.75" r="1.7"/><circle cx="355.54" cy="431.63" r="1.7"/><circle cx="356.06" cy="431.5" r="1.7"/><circle cx="356.58" cy="431.37" r="1.7"/><circle cx="357.1" cy="431.24" r="1.7"/><circle cx="357.62" cy="431.11" r="1.7"/><circle cx="358.15" cy="430.98" r="1.7"/><circle cx="358.67" cy="430.85" r="1.7"/><circle cx="358.93" cy="430.78" r="1.7"/><circle cx="359.45" cy="430.65" r="1.7"/><circle cx="359.97" cy="430.52" r="1.7"/><circle cx="360.49" cy="430.39" r="1.7"/><circle cx="361.01" cy="430.26" r="1.7"/><circle cx="361.53" cy="430.13" r="1.7"/><circle cx="362.05" cy="430" r="1.7"/><circle cx="362.54" cy="429.88" r="1.7"/><circle cx="362.79" cy="429.81" r="1.7"/><circle cx="363.28" cy="429.69" r="1.7"/><circle cx="363.78" cy="429.57" r="1.7"/><circle cx="364.27" cy="429.44" r="1.7"/><circle cx="364.76" cy="429.32" r="1.7"/><circle cx="365.25" cy="429.19" r="1.7"/><circle cx="365.74" cy="429.07" r="1.7"/><circle cx="366.23" cy="428.95" r="1.7"/><circle cx="366.71" cy="428.83" r="1.7"/><circle cx="367.2" cy="428.71" r="1.7"/><circle cx="367.68" cy="428.58" r="1.7"/><circle cx="368.18" cy="428.46" r="1.7"/><circle cx="368.68" cy="428.33" r="1.7"/><circle cx="369.18" cy="428.21" r="1.7"/><circle cx="369.67" cy="428.08" r="1.7"/><circle cx="370.2" cy="427.95" r="1.7"/><circle cx="370.76" cy="427.81" r="1.7"/><circle cx="371.04" cy="427.74" r="1.7"/><circle cx="371.6" cy="427.6" r="1.7"/></g><circle cx="371.6" cy="427.6" r="1.7" fill="#fff" stroke="#ff8a0a" stroke-width="1.0"/><g fill="none" stroke="#ff8a0a" stroke-width="1.0"><circle cx="373.5" cy="423.1" r="1.7"/><circle cx="374.5" cy="423.1" r="1.7"/><circle cx="375.25" cy="423.1" r="1.7"/><circle cx="376" cy="423.1" r="1.7"/><circle cx="376.75" cy="423.1" r="1.7"/><circle cx="377.5" cy="423.1" r="1.7"/></g><g fill="none" stroke="#ff8a0a" stroke-width="0.75"><circle cx="379.27" cy="341.51" r="1.7"/><circle cx="379.3" cy="342.93" r="1.7"/><circle cx="379.5" cy="343.96" r="1.7"/><circle cx="379.61" cy="345.18" r="1.7"/><circle cx="379.97" cy="346.22" r="1.7"/><circle cx="379.68" cy="348.21" r="1.7"/><circle cx="380.11" cy="349.27" r="1.7"/><circle cx="380.21" cy="350.05" r="1.7"/><circle cx="380.46" cy="351.22" r="1.7"/><circle cx="380.17" cy="352.48" r="1.7"/><circle cx="380.49" cy="353.47" r="1.7"/><circle cx="380.45" cy="354.73" r="1.7"/><circle cx="380.57" cy="356.58" r="1.7"/><circle cx="380.96" cy="357.48" r="1.7"/><circle cx="381.38" cy="358.63" r="1.7"/><circle cx="381.12" cy="359.97" r="1.7"/><circle cx="380.76" cy="361.07" r="1.7"/><circle cx="381.56" cy="362.12" r="1.7"/><circle cx="382.02" cy="363.69" r="1.7"/><circle cx="381.69" cy="365.46" r="1.7"/><circle cx="381.79" cy="365.97" r="1.7"/><circle cx="381.85" cy="367.17" r="1.7"/><circle cx="382.26" cy="368.57" r="1.7"/><circle cx="382.42" cy="369.38" r="1.7"/><circle cx="382.48" cy="371.93" r="1.7"/><circle cx="382.83" cy="372.5" r="1.7"/><circle cx="383.18" cy="373.79" r="1.7"/><circle cx="383.44" cy="374.53" r="1.7"/><circle cx="383.52" cy="375.93" r="1.7"/><circle cx="383.69" cy="378" r="1.7"/><circle cx="384.08" cy="378.34" r="1.7"/><circle cx="384.07" cy="379.79" r="1.7"/><circle cx="384.11" cy="381.14" r="1.7"/><circle cx="384.25" cy="382.44" r="1.7"/><circle cx="384.88" cy="383.41" r="1.7"/><circle cx="385.04" cy="385.27" r="1.7"/><circle cx="385.14" cy="385.47" r="1.7"/><circle cx="385.42" cy="386.91" r="1.7"/><circle cx="385.45" cy="388.61" r="1.7"/><circle cx="386.04" cy="389.85" r="1.7"/><circle cx="386.37" cy="390.55" r="1.7"/><circle cx="386.25" cy="392.17" r="1.7"/><circle cx="386.08" cy="392.51" r="1.7"/><circle cx="386.93" cy="394.37" r="1.7"/><circle cx="387.23" cy="395.57" r="1.7"/><circle cx="387.56" cy="397.27" r="1.7"/><circle cx="387.7" cy="398.23" r="1.7"/><circle cx="388.19" cy="399.39" r="1.7"/><circle cx="388.57" cy="400.94" r="1.7"/><circle cx="389.06" cy="401.99" r="1.7"/><circle cx="389.4" cy="402.38" r="1.7"/><circle cx="389.97" cy="404.15" r="1.7"/><circle cx="390.22" cy="405.06" r="1.7"/><circle cx="390.44" cy="406.88" r="1.7"/><circle cx="391.6" cy="408" r="1.7"/><circle cx="391.46" cy="408.68" r="1.7"/><circle cx="392.29" cy="409.57" r="1.7"/><circle cx="392.97" cy="410.29" r="1.7"/><circle cx="393.64" cy="411.2" r="1.7"/><circle cx="394.5" cy="412.39" r="1.7"/></g><g fill="none" stroke="#ff8a0a" stroke-width="1.0"><circle cx="394.96" cy="412.6" r="1.7"/><circle cx="395.59" cy="413.26" r="1.7"/><circle cx="396.13" cy="413.67" r="1.7"/><circle cx="396.4" cy="413.88" r="1.7"/><circle cx="397.02" cy="414.21" r="1.7"/><circle cx="397.36" cy="414.35" r="1.7"/><circle cx="397.94" cy="414.59" r="1.7"/><circle cx="398.42" cy="414.76" r="1.7"/><circle cx="398.66" cy="414.83" r="1.7"/><circle cx="399.15" cy="414.99" r="1.7"/><circle cx="399.66" cy="415.11" r="1.7"/><circle cx="400.18" cy="415.23" r="1.7"/><circle cx="400.73" cy="415.33" r="1.7"/><circle cx="401.33" cy="415.39" r="1.7"/><circle cx="401.64" cy="415.42" r="1.7"/><circle cx="402.14" cy="415.44" r="1.7"/><circle cx="402.65" cy="415.45" r="1.7"/><circle cx="403.22" cy="415.43" r="1.7"/><circle cx="403.79" cy="415.41" r="1.7"/><circle cx="404.32" cy="415.37" r="1.7"/><circle cx="404.84" cy="415.32" r="1.7"/><circle cx="405.1" cy="415.3" r="1.7"/><circle cx="405.69" cy="415.22" r="1.7"/><circle cx="406.28" cy="415.14" r="1.7"/><circle cx="406.84" cy="415.06" r="1.7"/><circle cx="407.11" cy="415.01" r="1.7"/><circle cx="407.64" cy="414.92" r="1.7"/><circle cx="408.18" cy="414.83" r="1.7"/><circle cx="408.67" cy="414.73" r="1.7"/><circle cx="409.17" cy="414.63" r="1.7"/><circle cx="409.67" cy="414.53" r="1.7"/><circle cx="410.18" cy="414.42" r="1.7"/><circle cx="410.71" cy="414.31" r="1.7"/><circle cx="411.23" cy="414.19" r="1.7"/><circle cx="411.5" cy="414.13" r="1.7"/><circle cx="412.01" cy="414.02" r="1.7"/><circle cx="412.49" cy="413.9" r="1.7"/><circle cx="412.98" cy="413.79" r="1.7"/><circle cx="413.47" cy="413.67" r="1.7"/><circle cx="413.96" cy="413.55" r="1.7"/><circle cx="414.47" cy="413.43" r="1.7"/><circle cx="414.98" cy="413.3" r="1.7"/><circle cx="415.49" cy="413.17" r="1.7"/><circle cx="416" cy="413.04" r="1.7"/><circle cx="416.53" cy="412.91" r="1.7"/><circle cx="417.05" cy="412.77" r="1.7"/><circle cx="417.32" cy="412.71" r="1.7"/><circle cx="417.84" cy="412.57" r="1.7"/><circle cx="418.38" cy="412.43" r="1.7"/><circle cx="418.92" cy="412.28" r="1.7"/><circle cx="419.46" cy="412.14" r="1.7"/><circle cx="419.73" cy="412.07" r="1.7"/><circle cx="420.25" cy="411.93" r="1.7"/><circle cx="420.76" cy="411.79" r="1.7"/><circle cx="421.26" cy="411.65" r="1.7"/><circle cx="421.77" cy="411.51" r="1.7"/><circle cx="422.27" cy="411.37" r="1.7"/><circle cx="422.76" cy="411.23" r="1.7"/><circle cx="423.25" cy="411.08" r="1.7"/><circle cx="423.73" cy="410.94" r="1.7"/><circle cx="424.22" cy="410.8" r="1.7"/><circle cx="424.7" cy="410.65" r="1.7"/><circle cx="425.21" cy="410.5" r="1.7"/><circle cx="425.72" cy="410.35" r="1.7"/><circle cx="425.97" cy="410.27" r="1.7"/><circle cx="426.48" cy="410.11" r="1.7"/><circle cx="426.99" cy="409.96" r="1.7"/><circle cx="427.51" cy="409.8" r="1.7"/><circle cx="428.03" cy="409.64" r="1.7"/><circle cx="428.55" cy="409.48" r="1.7"/><circle cx="429.07" cy="409.32" r="1.7"/><circle cx="429.33" cy="409.24" r="1.7"/><circle cx="429.85" cy="409.07" r="1.7"/><circle cx="430.37" cy="408.91" r="1.7"/><circle cx="430.9" cy="408.75" r="1.7"/><circle cx="431.42" cy="408.59" r="1.7"/><circle cx="431.95" cy="408.42" r="1.7"/><circle cx="432.21" cy="408.34" r="1.7"/><circle cx="432.73" cy="408.18" r="1.7"/><circle cx="433.25" cy="408.02" r="1.7"/><circle cx="433.77" cy="407.86" r="1.7"/><circle cx="434.29" cy="407.7" r="1.7"/><circle cx="434.81" cy="407.54" r="1.7"/><circle cx="435.07" cy="407.46" r="1.7"/><circle cx="435.58" cy="407.31" r="1.7"/><circle cx="436.08" cy="407.15" r="1.7"/><circle cx="436.58" cy="407" r="1.7"/><circle cx="437.09" cy="406.85" r="1.7"/><circle cx="437.59" cy="406.7" r="1.7"/><circle cx="438.08" cy="406.56" r="1.7"/><circle cx="438.56" cy="406.42" r="1.7"/><circle cx="439.04" cy="406.28" r="1.7"/><circle cx="439.52" cy="406.14" r="1.7"/><circle cx="440" cy="406" r="1.7"/><circle cx="440.48" cy="405.87" r="1.7"/><circle cx="440.96" cy="405.73" r="1.7"/><circle cx="441.45" cy="405.6" r="1.7"/><circle cx="441.93" cy="405.47" r="1.7"/><circle cx="442.41" cy="405.33" r="1.7"/><circle cx="442.91" cy="405.2" r="1.7"/><circle cx="443.41" cy="405.07" r="1.7"/><circle cx="443.92" cy="404.93" r="1.7"/><circle cx="444.42" cy="404.8" r="1.7"/><circle cx="444.67" cy="404.73" r="1.7"/><circle cx="445.17" cy="404.6" r="1.7"/><circle cx="445.68" cy="404.47" r="1.7"/><circle cx="446.18" cy="404.33" r="1.7"/><circle cx="446.69" cy="404.2" r="1.7"/><circle cx="447.19" cy="404.07" r="1.7"/><circle cx="447.69" cy="403.94" r="1.7"/><circle cx="448.18" cy="403.82" r="1.7"/><circle cx="448.67" cy="403.69" r="1.7"/><circle cx="449.16" cy="403.56" r="1.7"/><circle cx="449.65" cy="403.44" r="1.7"/><circle cx="450.16" cy="403.31" r="1.7"/><circle cx="450.67" cy="403.18" r="1.7"/><circle cx="451.18" cy="403.05" r="1.7"/><circle cx="451.69" cy="402.92" r="1.7"/><circle cx="451.94" cy="402.86" r="1.7"/><circle cx="452.46" cy="402.73" r="1.7"/><circle cx="452.97" cy="402.6" r="1.7"/><circle cx="453.48" cy="402.47" r="1.7"/><circle cx="454" cy="402.34" r="1.7"/><circle cx="454.5" cy="402.21" r="1.7"/><circle cx="455" cy="402.09" r="1.7"/><circle cx="455.49" cy="401.96" r="1.7"/><circle cx="455.98" cy="401.84" r="1.7"/><circle cx="456.51" cy="401.7" r="1.7"/><circle cx="457.04" cy="401.57" r="1.7"/><circle cx="457.3" cy="401.5" r="1.7"/></g><circle cx="457.3" cy="401.5" r="1.7" fill="#fff" stroke="#ff8a0a" stroke-width="1.0"/><polyline points="279,481.3 287,478.8 295.2,476.2 297,474.2 299,473.6 302,473.7 320,468.2 340,463 360,457.6 377.2,453.1 378.8,449.2 382,448.2 386,448.6 400,444.2 420,437.7 440,432 457.3,427" fill="none" stroke="#ff0000" stroke-width="3.9" stroke-linecap="round" stroke-linejoin="round"/><g fill="#ff0000"><circle cx="279.08" cy="480.75" r="2.0"/><circle cx="279.87" cy="481.46" r="2.0"/><circle cx="280.45" cy="481.12" r="2.0"/><circle cx="281.07" cy="480.13" r="2.0"/><circle cx="281.58" cy="480.79" r="2.0"/><circle cx="282.28" cy="480.27" r="2.0"/><circle cx="283.08" cy="480.09" r="2.0"/><circle cx="283.73" cy="480.04" r="2.0"/><circle cx="284.35" cy="479.2" r="2.0"/><circle cx="284.96" cy="479.81" r="2.0"/><circle cx="285.55" cy="479.4" r="2.0"/><circle cx="286.41" cy="478.66" r="2.0"/><circle cx="286.48" cy="478.79" r="2.0"/><circle cx="287.54" cy="478.34" r="2.0"/><circle cx="288.53" cy="478.07" r="2.0"/><circle cx="289.09" cy="478.21" r="2.0"/><circle cx="289.72" cy="478.74" r="2.0"/><circle cx="289.98" cy="478.12" r="2.0"/><circle cx="290.99" cy="477.42" r="2.0"/><circle cx="291.56" cy="477.33" r="2.0"/><circle cx="292.36" cy="476.75" r="2.0"/><circle cx="293.33" cy="476.6" r="2.0"/><circle cx="293.67" cy="476.18" r="2.0"/><circle cx="294.39" cy="476.61" r="2.0"/><circle cx="295.23" cy="476.65" r="2.0"/><circle cx="295.45" cy="476.46" r="2.0"/><circle cx="295.99" cy="475.92" r="2.0"/><circle cx="296.81" cy="474.62" r="2.0"/><circle cx="296.75" cy="474.48" r="2.0"/><circle cx="297.87" cy="474.18" r="2.0"/><circle cx="298.48" cy="474.06" r="2.0"/><circle cx="299.11" cy="474.15" r="2.0"/><circle cx="299.58" cy="473.07" r="2.0"/><circle cx="300.31" cy="473.34" r="2.0"/><circle cx="300.81" cy="473.61" r="2.0"/><circle cx="301.87" cy="472.97" r="2.0"/><circle cx="302.13" cy="473.89" r="2.0"/><circle cx="302.92" cy="473.22" r="2.0"/><circle cx="304.01" cy="473.61" r="2.0"/><circle cx="304.49" cy="473.18" r="2.0"/><circle cx="304.58" cy="472.98" r="2.0"/><circle cx="305.84" cy="472.01" r="2.0"/><circle cx="306.47" cy="472.53" r="2.0"/><circle cx="307.08" cy="472.46" r="2.0"/><circle cx="307.94" cy="471.96" r="2.0"/><circle cx="308.4" cy="471.27" r="2.0"/><circle cx="309.33" cy="471.31" r="2.0"/><circle cx="309.84" cy="471.93" r="2.0"/><circle cx="310.6" cy="470.62" r="2.0"/><circle cx="311.1" cy="470.64" r="2.0"/><circle cx="311.48" cy="470.4" r="2.0"/><circle cx="312.57" cy="470.64" r="2.0"/><circle cx="313.09" cy="470.37" r="2.0"/><circle cx="313.58" cy="469.8" r="2.0"/><circle cx="314.44" cy="470.21" r="2.0"/><circle cx="315.08" cy="469.63" r="2.0"/><circle cx="315.87" cy="470.07" r="2.0"/><circle cx="316.24" cy="469.49" r="2.0"/><circle cx="317.18" cy="469.05" r="2.0"/><circle cx="317.86" cy="468.09" r="2.0"/><circle cx="318.49" cy="468.57" r="2.0"/><circle cx="318.92" cy="468.8" r="2.0"/><circle cx="319.8" cy="468.12" r="2.0"/><circle cx="320.64" cy="467.71" r="2.0"/><circle cx="321.04" cy="468.22" r="2.0"/><circle cx="322.02" cy="468.52" r="2.0"/><circle cx="322.44" cy="466.97" r="2.0"/><circle cx="322.93" cy="466.9" r="2.0"/><circle cx="323.91" cy="467.1" r="2.0"/><circle cx="324.44" cy="466.62" r="2.0"/><circle cx="325.11" cy="466.7" r="2.0"/><circle cx="326.14" cy="466.91" r="2.0"/><circle cx="326.85" cy="466.81" r="2.0"/><circle cx="327.42" cy="466.78" r="2.0"/><circle cx="328.04" cy="466.74" r="2.0"/><circle cx="328.84" cy="466.68" r="2.0"/><circle cx="329.35" cy="465.48" r="2.0"/><circle cx="330.46" cy="465.5" r="2.0"/><circle cx="330.76" cy="465.28" r="2.0"/><circle cx="331.21" cy="465.43" r="2.0"/><circle cx="331.8" cy="465.02" r="2.0"/><circle cx="332.96" cy="464.95" r="2.0"/><circle cx="333.52" cy="464.98" r="2.0"/><circle cx="334.12" cy="464.59" r="2.0"/><circle cx="334.84" cy="463.99" r="2.0"/><circle cx="335.51" cy="463.78" r="2.0"/><circle cx="335.94" cy="463.79" r="2.0"/><circle cx="336.51" cy="463.07" r="2.0"/><circle cx="337.51" cy="463.87" r="2.0"/><circle cx="338.24" cy="464.37" r="2.0"/><circle cx="338.82" cy="463.61" r="2.0"/><circle cx="339.33" cy="463.42" r="2.0"/><circle cx="339.93" cy="463.74" r="2.0"/><circle cx="340.64" cy="462.62" r="2.0"/><circle cx="341.64" cy="461.73" r="2.0"/><circle cx="342.42" cy="462.04" r="2.0"/><circle cx="342.88" cy="462.62" r="2.0"/><circle cx="343.55" cy="462.42" r="2.0"/><circle cx="344.1" cy="462.1" r="2.0"/><circle cx="344.47" cy="462.28" r="2.0"/><circle cx="345.43" cy="461.16" r="2.0"/><circle cx="346.23" cy="461.99" r="2.0"/><circle cx="346.77" cy="461.13" r="2.0"/><circle cx="347.51" cy="460.59" r="2.0"/><circle cx="348.01" cy="461.01" r="2.0"/><circle cx="349.06" cy="460.3" r="2.0"/><circle cx="349.65" cy="460.59" r="2.0"/><circle cx="350.35" cy="460.16" r="2.0"/><circle cx="350.97" cy="460.15" r="2.0"/><circle cx="351.43" cy="459.8" r="2.0"/><circle cx="352.46" cy="459.46" r="2.0"/><circle cx="353.23" cy="459.4" r="2.0"/><circle cx="353.45" cy="459.2" r="2.0"/><circle cx="354.08" cy="459.37" r="2.0"/><circle cx="354.71" cy="458.96" r="2.0"/><circle cx="355.64" cy="458.65" r="2.0"/><circle cx="356.44" cy="458.7" r="2.0"/><circle cx="356.93" cy="458.72" r="2.0"/><circle cx="357.63" cy="458.57" r="2.0"/><circle cx="358.64" cy="458.18" r="2.0"/><circle cx="359.24" cy="457.33" r="2.0"/><circle cx="359.85" cy="457.08" r="2.0"/><circle cx="360.39" cy="457.77" r="2.0"/><circle cx="360.59" cy="457.01" r="2.0"/><circle cx="361.63" cy="456.77" r="2.0"/><circle cx="362.45" cy="457.21" r="2.0"/><circle cx="362.91" cy="456.54" r="2.0"/><circle cx="363.46" cy="456.33" r="2.0"/><circle cx="364.09" cy="455.84" r="2.0"/><circle cx="365.25" cy="456.6" r="2.0"/><circle cx="365.68" cy="456.21" r="2.0"/><circle cx="366.37" cy="456.32" r="2.0"/><circle cx="367.52" cy="454.75" r="2.0"/><circle cx="367.71" cy="455.29" r="2.0"/><circle cx="368.46" cy="455.98" r="2.0"/><circle cx="369.52" cy="455.18" r="2.0"/><circle cx="370.02" cy="454.38" r="2.0"/><circle cx="370.52" cy="454.72" r="2.0"/><circle cx="371.23" cy="454.77" r="2.0"/><circle cx="371.64" cy="454.07" r="2.0"/><circle cx="373.01" cy="453.62" r="2.0"/><circle cx="373.3" cy="454.41" r="2.0"/><circle cx="374.06" cy="453.97" r="2.0"/><circle cx="374.34" cy="453.59" r="2.0"/><circle cx="375.02" cy="454.37" r="2.0"/><circle cx="376.06" cy="453.7" r="2.0"/><circle cx="376.71" cy="453.09" r="2.0"/><circle cx="377.48" cy="453.31" r="2.0"/><circle cx="377.64" cy="452.54" r="2.0"/><circle cx="377.93" cy="451.55" r="2.0"/><circle cx="378.14" cy="451.05" r="2.0"/><circle cx="378.27" cy="450.62" r="2.0"/><circle cx="378.99" cy="448.92" r="2.0"/><circle cx="379.2" cy="448.99" r="2.0"/><circle cx="379.83" cy="448.55" r="2.0"/><circle cx="380.23" cy="449.15" r="2.0"/><circle cx="380.92" cy="448.67" r="2.0"/><circle cx="381.38" cy="447.87" r="2.0"/><circle cx="382.6" cy="448.29" r="2.0"/><circle cx="382.96" cy="447.75" r="2.0"/><circle cx="383.48" cy="447.96" r="2.0"/><circle cx="384.37" cy="448.39" r="2.0"/><circle cx="384.96" cy="448.24" r="2.0"/><circle cx="385.79" cy="449.04" r="2.0"/><circle cx="386.18" cy="447.9" r="2.0"/><circle cx="387.33" cy="447.69" r="2.0"/><circle cx="387.7" cy="448.09" r="2.0"/><circle cx="388.79" cy="447.03" r="2.0"/><circle cx="388.57" cy="447.59" r="2.0"/><circle cx="389.99" cy="447.47" r="2.0"/><circle cx="390.3" cy="447.28" r="2.0"/><circle cx="390.73" cy="447.32" r="2.0"/><circle cx="392.07" cy="446.7" r="2.0"/><circle cx="392.61" cy="446.16" r="2.0"/><circle cx="393.4" cy="446.11" r="2.0"/><circle cx="393.64" cy="445.85" r="2.0"/><circle cx="394.13" cy="446.21" r="2.0"/><circle cx="395.5" cy="445.17" r="2.0"/><circle cx="395.76" cy="445.7" r="2.0"/><circle cx="396.35" cy="444.7" r="2.0"/><circle cx="397.19" cy="445.5" r="2.0"/><circle cx="397.82" cy="444.47" r="2.0"/><circle cx="398.41" cy="443.92" r="2.0"/><circle cx="399.12" cy="444.95" r="2.0"/><circle cx="400.01" cy="444.23" r="2.0"/><circle cx="400.55" cy="443.84" r="2.0"/><circle cx="401.16" cy="443.6" r="2.0"/><circle cx="401.83" cy="443.41" r="2.0"/><circle cx="402.5" cy="443.67" r="2.0"/><circle cx="403.13" cy="442.67" r="2.0"/><circle cx="403.89" cy="442.87" r="2.0"/><circle cx="404.37" cy="442.97" r="2.0"/><circle cx="404.97" cy="442.9" r="2.0"/><circle cx="405.9" cy="442.05" r="2.0"/><circle cx="406.33" cy="442.05" r="2.0"/><circle cx="406.95" cy="442.26" r="2.0"/><circle cx="407.36" cy="441.73" r="2.0"/><circle cx="408.39" cy="441.02" r="2.0"/><circle cx="409.24" cy="441.05" r="2.0"/><circle cx="409.87" cy="440.85" r="2.0"/><circle cx="410.4" cy="441.01" r="2.0"/><circle cx="411.3" cy="440.98" r="2.0"/><circle cx="411.78" cy="440.95" r="2.0"/><circle cx="412.39" cy="439.62" r="2.0"/><circle cx="412.76" cy="439.37" r="2.0"/><circle cx="413.62" cy="439.02" r="2.0"/><circle cx="414.51" cy="439.52" r="2.0"/><circle cx="415.11" cy="439.38" r="2.0"/><circle cx="415.76" cy="438.97" r="2.0"/><circle cx="416.38" cy="438.87" r="2.0"/><circle cx="416.9" cy="439.14" r="2.0"/><circle cx="418.07" cy="438.44" r="2.0"/><circle cx="418.87" cy="437.83" r="2.0"/><circle cx="419.28" cy="437.35" r="2.0"/><circle cx="419.89" cy="437.48" r="2.0"/><circle cx="420.63" cy="437.62" r="2.0"/><circle cx="421.3" cy="437.62" r="2.0"/><circle cx="421.89" cy="437.08" r="2.0"/><circle cx="422.76" cy="437.14" r="2.0"/><circle cx="423.23" cy="437.37" r="2.0"/><circle cx="423.76" cy="437.3" r="2.0"/><circle cx="424.69" cy="436.45" r="2.0"/><circle cx="424.88" cy="436.71" r="2.0"/><circle cx="425.77" cy="436.08" r="2.0"/><circle cx="426.53" cy="436.22" r="2.0"/><circle cx="427.3" cy="434.94" r="2.0"/><circle cx="427.72" cy="435.6" r="2.0"/><circle cx="428.55" cy="435.58" r="2.0"/><circle cx="429.3" cy="435.72" r="2.0"/><circle cx="429.73" cy="435.4" r="2.0"/><circle cx="430.61" cy="434.82" r="2.0"/><circle cx="431.34" cy="434.37" r="2.0"/><circle cx="432.02" cy="434.23" r="2.0"/><circle cx="432.7" cy="433.82" r="2.0"/><circle cx="433.46" cy="433.33" r="2.0"/><circle cx="433.78" cy="433.72" r="2.0"/><circle cx="434.63" cy="433.23" r="2.0"/><circle cx="435.18" cy="433.45" r="2.0"/><circle cx="436.13" cy="433.67" r="2.0"/><circle cx="436.51" cy="432.94" r="2.0"/><circle cx="437.21" cy="432.18" r="2.0"/><circle cx="437.86" cy="433.03" r="2.0"/><circle cx="438.37" cy="433.52" r="2.0"/><circle cx="439.48" cy="432.88" r="2.0"/><circle cx="440" cy="431.11" r="2.0"/><circle cx="440.72" cy="432.44" r="2.0"/><circle cx="441.2" cy="432.12" r="2.0"/><circle cx="442.13" cy="431.74" r="2.0"/><circle cx="442.8" cy="431.46" r="2.0"/><circle cx="443.45" cy="431.51" r="2.0"/><circle cx="444.08" cy="431.09" r="2.0"/><circle cx="444.76" cy="430.71" r="2.0"/><circle cx="445.18" cy="429.75" r="2.0"/><circle cx="445.83" cy="429.78" r="2.0"/><circle cx="446.41" cy="430.34" r="2.0"/><circle cx="447.3" cy="430.37" r="2.0"/><circle cx="448.63" cy="429.98" r="2.0"/><circle cx="448.62" cy="429.64" r="2.0"/><circle cx="449.34" cy="429.4" r="2.0"/><circle cx="450.45" cy="429.73" r="2.0"/><circle cx="450.97" cy="429.02" r="2.0"/><circle cx="451.74" cy="429.03" r="2.0"/><circle cx="452.24" cy="428.05" r="2.0"/><circle cx="452.63" cy="428.39" r="2.0"/><circle cx="453.38" cy="427.92" r="2.0"/><circle cx="453.71" cy="427.64" r="2.0"/><circle cx="454.74" cy="427.86" r="2.0"/><circle cx="455.23" cy="427.49" r="2.0"/><circle cx="456.45" cy="427.41" r="2.0"/><circle cx="456.41" cy="427.08" r="2.0"/><circle cx="457.3" cy="427.5" r="2.0"/></g><g fill="none" stroke="#ff8a0a" stroke-width="0.75"><circle cx="493.51" cy="441.33" r="1.8"/><circle cx="494.35" cy="440.55" r="1.8"/><circle cx="495.22" cy="440.1" r="1.8"/><circle cx="496.01" cy="438.89" r="1.8"/><circle cx="497.23" cy="436.99" r="1.8"/><circle cx="497.8" cy="436.96" r="1.8"/><circle cx="498.7" cy="436.38" r="1.8"/><circle cx="499.35" cy="435.89" r="1.8"/><circle cx="500" cy="434.31" r="1.8"/><circle cx="500.88" cy="435.56" r="1.8"/><circle cx="501.52" cy="433.99" r="1.8"/></g><g fill="none" stroke="#ff8a0a" stroke-width="0.75"><circle cx="503.47" cy="422.4" r="1.8"/><circle cx="504.04" cy="420.12" r="1.8"/><circle cx="503.94" cy="418.67" r="1.8"/><circle cx="504.79" cy="417.11" r="1.8"/><circle cx="505.55" cy="414.45" r="1.8"/><circle cx="505.84" cy="413.39" r="1.8"/><circle cx="506.96" cy="411.78" r="1.8"/><circle cx="578.82" cy="392.88" r="1.8"/></g><g fill="none" stroke="#ff8a0a" stroke-width="0.75"><circle cx="507.62" cy="410.84" r="1.8"/><circle cx="507.99" cy="410.07" r="1.8"/><circle cx="508.85" cy="411.27" r="1.8"/><circle cx="509.11" cy="410.98" r="1.8"/><circle cx="509.86" cy="411.48" r="1.8"/><circle cx="510.73" cy="412.92" r="1.8"/><circle cx="511.65" cy="414.72" r="1.8"/><circle cx="512.26" cy="414.51" r="1.8"/><circle cx="512.75" cy="415.27" r="1.8"/><circle cx="513.27" cy="415.15" r="1.8"/><circle cx="513.81" cy="412.97" r="1.8"/><circle cx="514.41" cy="414.6" r="1.8"/><circle cx="514.95" cy="416.55" r="1.8"/><circle cx="515.42" cy="415.83" r="1.8"/><circle cx="515.91" cy="415.75" r="1.8"/><circle cx="516.66" cy="418.13" r="1.8"/><circle cx="517.17" cy="416.38" r="1.8"/><circle cx="517.68" cy="416.4" r="1.8"/><circle cx="518.19" cy="417.06" r="1.8"/><circle cx="518.96" cy="416.66" r="1.8"/><circle cx="519.46" cy="417.62" r="1.8"/><circle cx="519.96" cy="417.34" r="1.8"/><circle cx="520.7" cy="415.8" r="1.8"/><circle cx="521.34" cy="417.97" r="1.8"/><circle cx="521.66" cy="417.03" r="1.8"/><circle cx="522.3" cy="417.99" r="1.8"/><circle cx="522.95" cy="417.62" r="1.8"/><circle cx="523.59" cy="417.37" r="1.8"/><circle cx="524.23" cy="417.19" r="1.8"/><circle cx="524.87" cy="419.38" r="1.8"/><circle cx="525.51" cy="416.61" r="1.8"/><circle cx="525.83" cy="417.7" r="1.8"/><circle cx="526.48" cy="416.34" r="1.8"/><circle cx="527.12" cy="417.97" r="1.8"/><circle cx="527.76" cy="416.9" r="1.8"/><circle cx="528.4" cy="417.87" r="1.8"/><circle cx="529.01" cy="418.07" r="1.8"/><circle cx="529.59" cy="416.85" r="1.8"/><circle cx="530.15" cy="417.69" r="1.8"/><circle cx="530.68" cy="415.75" r="1.8"/><circle cx="531.23" cy="415.9" r="1.8"/><circle cx="531.78" cy="416.46" r="1.8"/><circle cx="532.36" cy="415.98" r="1.8"/><circle cx="532.9" cy="417.32" r="1.8"/><circle cx="533.64" cy="415.06" r="1.8"/><circle cx="534.21" cy="416.05" r="1.8"/><circle cx="534.77" cy="415.36" r="1.8"/><circle cx="535.3" cy="418.26" r="1.8"/><circle cx="535.83" cy="415.22" r="1.8"/><circle cx="536.36" cy="414.59" r="1.8"/><circle cx="536.87" cy="415.95" r="1.8"/><circle cx="537.65" cy="415.6" r="1.8"/><circle cx="538.15" cy="413.86" r="1.8"/><circle cx="538.64" cy="413.85" r="1.8"/><circle cx="539.14" cy="414.26" r="1.8"/><circle cx="539.86" cy="413.53" r="1.8"/><circle cx="540.33" cy="413.77" r="1.8"/><circle cx="540.8" cy="413.95" r="1.8"/><circle cx="541.53" cy="411.95" r="1.8"/><circle cx="542.02" cy="414.27" r="1.8"/><circle cx="542.52" cy="413.09" r="1.8"/><circle cx="543.02" cy="411.55" r="1.8"/><circle cx="543.53" cy="411.56" r="1.8"/><circle cx="544.29" cy="410.64" r="1.8"/><circle cx="544.81" cy="410.4" r="1.8"/><circle cx="545.32" cy="411.69" r="1.8"/><circle cx="545.84" cy="410.96" r="1.8"/><circle cx="546.36" cy="411.65" r="1.8"/><circle cx="546.87" cy="410.73" r="1.8"/><circle cx="547.64" cy="410.52" r="1.8"/><circle cx="548.16" cy="409.87" r="1.8"/><circle cx="548.67" cy="410.47" r="1.8"/><circle cx="549.18" cy="409.07" r="1.8"/><circle cx="549.68" cy="410.4" r="1.8"/><circle cx="550.42" cy="411.52" r="1.8"/><circle cx="550.91" cy="408.57" r="1.8"/><circle cx="551.4" cy="409.74" r="1.8"/><circle cx="551.89" cy="410.35" r="1.8"/><circle cx="552.63" cy="408.8" r="1.8"/><circle cx="553.12" cy="407.79" r="1.8"/><circle cx="553.62" cy="408.87" r="1.8"/><circle cx="554.14" cy="408.39" r="1.8"/><circle cx="554.9" cy="408.12" r="1.8"/><circle cx="555.41" cy="408.58" r="1.8"/><circle cx="555.93" cy="406.87" r="1.8"/><circle cx="556.45" cy="410" r="1.8"/><circle cx="556.97" cy="406.44" r="1.8"/><circle cx="557.48" cy="404.11" r="1.8"/><circle cx="558.26" cy="406.66" r="1.8"/><circle cx="558.77" cy="405.52" r="1.8"/><circle cx="559.29" cy="406.49" r="1.8"/><circle cx="559.79" cy="406.56" r="1.8"/><circle cx="560.3" cy="405.76" r="1.8"/><circle cx="561.05" cy="405.76" r="1.8"/><circle cx="561.55" cy="404.9" r="1.8"/><circle cx="562.02" cy="405.63" r="1.8"/><circle cx="562.74" cy="404.49" r="1.8"/><circle cx="563.22" cy="403.7" r="1.8"/><circle cx="563.71" cy="405.51" r="1.8"/><circle cx="564.21" cy="404.6" r="1.8"/><circle cx="564.97" cy="404.65" r="1.8"/><circle cx="565.44" cy="403.53" r="1.8"/><circle cx="565.9" cy="404.48" r="1.8"/><circle cx="566.57" cy="402.32" r="1.8"/><circle cx="567.03" cy="401.87" r="1.8"/><circle cx="567.49" cy="401.92" r="1.8"/><circle cx="567.96" cy="402.94" r="1.8"/><circle cx="568.68" cy="402.14" r="1.8"/><circle cx="569.18" cy="401.92" r="1.8"/><circle cx="569.63" cy="400.87" r="1.8"/><circle cx="570.1" cy="400.88" r="1.8"/><circle cx="570.71" cy="401.32" r="1.8"/><circle cx="571.31" cy="399.25" r="1.8"/><circle cx="572.02" cy="399.67" r="1.8"/><circle cx="572.63" cy="399.43" r="1.8"/><circle cx="573.6" cy="399.12" r="1.8"/><circle cx="574.17" cy="398.1" r="1.8"/><circle cx="575.03" cy="395.91" r="1.8"/><circle cx="575.74" cy="395.96" r="1.8"/><circle cx="576.4" cy="395.09" r="1.8"/><circle cx="577.14" cy="395.48" r="1.8"/><circle cx="578.16" cy="393.44" r="1.8"/><circle cx="579.91" cy="391.17" r="1.8"/></g><g fill="none" stroke="#ff8a0a" stroke-width="0.75"><circle cx="582.2" cy="366.66" r="1.8"/><circle cx="583.11" cy="367.34" r="1.8"/><circle cx="583.47" cy="368.64" r="1.8"/><circle cx="584.04" cy="367.52" r="1.8"/><circle cx="584.65" cy="369.42" r="1.8"/><circle cx="585.29" cy="369.33" r="1.8"/><circle cx="585.81" cy="368.5" r="1.8"/><circle cx="586.59" cy="367.06" r="1.8"/><circle cx="587.14" cy="369.48" r="1.8"/><circle cx="587.68" cy="368.17" r="1.8"/><circle cx="588.23" cy="366.71" r="1.8"/><circle cx="588.78" cy="370.42" r="1.8"/><circle cx="589.6" cy="369.77" r="1.8"/><circle cx="590.15" cy="370.32" r="1.8"/><circle cx="590.7" cy="369.46" r="1.8"/><circle cx="591.27" cy="369.17" r="1.8"/><circle cx="591.84" cy="370.52" r="1.8"/><circle cx="592.44" cy="370.94" r="1.8"/><circle cx="593.03" cy="371.08" r="1.8"/><circle cx="593.52" cy="369.45" r="1.8"/><circle cx="594.01" cy="371.72" r="1.8"/><circle cx="594.75" cy="370.84" r="1.8"/><circle cx="595.25" cy="369.92" r="1.8"/><circle cx="595.76" cy="370.63" r="1.8"/><circle cx="596.27" cy="371.17" r="1.8"/><circle cx="597.04" cy="371.32" r="1.8"/><circle cx="597.56" cy="370.79" r="1.8"/><circle cx="598.08" cy="372.02" r="1.8"/><circle cx="598.87" cy="371.77" r="1.8"/><circle cx="599.4" cy="372.76" r="1.8"/><circle cx="599.95" cy="371.16" r="1.8"/><circle cx="600.5" cy="372.5" r="1.8"/><circle cx="601.06" cy="370.58" r="1.8"/><circle cx="601.64" cy="372.19" r="1.8"/><circle cx="602.51" cy="371.62" r="1.8"/><circle cx="603.11" cy="372.24" r="1.8"/><circle cx="603.7" cy="372.14" r="1.8"/><circle cx="604.2" cy="372.26" r="1.8"/><circle cx="604.71" cy="371.66" r="1.8"/><circle cx="605.21" cy="370.67" r="1.8"/><circle cx="605.95" cy="373.09" r="1.8"/><circle cx="606.45" cy="370.07" r="1.8"/><circle cx="606.99" cy="372.09" r="1.8"/><circle cx="607.57" cy="370.6" r="1.8"/><circle cx="608.42" cy="371.62" r="1.8"/><circle cx="608.97" cy="372.29" r="1.8"/><circle cx="609.52" cy="369.39" r="1.8"/><circle cx="610.03" cy="370.8" r="1.8"/><circle cx="610.54" cy="371" r="1.8"/><circle cx="611.09" cy="370.89" r="1.8"/><circle cx="611.68" cy="370.43" r="1.8"/><circle cx="612.51" cy="371.06" r="1.8"/><circle cx="613.05" cy="368.26" r="1.8"/><circle cx="613.56" cy="371.73" r="1.8"/><circle cx="614.07" cy="369.16" r="1.8"/><circle cx="614.81" cy="367.94" r="1.8"/><circle cx="615.29" cy="367.34" r="1.8"/><circle cx="615.76" cy="369.49" r="1.8"/><circle cx="616.47" cy="368.07" r="1.8"/><circle cx="616.95" cy="369.67" r="1.8"/><circle cx="617.43" cy="367.94" r="1.8"/><circle cx="618.15" cy="367.08" r="1.8"/><circle cx="618.65" cy="365.78" r="1.8"/><circle cx="619.16" cy="368.2" r="1.8"/><circle cx="619.67" cy="364.9" r="1.8"/><circle cx="620.43" cy="366.34" r="1.8"/><circle cx="620.94" cy="365.71" r="1.8"/><circle cx="621.46" cy="366.41" r="1.8"/><circle cx="621.97" cy="365.87" r="1.8"/><circle cx="622.48" cy="364.95" r="1.8"/><circle cx="622.99" cy="365.46" r="1.8"/><circle cx="623.51" cy="366.52" r="1.8"/><circle cx="624.02" cy="364.12" r="1.8"/><circle cx="624.53" cy="363.87" r="1.8"/><circle cx="625.05" cy="364.17" r="1.8"/><circle cx="625.56" cy="363.16" r="1.8"/><circle cx="626.07" cy="362.56" r="1.8"/><circle cx="626.59" cy="365.06" r="1.8"/><circle cx="627.36" cy="364.26" r="1.8"/><circle cx="627.87" cy="362.15" r="1.8"/><circle cx="628.38" cy="361.9" r="1.8"/><circle cx="628.9" cy="363" r="1.8"/><circle cx="629.41" cy="364.18" r="1.8"/><circle cx="629.92" cy="361.46" r="1.8"/><circle cx="630.69" cy="361.24" r="1.8"/><circle cx="631.21" cy="361.23" r="1.8"/><circle cx="631.72" cy="360.44" r="1.8"/><circle cx="632.23" cy="360.37" r="1.8"/><circle cx="632.74" cy="361.52" r="1.8"/><circle cx="633.51" cy="361" r="1.8"/><circle cx="634.02" cy="360.03" r="1.8"/><circle cx="634.53" cy="360.58" r="1.8"/><circle cx="635.04" cy="360.97" r="1.8"/><circle cx="635.55" cy="359.48" r="1.8"/><circle cx="636.06" cy="359.42" r="1.8"/><circle cx="636.82" cy="360.8" r="1.8"/><circle cx="637.33" cy="360.74" r="1.8"/><circle cx="637.84" cy="358.22" r="1.8"/><circle cx="638.34" cy="359.25" r="1.8"/><circle cx="638.85" cy="358.58" r="1.8"/><circle cx="639.35" cy="359.16" r="1.8"/><circle cx="639.85" cy="356.57" r="1.8"/><circle cx="640.36" cy="357.8" r="1.8"/><circle cx="640.86" cy="357.29" r="1.8"/><circle cx="641.62" cy="356.63" r="1.8"/><circle cx="642.13" cy="355.93" r="1.8"/><circle cx="642.64" cy="357.47" r="1.8"/><circle cx="643.15" cy="356.55" r="1.8"/><circle cx="643.65" cy="357.67" r="1.8"/><circle cx="644.16" cy="356.45" r="1.8"/><circle cx="644.66" cy="355.82" r="1.8"/><circle cx="645.41" cy="355.16" r="1.8"/><circle cx="645.9" cy="355.69" r="1.8"/><circle cx="646.4" cy="355.38" r="1.8"/><circle cx="646.9" cy="355.16" r="1.8"/><circle cx="647.65" cy="355.06" r="1.8"/><circle cx="648.15" cy="353.7" r="1.8"/><circle cx="648.66" cy="354.91" r="1.8"/><circle cx="649.18" cy="352.76" r="1.8"/><circle cx="649.7" cy="353.41" r="1.8"/><circle cx="650.5" cy="354.95" r="1.8"/><circle cx="651.05" cy="354.22" r="1.8"/><circle cx="651.6" cy="351.61" r="1.8"/><circle cx="652.08" cy="350.98" r="1.8"/><circle cx="652.57" cy="352.66" r="1.8"/><circle cx="653.03" cy="351.55" r="1.8"/><circle cx="653.47" cy="351.73" r="1.8"/><circle cx="654.14" cy="351.35" r="1.8"/><circle cx="654.6" cy="351.36" r="1.8"/><circle cx="655.07" cy="352.35" r="1.8"/><circle cx="655.76" cy="348.5" r="1.8"/><circle cx="656.23" cy="350.6" r="1.8"/><circle cx="656.7" cy="350.03" r="1.8"/><circle cx="657.16" cy="350.12" r="1.8"/><circle cx="657.83" cy="348.68" r="1.8"/><circle cx="658.28" cy="350.04" r="1.8"/><circle cx="658.77" cy="347.52" r="1.8"/><circle cx="659.26" cy="349.23" r="1.8"/><circle cx="659.78" cy="350.69" r="1.8"/><circle cx="660.31" cy="346.35" r="1.8"/><circle cx="660.85" cy="347.87" r="1.8"/><circle cx="661.4" cy="347.22" r="1.8"/><circle cx="661.98" cy="346.68" r="1.8"/><circle cx="662.34" cy="346.82" r="1.8"/></g><g fill="#fff" stroke="#ff8a0a" stroke-width="0.8"><circle cx="501.8" cy="433.7" r="1.8"/><circle cx="580.4" cy="391.2" r="1.8"/><circle cx="662.8" cy="345.8" r="1.8"/></g><g fill="#ff0000"><circle cx="493.96" cy="468.41" r="1.9"/><circle cx="494" cy="469.83" r="1.9"/><circle cx="494.49" cy="471.09" r="1.9"/><circle cx="495.13" cy="467.56" r="1.9"/><circle cx="495.19" cy="468.42" r="1.9"/><circle cx="495.65" cy="466.93" r="1.9"/><circle cx="496.39" cy="469.79" r="1.9"/><circle cx="495.93" cy="467.43" r="1.9"/><circle cx="496.82" cy="467.46" r="1.9"/><circle cx="496.88" cy="464.84" r="1.9"/><circle cx="497.67" cy="468.21" r="1.9"/><circle cx="497.75" cy="469.75" r="1.9"/><circle cx="498.34" cy="466.67" r="1.9"/><circle cx="498.27" cy="464.87" r="1.9"/><circle cx="498.61" cy="466.96" r="1.9"/><circle cx="498.9" cy="467.92" r="1.9"/><circle cx="499.2" cy="465.98" r="1.9"/><circle cx="499.65" cy="468.22" r="1.9"/><circle cx="499.77" cy="465.5" r="1.9"/><circle cx="500.49" cy="466.64" r="1.9"/><circle cx="500.45" cy="466.46" r="1.9"/><circle cx="500.99" cy="466.69" r="1.9"/><circle cx="501.24" cy="467.01" r="1.9"/><circle cx="501.87" cy="466.29" r="1.9"/><circle cx="501.76" cy="463.89" r="1.9"/><circle cx="502.44" cy="464.31" r="1.9"/><circle cx="502.78" cy="467.32" r="1.9"/><circle cx="503.75" cy="465.16" r="1.9"/><circle cx="503.99" cy="465.23" r="1.9"/><circle cx="503.62" cy="464.18" r="1.9"/><circle cx="503.94" cy="464.08" r="1.9"/><circle cx="504.54" cy="463.55" r="1.9"/><circle cx="504.55" cy="462.28" r="1.9"/><circle cx="505.15" cy="464.93" r="1.9"/><circle cx="505.12" cy="460.11" r="1.9"/><circle cx="506.12" cy="464.51" r="1.9"/><circle cx="505.65" cy="462.39" r="1.9"/><circle cx="506.29" cy="462.71" r="1.9"/><circle cx="506.44" cy="462.16" r="1.9"/><circle cx="506.98" cy="462.09" r="1.9"/><circle cx="507.45" cy="460.75" r="1.9"/><circle cx="507.87" cy="459.36" r="1.9"/><circle cx="507.99" cy="460.9" r="1.9"/><circle cx="508.3" cy="461.89" r="1.9"/><circle cx="508.81" cy="458.54" r="1.9"/><circle cx="509.41" cy="460.69" r="1.9"/><circle cx="509.26" cy="459.12" r="1.9"/><circle cx="510.07" cy="460.73" r="1.9"/><circle cx="510.26" cy="463.59" r="1.9"/><circle cx="510.73" cy="461.34" r="1.9"/><circle cx="510.87" cy="459.93" r="1.9"/><circle cx="511.52" cy="459.35" r="1.9"/><circle cx="511.95" cy="459.33" r="1.9"/><circle cx="511.97" cy="459.35" r="1.9"/><circle cx="512.07" cy="458.34" r="1.9"/><circle cx="512.51" cy="457.62" r="1.9"/><circle cx="512.81" cy="457.65" r="1.9"/><circle cx="513.51" cy="457.49" r="1.9"/><circle cx="513.6" cy="458.18" r="1.9"/><circle cx="514.17" cy="458.89" r="1.9"/><circle cx="514.27" cy="458.85" r="1.9"/><circle cx="514.97" cy="458.05" r="1.9"/><circle cx="514.72" cy="458.99" r="1.9"/><circle cx="516.1" cy="456.93" r="1.9"/><circle cx="515.77" cy="456.97" r="1.9"/><circle cx="516.1" cy="457.93" r="1.9"/><circle cx="516.89" cy="456.66" r="1.9"/><circle cx="516.42" cy="458.01" r="1.9"/><circle cx="516.99" cy="457.4" r="1.9"/><circle cx="517.61" cy="458.7" r="1.9"/><circle cx="517.74" cy="456.49" r="1.9"/><circle cx="517.74" cy="456.65" r="1.9"/><circle cx="518.49" cy="456.2" r="1.9"/><circle cx="518.79" cy="456.78" r="1.9"/><circle cx="519.43" cy="454.83" r="1.9"/><circle cx="519.98" cy="454.55" r="1.9"/><circle cx="519.55" cy="456.3" r="1.9"/><circle cx="520.13" cy="454.15" r="1.9"/><circle cx="520.19" cy="452.92" r="1.9"/><circle cx="521.31" cy="453.72" r="1.9"/><circle cx="521.33" cy="454.32" r="1.9"/><circle cx="521.44" cy="453.54" r="1.9"/><circle cx="522.07" cy="455.64" r="1.9"/><circle cx="522.32" cy="452.59" r="1.9"/><circle cx="522.88" cy="452.01" r="1.9"/><circle cx="522.55" cy="452.02" r="1.9"/><circle cx="523.2" cy="453.25" r="1.9"/><circle cx="523.69" cy="452.39" r="1.9"/><circle cx="523.79" cy="451.34" r="1.9"/><circle cx="524.29" cy="450.82" r="1.9"/><circle cx="524.55" cy="454.31" r="1.9"/><circle cx="525.06" cy="450.94" r="1.9"/><circle cx="525.35" cy="448.42" r="1.9"/><circle cx="525.54" cy="450.92" r="1.9"/><circle cx="526.21" cy="448.26" r="1.9"/><circle cx="526.09" cy="449.57" r="1.9"/><circle cx="527.1" cy="448.23" r="1.9"/><circle cx="527.55" cy="449.89" r="1.9"/><circle cx="527.29" cy="449.31" r="1.9"/><circle cx="528.2" cy="447.5" r="1.9"/><circle cx="528.44" cy="450.19" r="1.9"/><circle cx="528.62" cy="448.15" r="1.9"/><circle cx="528.62" cy="448.87" r="1.9"/><circle cx="528.84" cy="447.39" r="1.9"/><circle cx="530.05" cy="448.82" r="1.9"/><circle cx="529.8" cy="446.46" r="1.9"/><circle cx="530.59" cy="445.32" r="1.9"/><circle cx="530.15" cy="450.91" r="1.9"/><circle cx="531.27" cy="449.45" r="1.9"/><circle cx="531.02" cy="448.8" r="1.9"/><circle cx="530.62" cy="449.51" r="1.9"/><circle cx="531.55" cy="447.83" r="1.9"/><circle cx="531.99" cy="448.5" r="1.9"/><circle cx="532.58" cy="445.59" r="1.9"/><circle cx="532.6" cy="447.79" r="1.9"/><circle cx="533.29" cy="446.95" r="1.9"/><circle cx="533.6" cy="444.14" r="1.9"/><circle cx="534.15" cy="446.68" r="1.9"/><circle cx="534.64" cy="445.09" r="1.9"/><circle cx="534.77" cy="445.94" r="1.9"/><circle cx="535.53" cy="447.77" r="1.9"/><circle cx="534.53" cy="446.76" r="1.9"/><circle cx="536.29" cy="443.19" r="1.9"/><circle cx="536.21" cy="442.89" r="1.9"/><circle cx="536.47" cy="444.96" r="1.9"/><circle cx="535.9" cy="441.47" r="1.9"/><circle cx="537.49" cy="442.4" r="1.9"/><circle cx="537.65" cy="443.04" r="1.9"/><circle cx="537.8" cy="442.54" r="1.9"/><circle cx="538.02" cy="442.78" r="1.9"/><circle cx="538.28" cy="442.95" r="1.9"/><circle cx="538.52" cy="442.94" r="1.9"/><circle cx="539.28" cy="441.97" r="1.9"/><circle cx="539.66" cy="440.22" r="1.9"/><circle cx="540.02" cy="442.47" r="1.9"/><circle cx="540.5" cy="442.96" r="1.9"/><circle cx="540.56" cy="442.48" r="1.9"/><circle cx="540.51" cy="442.21" r="1.9"/><circle cx="541.56" cy="441.77" r="1.9"/><circle cx="541.84" cy="440.17" r="1.9"/><circle cx="542.05" cy="442.44" r="1.9"/><circle cx="542.52" cy="439.65" r="1.9"/><circle cx="542.6" cy="441.34" r="1.9"/><circle cx="543.27" cy="442.7" r="1.9"/><circle cx="543.37" cy="440.3" r="1.9"/><circle cx="543.49" cy="443.36" r="1.9"/><circle cx="543.79" cy="441.99" r="1.9"/><circle cx="544.32" cy="439.24" r="1.9"/><circle cx="544.68" cy="440.51" r="1.9"/><circle cx="544.95" cy="440.29" r="1.9"/><circle cx="545.23" cy="439.44" r="1.9"/><circle cx="545.41" cy="439.19" r="1.9"/><circle cx="546.29" cy="437.99" r="1.9"/><circle cx="546.84" cy="439.19" r="1.9"/><circle cx="546.94" cy="439.23" r="1.9"/><circle cx="547.31" cy="438.16" r="1.9"/><circle cx="547.63" cy="436.62" r="1.9"/><circle cx="548.03" cy="437.72" r="1.9"/><circle cx="548.17" cy="436.27" r="1.9"/><circle cx="548.71" cy="435.83" r="1.9"/><circle cx="549.22" cy="435.72" r="1.9"/><circle cx="549.27" cy="435.12" r="1.9"/><circle cx="550.3" cy="436.34" r="1.9"/><circle cx="549.95" cy="437.04" r="1.9"/><circle cx="550.32" cy="436.94" r="1.9"/><circle cx="550.91" cy="435.17" r="1.9"/><circle cx="549.98" cy="435.34" r="1.9"/><circle cx="551.51" cy="436.74" r="1.9"/><circle cx="551.87" cy="434.36" r="1.9"/><circle cx="551.97" cy="435.08" r="1.9"/><circle cx="552.06" cy="433.77" r="1.9"/><circle cx="552.85" cy="432.26" r="1.9"/><circle cx="553.28" cy="433.18" r="1.9"/><circle cx="553.36" cy="434.45" r="1.9"/><circle cx="554.42" cy="434.46" r="1.9"/><circle cx="554.21" cy="434.49" r="1.9"/><circle cx="554.39" cy="435.06" r="1.9"/><circle cx="554.66" cy="432.46" r="1.9"/><circle cx="555.19" cy="435.62" r="1.9"/><circle cx="554.99" cy="434.88" r="1.9"/><circle cx="555.78" cy="432.88" r="1.9"/><circle cx="556.92" cy="434.96" r="1.9"/><circle cx="556.11" cy="431.38" r="1.9"/><circle cx="557.13" cy="433.41" r="1.9"/><circle cx="557.4" cy="431.02" r="1.9"/><circle cx="557.93" cy="432.29" r="1.9"/><circle cx="558.11" cy="429.46" r="1.9"/><circle cx="558.13" cy="430.06" r="1.9"/><circle cx="558.44" cy="430.73" r="1.9"/><circle cx="559.2" cy="428.69" r="1.9"/><circle cx="559.54" cy="428.54" r="1.9"/><circle cx="559.92" cy="428.9" r="1.9"/><circle cx="560.11" cy="428.52" r="1.9"/><circle cx="560.13" cy="429.55" r="1.9"/><circle cx="561.45" cy="432.8" r="1.9"/><circle cx="561.18" cy="430.92" r="1.9"/><circle cx="561.76" cy="431.64" r="1.9"/><circle cx="561.7" cy="428.13" r="1.9"/><circle cx="561.8" cy="427.5" r="1.9"/><circle cx="561.81" cy="430.61" r="1.9"/><circle cx="562.66" cy="426.24" r="1.9"/><circle cx="562.78" cy="431.75" r="1.9"/><circle cx="563.49" cy="429.02" r="1.9"/><circle cx="563.52" cy="426.41" r="1.9"/><circle cx="564.19" cy="429.16" r="1.9"/><circle cx="564.18" cy="426.96" r="1.9"/><circle cx="564.88" cy="428.24" r="1.9"/><circle cx="564.9" cy="426.93" r="1.9"/><circle cx="565.29" cy="428.79" r="1.9"/><circle cx="566.37" cy="426.68" r="1.9"/><circle cx="565.8" cy="427.09" r="1.9"/><circle cx="566.72" cy="425.71" r="1.9"/><circle cx="567.12" cy="426.35" r="1.9"/><circle cx="567.04" cy="427.02" r="1.9"/><circle cx="567.09" cy="425.42" r="1.9"/><circle cx="567.77" cy="426.26" r="1.9"/><circle cx="568.44" cy="425.51" r="1.9"/><circle cx="568.37" cy="427.24" r="1.9"/><circle cx="568.97" cy="428.09" r="1.9"/><circle cx="568.72" cy="424.69" r="1.9"/><circle cx="569.13" cy="423.63" r="1.9"/><circle cx="569.38" cy="426.27" r="1.9"/><circle cx="570.09" cy="426.45" r="1.9"/><circle cx="570.16" cy="425.38" r="1.9"/><circle cx="570.78" cy="425.38" r="1.9"/><circle cx="571.37" cy="424.1" r="1.9"/><circle cx="571.66" cy="423.71" r="1.9"/><circle cx="571.73" cy="426.71" r="1.9"/><circle cx="572.19" cy="420.91" r="1.9"/><circle cx="572.9" cy="423.1" r="1.9"/><circle cx="572.77" cy="425.21" r="1.9"/><circle cx="573.28" cy="424.57" r="1.9"/><circle cx="573.7" cy="422.3" r="1.9"/><circle cx="573.84" cy="423.32" r="1.9"/><circle cx="573.88" cy="421.69" r="1.9"/><circle cx="574.1" cy="421.85" r="1.9"/><circle cx="575.35" cy="421.11" r="1.9"/><circle cx="575.19" cy="422.05" r="1.9"/><circle cx="574.99" cy="422.07" r="1.9"/><circle cx="575.57" cy="421.04" r="1.9"/><circle cx="575.93" cy="420.75" r="1.9"/><circle cx="576.98" cy="418.84" r="1.9"/><circle cx="576.82" cy="421.69" r="1.9"/><circle cx="577.13" cy="421.3" r="1.9"/><circle cx="577.35" cy="418.08" r="1.9"/><circle cx="577.96" cy="419.14" r="1.9"/><circle cx="577.97" cy="418.89" r="1.9"/><circle cx="577.69" cy="419.12" r="1.9"/><circle cx="578.63" cy="417.89" r="1.9"/><circle cx="579.1" cy="416.78" r="1.9"/><circle cx="579.29" cy="418.98" r="1.9"/><circle cx="580.08" cy="418.1" r="1.9"/><circle cx="580.22" cy="420.5" r="1.9"/><circle cx="580.47" cy="419.91" r="1.9"/><circle cx="580.82" cy="419.51" r="1.9"/><circle cx="581.1" cy="417.35" r="1.9"/><circle cx="581.35" cy="418.15" r="1.9"/><circle cx="581.62" cy="416.14" r="1.9"/><circle cx="581.66" cy="415.61" r="1.9"/><circle cx="582.69" cy="416.4" r="1.9"/><circle cx="582.66" cy="417.58" r="1.9"/><circle cx="583.4" cy="416.86" r="1.9"/><circle cx="582.91" cy="414.4" r="1.9"/><circle cx="583.34" cy="415.37" r="1.9"/><circle cx="584.37" cy="414.37" r="1.9"/><circle cx="584.15" cy="414.12" r="1.9"/><circle cx="584.89" cy="413.25" r="1.9"/><circle cx="585.59" cy="415.58" r="1.9"/><circle cx="584.95" cy="414.75" r="1.9"/><circle cx="585.54" cy="416.5" r="1.9"/><circle cx="585.82" cy="414.62" r="1.9"/><circle cx="586.13" cy="413.51" r="1.9"/><circle cx="585.98" cy="416.66" r="1.9"/><circle cx="586.55" cy="412.6" r="1.9"/><circle cx="587.32" cy="410.46" r="1.9"/><circle cx="587.36" cy="412.09" r="1.9"/><circle cx="587.85" cy="414.92" r="1.9"/><circle cx="588.1" cy="415.95" r="1.9"/><circle cx="588.58" cy="411.11" r="1.9"/><circle cx="588.81" cy="409.43" r="1.9"/><circle cx="589.22" cy="412.3" r="1.9"/><circle cx="589.71" cy="410.51" r="1.9"/><circle cx="590.21" cy="411.97" r="1.9"/><circle cx="590.17" cy="409" r="1.9"/><circle cx="590.53" cy="409.58" r="1.9"/><circle cx="591.2" cy="408.79" r="1.9"/><circle cx="591.04" cy="409.8" r="1.9"/><circle cx="591.46" cy="411.37" r="1.9"/><circle cx="591.94" cy="409.43" r="1.9"/><circle cx="591.79" cy="407.39" r="1.9"/><circle cx="592.49" cy="409.88" r="1.9"/><circle cx="592.81" cy="408.72" r="1.9"/><circle cx="593.12" cy="409.41" r="1.9"/><circle cx="593.75" cy="409.81" r="1.9"/><circle cx="593.92" cy="406.35" r="1.9"/><circle cx="593.66" cy="408.79" r="1.9"/><circle cx="594.73" cy="408.83" r="1.9"/><circle cx="595.01" cy="408.73" r="1.9"/><circle cx="595.09" cy="408.7" r="1.9"/><circle cx="595.67" cy="408.09" r="1.9"/><circle cx="595.79" cy="408.01" r="1.9"/><circle cx="596.14" cy="410.19" r="1.9"/><circle cx="596.06" cy="405.65" r="1.9"/><circle cx="596.91" cy="406.97" r="1.9"/><circle cx="597.44" cy="406.13" r="1.9"/><circle cx="597.86" cy="405.59" r="1.9"/><circle cx="597.65" cy="405.1" r="1.9"/><circle cx="598.71" cy="407.38" r="1.9"/><circle cx="598.86" cy="405.18" r="1.9"/><circle cx="599.21" cy="403.72" r="1.9"/><circle cx="599.17" cy="405.43" r="1.9"/><circle cx="600.16" cy="401.61" r="1.9"/><circle cx="600.27" cy="402.85" r="1.9"/><circle cx="600.48" cy="404.86" r="1.9"/><circle cx="600.89" cy="404.11" r="1.9"/><circle cx="601.58" cy="403.76" r="1.9"/><circle cx="601.27" cy="403.53" r="1.9"/><circle cx="601.91" cy="402.53" r="1.9"/><circle cx="602.06" cy="406.18" r="1.9"/><circle cx="602.39" cy="402.37" r="1.9"/><circle cx="602.48" cy="401.9" r="1.9"/><circle cx="603.48" cy="400.55" r="1.9"/><circle cx="603.57" cy="402.69" r="1.9"/><circle cx="604.07" cy="402.15" r="1.9"/><circle cx="604.18" cy="403.45" r="1.9"/><circle cx="604.32" cy="402.49" r="1.9"/><circle cx="604.98" cy="402.19" r="1.9"/><circle cx="605.44" cy="399.72" r="1.9"/><circle cx="605.2" cy="401.1" r="1.9"/><circle cx="606.27" cy="401.52" r="1.9"/><circle cx="607.02" cy="401.14" r="1.9"/><circle cx="606.53" cy="398.33" r="1.9"/><circle cx="607.19" cy="401.45" r="1.9"/><circle cx="606.82" cy="400.09" r="1.9"/><circle cx="607.43" cy="399.4" r="1.9"/><circle cx="607.93" cy="398.92" r="1.9"/><circle cx="608.78" cy="398.45" r="1.9"/><circle cx="608.3" cy="399.38" r="1.9"/><circle cx="609.05" cy="399.31" r="1.9"/><circle cx="609.45" cy="401.69" r="1.9"/><circle cx="609.9" cy="399.65" r="1.9"/><circle cx="609.86" cy="399.82" r="1.9"/><circle cx="610.46" cy="399.19" r="1.9"/><circle cx="610.52" cy="398.61" r="1.9"/><circle cx="610.23" cy="399.79" r="1.9"/><circle cx="611.73" cy="398.58" r="1.9"/><circle cx="611.57" cy="397.53" r="1.9"/><circle cx="612.3" cy="396.03" r="1.9"/><circle cx="612.13" cy="394.54" r="1.9"/><circle cx="612.19" cy="398.61" r="1.9"/><circle cx="613.47" cy="396.43" r="1.9"/><circle cx="613.09" cy="397.58" r="1.9"/><circle cx="613.47" cy="393.19" r="1.9"/><circle cx="613.97" cy="398.1" r="1.9"/><circle cx="614.54" cy="395.83" r="1.9"/><circle cx="614.27" cy="391.47" r="1.9"/><circle cx="615.22" cy="395.27" r="1.9"/><circle cx="615.92" cy="394.86" r="1.9"/><circle cx="616.07" cy="393.18" r="1.9"/><circle cx="616.04" cy="393.96" r="1.9"/><circle cx="616.52" cy="394.35" r="1.9"/><circle cx="616.11" cy="394.52" r="1.9"/><circle cx="616.88" cy="393.84" r="1.9"/><circle cx="617.31" cy="391.57" r="1.9"/><circle cx="617.64" cy="394.8" r="1.9"/><circle cx="617.55" cy="393.82" r="1.9"/><circle cx="617.97" cy="393.79" r="1.9"/><circle cx="618.19" cy="392.46" r="1.9"/><circle cx="619.08" cy="392.06" r="1.9"/><circle cx="619.82" cy="394.66" r="1.9"/><circle cx="619.32" cy="394.02" r="1.9"/><circle cx="619.97" cy="391.72" r="1.9"/><circle cx="620.63" cy="393.4" r="1.9"/><circle cx="620.69" cy="393.46" r="1.9"/><circle cx="621.11" cy="392.3" r="1.9"/><circle cx="621.85" cy="392.06" r="1.9"/><circle cx="622.6" cy="390.95" r="1.9"/><circle cx="621.89" cy="391.58" r="1.9"/><circle cx="622.43" cy="389.77" r="1.9"/><circle cx="623.36" cy="393.75" r="1.9"/><circle cx="623.66" cy="390.29" r="1.9"/><circle cx="622.45" cy="388.97" r="1.9"/><circle cx="624.32" cy="387.26" r="1.9"/><circle cx="624.22" cy="389.53" r="1.9"/><circle cx="624.89" cy="390.69" r="1.9"/><circle cx="624.72" cy="387.89" r="1.9"/><circle cx="625.73" cy="387.42" r="1.9"/><circle cx="625.36" cy="390.49" r="1.9"/><circle cx="626.3" cy="388.05" r="1.9"/><circle cx="626.74" cy="389.45" r="1.9"/><circle cx="627.1" cy="389.62" r="1.9"/><circle cx="627.29" cy="391.05" r="1.9"/><circle cx="627.17" cy="389.17" r="1.9"/><circle cx="628.47" cy="389.51" r="1.9"/><circle cx="628.65" cy="387.99" r="1.9"/><circle cx="628.29" cy="385.37" r="1.9"/><circle cx="628.77" cy="387.72" r="1.9"/><circle cx="629.72" cy="388.25" r="1.9"/><circle cx="629.78" cy="387.6" r="1.9"/><circle cx="630.58" cy="387.13" r="1.9"/><circle cx="630.46" cy="387.95" r="1.9"/><circle cx="631.08" cy="387.59" r="1.9"/><circle cx="631.37" cy="383.57" r="1.9"/><circle cx="631.95" cy="384.81" r="1.9"/><circle cx="631.71" cy="384.6" r="1.9"/><circle cx="632.66" cy="383.88" r="1.9"/><circle cx="632.51" cy="387.19" r="1.9"/><circle cx="633.05" cy="385.52" r="1.9"/><circle cx="633.45" cy="387.37" r="1.9"/><circle cx="633.82" cy="386.58" r="1.9"/><circle cx="634.41" cy="384.75" r="1.9"/><circle cx="634.72" cy="385.14" r="1.9"/><circle cx="635.22" cy="387.72" r="1.9"/><circle cx="635.27" cy="385.08" r="1.9"/><circle cx="635.45" cy="387.5" r="1.9"/><circle cx="636.65" cy="384.02" r="1.9"/><circle cx="636.22" cy="386.84" r="1.9"/><circle cx="636.8" cy="384.44" r="1.9"/><circle cx="637.11" cy="384.22" r="1.9"/><circle cx="637.26" cy="385.2" r="1.9"/><circle cx="637.69" cy="385.31" r="1.9"/><circle cx="638.18" cy="381.33" r="1.9"/><circle cx="638.32" cy="382.09" r="1.9"/><circle cx="638.15" cy="385.28" r="1.9"/><circle cx="639.18" cy="381.88" r="1.9"/><circle cx="639.15" cy="383.1" r="1.9"/><circle cx="639.82" cy="381.86" r="1.9"/><circle cx="640.11" cy="380.78" r="1.9"/><circle cx="640.42" cy="381.63" r="1.9"/><circle cx="640.08" cy="382.4" r="1.9"/><circle cx="640.99" cy="378.6" r="1.9"/><circle cx="641.16" cy="378.9" r="1.9"/><circle cx="641.43" cy="376.78" r="1.9"/><circle cx="641.89" cy="378.74" r="1.9"/><circle cx="641.94" cy="380.98" r="1.9"/><circle cx="642.23" cy="378.61" r="1.9"/><circle cx="642.39" cy="380.26" r="1.9"/><circle cx="643.12" cy="380.62" r="1.9"/><circle cx="643.77" cy="380.51" r="1.9"/><circle cx="643.26" cy="378.08" r="1.9"/><circle cx="643.6" cy="381.39" r="1.9"/><circle cx="644.1" cy="378.28" r="1.9"/><circle cx="644.87" cy="378.97" r="1.9"/><circle cx="645.08" cy="380.74" r="1.9"/><circle cx="645.36" cy="377.22" r="1.9"/><circle cx="645.47" cy="376.5" r="1.9"/><circle cx="646.34" cy="375.17" r="1.9"/><circle cx="646.09" cy="377.56" r="1.9"/><circle cx="646.98" cy="377.19" r="1.9"/><circle cx="647.32" cy="375.95" r="1.9"/><circle cx="647.75" cy="376.46" r="1.9"/><circle cx="647.34" cy="375.56" r="1.9"/><circle cx="648.22" cy="377.15" r="1.9"/><circle cx="648.73" cy="377" r="1.9"/><circle cx="649.39" cy="379.43" r="1.9"/><circle cx="649.46" cy="374.87" r="1.9"/><circle cx="649.59" cy="376.07" r="1.9"/><circle cx="650.23" cy="376.35" r="1.9"/><circle cx="650.32" cy="376.28" r="1.9"/><circle cx="651.27" cy="377.82" r="1.9"/><circle cx="651.18" cy="377.17" r="1.9"/><circle cx="651.81" cy="375.39" r="1.9"/><circle cx="652.1" cy="374.84" r="1.9"/><circle cx="652.28" cy="375.62" r="1.9"/><circle cx="652.76" cy="375.17" r="1.9"/><circle cx="652.92" cy="374.75" r="1.9"/><circle cx="653.21" cy="376.84" r="1.9"/><circle cx="653.74" cy="372.2" r="1.9"/><circle cx="654.13" cy="373.54" r="1.9"/><circle cx="654.4" cy="371.34" r="1.9"/><circle cx="654.69" cy="375.04" r="1.9"/><circle cx="654.7" cy="374.28" r="1.9"/><circle cx="655.36" cy="372.89" r="1.9"/><circle cx="656.08" cy="372.17" r="1.9"/><circle cx="655.67" cy="371.98" r="1.9"/><circle cx="656.51" cy="372.46" r="1.9"/><circle cx="657.03" cy="372.42" r="1.9"/><circle cx="656.87" cy="368.83" r="1.9"/><circle cx="658.23" cy="371.71" r="1.9"/><circle cx="657.95" cy="371.64" r="1.9"/><circle cx="657.77" cy="371.78" r="1.9"/><circle cx="658.67" cy="374" r="1.9"/><circle cx="658.71" cy="372.68" r="1.9"/><circle cx="658.87" cy="373.39" r="1.9"/><circle cx="659.24" cy="371.52" r="1.9"/><circle cx="660.47" cy="371.03" r="1.9"/><circle cx="659.87" cy="371.37" r="1.9"/><circle cx="660.34" cy="372.16" r="1.9"/><circle cx="661.04" cy="372.21" r="1.9"/><circle cx="660.85" cy="371.47" r="1.9"/><circle cx="661.57" cy="369.6" r="1.9"/><circle cx="661.81" cy="370.56" r="1.9"/><circle cx="661.36" cy="371.27" r="1.9"/><circle cx="661.54" cy="369.52" r="1.9"/><circle cx="662.11" cy="368.35" r="1.9"/><circle cx="662.12" cy="368.27" r="1.9"/><circle cx="662.83" cy="366.05" r="1.9"/></g><rect x="605" y="432.3" width="61.4" height="33.1" fill="#fff" stroke="#8a8a8a" stroke-width="0.9"/><circle cx="621" cy="441.3" r="2.1" fill="#ff0000"/><circle cx="621" cy="456.5" r="1.7" fill="none" stroke="#ffab66" stroke-width="0.7"/><line x1="46" y1="22" x2="48.6" y2="22" stroke="#000" stroke-width="1.6"/><line x1="46" y1="43.9" x2="48.6" y2="43.9" stroke="#000" stroke-width="1.6"/><line x1="46" y1="65.7" x2="48.6" y2="65.7" stroke="#000" stroke-width="1.6"/><line x1="46" y1="87.5" x2="48.6" y2="87.5" stroke="#000" stroke-width="1.6"/><line x1="46" y1="109.4" x2="48.6" y2="109.4" stroke="#000" stroke-width="1.6"/><line x1="46" y1="131.2" x2="48.6" y2="131.2" stroke="#000" stroke-width="1.6"/><line x1="46" y1="153" x2="48.6" y2="153" stroke="#000" stroke-width="1.6"/><line x1="97.4" y1="163" x2="97.4" y2="160.4" stroke="#000" stroke-width="1.6"/><line x1="151.1" y1="163" x2="151.1" y2="160.4" stroke="#000" stroke-width="1.6"/><line x1="204.7" y1="163" x2="204.7" y2="160.4" stroke="#000" stroke-width="1.6"/><line x1="70.6" y1="163" x2="70.6" y2="161.7" stroke="#000" stroke-width="1.2"/><line x1="124.6" y1="163" x2="124.6" y2="161.7" stroke="#000" stroke-width="1.2"/><line x1="178.1" y1="163" x2="178.1" y2="161.7" stroke="#000" stroke-width="1.2"/><line x1="231.5" y1="163" x2="231.5" y2="161.7" stroke="#000" stroke-width="1.2"/><line x1="97.4" y1="2" x2="97.4" y2="4.6" stroke="#000" stroke-width="1.6"/><line x1="151.1" y1="2" x2="151.1" y2="4.6" stroke="#000" stroke-width="1.6"/><line x1="204.7" y1="2" x2="204.7" y2="4.6" stroke="#000" stroke-width="1.6"/><line x1="70.6" y1="2" x2="70.6" y2="3.3" stroke="#000" stroke-width="1.2"/><line x1="124.6" y1="2" x2="124.6" y2="3.3" stroke="#000" stroke-width="1.2"/><line x1="178.1" y1="2" x2="178.1" y2="3.3" stroke="#000" stroke-width="1.2"/><line x1="231.5" y1="2" x2="231.5" y2="3.3" stroke="#000" stroke-width="1.2"/><line x1="259" y1="69" x2="261.6" y2="69" stroke="#000" stroke-width="1.6"/><line x1="259" y1="146.3" x2="261.6" y2="146.3" stroke="#000" stroke-width="1.6"/><line x1="259" y1="30.4" x2="260.3" y2="30.4" stroke="#000" stroke-width="1.2"/><line x1="259" y1="107.6" x2="260.3" y2="107.6" stroke="#000" stroke-width="1.2"/><line x1="344.4" y1="163" x2="344.4" y2="160.4" stroke="#000" stroke-width="1.6"/><line x1="441.5" y1="163" x2="441.5" y2="160.4" stroke="#000" stroke-width="1.6"/><line x1="296.9" y1="163" x2="296.9" y2="161.7" stroke="#000" stroke-width="1.2"/><line x1="393.3" y1="163" x2="393.3" y2="161.7" stroke="#000" stroke-width="1.2"/><line x1="344.4" y1="2" x2="344.4" y2="4.6" stroke="#000" stroke-width="1.6"/><line x1="441.5" y1="2" x2="441.5" y2="4.6" stroke="#000" stroke-width="1.6"/><line x1="296.9" y1="2" x2="296.9" y2="3.3" stroke="#000" stroke-width="1.2"/><line x1="393.3" y1="2" x2="393.3" y2="3.3" stroke="#000" stroke-width="1.2"/><line x1="472" y1="20.4" x2="474.6" y2="20.4" stroke="#000" stroke-width="1.6"/><line x1="472" y1="67.6" x2="474.6" y2="67.6" stroke="#000" stroke-width="1.6"/><line x1="472" y1="116.4" x2="474.6" y2="116.4" stroke="#000" stroke-width="1.6"/><line x1="490.4" y1="163" x2="490.4" y2="160.4" stroke="#000" stroke-width="1.6"/><line x1="554.75" y1="163" x2="554.75" y2="160.4" stroke="#000" stroke-width="1.6"/><line x1="619.4" y1="163" x2="619.4" y2="160.4" stroke="#000" stroke-width="1.6"/><line x1="522.6" y1="163" x2="522.6" y2="161.7" stroke="#000" stroke-width="1.2"/><line x1="587.3" y1="163" x2="587.3" y2="161.7" stroke="#000" stroke-width="1.2"/><line x1="652.25" y1="163" x2="652.25" y2="161.7" stroke="#000" stroke-width="1.2"/><line x1="490.4" y1="2" x2="490.4" y2="4.6" stroke="#000" stroke-width="1.6"/><line x1="554.75" y1="2" x2="554.75" y2="4.6" stroke="#000" stroke-width="1.6"/><line x1="619.4" y1="2" x2="619.4" y2="4.6" stroke="#000" stroke-width="1.6"/><line x1="522.6" y1="2" x2="522.6" y2="3.3" stroke="#000" stroke-width="1.2"/><line x1="587.3" y1="2" x2="587.3" y2="3.3" stroke="#000" stroke-width="1.2"/><line x1="652.25" y1="2" x2="652.25" y2="3.3" stroke="#000" stroke-width="1.2"/><line x1="46" y1="187.4" x2="48.6" y2="187.4" stroke="#000" stroke-width="1.6"/><line x1="46" y1="216.2" x2="48.6" y2="216.2" stroke="#000" stroke-width="1.6"/><line x1="46" y1="245.2" x2="48.6" y2="245.2" stroke="#000" stroke-width="1.6"/><line x1="46" y1="274.4" x2="48.6" y2="274.4" stroke="#000" stroke-width="1.6"/><line x1="46" y1="303.8" x2="48.6" y2="303.8" stroke="#000" stroke-width="1.6"/><line x1="112.1" y1="326" x2="112.1" y2="323.4" stroke="#000" stroke-width="1.6"/><line x1="209" y1="326" x2="209" y2="323.4" stroke="#000" stroke-width="1.6"/><line x1="63.4" y1="326" x2="63.4" y2="324.7" stroke="#000" stroke-width="1.2"/><line x1="161.2" y1="326" x2="161.2" y2="324.7" stroke="#000" stroke-width="1.2"/><line x1="259" y1="191.7" x2="261.6" y2="191.7" stroke="#000" stroke-width="1.6"/><line x1="259" y1="259.3" x2="261.6" y2="259.3" stroke="#000" stroke-width="1.6"/><line x1="269.8" y1="326" x2="269.8" y2="323.4" stroke="#000" stroke-width="1.6"/><line x1="353.8" y1="326" x2="353.8" y2="323.4" stroke="#000" stroke-width="1.6"/><line x1="437.7" y1="326" x2="437.7" y2="323.4" stroke="#000" stroke-width="1.6"/><line x1="312.4" y1="326" x2="312.4" y2="324.7" stroke="#000" stroke-width="1.2"/><line x1="395.7" y1="326" x2="395.7" y2="324.7" stroke="#000" stroke-width="1.2"/><line x1="472" y1="180.4" x2="474.6" y2="180.4" stroke="#000" stroke-width="1.6"/><line x1="472" y1="266.2" x2="474.6" y2="266.2" stroke="#000" stroke-width="1.6"/><line x1="513.8" y1="326" x2="513.8" y2="323.4" stroke="#000" stroke-width="1.6"/><line x1="599.8" y1="326" x2="599.8" y2="323.4" stroke="#000" stroke-width="1.6"/><line x1="556.8" y1="326" x2="556.8" y2="324.7" stroke="#000" stroke-width="1.2"/><line x1="642.8" y1="326" x2="642.8" y2="324.7" stroke="#000" stroke-width="1.2"/><line x1="46" y1="354.1" x2="48.6" y2="354.1" stroke="#000" stroke-width="1.6"/><line x1="46" y1="388" x2="48.6" y2="388" stroke="#000" stroke-width="1.6"/><line x1="46" y1="421.9" x2="48.6" y2="421.9" stroke="#000" stroke-width="1.6"/><line x1="46" y1="455.8" x2="48.6" y2="455.8" stroke="#000" stroke-width="1.6"/><line x1="71.5" y1="489" x2="71.5" y2="486.4" stroke="#000" stroke-width="1.6"/><line x1="124.6" y1="489" x2="124.6" y2="486.4" stroke="#000" stroke-width="1.6"/><line x1="177.75" y1="489" x2="177.75" y2="486.4" stroke="#000" stroke-width="1.6"/><line x1="230.9" y1="489" x2="230.9" y2="486.4" stroke="#000" stroke-width="1.6"/><line x1="98" y1="489" x2="98" y2="487.7" stroke="#000" stroke-width="1.2"/><line x1="151.2" y1="489" x2="151.2" y2="487.7" stroke="#000" stroke-width="1.2"/><line x1="204.3" y1="489" x2="204.3" y2="487.7" stroke="#000" stroke-width="1.2"/><line x1="259" y1="367.5" x2="261.6" y2="367.5" stroke="#000" stroke-width="1.6"/><line x1="259" y1="469.4" x2="261.6" y2="469.4" stroke="#000" stroke-width="1.6"/><line x1="259" y1="418.5" x2="260.3" y2="418.5" stroke="#000" stroke-width="1.2"/><line x1="316.4" y1="489" x2="316.4" y2="486.4" stroke="#000" stroke-width="1.6"/><line x1="378.1" y1="489" x2="378.1" y2="486.4" stroke="#000" stroke-width="1.6"/><line x1="439.8" y1="489" x2="439.8" y2="486.4" stroke="#000" stroke-width="1.6"/><line x1="347" y1="489" x2="347" y2="487.7" stroke="#000" stroke-width="1.2"/><line x1="409" y1="489" x2="409" y2="487.7" stroke="#000" stroke-width="1.2"/><line x1="472" y1="359.5" x2="474.6" y2="359.5" stroke="#000" stroke-width="1.6"/><line x1="472" y1="424.2" x2="474.6" y2="424.2" stroke="#000" stroke-width="1.6"/><line x1="472" y1="392" x2="473.3" y2="392" stroke="#000" stroke-width="1.2"/><line x1="472" y1="457" x2="473.3" y2="457" stroke="#000" stroke-width="1.2"/><line x1="494.5" y1="491" x2="494.5" y2="493.6" stroke="#000" stroke-width="1.6"/><line x1="553.6" y1="491" x2="553.6" y2="493.6" stroke="#000" stroke-width="1.6"/><line x1="613" y1="491" x2="613" y2="493.6" stroke="#000" stroke-width="1.6"/><line x1="672" y1="491" x2="672" y2="493.6" stroke="#000" stroke-width="1.6"/><line x1="524" y1="491" x2="524" y2="492.3" stroke="#000" stroke-width="1.2"/><line x1="583.3" y1="491" x2="583.3" y2="492.3" stroke="#000" stroke-width="1.2"/><line x1="642.5" y1="491" x2="642.5" y2="492.3" stroke="#000" stroke-width="1.2"/><line x1="494.5" y1="326" x2="494.5" y2="323.4" stroke="#000" stroke-width="1.6"/><line x1="553.6" y1="326" x2="553.6" y2="323.4" stroke="#000" stroke-width="1.6"/><line x1="613" y1="326" x2="613" y2="323.4" stroke="#000" stroke-width="1.6"/><line x1="672" y1="326" x2="672" y2="323.4" stroke="#000" stroke-width="1.6"/><line x1="524" y1="326" x2="524" y2="324.7" stroke="#000" stroke-width="1.2"/><line x1="583.3" y1="326" x2="583.3" y2="324.7" stroke="#000" stroke-width="1.2"/><line x1="642.5" y1="326" x2="642.5" y2="324.7" stroke="#000" stroke-width="1.2"/><line x1="45" y1="0" x2="45" y2="491" stroke="#000" stroke-width="2"/><line x1="258" y1="0" x2="258" y2="491" stroke="#000" stroke-width="2"/><line x1="471" y1="0" x2="471" y2="491" stroke="#000" stroke-width="2"/><line x1="684" y1="0" x2="684" y2="491" stroke="#000" stroke-width="2"/><line x1="44" y1="1" x2="685" y2="1" stroke="#000" stroke-width="2"/><line x1="44" y1="164" x2="685" y2="164" stroke="#000" stroke-width="2"/><line x1="44" y1="327" x2="685" y2="327" stroke="#000" stroke-width="2"/><line x1="44" y1="490" x2="685" y2="490" stroke="#000" stroke-width="2"/><defs><filter id="nf" x="0" y="0" width="685" height="521" filterUnits="userSpaceOnUse"><feOffset dx="0" dy="0"/></filter></defs><g filter="url(#nf)"><text x="626.9" y="79.8" text-anchor="start" font-size="10" font-weight="normal" fill="#1a1a1a">HEC</text><text x="626.9" y="95.1" text-anchor="start" font-size="10" font-weight="normal" fill="#1a1a1a">IC</text><text x="631.8" y="246" text-anchor="start" font-size="10" font-weight="normal" fill="#1a1a1a">HEC</text><text x="631.8" y="260.8" text-anchor="start" font-size="10" font-weight="normal" fill="#1a1a1a">IC</text><text x="628.3" y="444.7" text-anchor="start" font-size="10" font-weight="normal" fill="#1a1a1a">HEC</text><text x="628.3" y="459.9" text-anchor="start" font-size="10" font-weight="normal" fill="#1a1a1a">IC</text><text x="39.8" y="25.6" text-anchor="end" font-size="10" font-weight="bold" fill="#000">0.58</text><text x="39.8" y="47.5" text-anchor="end" font-size="10" font-weight="bold" fill="#000">0.56</text><text x="39.8" y="69.3" text-anchor="end" font-size="10" font-weight="bold" fill="#000">0.54</text><text x="39.8" y="91.1" text-anchor="end" font-size="10" font-weight="bold" fill="#000">0.52</text><text x="39.8" y="113" text-anchor="end" font-size="10" font-weight="bold" fill="#000">0.50</text><text x="39.8" y="134.8" text-anchor="end" font-size="10" font-weight="bold" fill="#000">0.48</text><text x="39.8" y="156.6" text-anchor="end" font-size="10" font-weight="bold" fill="#000">0.46</text><text x="98.4" y="159.8" text-anchor="middle" font-size="10" font-weight="bold" fill="#000">0.465</text><text x="151.5" y="159.8" text-anchor="middle" font-size="10" font-weight="bold" fill="#000">0.470</text><text x="204.9" y="159.8" text-anchor="middle" font-size="10" font-weight="bold" fill="#000">0.475</text><text x="264.8" y="72.6" text-anchor="start" font-size="10" font-weight="bold" fill="#000">0.88</text><text x="264.8" y="149.9" text-anchor="start" font-size="10" font-weight="bold" fill="#000">0.80</text><text x="344.4" y="157.3" text-anchor="middle" font-size="10" font-weight="bold" fill="#000">0.81</text><text x="441.5" y="157.3" text-anchor="middle" font-size="10" font-weight="bold" fill="#000">0.82</text><text x="478.6" y="24" text-anchor="start" font-size="10" font-weight="bold" fill="#000">1.05</text><text x="478.6" y="71.2" text-anchor="start" font-size="10" font-weight="bold" fill="#000">1.00</text><text x="478.6" y="120" text-anchor="start" font-size="10" font-weight="bold" fill="#000">0.95</text><text x="490.4" y="157.35" text-anchor="middle" font-size="10" font-weight="bold" fill="#000">0.92</text><text x="555.2" y="157.35" text-anchor="middle" font-size="10" font-weight="bold" fill="#000">0.93</text><text x="620.2" y="157.35" text-anchor="middle" font-size="10" font-weight="bold" fill="#000">0.94</text><text x="39.8" y="191" text-anchor="end" font-size="10" font-weight="bold" fill="#000">0.85</text><text x="39.8" y="219.8" text-anchor="end" font-size="10" font-weight="bold" fill="#000">0.80</text><text x="39.8" y="248.8" text-anchor="end" font-size="10" font-weight="bold" fill="#000">0.75</text><text x="39.8" y="278" text-anchor="end" font-size="10" font-weight="bold" fill="#000">0.70</text><text x="39.8" y="307.4" text-anchor="end" font-size="10" font-weight="bold" fill="#000">0.65</text><text x="111.9" y="320.1" text-anchor="middle" font-size="10" font-weight="bold" fill="#000">0.65</text><text x="208.3" y="320.1" text-anchor="middle" font-size="10" font-weight="bold" fill="#000">0.66</text><text x="265.6" y="195.3" text-anchor="start" font-size="10" font-weight="bold" fill="#000">1.00</text><text x="265.6" y="262.9" text-anchor="start" font-size="10" font-weight="bold" fill="#000">0.95</text><text x="270.2" y="320.1" text-anchor="middle" font-size="10" font-weight="bold" fill="#000">0.92</text><text x="354.4" y="320.1" text-anchor="middle" font-size="10" font-weight="bold" fill="#000">0.93</text><text x="437.9" y="320.1" text-anchor="middle" font-size="10" font-weight="bold" fill="#000">0.94</text><text x="478.6" y="184" text-anchor="start" font-size="10" font-weight="bold" fill="#000">1.05</text><text x="478.6" y="269.8" text-anchor="start" font-size="10" font-weight="bold" fill="#000">1.00</text><text x="514.5" y="320.1" text-anchor="middle" font-size="10" font-weight="bold" fill="#000">0.980</text><text x="599.5" y="320.1" text-anchor="middle" font-size="10" font-weight="bold" fill="#000">0.985</text><text x="39.8" y="357.7" text-anchor="end" font-size="10" font-weight="bold" fill="#000">0.45</text><text x="39.8" y="391.6" text-anchor="end" font-size="10" font-weight="bold" fill="#000">0.40</text><text x="39.8" y="425.5" text-anchor="end" font-size="10" font-weight="bold" fill="#000">0.35</text><text x="39.8" y="459.4" text-anchor="end" font-size="10" font-weight="bold" fill="#000">0.30</text><text x="39.8" y="493.3" text-anchor="end" font-size="10" font-weight="bold" fill="#000">0.25</text><text x="71.6" y="503.1" text-anchor="middle" font-size="10" font-weight="bold" fill="#000">0.30</text><text x="124.5" y="503.1" text-anchor="middle" font-size="10" font-weight="bold" fill="#000">0.32</text><text x="177.5" y="503.1" text-anchor="middle" font-size="10" font-weight="bold" fill="#000">0.34</text><text x="230.5" y="503.1" text-anchor="middle" font-size="10" font-weight="bold" fill="#000">0.36</text><text x="265.3" y="371.1" text-anchor="start" font-size="10" font-weight="bold" fill="#000">0.6</text><text x="265.3" y="473" text-anchor="start" font-size="10" font-weight="bold" fill="#000">0.5</text><text x="316.6" y="503.1" text-anchor="middle" font-size="10" font-weight="bold" fill="#000">0.50</text><text x="378.3" y="503.1" text-anchor="middle" font-size="10" font-weight="bold" fill="#000">0.52</text><text x="439.9" y="503.1" text-anchor="middle" font-size="10" font-weight="bold" fill="#000">0.54</text><text x="478.3" y="363.4" text-anchor="start" font-size="10" font-weight="bold" fill="#000">1.0</text><text x="478.3" y="429.2" text-anchor="start" font-size="10" font-weight="bold" fill="#000">0.9</text><text x="494.1" y="503.1" text-anchor="middle" font-size="10" font-weight="bold" fill="#000">0.80</text><text x="553.6" y="503.1" text-anchor="middle" font-size="10" font-weight="bold" fill="#000">0.85</text><text x="612.4" y="503.1" text-anchor="middle" font-size="10" font-weight="bold" fill="#000">0.90</text><text x="672" y="503.1" text-anchor="middle" font-size="10" font-weight="bold" fill="#000">0.95</text><text x="251.3" y="19.9" text-anchor="end" font-size="14.5" font-weight="bold" fill="#000">a</text><text x="463.2" y="19.9" text-anchor="end" font-size="14.5" font-weight="bold" fill="#000">b</text><text x="672.6" y="19.6" text-anchor="end" font-size="14.5" font-weight="bold" fill="#000">c</text><text x="250.8" y="182.8" text-anchor="end" font-size="14.5" font-weight="bold" fill="#000">d</text><text x="462.7" y="183.8" text-anchor="end" font-size="14.5" font-weight="bold" fill="#000">e</text><text x="672.6" y="183.5" text-anchor="end" font-size="14.5" font-weight="bold" fill="#000">f</text><text x="250.8" y="345" text-anchor="end" font-size="14.5" font-weight="bold" fill="#000">g</text><text x="462.4" y="345.6" text-anchor="end" font-size="14.5" font-weight="bold" fill="#000">h</text><text x="674.1" y="344.9" text-anchor="end" font-size="14.5" font-weight="bold" fill="#000">i</text><text x="145.1" y="21.9" text-anchor="start" font-size="10" font-weight="bold" fill="#0000ff">0 bar</text><text x="144.5" y="181.8" text-anchor="start" font-size="10" font-weight="bold" fill="#1b8f1b">0.62 bar</text><text x="146.9" y="344.9" text-anchor="start" font-size="10" font-weight="bold" fill="#ff1a1a">22 bar</text><text x="363.6" y="517.6" text-anchor="middle" font-size="10" font-weight="bold"><tspan font-style="italic">T</tspan>/<tspan font-style="italic">T</tspan><tspan font-size="7" dy="3.3">c</tspan></text><text transform="translate(10.3,243.8) rotate(-90)" text-anchor="middle" font-size="11.2" font-weight="bold"><tspan font-style="italic">T</tspan><tspan font-size="6.4" dy="-5">IC</tspan><tspan dy="5" dx="0.4">/</tspan><tspan font-style="italic">T</tspan><tspan font-size="6.6" dy="2.6">c</tspan><tspan dy="-2.6" dx="2.6" font-size="10.1">(offset),</tspan><tspan dx="3.6" font-style="italic">T</tspan><tspan font-size="6.4" dy="-5">HEC</tspan><tspan dy="5" dx="0.4">/</tspan><tspan font-style="italic">T</tspan><tspan font-size="6.6" dy="2.6">c</tspan></text></g></svg></body></html>
